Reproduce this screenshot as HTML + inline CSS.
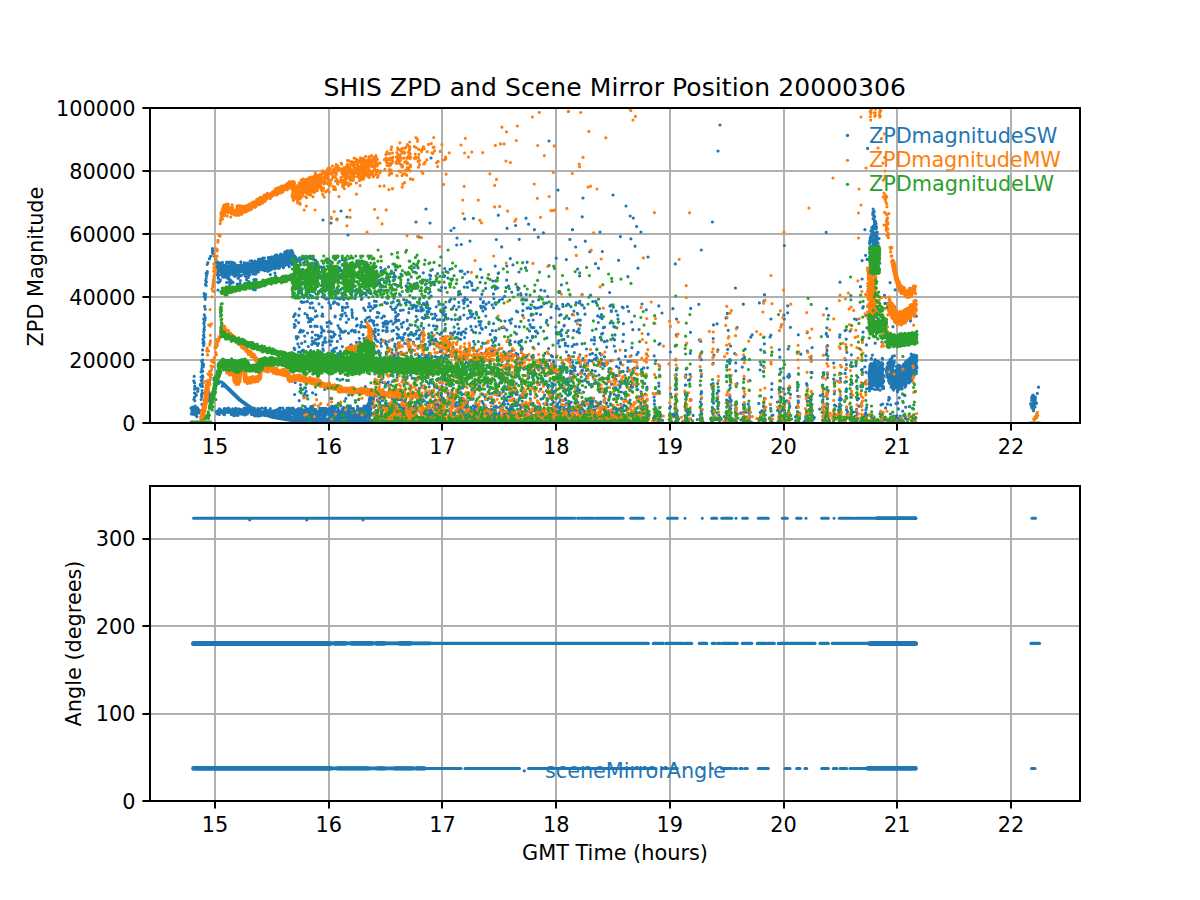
<!DOCTYPE html>
<html lang="en"><head><meta charset="utf-8"><title>SHIS ZPD and Scene Mirror Position 20000306</title><style>html,body{margin:0;padding:0;background:#fff}svg{display:block}</style></head><body>
<svg width="1200" height="900" viewBox="0 0 1200 900">
<style>.t{font-family:'DejaVu Sans','Liberation Sans',sans-serif;font-size:20.83px;fill:#000}.l{font-family:'DejaVu Sans','Liberation Sans',sans-serif;font-size:20.83px}.ti{font-family:'DejaVu Sans','Liberation Sans',sans-serif;font-size:25px;fill:#000}</style>
<defs><clipPath id="ct"><rect x="150.0" y="108.0" width="930.0" height="315.0"/></clipPath><clipPath id="cb"><rect x="150.0" y="486.0" width="930.0" height="315.0"/></clipPath></defs>
<rect width="1200" height="900" fill="#fff"/>
<line x1="215.00" y1="108.0" x2="215.00" y2="423.0" stroke="#b0b0b0" stroke-width="2"/>
<line x1="329.00" y1="108.0" x2="329.00" y2="423.0" stroke="#b0b0b0" stroke-width="2"/>
<line x1="442.00" y1="108.0" x2="442.00" y2="423.0" stroke="#b0b0b0" stroke-width="2"/>
<line x1="556.00" y1="108.0" x2="556.00" y2="423.0" stroke="#b0b0b0" stroke-width="2"/>
<line x1="670.00" y1="108.0" x2="670.00" y2="423.0" stroke="#b0b0b0" stroke-width="2"/>
<line x1="784.00" y1="108.0" x2="784.00" y2="423.0" stroke="#b0b0b0" stroke-width="2"/>
<line x1="897.00" y1="108.0" x2="897.00" y2="423.0" stroke="#b0b0b0" stroke-width="2"/>
<line x1="1011.00" y1="108.0" x2="1011.00" y2="423.0" stroke="#b0b0b0" stroke-width="2"/>
<line x1="150.0" y1="423.00" x2="1080.0" y2="423.00" stroke="#b0b0b0" stroke-width="2"/>
<line x1="150.0" y1="360.00" x2="1080.0" y2="360.00" stroke="#b0b0b0" stroke-width="2"/>
<line x1="150.0" y1="297.00" x2="1080.0" y2="297.00" stroke="#b0b0b0" stroke-width="2"/>
<line x1="150.0" y1="234.00" x2="1080.0" y2="234.00" stroke="#b0b0b0" stroke-width="2"/>
<line x1="150.0" y1="171.00" x2="1080.0" y2="171.00" stroke="#b0b0b0" stroke-width="2"/>
<line x1="150.0" y1="108.00" x2="1080.0" y2="108.00" stroke="#b0b0b0" stroke-width="2"/>
<g clip-path="url(#ct)" fill="none" stroke-linecap="round" stroke-linejoin="round">
<path d="M198.1 409.5h0M195.4 409.2h0M192.6 414.2h0M194.7 410.5h0M192.8 412h0M192 411h0M195.5 408.1h0M194.9 410.3h0M193.3 411.7h0M196.3 410.7h0M194.4 409.3h0M197.2 411.6h0M197.3 408.9h0M195.7 411.7h0M193.5 411.2h0M195.4 411.4h0M190.9 408h0M197.4 412.3h0M194.8 409.8h0M196.4 411.5h0M193.9 408.4h0M193.3 409.8h0M198.2 409.2h0M197.6 408.1h0M192.6 414.2h0M194.5 410.6h0M198 411.4h0M200.1 410.6h0M195.5 415h0M196.6 411.2h0M191.7 408.9h0M194.8 412.4h0M195.9 412h0M195.1 412.5h0M197.1 408.8h0M196.9 409.2h0M196.2 412.6h0M195.2 406.2h0M198 410.8h0M194.4 408.7h0M196.9 416.7h0M193.5 410.9h0M197.5 411.3h0M197.2 412.1h0M197.5 407.8h0M194 411.2h0M198 411h0M199 412.8h0M196.7 413.1h0M194.5 414.3h0M192.6 411.8h0M191.4 413.9h0M194.4 408.3h0M196.8 413.7h0M194 407.1h0M193.2 412.8h0M192.5 407.2h0M197 408.2h0M193.4 411.7h0M194.9 407.6h0M196.2 409.4h0M195.8 409.9h0M197.5 411.9h0M194.7 410.8h0M193.1 409.9h0M195.7 409.7h0M196.9 411.1h0M192.9 407.7h0M196.8 408.8h0M196.7 410.1h0M207.4 272.1h0M206.5 275.9h0M204.7 306.4h0M205.2 317.6h0M204 343.7h0M202.2 367.3h0M206.1 273.4h0M205.2 309.2h0M200.2 384.7h0M201.7 360.8h0M204.3 314.9h0M203 343.1h0M205.2 299.2h0M203.6 335.6h0M215.7 258.8h0M212.5 250.2h0M213.9 255.8h0M213.2 253.9h0M217.1 261.8h0M204.8 296.3h0M205 320h0M196.3 395.3h0M203.9 341.9h0M195.9 394.1h0M197.7 391.3h0M203 363.6h0M204 329.1h0M204.4 296.6h0M202.3 380.1h0M204.1 337.2h0M203.3 340.5h0M206.4 282h0M207 274.3h0M202.1 379.7h0M209.5 258.7h0M197.4 388.3h0M202.6 349.9h0M197.9 391.2h0M203.7 319.2h0M206.1 285.5h0M205.8 280.7h0M207.3 271.7h0M203.3 364.2h0M200.9 386.2h0M212.7 250.9h0M207.9 262.6h0M203.8 334.7h0M202.3 365h0M198 388.9h0M205.5 297.4h0M202.7 360h0M203.2 366.9h0M202.8 371.3h0M216.1 260.7h0M204.4 326.6h0M212.4 252.4h0M205.5 284.2h0M202.5 354.6h0M210.6 256.3h0M212.5 248.5h0M206.1 278.5h0M203.7 345.6h0M207.2 264.3h0M204.1 322.4h0M202.9 339.4h0M204.1 293.7h0M203.9 323.8h0M216.4 262.8h0M201.2 380.6h0M203.6 364.9h0M201.2 371.5h0M205.6 294.4h0M203.8 331.7h0M204.4 329.8h0M203.7 345.5h0M201.9 368.9h0M202.2 362.9h0M202.2 365.6h0M201.5 394.7h0M201.1 377h0M202.2 383h0M202 404.4h0M201.9 393.5h0M202.1 390.5h0M202.2 377.3h0M202.5 375.7h0M201.7 396.7h0M202 384.7h0M202.5 386.5h0M201.1 372h0M201.2 399.5h0M202.5 393.1h0M202.9 377.1h0M193.8 380.9h0M194.5 382.7h0M194.7 388.6h0M194.8 400.6h0M194.5 397.2h0M193.9 399.2h0M194.2 376.3h0M194.6 389.2h0M194.4 393h0M194.8 386.2h0" stroke="#1f77b4" stroke-width="3.2"/>
<path d="M222 269.5L250 268L293 258.5" stroke="#1f77b4" stroke-width="9"/>
<path d="M286.6 263.9h0M284.6 261.6h0M271.2 269.7h0M219.3 263.4h0M279.4 265.2h0M253.7 271.1h0M222 274.1h0M264.6 264h0M235.4 275h0M281.9 264.5h0M281.9 262h0M219.9 272h0M283.7 265.5h0M253.6 270.2h0M277 260.1h0M248.3 269h0M254.6 269.5h0M220.4 263.9h0M221.3 274.6h0M223.8 269.1h0M265.3 268h0M267.6 269.3h0M232.3 267.4h0M239.8 276.1h0M275.4 265.5h0M218.4 268.6h0M252.4 271.4h0M274.6 268.8h0M267.2 265h0M277.6 262.3h0M235.5 276.1h0M250.2 265.9h0M280.2 259.7h0M266.6 268.5h0M258.1 268.1h0M251.3 264.4h0M238.2 274.7h0M268.1 267.4h0M279 265.5h0M250.8 271.9h0M242.7 268.5h0M244.7 262.9h0M276.6 254.9h0M236.1 265.3h0M267.1 264.9h0M229.7 263.5h0M270.3 264.8h0M238.7 274.7h0M248.1 268.1h0M261.1 269.8h0M246.1 270.5h0M251.5 269.1h0M273.4 263.9h0M286.1 257.6h0M241.2 264.7h0M254.7 266.9h0M230.3 274.3h0M251.4 269.2h0M276.6 261.6h0M260.7 260.2h0M252 269.4h0M233.7 274.7h0M291.5 257.4h0M239.8 270.5h0M252.6 269.5h0M248.7 265h0M227.5 272.9h0M279.3 268.2h0M275.5 258.1h0M277.6 259.7h0M220.2 263.6h0M257.5 262.2h0M251.9 260.9h0M282.1 258.7h0M238.9 271.2h0M272.4 261.9h0M256.8 270.5h0M273.5 259.4h0M268.3 257.7h0M289.8 259.4h0M278.6 263.3h0M224.3 276.8h0M273.6 257.6h0M238.1 270.3h0M285.3 257.1h0M233 263.7h0M226 275.4h0M234 263.5h0M241.6 269h0M244.6 266h0M225.8 268.3h0M260.1 269h0M228 262.3h0M293 261.6h0M225.1 275.3h0M267.7 271.3h0M259.4 260.4h0M220.1 268.5h0M252.7 273.8h0M281 265.3h0M232.6 262.7h0M258.4 259.4h0M240.7 266.8h0M228.9 270h0M284.8 265.7h0M259.1 267.5h0M264.3 265.7h0M279.5 258.9h0M278.4 264.7h0M278.4 263.7h0M234.4 275.5h0M221.2 267.8h0M235.8 268.1h0M244 273.7h0M247.5 266.6h0M247.6 271.4h0M288 264.5h0M217.2 269.5h0M229.8 270.2h0M247.1 270.2h0M273.7 260.5h0M234 267.4h0M224.5 269.8h0M246.9 273.5h0M278.1 260.4h0M223.5 265.3h0M237.5 274.8h0M253 262.1h0M254.3 271.3h0M276.5 256.4h0M232.2 266h0M222.3 268.3h0M272.6 263h0M232 262.3h0M250.7 265.2h0M232.6 270.1h0M281.7 255.6h0M255 261.2h0M281.9 263.1h0M226.5 263h0M281.6 256.5h0M288.5 262.2h0M245.7 264.1h0M257.2 270.4h0M222.9 273.8h0M255.1 263.6h0M283.4 267.7h0M220.2 267.7h0M228.7 269.1h0M249.9 268.7h0M228 275.7h0M229 266.9h0M257 271.5h0M287.7 260.7h0M224.1 267.8h0M245.8 272.5h0M219.8 265.2h0M262.4 267.3h0M263 259.6h0M240.4 271.9h0M226.4 267.2h0M287.5 257.2h0M227.9 269.6h0M264.4 258.1h0M271.9 257.3h0M273.2 267.9h0M247.7 267.6h0M280.5 259.2h0M288.1 254.1h0M269 270.7h0M256.2 265.6h0M219.1 266.8h0M274.9 255.5h0M284.2 260.9h0M280.7 254h0M277.1 256h0M260 259.2h0M268.9 267.4h0M234.4 276.1h0M288.6 258.3h0M236.1 267h0M278.8 264.5h0M220.5 264.7h0M268.4 266.8h0M217.8 270.2h0M224.4 270.5h0M253.7 269.4h0M247.5 263.2h0M261.5 269.1h0M262.6 268.4h0M268.7 268h0M288.1 256.6h0M277.5 268.2h0M248.6 266.7h0M291.8 264.4h0M283 262.6h0M272.3 257.7h0M270.2 258.4h0M230.9 267.4h0M267.4 268.8h0M289.2 262.1h0M218.4 262.6h0M227.8 271.8h0M232.3 268.8h0M223.8 276h0M257 270.7h0M283.6 265.9h0M248.3 274.5h0M261.7 266.4h0M258.6 269.5h0M281.5 255.6h0M260.3 268.1h0M226.7 262h0M232.1 267.3h0M270.9 261.6h0M265 269h0M262.2 268h0M290.4 261.1h0M250.1 261.2h0M249.9 265.8h0M288 257.5h0M282.7 261.8h0M282.5 258.8h0M222.4 269.4h0M233.7 265.4h0M276.9 265.5h0M255.7 263.8h0M269.4 264.8h0M244 268.5h0M222.4 262.4h0M282 260.8h0M238 267.7h0M258.4 265.6h0M217.4 275.1h0M290.1 254.9h0M233.4 264h0M248.8 265.1h0M249.1 273.1h0M272.3 259.7h0M240.3 267.4h0M236.4 266.6h0M249.6 275.1h0M221.9 265.4h0M239.5 271.2h0M245.5 266.3h0M219.2 268.2h0M273.8 260.6h0M222.7 277.1h0M284.5 262.6h0M289.9 260.9h0M245.2 275.8h0M231.8 266.9h0M258.4 272h0M223.6 265h0M257.8 267.6h0M280.5 266.3h0M259.7 265.1h0M268.5 263.9h0M235.7 266.5h0M277.2 259.6h0M292 254h0M217.7 272.7h0M241.6 270.1h0M262.1 268.1h0M244.2 262.8h0M234.8 275.4h0M222.3 263.9h0M258.2 271.5h0M240.8 261.9h0M277.2 258.7h0M268 270.4h0M218.9 275.3h0M234.3 263.2h0M227 269.4h0M292.7 253.1h0M258.3 260.1h0M228.8 262.4h0M230.3 262.1h0M268 265.2h0M220.5 271.1h0M267 265.6h0M226.5 263.8h0M280 255.5h0M277.5 255.8h0M249.1 275.1h0M255.6 273.7h0M220.7 269.8h0M282.6 265.8h0M250.8 270.2h0M230.9 271h0M219.8 265.8h0M253.6 273.3h0M271.8 256.8h0M259.7 267.4h0M255.3 274.2h0M289.2 266.7h0M227.1 273.7h0M221.8 267.9h0M235.5 265.2h0M280.3 265h0M271.3 268.2h0M288.5 264.8h0M265.2 266.9h0M283.3 265h0M247.8 266.1h0M240.5 267.3h0M289.8 259.6h0M241.3 268.8h0M231 264.7h0M273.1 268h0M235.9 274.6h0M219.1 268.4h0M232.7 269.9h0M292.1 252.9h0M250.9 264.6h0M274.3 267.7h0M220.5 263.2h0M280.5 261.1h0M253.3 273.8h0M279.9 262.1h0M275.7 263.9h0M258.8 263.5h0M234.8 263.3h0M225.3 265.9h0M228.7 267.4h0M276.3 267.6h0M269.7 257.6h0M232.9 274.4h0M217.5 265.4h0M250.5 263.8h0M292.5 254.1h0M217.1 266.7h0M267.4 262.8h0M273.9 262.3h0M233 267.3h0M267.4 262.5h0M240.1 269h0M220.9 272.2h0M228.2 271.8h0M291.9 260h0M264 270.2h0M277 263.2h0M263.3 267.1h0M240 267h0M267.7 268.9h0M235.6 275.7h0M222.8 270h0M287.9 259.2h0M262.8 258.2h0M238.2 274.4h0M223.4 272.9h0M262.4 259.2h0M222.1 267.5h0M290.2 253.9h0M255.9 274h0M222.1 267.2h0M292.4 259.3h0M259.2 264.3h0M226 269.1h0M258.3 263.3h0M264.2 261h0M268.5 260.7h0M221.6 268.4h0M257.8 265.3h0M235.6 272.3h0M225.7 267.7h0M225.8 266.6h0M232.2 269.2h0M264.1 266.5h0M226.7 273.9h0M223.7 266.7h0M236.8 267.4h0M260.4 259.8h0M272.7 261.1h0M260.3 259.6h0M230.5 267h0M234 263.1h0M286.1 264.5h0M279.7 260h0M241.4 275.4h0M285.6 259.5h0M292.4 257.6h0M292.9 255.7h0M291.7 251.3h0M289.3 255.7h0M290.9 250.7h0M285.7 258.9h0M289.1 255.5h0M285.3 255.3h0M290.8 253.9h0M287 257.3h0M285.3 256.1h0M292.8 252.5h0M288 258.4h0M283.4 254.6h0M286 259.4h0M289.9 251h0M289.7 255.5h0M284.6 258.4h0M289.3 257.1h0M292.8 253.7h0M291.3 251.8h0M292.7 253.4h0M289.5 255.7h0M291.3 252.7h0M283.5 257.8h0M285.9 253.5h0M292.7 254h0M284.8 260.1h0M284.8 252h0M285.8 260.3h0M287.2 255.1h0M284.7 252.4h0M287.1 259.3h0M291.8 256.8h0M291.8 250.6h0M287.3 251.7h0M284 260.3h0M287.8 250.9h0M286.5 254.3h0M286.7 251.2h0M288.3 254.4h0M290.7 259.5h0M285.7 261h0M286.3 260.6h0M287.7 260.4h0M292.1 255.2h0M285.8 260.6h0M287 254.7h0M288 255.9h0M292.1 254.2h0M292.2 257.6h0M286.3 251.9h0M286.4 252.2h0M291.5 253.2h0M285.7 256.6h0M284.2 258.6h0M290.4 258.3h0M287.5 253.5h0M285.7 253.1h0M238.4 278h0M229.3 279h0M228.2 279h0M218.2 278.2h0M244.7 283.6h0M231.1 280.5h0M248.9 281.6h0M229.7 283.7h0M245.9 276.8h0M246.5 279.8h0M229.2 287.6h0M226.6 282.5h0M236.1 288.1h0M233 282.4h0M240.3 280.5h0M231.4 283.1h0M234.4 276.2h0M228.8 276.3h0M251.3 284.3h0M218 290.1h0M220.4 280.1h0M237.5 285.2h0M222.9 276.9h0M217.8 282.1h0M255.3 287h0M253.1 289.3h0M233.3 287.2h0M218.4 282.6h0M255.8 279.6h0M230.4 282h0M245.9 286h0M226.4 277.4h0M235.4 289.3h0M229.7 286h0M238 278.2h0M219.8 281.4h0M255.3 289.8h0M225.6 288.3h0M247.1 286.7h0M229.5 281.8h0M248.3 277.4h0M237.2 284.2h0M253.9 279.5h0M248.1 283.9h0M240.1 283.4h0M264.8 270.7h0M256.2 279.6h0M282 277.1h0M274.9 273.1h0M270.4 274.5h0M268.6 280h0M270.3 274.6h0M275.5 276h0M287 280.8h0M286.6 280.4h0M272.5 280.1h0M262.4 282h0M285.2 280h0M274.4 279.4h0M311.1 257.6h0M297.3 261.4h0M309.7 256.4h0M299.4 257.9h0M299.9 258.6h0M312.5 258.5h0M317.2 262.1h0M313 257.7h0M303 258.5h0M308 256.8h0M313.3 258.1h0M312.7 258.8h0M294.5 263.4h0M307.6 256.9h0M313.9 259.6h0M295.6 261.5h0M309.3 257.1h0M315 260.5h0M310.4 258.6h0M300.1 260h0M311.8 256.8h0M302 258.2h0M596.1 329.1h0M627.4 306.6h0M338.3 268.9h0M481.4 308h0M486.6 350.1h0M326.2 289.1h0M493.3 342.3h0M312.3 341.3h0M346.9 289.6h0M342.3 346.6h0M322.9 348.8h0M437.1 341.8h0M407.8 344h0M415.8 306.2h0M337.7 353.7h0M324.1 330.9h0M419.6 335.3h0M532.5 336.3h0M458.5 294.8h0M540.9 365.7h0M627.7 371.2h0M307.3 315.1h0M437 326.5h0M388.5 266.9h0M298.8 315.4h0M451.5 351.6h0M429.8 344.9h0M368.5 306.9h0M452.9 347.3h0M299.2 347h0M321.8 328.7h0M498.9 349.2h0M404.2 354.8h0M323.3 350.3h0M497.7 287.9h0M467.6 318.3h0M381.7 279.4h0M475.4 290.1h0M391.9 331.1h0M425 318h0M441.6 350.5h0M472.9 290.1h0M341.4 274.1h0M348.7 319.2h0M454 306h0M357.1 358.1h0M495.9 287h0M349.1 357h0M322.1 307.1h0M570.5 370.9h0M298.6 322.7h0M594.1 344h0M515.7 377.1h0M395.6 319.2h0M475.9 326.6h0M361.4 299.3h0M341.5 275.2h0M374.6 305.6h0M480.3 324.6h0M318.2 273.7h0M471.9 285.5h0M392 352.8h0M542.5 381.3h0M480.5 269.3h0M394.6 295.1h0M331.2 323.5h0M386.6 327.3h0M300 278.2h0M632.8 329.7h0M486.1 304.2h0M540.5 314.5h0M335.2 316.2h0M357.5 277.5h0M601.5 314.7h0M481.2 327.9h0M451.1 299h0M551.1 306.7h0M597.3 382.6h0M364.7 356h0M386.5 330.6h0M625.3 381.5h0M368.3 337h0M312.5 319.4h0M308.3 269.6h0M420.1 360.8h0M483.4 368.2h0M373.8 331.6h0M443.9 320.3h0M441.4 356.3h0M522.5 299.3h0M335 334.4h0M512.2 350.3h0M420.9 311h0M377.7 341.5h0M340.6 338.6h0M435.1 329.6h0M343.9 357.4h0M383 323.1h0M426.8 358.1h0M384.9 302.4h0M429 325.2h0M517.7 312h0M345.9 279.4h0M540.1 297h0M346.2 279.2h0M316.2 294h0M534.1 370.3h0M434.9 314.2h0M471.6 283.1h0M303.4 330.8h0M557 373.6h0M386.4 321.4h0M483.5 301.7h0M375 345.5h0M495.9 338.1h0M381.4 339.8h0M388.8 322h0M375.1 338.7h0M315.2 266h0M397.8 305.1h0M451.6 319.3h0M410.4 340h0M446.2 271.6h0M458.5 332.5h0M474.8 318.1h0M452.6 308.6h0M488.7 367.3h0M341.2 270.6h0M415.6 354.5h0M427.1 311.7h0M340.4 319.1h0M521.2 341.4h0M426.8 317.4h0M531.4 384.6h0M467.8 272h0M604.6 365.8h0M538.7 299.8h0M388.1 298.1h0M317.3 297.4h0M334.8 302.2h0M334.9 281.5h0M517.3 364h0M564.3 388.9h0M638.1 352.4h0M430.1 340.8h0M336 298.1h0M299.5 284.6h0M443.7 308.5h0M616.1 311h0M410 302.5h0M597.7 315.9h0M494.7 337.7h0M463.8 303.4h0M300.5 352.1h0M613 338.5h0M477 351.1h0M458.9 306.8h0M548.8 385h0M637.3 367.8h0M445.7 343.8h0M305 313.5h0M571 388.9h0M341.9 297.7h0M507 366.6h0M375.2 329.2h0M550.8 373.6h0M540.9 290.1h0M325.1 337.8h0M397.6 362.6h0M355 286h0M483.5 306.5h0M365.1 346.5h0M331.6 337.5h0M475.4 373.9h0M394.4 275.7h0M408.6 339.3h0M325.3 291.2h0M354.1 355.8h0M310.7 350.7h0M458 362h0M510.8 344.4h0M520.7 293.6h0M431.2 296.1h0M485.6 288.4h0M350.6 345h0M294.9 349.3h0M574.1 344.5h0M413.2 297.9h0M461 334h0M419.3 329.8h0M453.6 369.5h0M482.3 329.2h0M379.5 283h0M525.5 300.1h0M348.5 333.2h0M400.1 285.7h0M509.6 320.4h0M311.6 273.5h0M340.7 354.8h0M477.4 368h0M474.9 368.4h0M491.1 351.2h0M304.7 336h0M535.5 331.3h0M393.6 273h0M457.8 366.4h0M577.8 374.6h0M380.5 284.5h0M311.8 297.6h0M458.8 302.3h0M421.1 363.1h0M344.4 272.3h0M429.6 282.5h0M396 307.6h0M296.3 273.7h0M495.9 375.9h0M329.5 340.8h0M294.5 315.1h0M439.9 319.6h0M472 361.2h0M337.5 303.7h0M296.2 336.7h0M424.9 304.7h0M495.9 375.4h0M330.1 356.7h0M385.7 343.3h0M383.6 316h0M495.8 304.3h0M386 330.7h0M384.6 357.3h0M588.8 374.3h0M416.8 338.8h0M330.5 305.3h0M360 273.4h0M297.9 343.9h0M389.1 359h0M466 329h0M365.3 320h0M508.2 360.3h0M590.6 295.2h0M305.6 352.1h0M458.7 328.5h0M621.3 392h0M408.8 312.7h0M397.6 354.3h0M466.5 351.7h0M369.1 335.5h0M532.5 337.6h0M416.6 331.1h0M377.4 312.4h0M483.4 368.3h0M413.4 342h0M331.9 350.8h0M445.7 314.5h0M352.5 317.3h0M631 355.8h0M390.8 306.8h0M471.8 329.9h0M601.6 334.1h0M400.1 346.2h0M488.9 323.8h0M598.9 390.7h0M504.5 296.4h0M425.3 344.4h0M368 342.8h0M391.2 321.1h0M375.3 306.7h0M523.1 303.9h0M559 309h0M468.9 369.5h0M505 321.1h0M293.7 316.6h0M511.9 376.6h0M373.8 333.9h0M372.7 308.3h0M467.3 299.6h0M307.7 271.7h0M542.3 379h0M489.8 373.2h0M397 334.1h0M311.8 344.5h0M350.8 356.6h0M407.2 287.4h0M483.8 357.2h0M473.7 341.4h0M395.1 355h0M339.1 328h0M511.8 319.1h0M464.9 297.7h0M467.2 356.5h0M639 396.9h0M412.3 308.6h0M396.7 327.3h0M395.8 316.7h0M495.4 340.2h0M526.7 299.8h0M482.6 371h0M383.2 271.2h0M490.2 334.4h0M374.4 279.6h0M335.7 295.7h0M321.9 316h0M400.3 295.2h0M330.7 331.5h0M501.5 379.5h0M306.8 296.1h0M532.7 327.6h0M408.3 301.9h0M342.8 264.6h0M295.3 325.9h0M414 305h0M543.1 379.7h0M409.8 334.3h0M443 337h0M401.3 323.9h0M351.7 295.3h0M547.7 296.5h0M413.1 306.8h0M445.8 355.6h0M356.5 326h0M370.8 337.8h0M392.7 339.1h0M467.5 287.3h0M449.6 301.6h0M425.7 355.4h0M298.3 281.8h0M510.9 323.2h0M495.9 330.6h0M398.1 320.7h0M326 342.2h0M443.2 276.5h0M356 349.3h0M378.5 275.5h0M443.6 320h0M519.1 341.7h0M585 314.2h0M370.4 353h0M293.1 294.2h0M422.9 331.9h0M294.7 349.6h0M510.1 340.7h0M534.3 307.3h0M345 313h0M374.2 325.2h0M370 334.8h0M579.5 332.8h0M348.2 267.1h0M318.2 338.7h0M517.6 368.3h0M530.5 340.8h0M398.6 342.9h0M469.7 281.5h0M474 362.6h0M319 303.9h0M548.5 373.7h0M370.4 310.6h0M531.1 327.2h0M373.8 321h0M428.9 311.6h0M413.2 287.2h0M498.6 319.6h0M331.6 270.9h0M395 354.9h0M322.7 345.1h0M408.7 346.4h0M445.5 307.4h0M432.3 269.6h0M380.8 272.3h0M456.5 309.6h0M432.8 282.3h0M569.5 359.9h0M388.7 341.6h0M310.4 326.4h0M327 322.7h0M351.7 298h0M329.5 341.4h0M407.4 329.2h0M623.2 307.8h0M492.5 367.5h0M336.7 356.3h0M395.7 358.4h0M463 300.3h0M307.8 317.7h0M361.7 322h0M294.3 324.3h0M340.2 329.3h0M298.5 352.1h0M368.4 358.3h0M470.6 302.2h0M386.2 278h0M317.6 345.5h0M351.2 331h0M412.6 350.2h0M602.9 363.5h0M391.9 349.7h0M432.1 337.6h0M601.5 340h0M521.5 340.3h0M297.9 277.9h0M393.6 360.3h0M544.1 303.8h0M363.9 338.5h0M473.8 362.3h0M332.4 274.9h0M444.5 275.9h0M572.2 387.4h0M332.5 284.9h0M464.7 274h0M395.7 269.9h0M328 276.6h0M316.9 352.6h0M411.3 291.1h0M485.8 327.3h0M430.7 275.9h0M490.8 361.1h0M304.2 302h0M501.7 327.6h0M579.9 382h0M330.9 297.2h0M308.3 346.5h0M574.5 369.7h0M516.5 311.2h0M352.3 330.1h0M383.9 270.3h0M533.9 327.6h0M470.3 313.3h0M315.2 279h0M530.6 308.7h0M439.2 347.4h0M521.3 350.1h0M403.5 322.3h0M432.8 318.7h0M448.2 343.1h0M482.9 311h0M433.5 325.8h0M606.7 347.1h0M404.7 343.4h0M504.2 367.3h0M493.9 370.7h0M433.3 363h0M312 279.3h0M372.7 268.4h0M568.7 355.7h0M413.6 343.7h0M392.5 309.3h0M339.6 335.6h0M416.1 307.4h0M492.1 304.8h0M460.6 294h0M409.2 308.6h0M538.1 378.4h0M636.7 374h0M479.8 333h0M422.2 281.8h0M366 341.6h0M427.8 357.8h0M342.1 314.7h0M315.5 289.1h0M321.3 336.1h0M442.5 364.8h0M373.9 278h0M492.5 372.2h0M334.5 351.6h0M398.2 285.8h0M378.4 334.4h0M338.5 282h0M313.7 342h0M606 390.7h0M380.3 353.2h0M571.8 378.3h0M328.8 287h0M492.6 345.8h0M363.8 326.7h0M441.7 364.7h0M403.7 299.6h0M318.1 266.9h0M316 284.7h0M429 336.2h0M556.2 308.2h0M299.8 264.5h0M453.2 333.3h0M405.5 302.9h0M313.5 343.2h0M425.4 291.7h0M298.4 291.9h0M479.5 325h0M423.3 272.8h0M594.3 337.3h0M395.5 312.3h0M416.9 283.1h0M416.3 310.5h0M369.6 320.8h0M495.8 287.4h0M310.9 326.4h0M314 270.3h0M407.2 320.2h0M330.7 308.2h0M480.1 282.3h0M414.3 365.1h0M408 273.3h0M387.4 330.9h0M383.3 294.1h0M546.9 337.9h0M614.3 394.4h0M421.9 283.1h0M378.9 313.1h0M421.3 311h0M542 368.4h0M424.5 347.4h0M459.1 339h0M304.8 276.1h0M359.3 338.3h0M386.7 303.5h0M312 337.8h0M444.2 361.5h0M577.8 380.1h0M493.5 293.9h0M307.1 301.6h0M611 360.8h0M362.5 348.5h0M458.1 367.5h0M366.8 337.8h0M481.9 277.6h0M352.9 286.8h0M495.4 289.1h0M353.4 271.3h0M608.7 371.5h0M366.1 349.7h0M393.1 323.9h0M315.5 335h0M329.5 276.1h0M615 334.9h0M330.4 344.9h0M370.3 283.5h0M447.9 278.1h0M435.5 339.1h0M537.6 307.9h0M378.7 280h0M361 325.4h0M447.9 350.3h0M407.8 357.3h0M302.6 279.1h0M632.7 387h0M533.1 320h0M374.3 284.8h0M464.6 337.6h0M436.3 326.1h0M452.5 279h0M421.2 325.9h0M517.4 287.2h0M544.7 290.9h0M371.3 320.2h0M426.8 287.8h0M305 341.6h0M476.7 314.5h0M410 324.9h0M563.5 377.6h0M566.4 351.9h0M376.9 294.9h0M519.3 326.8h0M333.2 282.2h0M522.7 315.3h0M491.2 368.9h0M315.7 280.6h0M423.4 310.1h0M436.5 357h0M430.7 296.3h0M379.3 353.6h0M398.9 320.3h0M399.8 365.8h0M528.3 307.8h0M552 383.3h0M330.6 355.1h0M338 325.5h0M439 369.5h0M424 318.6h0M572.4 314.6h0M372.6 271.1h0M339.1 290.6h0M355.2 330.7h0M418.2 347.9h0M437.3 343.8h0M565.3 343.2h0M334.8 274.3h0M566.9 367.7h0M317.4 281.1h0M557 306.2h0M532.5 376.3h0M302.9 270h0M425.3 315h0M322.5 284.9h0M377.8 282.5h0M457.3 337.9h0M459.8 373.7h0M481.6 346.7h0M472.6 348.3h0M460.7 339.3h0M351.8 309.8h0M509.5 351.7h0M319.7 337.2h0M303.3 350h0M315.5 339.7h0M310.3 295.3h0M536.5 313.6h0M366.8 265.9h0M382 361h0M528.7 320.3h0M375.9 276.3h0M365 350.5h0M492.3 330.7h0M383.3 326.4h0M320.6 266.9h0M476.2 312.3h0M532.9 301.5h0M455.1 319.6h0M632.6 383.7h0M441.6 287.3h0M546.3 322.6h0M596.9 349h0M393.2 301.9h0M314.8 326.2h0M394.6 346.3h0M426.3 305.1h0M537.8 333.2h0M607.1 340.9h0M434.8 356.6h0M417.1 306h0M473.6 332.1h0M445.4 328.3h0M368.3 270.4h0M330.8 336.6h0M445 368.3h0M397.2 315.7h0M534.4 291.3h0M397.8 353.2h0M565.2 345.3h0M432.7 336.1h0M338.1 267.1h0M427.4 307.5h0M307.8 274.3h0M427.6 347.8h0M560 366.5h0M516.5 333.9h0M506.7 280.2h0M421.4 341.5h0M430.5 343.8h0M535.4 308.2h0M336.4 347.9h0M299.5 308.8h0M410.3 284.3h0M333.9 301.9h0M356.6 318.7h0M315.9 343.4h0M351.4 344.9h0M328.5 331.6h0M561 331.1h0M485.8 316h0M392.3 340h0M484.9 307.8h0M356.2 319.1h0M478.8 321.5h0M333.9 348.8h0M414.3 283.8h0M337.3 341.4h0M498.5 302h0M521.2 348.8h0M351.5 286.1h0M502.4 299h0M428.2 310.6h0M567.4 378.8h0M562.1 363.1h0M360.4 344.2h0M322.5 314.1h0M499 344.6h0M397.4 338.2h0M385.2 321.7h0M340.9 332.2h0M406.2 285.9h0M295.7 288.5h0M342.4 307h0M618.8 395.4h0M401.3 362.9h0M471.6 316.4h0M346.4 322.4h0M361.4 274.6h0M475.8 355.9h0M322.3 330.2h0M427.7 304.7h0M443.3 304.7h0M331.9 290.5h0M356.6 355.4h0M515.3 373.4h0M550.9 366.7h0M465.4 352h0M310.5 321.5h0M497.6 374.9h0M544.1 368.5h0M394.6 309.4h0M398.1 320.4h0M465.6 333h0M296.7 338.8h0M402.8 340.2h0M348.6 319.3h0M444.7 268.6h0M418.2 360.2h0M355.3 331.9h0M393.6 330.3h0M429 341.8h0M333.4 336.7h0M491.4 372.3h0M329.7 293.4h0M452.4 370.6h0M401.9 339.6h0M426.3 283.6h0M337.8 298.3h0M324.4 294.9h0M483.9 358.2h0M352.2 312.6h0M344.2 298.4h0M417.9 368.4h0M344.7 352h0M482.6 343.2h0M381.2 289.9h0M309.6 319.8h0M456.4 337.5h0M331.7 337.1h0M299.7 292.4h0M428.3 357.2h0M293.8 274.4h0M536.3 331.2h0M461.7 332.5h0M424.1 348.7h0M371.9 268.9h0M365.7 321.6h0M364.7 288.5h0M359.7 288.7h0M350.4 284.6h0M601.6 364.6h0M382.5 278.8h0M359.7 272.7h0M387.4 303.2h0M481 321.5h0M419.1 337.8h0M527.1 308.2h0M324.4 341.5h0M551.3 355.6h0M322.7 290.9h0M345.4 331.1h0M541.8 306.6h0M303.2 283.6h0M422.6 279.8h0M546.8 320.4h0M531.1 315.3h0M345.1 352h0M373.4 323.3h0M556.3 333.7h0M340.3 351.4h0M347.8 306.8h0M573.7 330.4h0M627.9 276.7h0M315.2 316.8h0M540.6 327.3h0M611.7 384.2h0M517.9 354.4h0M498.2 273.5h0M333.1 332.1h0M636.6 386.2h0M454.6 331.9h0M445.5 287.8h0M520.1 365.5h0M294.1 348.1h0M312.1 302.9h0M428.6 337.7h0M345.2 266.9h0M470.5 317h0M342.5 310.5h0M434.5 284.7h0M359.6 342.1h0M441 311.6h0M464.3 287.1h0M340.9 315.1h0M503.8 351.9h0M623.2 371.4h0M412.5 305.9h0M375.9 339.8h0M352.1 292.4h0M337.4 267.5h0M357.9 350.5h0M449.7 300.7h0M467 282.9h0M300.6 271.1h0M334.8 355.9h0M459 367h0M365.7 326.8h0M357.3 325.2h0M561.5 335.7h0M356.4 289.7h0M448.1 318.7h0M582.1 294.6h0M437.3 319.9h0M317 326.4h0M568.1 330.5h0M367.1 317.8h0M352.1 315h0M620 386.1h0M308.4 269.1h0M614.5 339.8h0M377.8 276.6h0M310.3 303.3h0M451.7 279.3h0M307.1 278.4h0M328.1 274.3h0M387.7 274.4h0M398.4 329.2h0M302.3 302.4h0M486.5 378.1h0M305.1 286.7h0M295.9 320.4h0M408.9 334.8h0M592.7 301.5h0M307.6 333h0M429.7 275h0M352.1 275.6h0M555.8 327h0M470.9 326.4h0M410 346.8h0M312.9 273.4h0M369.2 303.5h0M449.3 342.4h0M612.5 373.4h0M486.7 342.8h0M422.1 308.3h0M393.2 289.4h0M308.5 322h0M335 316.9h0M522.5 348.6h0M504.2 327.8h0M579.7 390h0M482.8 366.8h0M418 310.6h0M377.3 324.9h0M444 314.9h0M404.1 334.4h0M484.2 361.4h0M375.1 336.6h0M429 288.4h0M622.9 341.4h0M399.6 337.3h0M464.3 301.7h0M430.8 369.1h0M330.3 286.8h0M388.4 290.5h0M590.3 374.5h0M376.7 317.3h0M480.7 306.2h0M318.5 352h0M375.3 331.9h0M363.1 334.7h0M480.5 298.9h0M392.4 355.2h0M575.8 321.1h0M561 314.7h0M324.9 338.8h0M395.3 322h0M341.9 331.3h0M423.3 368.4h0M298.1 336.9h0M308 263h0M408.2 279.9h0M423.9 297.4h0M424.6 357.3h0M373.9 272.5h0M375.7 352.2h0M603.3 327.7h0M434.3 363.6h0M460.1 317.1h0M448.4 346.4h0M382.7 361.2h0M553.1 383.9h0M363 279.3h0M398.3 314.4h0M381.5 270.9h0M436.3 306.8h0M487.4 359.8h0M442.8 358h0M475.3 361.7h0M581.7 304.9h0M369 361.4h0M407.1 320.8h0M315.5 310.9h0M318.1 335.4h0M548.6 348.5h0M586.5 349h0M445.5 317.7h0M385.4 341.2h0M414.7 366.3h0M579.3 302.9h0M395.4 276.6h0M564.4 318.5h0M600.2 337.4h0M325.4 291.1h0M410.7 349.8h0M342.5 308h0M460.2 319h0M577.4 313.4h0M457.7 333.9h0M426.9 302.2h0M444.4 330.4h0M399.4 303.7h0M326.3 355.8h0M322.8 316.2h0M476.6 365.4h0M414.1 284.6h0M340.9 289.4h0M381.3 346.2h0M474.9 344.3h0M559.7 291.7h0M378.6 350.9h0M367.2 284.6h0M433.6 343.7h0M545 353.4h0M579 328.8h0M559.7 315.3h0M311.5 319.4h0M403.2 310h0M411 351h0M433.8 340.7h0M497.8 359.4h0M301.9 350.9h0M373.3 355h0M625.5 350.4h0M509.4 342.6h0M498.6 272.9h0M441.6 332.7h0M440.1 351.7h0M306.1 290.3h0M401.2 353.2h0M365.4 343.6h0M294.3 327.3h0M461.9 271.2h0M582.3 305.1h0M311.9 268.2h0M595.7 301.4h0M324.7 289.7h0M300.6 330.1h0M459.1 319.5h0M421.6 333.2h0M579.8 301.3h0M418.1 267.9h0M430 308.5h0M392.9 294.8h0M329.5 321.7h0M408.5 335.3h0M381.1 339.6h0M586.7 376.4h0M295.5 263.4h0M378.3 330.2h0M572.5 362.2h0M457.9 371.1h0M435.9 361.9h0M589.3 384.5h0M602.6 333.3h0M380.7 343.1h0M397.1 285.4h0M376.3 305.6h0M361.8 294.6h0M327.4 286.5h0M508.5 286.2h0M320.6 278.2h0M369.5 339.2h0M405.1 333.4h0M321.1 326.9h0M408.9 345.5h0M333.8 277.5h0M518.5 343.1h0M431.6 339.5h0M609.6 292.5h0M334.1 283h0M301.7 343.3h0M381.3 290.7h0M362.7 277.4h0M397.6 300.7h0M363.4 284.1h0M461.2 334.8h0M522.9 310.7h0M481.9 294.3h0M460.1 271.1h0M440.6 290.7h0M561.4 284.8h0M387.1 327.7h0M408.3 328.3h0M406.9 358.4h0M418.9 357.8h0M498.5 372.3h0M412.4 334.6h0M442.9 313.5h0M384.4 316.3h0M362.9 270.1h0M319.1 291.4h0M393.5 277.2h0M333.4 303.3h0M395 344.1h0M396.5 320.8h0M382.8 330.6h0M423.6 328.3h0M435.9 315.6h0M430.1 291.8h0M414.8 334h0M559.6 346.6h0M295.4 286h0M419.7 276.5h0M417.4 319.8h0M361.7 349.6h0M479.8 365.9h0M469.5 310.7h0M390.2 356.3h0M417.2 288.2h0M570 359.4h0M301.1 301.8h0M540.2 307.2h0M360.9 280.3h0M538.5 343.8h0M596.6 358.1h0M518 289.9h0M328.9 302.7h0M372 343.3h0M343.5 332.2h0M331.8 341.2h0M312.3 332h0M426.2 307.5h0M341.9 316.1h0M371.8 331.3h0M386.8 344.8h0M618 319.1h0M499.6 300h0M531.4 314.2h0M375.1 293.4h0M363.7 308.2h0M515.1 341.8h0M345.4 307.6h0M321.4 332.8h0M444 311.3h0M376.4 301.5h0M410.8 334h0M414.2 267.5h0M454.1 353.1h0M443.3 361.2h0M419.1 338.6h0M562.8 387.7h0M374.4 301.2h0M327.4 326.5h0M464.3 300.7h0M351 349.5h0M338.6 304.4h0M481.5 353.3h0M515.5 326.3h0M380.7 267.5h0M316.7 354.7h0M483.1 302.7h0M418 348.4h0M506.1 287.6h0M527.2 337.6h0M435.8 340.1h0M582.1 343.8h0M390.1 276.8h0M414.9 272h0M465.5 356.1h0M558.1 343.2h0M398.6 359.5h0M326.4 298.9h0M437.7 273.5h0M445.6 317h0M294.5 266.2h0M369.5 317.1h0M494.6 349.5h0M409.3 363.8h0M419.6 299.6h0M488.9 302.3h0M501.3 358.9h0M519 288.3h0M356.4 346.8h0M303.4 270.2h0M358.9 332h0M423.6 303.6h0M393.9 298.2h0M511.8 292.2h0M444.9 329.9h0M356.4 342.3h0M415.9 333.9h0M396.5 348.3h0M353.3 273.6h0M379.6 355.2h0M416.2 316.3h0M519 272h0M457.7 324.2h0M407.6 291.5h0M392.3 288.5h0M570.5 373.4h0M611.4 311.5h0M493.5 307.8h0M354.4 331.8h0M352.3 357.1h0M346.3 315.8h0M446.5 344.3h0M454.7 371.9h0M302.2 294.4h0M492.5 350.8h0M579.6 275.9h0M316.9 281.7h0M438.6 301.6h0M551 317.7h0M521.2 349.7h0M318.6 343.5h0M301.6 301.5h0M305.9 274.1h0M441.9 363.8h0M410.9 332.7h0M493.9 298.6h0M409.8 361.5h0M295.2 313.9h0M299.1 271.3h0M427.9 313.4h0M302.9 269.4h0M368.4 274.8h0M365.9 355.9h0M413.8 335.4h0M568.7 304.5h0M310.9 318.5h0M340.4 277.8h0M423.6 303.4h0M384.9 324.2h0M495.6 280.9h0M492.7 281h0M473.3 368.1h0M358.9 349.3h0M463.8 331.5h0M450.9 367.2h0M436.7 346.1h0M431.8 332.6h0M436.3 362.7h0M365.1 310.4h0M530 324.6h0M401 274.2h0M554.1 370.2h0M386.6 353.8h0M485.5 309h0M444.4 366.9h0M495.1 302.8h0M315.6 270.4h0M443 342.7h0M385.6 283h0M340 275.4h0M377.9 317h0M408.2 287h0M430.1 279.2h0M313.2 307.9h0M439 304.3h0M472.9 314.1h0M334.3 335.1h0M307.4 301.6h0M428.8 362.4h0M317.1 315.9h0M606.6 383.9h0M386.5 331.7h0M378.4 283.8h0M400.4 310.4h0M615.4 378.8h0M383.1 340.8h0M401.2 337.9h0M533.8 379.8h0M310 307.7h0M430.9 358.7h0M526.2 294.4h0M452.4 335.3h0M374 272.5h0M506.8 329.9h0M395.3 284.5h0M521 295.1h0M420.7 307.3h0M403.2 337.7h0M493.8 286h0M434.6 317.9h0M458.5 292.1h0M566.7 381.9h0M302.4 331.8h0M437 359.9h0M324.5 342h0M381.7 318h0M450 269.3h0M371.4 320.8h0M388.7 351.2h0M508.2 371.7h0M319.6 291.1h0M402.2 275.5h0M439.4 360.7h0M450.5 333.1h0M346.9 303.4h0M401.9 327.1h0M387.5 323.9h0M429.4 353.4h0M421.2 308.7h0M463.9 315h0M329 289.7h0M360.7 327.2h0M382.8 285.9h0M546.7 302.8h0M467.8 305.9h0M299.6 332.2h0M389.5 281.5h0M350.2 273.6h0M366.2 295h0M415.3 325.3h0M580.2 325.1h0M422.3 317.7h0M479.3 369.9h0M444.3 275.6h0M423.5 339.3h0M488.1 353.5h0M493.6 323.6h0M312.5 296.3h0M360.9 325.1h0M431.6 314.2h0M439.8 334.3h0M323 342.6h0M529.5 330.9h0M387.2 275.8h0M308.8 292.4h0M571.1 385.9h0M370.6 306.4h0M398.2 334.9h0M357 265.8h0M343.2 264.3h0M369.3 292.6h0M296.8 264.8h0M322.4 289.3h0M347.4 267.2h0M326.7 290h0M310.2 279.5h0M373.2 281.1h0M372.5 272.3h0M342.8 294.8h0M356.7 293.7h0M311.8 296.4h0M322.4 296.8h0M357.3 273.7h0M363.6 268.5h0M347.6 276.1h0M306.4 271.3h0M318.9 276.4h0M348.3 298.8h0M294.5 269h0M346.3 260.1h0M293.9 296.6h0M338.5 271.6h0M360.7 268.9h0M324.4 285.2h0M298.1 259.5h0M298.2 284.4h0M363.5 261.7h0M300.2 273.2h0M323.3 267h0M337.3 268.7h0M320.1 290.7h0M359.3 290.6h0M344.4 292h0M314.9 290.1h0M350.6 264h0M317.8 294h0M313.1 291.8h0M293.2 288.7h0M334.4 291.1h0M350.8 293.8h0M328.9 293.6h0M317.2 298.5h0M366.1 272.7h0M315 268.1h0M293.8 264.6h0M342.6 297.7h0M293.6 296.5h0M327.1 286.9h0M331.3 278.3h0M342.2 265h0M328.2 283.6h0M369.5 267.9h0M356.7 263.2h0M306.2 292.6h0M339 278.8h0M345.4 280.6h0M355.1 298.4h0M353.3 282.3h0M350.1 288.6h0M372.4 270h0M298.1 266.9h0M355.4 295.3h0M371.1 293.7h0M346.3 263.5h0M352.2 264.4h0M330.2 261h0M362.3 285.5h0M336.9 289.3h0M325.3 281.9h0M367.1 290.2h0M333 278.5h0M302.2 273.9h0M316.1 266.3h0M345.2 294.3h0M294.1 268.8h0M344.4 274.7h0M344.5 273.9h0M352.8 284.5h0M336.4 276.7h0M311.9 263h0M361.7 260.8h0M314.4 269.5h0M359.8 276.5h0M323 287.7h0M355 290.8h0M322.4 270.1h0M323.8 279.2h0M359.7 268h0M320.9 291.2h0M373.3 276h0M343.8 299.4h0M350 268.3h0M366.8 267.4h0M310.7 263.6h0M315.7 260.4h0M363.4 293.5h0M315.1 263.9h0M356.8 260.9h0M342.3 259.8h0M299.5 273.2h0M307.9 271.9h0M334.4 269.1h0M323.9 282.4h0M331.5 272.2h0M362.1 298.4h0M329.4 267.1h0M360 276.3h0M301.7 283.5h0M301.4 259.4h0M305 261.8h0M339.9 268h0M298 296.5h0M374.5 267.8h0M322.5 268.6h0M371.3 269.8h0M303.8 297.5h0M315.1 283.1h0M367.3 286.4h0M340.1 298.9h0M312.7 274.8h0M299.9 291.1h0M304.1 258.9h0M324 267h0M325.8 290.7h0M320.2 274.8h0M346.1 281.7h0M332.4 291.7h0M316.9 265.4h0M367.6 265.2h0M360.5 295.7h0M299.4 288.5h0M299.2 268.9h0M339.4 261.4h0M364.5 284.2h0M314.3 272.2h0M301.9 289.6h0M344.5 260.5h0M324.6 298h0M352.6 270.9h0M303.7 262.8h0M348.6 285.9h0M368.7 268.4h0M314.2 284.3h0M297.3 295.6h0M325.6 284.5h0M370.6 281.9h0M328.3 298.8h0M362.5 293.1h0M323.7 289.1h0M306 271.5h0M356.3 274.4h0M325.3 274h0M341.8 293.1h0M327.9 262.8h0M315.4 264.3h0M365.2 293.4h0M335 259.3h0M339.3 268.1h0M577.8 314.1h0M568 346h0M604.5 327.2h0M613.2 323.1h0M614.9 327.2h0M602 318.6h0M613.3 307.2h0M578.3 320.1h0M610 306.1h0M564 326h0M616.5 366.4h0M628.7 311.3h0M574.3 352.5h0M570.9 306.7h0M580.4 320.1h0M561.9 329.8h0M615.5 351.2h0M628 361.4h0M600.4 317.2h0M567.2 368.5h0M623.5 334.4h0M631.6 322h0M572.2 346.3h0M572.2 371.5h0M563.8 339.4h0M573.9 311.2h0M582.4 370.3h0M598.3 322.5h0M627.7 367.9h0M618.8 358.9h0M639.1 329.5h0M567.9 336.3h0M610.2 322.9h0M576.9 344.2h0M610.9 305h0M577.9 331h0M564.3 325.3h0M631.9 347.7h0M589.4 360.7h0M560.7 334.3h0M563 306.5h0M569 318.6h0M567.8 304.1h0M584.2 307.9h0M613.9 326.7h0M562.7 304.4h0M583.1 358.6h0M620.5 362.3h0M604.3 341.7h0M582.8 360h0M611.3 310.6h0M599.5 308.5h0M622.3 307h0M618.9 367.9h0M594.6 340.2h0M576.2 302.7h0M596.3 303.1h0M556.5 332.4h0M592.2 361h0M558.8 340.7h0M623.4 323.7h0M592.5 353.4h0M614.2 346h0M561.2 368.4h0M591.5 339.9h0M617.7 315.1h0M597 357.8h0M558.1 333.4h0M577.1 331.8h0M605.7 363.6h0M355.4 400.5h0M345.9 398.5h0M299.9 391.8h0M295.2 382.6h0M330.7 398.3h0M303.8 395.7h0M338.4 403.4h0M302.3 378.1h0M300.6 384.8h0M306.1 391.3h0M304.6 387.9h0M300.6 388.3h0M348.8 395h0M315.8 394.6h0M312.6 392.8h0M294.6 394.5h0M365.3 386.7h0M342.7 379.3h0M372.2 393.7h0M305.5 387.9h0M346.7 380.3h0M337.2 379h0M359.1 389h0M304.8 393.4h0M299.2 400.7h0M304.7 379.1h0M311.7 380.7h0M324.7 389.4h0M307.2 395.6h0M356.4 391.8h0" stroke="#1f77b4" stroke-width="3.2"/>
<path d="M223.6 384L225 385.5L240 400L255 410.8L271.7 416.7L291.7 420L374 421.5" stroke="#1f77b4" stroke-width="4"/>
<path d="M245 410.8L270 415L301.7 418.3L340 419.5" stroke="#1f77b4" stroke-width="2.5"/>
<path d="M216.7 412L330 412L368 412.5" stroke="#1f77b4" stroke-width="3.5"/>
<path d="M334.1 415.1h0M366.3 406.2h0M280.3 408h0M326.4 413.8h0M345.8 416.6h0M326.7 408.9h0M228.9 411.5h0M227.6 408.6h0M258.5 408.8h0M279.5 412.2h0M246.8 413.3h0M326.3 409h0M341.4 418.2h0M269.9 414.8h0M324.8 414h0M285.7 413.2h0M256.3 415.1h0M247.6 412.1h0M349.3 418.2h0M279.6 414.3h0M312.7 414.5h0M237.4 414.5h0M365 416h0M281.4 412.9h0M325.8 408.4h0M278.2 411.9h0M289.1 414.8h0M224.3 408.5h0M312.6 415h0M234.3 410.7h0M272.2 413.9h0M253.7 414.6h0M347.4 415.8h0M267.7 415h0M243.7 409.8h0M354 411.2h0M314.8 409.5h0M367.9 415.7h0M350.2 406.9h0M271.9 411.3h0M298.4 408.6h0M256.3 415.8h0M333.6 417.7h0M342.8 418.5h0M347.6 406.1h0M241.9 413.6h0M341.7 417.8h0M255.1 415.2h0M300.9 408.5h0M293.5 409.2h0M308.8 415.6h0M259.2 409.8h0M259.5 415.8h0M313 412.8h0M364.8 415.1h0M238.8 413.7h0M361.4 414h0M242.1 410.8h0M301.8 409.3h0M264.7 408.3h0M304.6 412h0M288.6 413.6h0M274.6 412.6h0M279.1 411.8h0M347.4 414h0M240.8 409.7h0M323.5 415.5h0M361.6 413.7h0M231.7 410h0M340.7 405.9h0M247 408.4h0M314.5 409.5h0M352.1 418.8h0M241.7 414.3h0M318 412h0M275 414.1h0M344.3 408.9h0M290.4 409.5h0M343.7 410.5h0M233.9 415.7h0M273.6 411.3h0M347.6 405.8h0M291.5 408.3h0M262.6 415.1h0M337.7 410.8h0M331.5 413.3h0M296.8 411.4h0M365.1 411.2h0M353.5 410.1h0M245.2 411.3h0M277.2 410.4h0M338.8 412.8h0M272 413.3h0M222.2 410.8h0M357.7 408.2h0M356.6 418.5h0M226 409h0M265.1 415.6h0M334.6 409.1h0M299.6 410.7h0M357.3 412.5h0M279.9 415h0M350.3 405.9h0M224.3 412.1h0M259.6 414.1h0M277.8 409.3h0M236.3 411.4h0M306.8 414.3h0M266.7 413.7h0M335.6 413.3h0M330.2 410.5h0M246.1 410.3h0M322.9 414.5h0M291.7 410.2h0M277.8 413.3h0M306.4 414.6h0M245.2 409.7h0M261.6 408.1h0M236.8 414.2h0M304.4 410.1h0M281.6 411.9h0M225.9 411.6h0M323.1 414.2h0M237 415.3h0M342.2 409h0M312 410.1h0M254.1 409.5h0M274.9 415.5h0M357.8 409h0M347.7 417h0M336.5 405.7h0M307.6 415.7h0M324 409.6h0M350.2 418.3h0M260.6 415.4h0M294.9 412.6h0M313.4 411.5h0M351.7 408.6h0M364.1 406h0M265.6 414.7h0M250.9 409.2h0M288.5 410.9h0M302.9 411.3h0M224.6 411.9h0M281.1 412.1h0M284.5 410.3h0M348.3 409.6h0M246.7 414.1h0M319.9 412.7h0M219.4 411h0M272.8 413.9h0M331.6 414.7h0M330.5 417.1h0M244.9 408.2h0M227.2 409.1h0M305.3 412.6h0M275.6 410.3h0M270.3 415.1h0M294.7 415.5h0M331.4 411.4h0M328.7 409.7h0M224.4 408.9h0M228.5 411.3h0M227.7 409h0M362.3 408.6h0M288 411.7h0M254.6 415.8h0M330.5 407.9h0M341.4 412.1h0M228.2 410.7h0M221.9 410.8h0M282.1 414.8h0M249.1 411.6h0M343.6 407.6h0M344 418.5h0M329.2 408.9h0M279.5 412.7h0M234.3 412.4h0M331.1 417.5h0M323.6 408.3h0M282.9 415.9h0M293.7 413.4h0M255.1 413.1h0M229.7 409.6h0M282.6 413.8h0M345.9 411.8h0M330 408h0M308.2 415.7h0M293.3 408.9h0M277.3 410.6h0M347.9 414.2h0M257.8 408.5h0M302.7 411.2h0M360.5 418.6h0M296.1 415.3h0M335.4 406.2h0M320.3 411.8h0M223.7 411.8h0M349.5 417.3h0M221.8 410.9h0M240.6 409.6h0M333.5 411.6h0M364 409.6h0M333.3 410.3h0M342.6 418.3h0M364.3 414.9h0M284.5 414.1h0M358.3 413.6h0M224.6 413.7h0M278.2 409.4h0M333.2 413.4h0M243.7 410.1h0M268.8 412.8h0M326.6 413.2h0M279.1 408.5h0M294.5 410.1h0M254.8 411.6h0M283.8 413h0M323.7 413.4h0M235.5 414.9h0M244.6 414.9h0M353.4 408.4h0M353.8 412.5h0M328.2 410.9h0M345.1 414.3h0M356.6 410.8h0M220.5 411.9h0M248.6 411.6h0M236.5 414.5h0M326.1 411.3h0M290.1 412.5h0M233.1 411.5h0M274 410.8h0M287.2 414.3h0M361.8 409.5h0M338.1 409h0M279.7 408h0M344.5 417.6h0M333.3 414.3h0M238.5 408.9h0M279.4 408.5h0M364.7 417.9h0M225.7 408.8h0M353.6 416.9h0M358.2 409.3h0M292.2 413.9h0M360.1 417.7h0M334.4 415.6h0M288.8 413.2h0M344.1 411.7h0M322.2 412.9h0M233.4 409.6h0M312.2 413.5h0M217.3 413.8h0M309.1 411h0M324.9 415.6h0M219.4 414.4h0M223.3 413.8h0M349.5 412.6h0M230.6 412.7h0M297.8 409.3h0M348.2 416.1h0M236.7 413.1h0M302.9 412.7h0M291.2 408.7h0M270.3 408.6h0M230.2 412.1h0M297.6 415.8h0M319.8 409h0M297.8 412.1h0M289.2 413.1h0M242.7 411h0M266 413.1h0M252.1 414.5h0M248.5 411.7h0M364.9 417.2h0M309.8 409.6h0M321.6 410h0M244.3 410.3h0M319 413.3h0M292.5 410.3h0M331.1 416.4h0M293.1 411.4h0M280.1 415.6h0M313.3 410.9h0M233.8 415h0M262.1 412.7h0M258.3 415.9h0M321.8 413.2h0M245.5 414.4h0M280.9 415.3h0M296.1 413.7h0M301.5 414.4h0M230.7 411.2h0M337.6 416.5h0M322.4 410.6h0M331.8 406h0M312.7 408.3h0M366.6 415.9h0M354.9 413.9h0M340.3 418h0M224.4 412.7h0M336.5 406.3h0M306.8 409.5h0M331.3 409.3h0M301.7 412.6h0M235.6 413.1h0M270.9 411.7h0M267.9 410.7h0M312.1 413.6h0M234 410.6h0M338.6 410.6h0M228.5 408h0M358.9 410.9h0M254.3 408.2h0M225.1 411h0M266.7 413.1h0M274.6 415.2h0M319.6 412.4h0M328.1 410.4h0M225.8 411.1h0M265.6 408.1h0M297.1 415.4h0M300.5 408.6h0M280.9 415.6h0M360.8 413.2h0M342.6 418.5h0M257.1 413.9h0M296.2 413.6h0M349.8 411h0M266.9 411h0M322.1 408.7h0M269.9 413.6h0M291.8 410.2h0M307.8 411h0M278.8 412h0M342 410.3h0M243.1 409.5h0M366.5 416.1h0M236.6 409.9h0M357.6 409.9h0M347.7 410.3h0M351 418.5h0M224.4 413.7h0M302.4 413.2h0M335 407.3h0M234.3 409.9h0M247.3 414h0M335.5 407.5h0M244.3 413.2h0M267.3 414.8h0M251.6 414.4h0M243.8 408.3h0M359.5 409.8h0M236 413.6h0M255.2 410.4h0M267.1 414.8h0M349.1 406h0M235.4 413.6h0M250.7 412.1h0M358.8 410.5h0M240.7 411.9h0M319.6 408.1h0M247.4 412.9h0M327.4 413.3h0M262.5 413.3h0M337.7 406.7h0M360.1 408.7h0M264.6 409.3h0M238.2 415.2h0M250.2 411.8h0M296.6 413.4h0M256.4 411.7h0M246.3 414h0M235.7 408.3h0M327.1 411.2h0M238.2 414.2h0M250.3 408.4h0M305.4 413.3h0M266.6 412.1h0M296.8 409.8h0M329.6 414.8h0M265.8 413.5h0M279.1 411.6h0M359.6 413.4h0M246.2 409.9h0M297.2 416h0M238.2 414.2h0M310.9 412.7h0M304.9 410.6h0M261.3 412.1h0M307.2 412.6h0M364.6 409.1h0M267.8 415.6h0M342.7 416.3h0M217 411.6h0M280.1 415.8h0M336.1 417.5h0M333.2 406.6h0M266.4 412.2h0M330.8 415.4h0M330.1 411.6h0M248.4 408.4h0M367.7 417.1h0M232.6 408.9h0M300.5 413.6h0M367.2 410.9h0M285.9 411.9h0M356 415h0M267.3 410.7h0M272.4 413.4h0M271.8 411.8h0M279.4 410.3h0M279.3 410.6h0M363.7 407.4h0M233.2 409.5h0M295.9 410h0M257.2 410.5h0M337 411.8h0M293.1 414.2h0M343.7 416.7h0M310.5 415.3h0M278.4 410.9h0M237 411.5h0M268.4 411.7h0M218.9 413.6h0M286.9 408.3h0M277.3 411.2h0M314.9 414.7h0M288.9 408.1h0M260.4 409.1h0M342.1 417h0M219.4 408.9h0M293 408.1h0M358 412.8h0M329.8 413.4h0M306.5 415.4h0M353.2 413.2h0M349 408h0M357.6 406.4h0M315.9 409.6h0M224.3 414.7h0M310.4 414.2h0M231.3 414.5h0M220.5 409.7h0M365.5 418h0M333.5 408.9h0M355.1 415h0M345.1 411.9h0M290.1 415.1h0M280.9 416h0M231.9 411h0M218.2 413.9h0M342.1 415.6h0M218.6 410.1h0M338.7 411h0M313 408.4h0M289.2 412.1h0M362.8 408.4h0M297.7 409h0M224.5 410h0M298 413.9h0M269.6 415.1h0M280 411h0M236.4 409.1h0M298.7 411.8h0M285.6 414.8h0M240.4 411.6h0M354.5 417.4h0M234.4 410.8h0M234 412.9h0M272.9 411.2h0M245.8 412.7h0M308.8 409.6h0M282.6 408.1h0M294 414.6h0M224.9 409.4h0M303.4 410.1h0M244.8 413.2h0M349.8 416.7h0M321.9 408.3h0M218.4 414.2h0M251.8 408.2h0M343.1 412.5h0M304.8 415.4h0M305 413.5h0M316 417.6h0M295.1 418.2h0M365.9 415h0M336.7 413.5h0M373.8 414.7h0M321.7 415.3h0M313.9 419.8h0M305.4 420.9h0M330.8 419h0M361 416.8h0M296.4 415.1h0M369.7 413.5h0M317.2 413h0M316.4 420.2h0M346.2 416.2h0M346.6 415.3h0M303.3 415.4h0M323.1 420.5h0M369.5 419.4h0M305 419.1h0M306.1 418h0M371.1 420.7h0M303.3 413.6h0M324.3 416h0M321 415.2h0M306.4 418.6h0M351.6 420.7h0M361 419.3h0M301.2 417.8h0M346.3 419.6h0M302.4 418.1h0M298.9 417.9h0M330.8 419.8h0M336.9 419.5h0M340.2 414h0M338.7 416.2h0M300.5 418.7h0M370.4 415.6h0M320.6 418.7h0M338.6 414.8h0M356.4 417.3h0M361.3 420.7h0M347.7 419.2h0M349.1 419.9h0M359.4 417.4h0M313.9 414.7h0M352 414.6h0M353.6 417.6h0M343.8 416.1h0M306.8 415.3h0M337 419.3h0M348.8 416h0M335.8 416.2h0M298 414.4h0M306.6 416.2h0M360.9 415.7h0M373.3 420.4h0M335.4 419.4h0M333.5 416h0M318.6 414.7h0M364.1 418.9h0M314.5 413.5h0M362.7 419.2h0M311.8 417.4h0M337.2 415.6h0M358.2 415.9h0M314 415.9h0M340.7 414.1h0M300.8 416.8h0M355 417.3h0M369.5 419h0M352.7 419.9h0M311.3 420.4h0M309.2 419.5h0M302.9 415.2h0M297.8 414.3h0M299.1 415.9h0M314.8 415.1h0M366.4 415.1h0M338.4 413.8h0M339 414.1h0M324.2 419.9h0M361 415.4h0M306.7 420.5h0M363.3 418.3h0M322.7 416.6h0M318.4 417.7h0M313.8 420.3h0M349.1 418.9h0M331.2 414.5h0M295.1 420.8h0M326.2 415.2h0M353.4 415.6h0M337.9 418.8h0M297 413.5h0M334.6 417.4h0M335.6 414.1h0M317.7 413.8h0M351.6 414.6h0M318.3 416.3h0M296.6 419h0M355.8 418.1h0M331.7 420.5h0M361.5 419.3h0M324.9 418.2h0M336.6 414.5h0M361.8 416.9h0M334.7 417.8h0M366.3 420.2h0M316.7 414.7h0M335.3 420.1h0M358.1 418.5h0M361.9 419.6h0M334.3 414.4h0M347.2 420.8h0M332.6 414.4h0M303.6 413.6h0M308.8 415h0M306.6 420.2h0M327.9 418.8h0M337 419.1h0M298.4 416.3h0M344.2 420.4h0M345.7 419.8h0M350.7 416.6h0M341.7 416h0M339.1 417.2h0M350.8 415.3h0M350.4 420.1h0M315.5 418.2h0M304.7 420h0M362.3 419.3h0M337.5 418.3h0M343.3 414.2h0M318.5 414.9h0M351.2 420.8h0M341.6 418.3h0M352.9 413.7h0M337 416.8h0M300.5 413.5h0M332.1 416h0M314.7 420.9h0M329.3 417.9h0M369.2 418.3h0M332.7 415.3h0M361.1 414.4h0M333.1 417.4h0M308.8 418.2h0M371.2 413.8h0M361.6 417.3h0M304.1 418.9h0M361.7 414.1h0M349.3 419.4h0M333.2 413.5h0M323.2 417.6h0M364.2 418h0M354.2 420.1h0M365.9 414.4h0M340.1 414.8h0M300.4 417.6h0M322.2 417.2h0M355.3 413.8h0M350.8 416.4h0M360.4 416.7h0M365.2 419.8h0M353.3 414.9h0M305.4 415.8h0M358.5 415.9h0M363.2 415.7h0M316.9 415.8h0M358.6 417.8h0M310.9 406.7h0M312.5 406.2h0M305.9 409.6h0M307 409.9h0M308.3 409.5h0M310.4 409h0M305.1 406.7h0M307 408.8h0M310.2 407.8h0M308.4 410.5h0M309.8 409.5h0M312.4 411h0M371.4 401h0M366.3 411.4h0M367.9 405h0M370.3 397.3h0M369.3 409.6h0M366.8 411.7h0M370.2 401.4h0M369.4 405.8h0M369.9 399.9h0M369.9 404.7h0M368.5 403.2h0M365.5 409.7h0M371.9 403.5h0M367.2 405.4h0M368.9 406.9h0M369.2 400.2h0M368.6 407.1h0M369.1 404.6h0M367.2 409.4h0M367.2 411.2h0M371.2 396.6h0M373.1 398.5h0M369.4 398.5h0M369.8 407.3h0M368.3 406.3h0M368.7 405.7h0M370.4 395.4h0M367.5 408.8h0M370.3 403.9h0M368.1 410.9h0M370.7 403.5h0M371.3 406.8h0M368.8 405h0M369.8 406.1h0M370 399.5h0M366.8 407.6h0" stroke="#1f77b4" stroke-width="3.2"/>
<path d="M368 415L372.5 400" stroke="#1f77b4" stroke-width="5"/>
<path d="M214 378.2h0M222.8 382.9h0M221.3 381.8h0M222.3 386.2h0M214 380h0M216 380.3h0M219.1 381.7h0M215.8 382h0M217.8 382.1h0M218 380.6h0M223.6 385.4h0M222.9 385.6h0M216.1 382.1h0M218.9 383.3h0M208.4 393.3h0M208.8 392.2h0M207.7 381.4h0M207.3 387.1h0M208.7 384.5h0M211.5 407.4h0M208.1 383.2h0M209.2 382.8h0M211.9 406.3h0M209.3 400.9h0M210.4 394.6h0M209.3 395.9h0M210.4 401.1h0M208.6 398.2h0M439.3 408.7h0M401.3 415.2h0M390.1 420.8h0M503.3 390.8h0M386.9 413.7h0M499.5 418.9h0M410.5 413.9h0M381.6 413.2h0M433.2 406h0M396.6 411.5h0M630.3 421.3h0M577 390.6h0M623.9 420.6h0M571.5 410.5h0M541.9 414.1h0M508.4 409.7h0M598.5 415.9h0M570.5 408.5h0M428.8 405.4h0M502.5 418.3h0M468.1 414.9h0M412.6 418.2h0M425.3 414h0M583.6 366.8h0M576 417.3h0M643.3 410.9h0M530.7 420.2h0M467.6 401.6h0M451.5 412.6h0M512.9 409.6h0M412.6 410.9h0M530.5 394.1h0M521.3 419.7h0M520.2 410.7h0M414.2 406h0M607.9 410.9h0M582.1 413h0M403.9 410.4h0M437 418.8h0M520.2 396.2h0M574.5 396.6h0M568.2 420.9h0M496.5 407.4h0M640.2 421.2h0M543.1 412.9h0M562.9 414.5h0M504.5 404.1h0M600.2 411.1h0M621 409h0M600.5 417.3h0M506.5 419.7h0M475.6 413.5h0M472.3 418.9h0M512.2 412.2h0M438 413h0M588.9 414.7h0M625.4 421h0M579.2 419.6h0M529.3 415.9h0M576.7 411h0M524.9 416.3h0M503.1 420.3h0M582.8 417.6h0M450.9 419.7h0M547 401.6h0M486.2 413.2h0M374.2 407.2h0M641.1 418.9h0M638.9 421.1h0M374.1 420.2h0M514 419.5h0M579.4 408.8h0M562 421.8h0M565.5 417.7h0M414.4 413.3h0M594.2 383.3h0M502.4 420h0M391 420.6h0M550.3 415.8h0M471.2 417.6h0M588.1 416.3h0M568.5 384.7h0M521.9 421.3h0M638.3 407.1h0M545.1 417.4h0M535.3 409.9h0M581.6 405h0M431.1 416.2h0M514 415.1h0M591.2 421.8h0M389.9 412.1h0M454.9 405.9h0M405.7 414.2h0M464.1 406.7h0M401.4 417.6h0M489.9 416.6h0M520.3 409.4h0M473.2 419h0M574.4 415.9h0M617.9 409.2h0M555.6 417.3h0M392.1 398.4h0M483.3 394.8h0M582.2 402.2h0M551.4 417h0M507.5 414.6h0M564.9 419.4h0M473.4 416.8h0M640.8 403.5h0M406.6 419.4h0M599.3 420.2h0M423.4 420.9h0M567.6 389.8h0M578.9 408.8h0M580.5 420.2h0M565.8 399.9h0M598.7 414.5h0M456.9 411.5h0M624.1 421.3h0M436.8 417.7h0M379.5 420.8h0M444.8 388h0M590 401.7h0M412 414.4h0M546.4 417.3h0M402.2 420.4h0M614.9 413h0M512.6 416.7h0M461.4 418.4h0M469.9 416.7h0M585.7 413.2h0M461.2 420.9h0M645.4 413.2h0M392.3 416.9h0M482.7 413.9h0M567.9 408.7h0M482 419.5h0M538.8 411.3h0M405.8 414.4h0M433.4 418.7h0M392.7 390.5h0M486.8 417.2h0M494.3 406.9h0M444.8 421.5h0M466 421.6h0M486.1 419.5h0M637.8 420.4h0M463.5 405.1h0M457.4 416.2h0M406.3 421.3h0M400.4 421h0M563.9 415.7h0M434.8 400.8h0M473.1 413.8h0M386.5 419.2h0M541.7 415.9h0M483.8 408.2h0M415.9 419.3h0M423 399.5h0M409.9 409.8h0M478.4 410.2h0M594.1 415.9h0M552.4 399.9h0M504.8 416.4h0M389.2 420.5h0M611.1 405h0M560 417.7h0M577.6 407.6h0M573.8 412.6h0M597.5 414.2h0M454.9 413.1h0M455.8 410.8h0M532.9 387.9h0M555.1 421.9h0M415.8 396.8h0M447.6 420.4h0M476.8 384.4h0M482.3 394.2h0M485.6 408.4h0M503.3 414.5h0M556.1 398.6h0M530.5 417.2h0M580.6 412.5h0M424.8 416.2h0M441.5 421.3h0M409.3 420.8h0M376.8 415.4h0M568.2 411.8h0M559.7 420.6h0M425.1 410.8h0M591 398h0M588.4 413.7h0M457.7 375.6h0M545.2 413h0M626.1 406.3h0M401.5 418.7h0M424.1 420.3h0M516.2 405.7h0M571.6 409.2h0M640.9 420.9h0M477.5 421.2h0M642.8 411.8h0M376.5 421.6h0M613.4 408.3h0M538.3 413.8h0M544.4 420h0M468.2 419.2h0M441.6 419.1h0M405.8 411h0M512 413.9h0M398.2 418h0M445.4 413.9h0M414.1 393h0M507.9 403.9h0M397.8 411.9h0M391.4 418h0M540.2 408.1h0M404.3 390.8h0M611 418.4h0M631.4 421.9h0M440.8 421.9h0M552.3 419.9h0M513.8 391.9h0M561.7 396.1h0M528.5 420.9h0M526.4 416.1h0M459.8 417.4h0M388.1 418.5h0M490.1 416.8h0M553.9 420.9h0M428.5 411.2h0M406.4 418.5h0M550.7 417.5h0M490.8 417.2h0M387.1 405.4h0M381.4 410.8h0M569.8 420.4h0M415.9 406.1h0M631 421.9h0M466.7 418.5h0M540.7 389.2h0M605.2 421.5h0M572.8 420.6h0M575.6 387h0M591.8 410.5h0M418.1 407.6h0M587 421.2h0M387.4 418.7h0M440.6 420h0M523.1 380.2h0M560.1 418.6h0M437.8 404.3h0M603.6 378.7h0M604.1 408.2h0M624.4 416.3h0M464.5 414.1h0M578.6 419.7h0M413.2 413.8h0M407.5 408.3h0M589.1 406.2h0M476.7 413.5h0M584.7 374.1h0M590.3 421.5h0M623.1 419.3h0M463.3 415.6h0M481.9 416h0M584.8 420.7h0M443.6 421.4h0M572.6 419.9h0M569.9 413.9h0M548.8 418.4h0M428.8 417.3h0M560.4 417.5h0M395.9 414.2h0M489.2 414.9h0M478.1 413.7h0M464.7 404.4h0M375.8 413.5h0M412.2 420.4h0M385.5 402.8h0M472.3 397.9h0M382.9 416.4h0M409.2 419.1h0M385.3 408.3h0M387.6 395.2h0M471.6 419.1h0M415.1 419.4h0M383.3 421h0M495.3 417.6h0M472 413.2h0M496.6 418.4h0M529.5 411.4h0M557.6 405.2h0M613.8 418.8h0M541.3 412.4h0M640.8 415.8h0M568.8 412.5h0M495.5 406.8h0M381.2 420.2h0M511 411.5h0M484 404.9h0M621.5 421.6h0M402.7 392.5h0M526.6 404.3h0M426 417.6h0M507.7 419.2h0M439.9 415.2h0M509.8 416h0M515.4 420.3h0M603.2 418.9h0M542.6 410h0M478.3 410.7h0M432.1 390.9h0M487.3 412.2h0M542.3 414.7h0M401.9 421.3h0M470.7 421.6h0M405.6 411.3h0M528.9 408.8h0M596.5 421.2h0M518.3 416.8h0M445.5 418.6h0M464.5 420.2h0M594.7 420.9h0M440.9 413.3h0M527.7 421h0M483 403.1h0M389.1 403.7h0M582.7 421.6h0M591.7 402.1h0M401.1 419.7h0M462.2 418.8h0M457.8 396.3h0M554.5 414.5h0M515.3 413.9h0M593.6 416.6h0M378.2 410.7h0M570.8 419.1h0M385.7 406.8h0M560 413h0M461.9 394.7h0M554.2 415.3h0M450 413.6h0M608.9 418.7h0M421.2 399h0M636.1 409.1h0M635.6 418.6h0M377.8 412.8h0M535.9 417h0M512 406.8h0M636.7 417.8h0M496 406.1h0M498.7 415h0M620 409.1h0M453.7 414.4h0M496.4 421.2h0M533.7 415.3h0M527.6 421h0M534.1 410.6h0M386.1 419.4h0M624.3 418.5h0M511.4 420.3h0M554.9 421.2h0M491.7 409.4h0M475.2 415.3h0M553.4 402h0M458.4 421h0M428.4 413.9h0M499.2 413h0M568.9 406.2h0M599.6 421.9h0M536.7 412.1h0M575 403h0M588.7 420h0M414.6 382.5h0M523 421.3h0M470.7 407.3h0M564.4 414.9h0M566.5 409.6h0M573.1 418.5h0M624 410.8h0M508.9 410.4h0M541 399.1h0M536.3 408.7h0M437.9 419.8h0M483.5 421h0M462.7 419.7h0M402.3 401.9h0M571.3 421.8h0M588.6 414h0M393.7 407h0M455 398.9h0M440.4 408.9h0M463.7 414h0M394.6 399.2h0M559.5 402.1h0M517.1 404.9h0M594.7 409.9h0M469.9 421.7h0M564.9 409.3h0M485.4 406.7h0M440.3 398.8h0M572.6 410.7h0M442.9 414.2h0M554.6 391.6h0M622.1 419h0M526.9 419.2h0M427 418.9h0M582.4 381.2h0M425.3 411.1h0M584.8 405.7h0M639 416.6h0M486.5 408.2h0M388.1 414.4h0M461.3 414.4h0M533 403.3h0M418.1 402.8h0M400.7 419.3h0M488.3 415.3h0M421.8 386.2h0M439.2 410.9h0M644.8 383.5h0M622.9 419.4h0M537.1 406.9h0M423.7 414.7h0M583.5 392.2h0M476.5 420.5h0M425.3 421.9h0M374.6 391.6h0M603.1 418.1h0M553 420.9h0M397.4 421.9h0M519.7 418.9h0M545.1 418.8h0M561.8 420.7h0M553.6 402.3h0M543.9 411.2h0M632.5 411.6h0M436.2 417.5h0M484 420.7h0M560.3 418.6h0M374 391.2h0M457.3 420.9h0M390.8 416.9h0M571.7 407.6h0M575.9 419.6h0M503 380.7h0M552.8 413.3h0M507.7 386.7h0M641 419.1h0M640 416.6h0M377.3 400.2h0M529.3 419.8h0M481.3 417.9h0M569.9 418h0M423.3 414.1h0M504.5 400.1h0M400.9 415.9h0M507.8 382.1h0M395.1 412.4h0M605.2 413.8h0M448.2 394.9h0M460.3 408.7h0M438.1 420h0M539.1 412.4h0M622.6 415.3h0M490.6 402.5h0M553.1 417.7h0M575.9 420.4h0M486.5 421h0M394.6 414.7h0M462 419.7h0M496.1 392.5h0M441.8 401.8h0M491.3 411.5h0M620.1 384.9h0M532.1 410.5h0M504.3 403.9h0M473.2 398.4h0M538 421.8h0M483.9 409.2h0M461.5 398h0M531.4 420.7h0M431.4 417.6h0M479.9 387.1h0M421.6 405.4h0M389.1 407.6h0M469.8 416h0M497.2 394.9h0M466.8 419.6h0M440.2 418.6h0M465.4 412.1h0M635.3 413.9h0M636.8 412.9h0M450 416.4h0M393.3 405.2h0M455.4 403.9h0M616.4 421.1h0M560.2 407.8h0M530.9 419.5h0M514.5 392.9h0M482.2 411.5h0M551.4 420h0M416.1 407h0M617 412.7h0M618.1 409.9h0M375.8 393h0M400.8 412.4h0M377.9 415.6h0M392.3 421.5h0M571.6 419.4h0M624.1 405.4h0M554.8 391h0M462.8 415.5h0M433.3 407.1h0M590 410.9h0M620.2 414.2h0M566.2 384h0M422.6 421.1h0M561.4 406.1h0M467.5 410.6h0M550.7 413.5h0M497.9 394.5h0M409.2 418.7h0M559.9 408.1h0M468 419.4h0M549.9 395.4h0M431 413h0M398.3 421h0M546.9 418.8h0M401.7 406.8h0M583.7 413.4h0M550.1 421.8h0M443.8 418.3h0M474 420.9h0M524.4 420.3h0M405.2 412.6h0M492.6 421.3h0M417.7 418.8h0M425.1 413.6h0M615 421.8h0M454.5 415.6h0M505.6 398.7h0M554.1 372.4h0M556.7 414.3h0M574.7 417.7h0M458.1 410.1h0M532.9 421.3h0M524.2 415.6h0M503.6 421.9h0M387.1 404.1h0M418.2 410.1h0M444.1 417.1h0M466 408.8h0M574.3 417.6h0M485.3 418.7h0M384.2 406.2h0M604 400.3h0M484.6 407.8h0M472.7 399.2h0M401.5 399.3h0M553.1 418.3h0M529.8 421.2h0M607.2 418.9h0M421.2 413.7h0M467.1 403.5h0M628.2 418h0M508.7 422h0M549.4 413.4h0M406.6 421.2h0M472 383.4h0M420.9 404.2h0M599 418.4h0M506.7 416.3h0M483.4 420.5h0M515.4 415.3h0M394 418.8h0M474.6 418.4h0M616.5 421.8h0M556.4 415.3h0M487.8 409.3h0M606.7 403.2h0M429.1 415.5h0M477 419.7h0M429.1 421.6h0M378.1 414.7h0M525.3 411.2h0M569.6 404.4h0M493.9 410.2h0M395.1 390.2h0M527.5 419.4h0M456.4 402.5h0M459.4 411.9h0M516.3 394.3h0M441.6 405.9h0M579.2 419.5h0M535.2 373h0M604.3 420.2h0M552.7 398h0M609.5 410.9h0M597.9 414.3h0M432.2 417.4h0M643.6 417.5h0M453 421h0M464.3 399.9h0M540.7 415.7h0M413.6 416.2h0M580.4 415.4h0M488.6 413.7h0M587.3 382.2h0M557.4 412.3h0M443.6 418.9h0M612.6 405.4h0M598.7 414.4h0M451.8 382.6h0M621.2 414.8h0M427.3 417.7h0M455.8 421.1h0M504.5 414.4h0M506.3 407.5h0M566.3 417.1h0M428.3 392.5h0M645 404.4h0M467.4 415.2h0M523.1 392.6h0M447.8 392.9h0M538.7 418.3h0M606.7 411.3h0M621.3 419.7h0M511 394h0M545.4 375.7h0M385.1 414.3h0M500.7 410.2h0M401.3 413.6h0M462.6 420.5h0M501.8 420h0M573 420.9h0M531.2 412.7h0M456.2 396.9h0M600.4 403.8h0M431.9 402.4h0M526.6 418.5h0M409.6 402h0M577.8 402.3h0M494.4 417.7h0M636.5 408.8h0M462.6 420.8h0M544.1 421.2h0M590.5 421.7h0M430 419.9h0M487.8 416.7h0M409.3 406.6h0M594.8 412.2h0M596 406.5h0M582.1 420h0M639 415.8h0M400.1 415.4h0M420.2 357h0M477.5 416.1h0M386.1 413.5h0M489.9 418.5h0M543.2 413.5h0M479.8 408h0M411.8 407.6h0M615.2 408.1h0M476.7 414.9h0M506.3 418.7h0M557.5 415.2h0M559.9 418.5h0M441.8 421.1h0M630 400.1h0M592.3 402.7h0M542.3 421.3h0M506.7 400.4h0M449.4 398.1h0M513.9 400.2h0M581.3 416.8h0M449.5 404.7h0M558.9 420.5h0M565.3 398.8h0M450.6 411.7h0M634.3 368h0M524.7 412.8h0M452.1 412.6h0M545.3 416.4h0M478.5 411.1h0M509.1 418.1h0M555.3 420.4h0M627.8 413.3h0M375.8 410.6h0M506.8 418.1h0M383.5 408.5h0M447.4 411h0M398.2 410.1h0M453.7 419.4h0M453.1 413h0M560 409.8h0M522.3 401.1h0M406 405.6h0M430.2 409.9h0M545.9 417.9h0M430.4 409.7h0M409.2 409.6h0M573.4 407.8h0M466.6 395h0M626.3 415.1h0M609.6 413.4h0M449.8 409.2h0M552 408.6h0M593.3 413.4h0M485.5 379.3h0M577.8 396.2h0M548.2 398.8h0M409.5 411h0M540.8 413.5h0M574.9 418.7h0M608.8 400.2h0M608.7 416.4h0M494 419.3h0M615.1 420.1h0M605.7 412.4h0M402.1 407.3h0M601.7 421.4h0M502 418.2h0M513.1 405.9h0M531.1 421h0M431 362h0M375.4 405.9h0M381.9 412.6h0M632.5 413.5h0M448.8 401.5h0M573.1 421h0M487 413.6h0M438.5 412.6h0M553.1 393.7h0M532.3 404.4h0M425.1 421h0M500.2 419.6h0M608.6 415.9h0M596 413.8h0M454 417.1h0M421 418h0M593.3 406.4h0M391.9 405.4h0M518.2 415.2h0M416.9 418.6h0M592.4 420.9h0M602.8 417.7h0M616.9 396.1h0M563.1 400.6h0M530.1 420.7h0M498.8 416h0M378.9 418.8h0M597.5 406.2h0M395.3 408.9h0M406.1 406.5h0M435 407.6h0M472.5 409.5h0M436.8 419h0M489.7 421.3h0M579.5 405.1h0M640.4 420.8h0M616.6 411.2h0M395.8 407.9h0M545 421.2h0M569.2 393.5h0M470.6 410.8h0M377.7 382.8h0M581.8 371.8h0M574.3 418.7h0M419.1 418h0M502.9 420.4h0M386.3 419.2h0M448.6 410.2h0M506.8 408h0M513.9 399h0M486.2 419.7h0M644 414h0M631.2 387.1h0M549.4 416.9h0M557.7 420.5h0M416 415.4h0M578.5 416h0M546.1 381.4h0M591.3 414.9h0M547.6 385.7h0M560 407.3h0M408.9 404.3h0M422.5 401.4h0M458.6 405.9h0M384.3 421.7h0M379.6 408.6h0M546.8 414h0M468.5 412.4h0M641.7 418h0M565.9 412.6h0M495.6 414.2h0M534.4 410.7h0M374.1 421.7h0M460.3 389h0M625.2 418.1h0M430.4 408.8h0M598.9 417.3h0M570.6 415h0M460.4 414.2h0M518.9 419.4h0M632.8 412.4h0M470.5 419h0M465.1 401.7h0M411.4 413.1h0M594.8 413.1h0M377.8 420.7h0M536.6 416.9h0M517.5 413.9h0M483.2 414h0M391.1 407.6h0M432.5 419.6h0M551.3 417.8h0M561 406.2h0M484.8 420.6h0M390.7 384.8h0M448.7 410.4h0M564 407.7h0M506.1 416.8h0M591.2 411.6h0M451.9 418.4h0M528.7 411h0M437.3 414.2h0M437.4 416.2h0M617.3 417.8h0M615.8 417.5h0M547.2 404.4h0M552.7 394.4h0M402.9 421.5h0M641.1 391.9h0M462.4 411.6h0M599.9 418.4h0M527.9 416.3h0M494.4 416.6h0M585.8 419.3h0M477.3 355.5h0M556.5 406.5h0M569.9 414.3h0M500.2 416.2h0M612.1 412.5h0M536.9 396h0M443.6 398.8h0M499.4 407.2h0M644.4 405.7h0M610.1 413.5h0M556.5 412.9h0M612.2 419.7h0M433 413.4h0M443 398h0M485 406.2h0M415.9 421.3h0M464.9 414.5h0M522 414.9h0M459.5 401.6h0M613.4 415.2h0M402 416.3h0M528.1 415.8h0M416.8 418.3h0M537 415h0M384.9 394.1h0M479.1 413.4h0M570.5 408.2h0M403.8 419.3h0M468.5 416.9h0M587.9 412.3h0M581.6 421.6h0M511.3 411.7h0M417.9 409.5h0M526.4 413.5h0M646.4 416.7h0M422.7 419.6h0M567.9 381.9h0M493 403.2h0M571.3 407.3h0M563.7 415.7h0M479.6 421.4h0M509.8 409.7h0M549 416.3h0M547.7 416.6h0M596 420.1h0M498.2 414.3h0M538 408.6h0M413.3 416.4h0M511.9 393.4h0M505.2 414.3h0M470.2 399.5h0M439 405.6h0M438.7 409.9h0M635.9 415h0M550.3 419.3h0M454.5 420.3h0M544.1 420.9h0M463.6 405.3h0M399.2 413.7h0M477.1 414h0M502.9 416.2h0M540.9 410.2h0M549.3 420.9h0M402.9 416.6h0M508.2 421.6h0M427 418.9h0M461.4 406.3h0M403.5 421.4h0M462 418.9h0M629 421.3h0M514.1 421.6h0M435 404.4h0M423.8 412.8h0M379.8 402h0M396.3 412.7h0M397.7 408.5h0M559.3 408h0M475.9 416.5h0M491.9 413.2h0M583.8 418.5h0M441 419.4h0M466.3 420.3h0M536.4 415.6h0M610 419.2h0M611.8 416.5h0M537.5 417.7h0M454.9 413.2h0M414.8 394h0M569.3 417.2h0M462.1 410h0M424.2 413.8h0M608.1 420.1h0M609.6 420.6h0M378.7 393h0M590.4 404.1h0M584 421.8h0M580.7 416h0M534 417.3h0M425.1 421.1h0M531.4 421.5h0M499.8 418h0M481.5 394.2h0M510.2 420.1h0M544.2 417.9h0M448 418.7h0M493 417.9h0M529.9 412.1h0M575.1 422h0M499.9 392.7h0M510.3 415.3h0M627.5 420.6h0M430.4 402.9h0M405.2 421.5h0M558.9 411.4h0M524.7 421.3h0M590.3 420h0M608.1 406.6h0M546.1 416.5h0M647 407.1h0M576.2 404h0M570.4 409.8h0M401.6 404.7h0M565.4 416h0M646.8 416.6h0M380.5 397.5h0M569.6 419.1h0M449 416.9h0M491.7 421.7h0M543.9 403.8h0M541.2 420.2h0M552.3 421.1h0M543.7 418.1h0M415.6 411.8h0M416.6 409.4h0M436.3 404.8h0M374.4 412.3h0M586.9 415.9h0M520.6 419.4h0M485.3 409.8h0M614.6 416.6h0M398.2 397.5h0M565.6 420.6h0M505.8 419.2h0M573.3 409.2h0M596.9 414.2h0M447.9 420.3h0M521 421.4h0M555.8 411.1h0M574.5 368h0M499.4 417.7h0M498.8 421.5h0M572.5 419.4h0M533.6 417.3h0M514.1 420.2h0M474.9 418.4h0M574.6 415.3h0M376.4 419.7h0M419 418.7h0M579.2 411h0M638.1 420.1h0M578.6 421.9h0M558 397.4h0M475 410.2h0M591.4 410.1h0M605.2 420h0M489.3 418.8h0M419.6 419.7h0M471.9 416.6h0M622 417.5h0M525.1 410.2h0M410 408.3h0M443.1 399.4h0M487.1 420.4h0M530.9 412.6h0M446.3 384.3h0M507.3 413.3h0M635.9 411.8h0M643.9 420.1h0M392.8 405.4h0M417.7 417.2h0M548.6 421.5h0M575.4 407.5h0M529.9 390h0M629.2 377.5h0M460.7 417.9h0M495.6 412.4h0M504.4 421.4h0M470.3 421.8h0M464.8 414.7h0M415.2 417.8h0M639.9 413.7h0M606.5 403.6h0M382.5 400.6h0M536.8 415.6h0M481.2 415.3h0M465.7 402.6h0M589.1 408.7h0M408.6 418.7h0M419 390.6h0M451.8 417.6h0M379.3 405.9h0M439.9 389.9h0M488 413.4h0M484.2 406.7h0M417.3 421.9h0M586.9 415.7h0M395.1 406h0M497.9 414.8h0M473.9 416.4h0M445.3 421.3h0M586.4 401h0M592 416.2h0M550 421.2h0M441.4 418.1h0M455.6 406.2h0M398.4 418.6h0M622.2 419.3h0M395.5 405.8h0M518.9 420.8h0M452 390.7h0M511.1 416.2h0M646.5 406.2h0M592.8 400.7h0M431.8 411.1h0M397 377.8h0M568.5 395.2h0M584.2 410.8h0M398.5 413.1h0M451.1 415.2h0M460.3 403.4h0M604.9 418.7h0M475.1 411.1h0M386 418.3h0M620.8 404.3h0M565.5 390.7h0M381.4 420.2h0M420.6 419h0M598.5 386.8h0M578.9 414.5h0M552.3 421.2h0M514.8 411.2h0M474.9 405.9h0M514.4 413.3h0M595.1 419h0M485.8 408.8h0M500.7 419.4h0M389 419.2h0M495.2 412.4h0M585.5 416.2h0M615.5 408h0M524.9 394.8h0M612.3 411h0M429.8 421.9h0M459.5 399.9h0M510.3 418.1h0M474.8 419.4h0M441.1 396.7h0M457.4 363.1h0M487.3 416.5h0M477.5 414.4h0M578.2 409.3h0M472 417.9h0M461 382.5h0M493.8 414.5h0M554 406.5h0M475.6 419.8h0M447.7 392.8h0M394.8 401.6h0M381.4 415.3h0M502.6 404h0M404.2 415.1h0M542.7 398.6h0M471.7 417.8h0M433.2 391.4h0M593 410h0M544.6 395.1h0M558.8 421.7h0M441 394.6h0M379.7 398.6h0M490 418.6h0M568.6 388.7h0M641 402.9h0M441.1 400.9h0M413.4 415.3h0M432.1 419.8h0M499.5 395.5h0M621.5 411.4h0M460.8 416.9h0M443.2 403.1h0M546.1 404.5h0M504.2 420h0M382.1 396.3h0M503.4 391.6h0M556.8 410.8h0M595.3 414.8h0M572.9 416.4h0M402.7 401.2h0M471.3 417.2h0M587.9 408.9h0M517.2 405.1h0M434.3 404.5h0M538.6 419.4h0M419.6 417.7h0M406.6 421.2h0M467.5 418.4h0M492.4 393.3h0M600.1 414.1h0M522.2 420.2h0M513.8 405.4h0M419.4 403.5h0M477.2 366.7h0M582 370.6h0M452.3 395.9h0M605 389.1h0M510.4 408h0M575 370.7h0M506.8 371.8h0M628.5 383.7h0M576.4 362.8h0M517.2 402.8h0M508.5 355.8h0M533.9 373.1h0M414.8 393.7h0M480.3 357.7h0M502.8 409.8h0M375.3 390.3h0M482.6 360.2h0M511.7 356h0M582.1 370.1h0M596.9 360.2h0M394 357.4h0M476.9 407.1h0M547.5 364.1h0M597.3 359.9h0M426.8 381.7h0M625.4 356.4h0M478.1 361.4h0M414.8 405.4h0M548.8 391.3h0M468.2 363.3h0M563.8 364.8h0M490.9 359.9h0M449.5 380.9h0M402 394.6h0M615.7 387.6h0M551.9 404.1h0M405.2 401.7h0M414.2 393.1h0M595.3 371.1h0M383.3 361.3h0M398.8 391.7h0M624.8 375.7h0M637.8 389.6h0M529 377.5h0M567.4 384.4h0M401 352.2h0M419.4 388.4h0M408 357.5h0M549.5 360.5h0M482.3 401.4h0M601.2 355h0M408.2 372.1h0M463.3 398.6h0M392.4 381.5h0M501.6 382.7h0M437.5 387.9h0M475.4 363.7h0M509.2 372.7h0M385.6 383.8h0M404.5 393.5h0M599.9 353.3h0M397.4 375h0M510.1 396.7h0M451.8 404.7h0M626.1 393.8h0M461.7 378h0M422.2 354.4h0M625.4 399.5h0M406.1 359.1h0M402.1 362.4h0M399.7 372.4h0M624.3 380.9h0M600.7 402h0M631.6 374.1h0M573.8 374.3h0M456.5 363.9h0M417.5 400h0M599.9 408h0M516.1 353.4h0M633 369.3h0M548.2 387.6h0M517.8 402.1h0M464.5 364.5h0M571.7 373.4h0M466.6 381.7h0M435.8 399.8h0M551.9 393.8h0M449.6 370.9h0M451.9 370.7h0M484.4 369.3h0M479 408.8h0M459.1 386.3h0M533.7 375.7h0M390.4 375.2h0M418 379.5h0M449.4 355h0M487.8 386.4h0M477.8 404.3h0M553.1 365.9h0M564.7 409.7h0M569.7 378.2h0M397.7 357.5h0M402.5 408.4h0M568 404.6h0M398.1 357.4h0M424.9 388.4h0M402.1 397.4h0M410.9 393.6h0M445.9 390.8h0M575.3 409.4h0M533.1 355.3h0M438.2 378.5h0M418.7 393.4h0M464.4 394h0M418 399.4h0M603.7 395.9h0M483.3 380.2h0M630.7 361.1h0M405.4 407.5h0M381.8 373.2h0M595.2 380.2h0M519.6 362.9h0M543.6 359.8h0M417.5 378.4h0M487.3 399.7h0M388.3 382.1h0M487.5 373.7h0M424.3 400.9h0M378.9 353.1h0M522 387.3h0M590 354.3h0M521.9 406.9h0M492.4 352.2h0M428.2 373.2h0M405.4 375.6h0M497.7 368.3h0M506.9 364h0M388.4 406.6h0M520.8 395.5h0M411.3 356.1h0M461 392.5h0M449.1 370.2h0M621.1 398.2h0M451.8 403.1h0M516.3 383.6h0M489.7 393.8h0M483.6 408.9h0M491 397.9h0M376.1 383h0M526.2 395.7h0M439.9 400.1h0M560.2 384.8h0M467.3 407.2h0M424.5 361.7h0M450.9 385.8h0M379.6 382.4h0M458.7 405.7h0M519.3 398.5h0M383.5 366.2h0M595.8 355.1h0M491.4 379.4h0M557.6 378.3h0M615.3 408.9h0M386.4 369.6h0M507.7 389.4h0M632.6 380h0M470.8 385.1h0M417.6 354h0M382.7 378.3h0M609 368.8h0M422.3 396h0M445.6 366.2h0M479.1 364.5h0M622.1 371.6h0M427.5 402.4h0M507.7 369.3h0M599 406.9h0M629.3 402.4h0M595.9 401.6h0M380.2 356.6h0M529.9 403.8h0M374.7 396.2h0M418.9 356.1h0M380 361.5h0M593 374.5h0M620 387.2h0M392.9 400h0M470.5 397.5h0M502.6 376.1h0M458.6 369.2h0M516 373.5h0M397.9 399.7h0M616.8 375.6h0M502.3 377.6h0M588.4 382.1h0M381.7 373.8h0M461 357h0M523.2 356.6h0M506 373.8h0M581.1 372.3h0M591.4 386.8h0M600.6 366.2h0M460.1 405h0M381 368.7h0M450.3 362.7h0M535.2 367.4h0M447.5 382.9h0M443 399.1h0M460.3 400.8h0M473.6 383.8h0M456.7 406.1h0M448.1 403.9h0M450.5 383.9h0M402.3 401.8h0M405.1 381.2h0M411.5 356.4h0M430.4 380.2h0M421.9 395.5h0M530.3 398.8h0M530.7 404h0M395.6 410h0M503.4 402.5h0M384.1 397.2h0M414.5 378.4h0M541.8 362.8h0M386.2 404h0M465.3 378.8h0M527.1 355.7h0M502 379.2h0M577.7 387.9h0M412 395.7h0M466.9 406.2h0M466.1 362.3h0M389.7 407.2h0M393.6 366.2h0M565.4 404.7h0M553.6 365.4h0M436.5 372.9h0M410.7 375.2h0M579.9 354.8h0M416.1 361.3h0M528.3 375.6h0M425.6 365.1h0M616.5 389.6h0M486.5 373.5h0M513.6 387.6h0M410.6 385.9h0M458.9 402.5h0M443.6 379.3h0M489.8 409.8h0M428.1 406.4h0M459.1 387.1h0M538.7 369.9h0M503.4 387.7h0M636.8 354.5h0M434.9 367.1h0M386.8 368.2h0M406.5 353.1h0M469.2 376h0M374.1 364.5h0M432 393.7h0M487.6 378.6h0M377.4 362.9h0M624.6 394h0M403.1 379.8h0M382 405.9h0M521 407.2h0M437.1 403.3h0M494.6 366.3h0M411.6 399.1h0M572.9 365.3h0M378.9 376.4h0M480.5 370.1h0M445.2 354.7h0M517.2 394.5h0M462.4 360.6h0M382.8 382.4h0M451.3 368.5h0M631.3 385.1h0M406 366.7h0M404.1 407.6h0M532.6 371h0M497.6 358.2h0M621.7 407.1h0M376.5 357.8h0M400.3 367.2h0M445.2 356.1h0M552.5 356.7h0M434.8 409.8h0M561.4 385.3h0M520 363h0M388.7 360h0M512.6 408.8h0M546.4 382.3h0M379.7 403.5h0M423.6 362.7h0M384.4 370.2h0M432 357.3h0M546.4 390.9h0M554.4 384.8h0M387.7 382.8h0M519.8 405h0M407.4 361.1h0M473.4 405.9h0M528.2 374.3h0M551.5 396.3h0M440 382.8h0M474.5 391.1h0M443.7 380h0M404.1 372.7h0M512.1 392.5h0M609.6 396.6h0M452.2 389.8h0M429.2 386.8h0M463.9 400.1h0M473.3 375.1h0M413.4 395.8h0M438.5 408.3h0M564.2 367.4h0M441.9 386.3h0M631 404.3h0M605 391.5h0M518 357.3h0M416.7 402.3h0M624.2 392.9h0M492.4 400h0M412.3 392.1h0M375.8 353.2h0M482 371.1h0M641.5 381h0M643.7 367.9h0M428.6 383.5h0M463.4 355.6h0M523 357.7h0M426.1 397.2h0M377.3 363.8h0M385.6 358.1h0M586.2 370.5h0M478.1 373.6h0M395 361.8h0M604.7 402.1h0M485.1 397.1h0M442.1 397.8h0M428.1 377.3h0M379.3 375.6h0M387.7 409.3h0M394.9 371.7h0M503.2 356.1h0M425.3 387.3h0M425.9 356.9h0M582.5 409.6h0M433.6 407.3h0M452 407.2h0M601.5 362.7h0M444.7 375.7h0M537.2 382h0M383 377.2h0M398.2 396.9h0M507 353h0M539.3 384.3h0M422 408.3h0M516.5 355.3h0M452.7 372.2h0M593.5 398.3h0M426.1 394.2h0M615.9 379.6h0M386.3 354.4h0M412.3 378.2h0M486.7 365.3h0M548.2 366.1h0M506.4 354.9h0M557.3 403.9h0M380.3 361.7h0M429.5 354.3h0M497.2 364.9h0M393.4 394h0M467.4 401.8h0M594.5 359h0M473.5 383.6h0M574.9 367.2h0M478.8 378.5h0M561.7 384.8h0M380.2 397.5h0M434.1 384.9h0M468.8 354.9h0M447.2 355.8h0M620.7 364h0M425.1 368.2h0M449.1 398h0M402.2 400.2h0M406.1 368.4h0M399.6 407.5h0M610.5 394.3h0M476.7 363.4h0M470.8 386.2h0M440.6 366.3h0M493.3 360h0M417.5 374h0M430 382.9h0M399 404.8h0M499.6 383.2h0M522.5 406.5h0M607.6 363.1h0M386.1 367.6h0M601.9 377.8h0M414.8 372.3h0M495.8 383h0M437.3 380.4h0M483.8 370.2h0M458 391.9h0M529.4 385.5h0M384.1 392h0M570.3 393.8h0M605.9 390.3h0M552.9 379.2h0M571.2 402.2h0M495.8 391.3h0M553.4 362.6h0M406.5 369h0M439.2 357.5h0M443.1 407.5h0M474.6 382.1h0M390.5 375.4h0M622.4 408.1h0M566.4 403.6h0M388.9 385.9h0M504 396.7h0M385 386.9h0M565.4 398.7h0M375.3 392.8h0M474.4 392.3h0M615.4 375.6h0M553.6 361.5h0M539.9 406.2h0M479.4 386.3h0M412.7 361h0M519 377h0M583.7 366.7h0M534.7 388.2h0M552.6 387.2h0M423 358.5h0M406.2 403.2h0M583.3 403.3h0M634.5 361.1h0M425.6 395.9h0M413.3 407.4h0M632 372.9h0M599 375h0M456.3 356.1h0M505.1 373.3h0M521.3 352.6h0M423.6 376.6h0M537.5 381.6h0M588.5 398.8h0M580.5 366.6h0M455.5 358.1h0M462.8 387.8h0M429 365.5h0M383.7 358.3h0M526.7 368.8h0M392.1 391.8h0M447 406.3h0M374.8 374h0M508 396.9h0M556.6 407.3h0M560.3 373.2h0M642 375.4h0M382.8 409.9h0M566.7 372.3h0M434.6 408.8h0M400 399.5h0M535.3 407.8h0M531.7 356.6h0M443.1 408.2h0M471.8 362h0M406 372.4h0M604.1 391.5h0M428.3 395.1h0M390.5 375h0M592.1 370.4h0M538.9 383.5h0M503 371.6h0M458.4 367.4h0M552.7 392.2h0M458.9 373.7h0M410.2 404.2h0M628.2 408.7h0M502.1 361.5h0M404 384.1h0M516.3 360.4h0M561.3 372.2h0M586.7 365.2h0M460.4 402.8h0M473.9 392h0M520.7 397.6h0M607.9 379.4h0M475.5 406.7h0M390.8 357.5h0M519.8 378.8h0M604.5 356.8h0M570 403h0M487.7 382.4h0M448.7 368h0M575.1 402.2h0M482.8 371.7h0M442.9 387.9h0M503.2 405.7h0M506.6 378.3h0M627.5 387.3h0M474.7 407.2h0M430.4 393.9h0M375.5 352.6h0M587.6 363h0M485.9 352.3h0M416.2 364.6h0M590.5 401.3h0M619.8 381.7h0M531.2 373.6h0M407.1 375.7h0M429.6 404.1h0M323 220h0M331 223h0M337 219h0M341 211h0M347 217h0M348 235h0M416 222h0M419 237h0M426 209h0M430 223h0M431 158h0M454 228h0M549 141h0M558 190h0M583 198h0M600 232h0M613 195h0M626 206h0M641 232h0M718 151h0M720 125h0M582.2 216.8h0M566.3 259.6h0M618.6 260.3h0M595.5 263.7h0M633.3 218.1h0M638 268.2h0M507.1 228.3h0M498.3 215.2h0M510.3 258.6h0M506.8 266h0M636.6 226.5h0M525.5 267.9h0M538.3 237.2h0M526 218.2h0M456.7 245h0M572.5 229.7h0M575.7 247h0M598.5 268.2h0M620.4 236.6h0M501.7 246.9h0M470 241.1h0M602.3 251.5h0M464.6 218.9h0M473.3 218.3h0M461.3 244.5h0M527.1 262.2h0M549 265.5h0M496.3 239.5h0M630.9 238.8h0M534.4 229.7h0M556.2 258.2h0M513 264.8h0M569.9 239.4h0M495.2 266.1h0M543.4 232.8h0M451 230.5h0M585.3 241.2h0M589.9 251.7h0M577.6 269.1h0M528.6 224.2h0M457 238h0M515.6 225.5h0M635.1 246.2h0M630.2 216h0M519.2 239.3h0M867.6 148.4h0M640.9 417.2h0M640.6 405.9h0M642.5 372.5h0M642.6 381.4h0M642 304h0M642.3 399.2h0M641.5 369.7h0M641.7 396.4h0M642.5 411.1h0M643.6 418.2h0M642.8 409.8h0M645.4 421.1h0M647.1 419h0M648 257h0M648 420h0M647.7 418.9h0M646.8 409.4h0M647.5 419h0M646.9 387.1h0M646.5 407.3h0M646.5 354.1h0M647.5 367.8h0M646.8 400.1h0M645.3 394.2h0M646.8 415h0M648.2 334.2h0M646.3 309.8h0M649 411.6h0M645.6 421.5h0M647 388.7h0M645.2 403.6h0M645.2 401.4h0M647.5 414h0M655.9 416h0M654.4 404.2h0M655 418.4h0M654.1 396.9h0M656.3 393.3h0M655.7 360.5h0M654.4 400.7h0M654.2 355.9h0M656 409.1h0M654.5 416.4h0M654.9 421.7h0M655.1 411.8h0M655.7 415.6h0M656.3 421.3h0M653.6 417.8h0M654.6 416h0M658.7 414.6h0M658.9 344.5h0M659.7 412.3h0M659 418.7h0M658.8 305.9h0M659.7 366.2h0M658.8 383h0M659.8 376.3h0M658.9 392.1h0M658.3 391.1h0M660 343.5h0M658.9 386.1h0M659.7 375.3h0M662.5 420.4h0M657.8 415.6h0M657.8 421h0M660.1 417.5h0M660.7 414.7h0M670.6 416.6h0M669.8 408h0M669.5 408.1h0M670.4 352h0M670.5 406.5h0M669.9 421.4h0M670.1 413.6h0M670.7 394.2h0M669.8 415h0M671.1 414.6h0M671.8 415.9h0M673.4 414.2h0M676.7 388.9h0M675.7 375.1h0M675.4 389.6h0M676 408.3h0M675.6 360h0M675.8 394.9h0M675.7 384.2h0M677 411.2h0M675.3 405.6h0M675.4 407.6h0M676.3 369.9h0M675.3 263.9h0M675.6 384.5h0M676.3 334.8h0M676.3 417.1h0M675.6 411h0M676.3 374.7h0M676.4 421.9h0M676.7 411.5h0M675.8 408.2h0M675.7 378.3h0M675.7 399.7h0M675.6 405.6h0M677.4 416.8h0M676.8 400.8h0M676.9 410.4h0M675.2 345.8h0M676.6 319.1h0M676.9 414.2h0M677.5 419.5h0M678.7 418.9h0M674 416.4h0M675.3 414.7h0M677.7 416.5h0M676.3 421h0M685.2 392.8h0M685.4 406.8h0M686.4 392.9h0M686.2 368.9h0M686.3 396.2h0M685.5 377.3h0M686 399.4h0M685.9 385h0M685.4 385.2h0M685.8 417.1h0M685.5 415.9h0M686.9 409h0M686.1 421.5h0M686 418.1h0M686 398.9h0M685.4 394.1h0M685.9 374.8h0M686.5 410.7h0M685.7 408.9h0M686.9 396h0M685.8 418.2h0M686.4 410h0M686.1 420.3h0M687 421.1h0M682.8 421.7h0M688.4 411.2h0M687.3 412.6h0M687.5 421.9h0M684.5 420.8h0M686.9 417.9h0M690.2 412.4h0M689.8 379.5h0M689.4 409.3h0M689.6 379.8h0M691 399.9h0M690.3 353.3h0M690.7 308.4h0M690.5 332.3h0M690 374.4h0M688.2 414.8h0M688.4 380h0M690.6 419h0M693.1 415.4h0M699.9 356.5h0M701.3 359.7h0M702.1 417.9h0M701.2 411.4h0M700.9 420.2h0M701.5 374.3h0M700.8 341.3h0M701.1 353.6h0M700.4 401.8h0M701 393.9h0M701.3 409.9h0M700.6 370.4h0M701.6 392.5h0M701.5 404.3h0M701.2 376.4h0M700.8 416h0M701.2 398.5h0M701.3 250h0M701.5 391.7h0M701.8 413.8h0M697.3 419.5h0M700.4 418.1h0M701.1 415.8h0M713.2 394.4h0M713 397.6h0M713.2 414.3h0M713.6 403.2h0M712 410.9h0M712.5 399h0M713.2 338.6h0M712.3 401.4h0M712.9 398.6h0M712.6 388.9h0M712.8 386.3h0M712.5 417.7h0M713.2 363.4h0M712.9 395.6h0M711.4 384.6h0M713.9 355.2h0M712.4 222h0M713 383.5h0M712.3 407.4h0M714.3 409.9h0M714.7 410.5h0M714.9 419.3h0M715.3 419.1h0M711.3 420.4h0M712.3 419.3h0M711.1 418h0M717.9 408.6h0M717.6 399.2h0M718.2 390.7h0M717.1 393.4h0M717.2 419.4h0M717.1 323.8h0M717.9 349.8h0M718.8 402.7h0M718.8 391h0M718.8 415.2h0M717.7 383.5h0M716.7 400.9h0M717.4 397.5h0M719.9 418h0M719 418.9h0M721.2 419.2h0M726.7 376.6h0M726.6 400.2h0M727.8 401.3h0M727.3 414.8h0M726.7 412.3h0M726.4 420h0M726 317.9h0M726.9 420.6h0M728.9 390.1h0M727.5 361.2h0M726.8 317.8h0M726.6 366.9h0M727.6 405.6h0M726.7 411.9h0M726.9 414.2h0M727 412.5h0M727.4 313.4h0M726.6 375.8h0M726.6 412.1h0M727.7 349.4h0M726.2 418.8h0M725.2 420.6h0M724.3 416.7h0M726.6 418h0M726.6 417.8h0M730.7 409h0M730 385.3h0M730.9 401.6h0M729.9 401.5h0M731.2 400.3h0M729.8 395.8h0M729.8 375.3h0M729.9 409.9h0M730.6 379.7h0M730 398.4h0M730.3 412h0M730.3 379.5h0M730.6 346h0M730 407.7h0M729.8 397.8h0M729.8 363.4h0M729.8 359.5h0M730.4 360.7h0M729.9 415.9h0M729.2 421.8h0M728.3 421.2h0M731.2 405.1h0M732.1 418.6h0M727.5 414.4h0M728.6 420.8h0M734.7 353.5h0M736.3 422h0M735.4 288h0M736.2 421.8h0M735.8 370.8h0M737.1 327.6h0M736.2 407.5h0M737 383.7h0M736.3 408.2h0M736.5 421.8h0M736.2 419.1h0M736.1 417.9h0M736.3 401.9h0M735.6 408.3h0M736.4 409h0M735.6 411h0M735.8 362.9h0M736.1 413.5h0M736.4 421.9h0M732.2 421.3h0M735.4 408.8h0M735.8 415.5h0M736.6 421.8h0M734.6 419.8h0M744 420h0M744.7 416.9h0M743.9 379.1h0M743.3 404.6h0M745.1 349.2h0M745.2 409.3h0M743.3 304.2h0M744.5 357.2h0M743.6 412h0M743.9 396.3h0M744.4 416.9h0M742.4 359.2h0M745.1 411.9h0M743.7 396.8h0M743.8 407.3h0M742.3 367.1h0M744.4 404.3h0M743.2 419.5h0M740.7 413.2h0M745.6 412.2h0M745.4 419.8h0M745.9 417h0M747.9 419.8h0M750.8 337.2h0M748.8 418.9h0M749.5 415.9h0M748.3 419.1h0M750 380.6h0M748.2 404.2h0M748.8 412.8h0M750.1 412.2h0M749.4 418.2h0M748.7 381h0M751.3 422h0M748.9 420.1h0M748.1 418h0M746.6 418.4h0M760.5 416.5h0M760.1 419.6h0M760.7 349.8h0M760.1 370h0M761.4 411.8h0M758.8 403.4h0M761 364.7h0M760.3 412.4h0M762 410.5h0M758.6 418.5h0M760.2 418.6h0M764.7 409.6h0M763.9 301h0M763.7 406.8h0M764.5 294.7h0M764.7 418.7h0M763.7 366.3h0M764.5 398.3h0M763.8 414.3h0M763.5 371.5h0M764.4 343.8h0M764.7 352.5h0M765.4 415.1h0M763.6 366.5h0M764 337.1h0M765 410.4h0M763.1 420.3h0M763.6 421.8h0M765.2 420.4h0M764.3 413.6h0M763.6 406.2h0M763 421.7h0M771.1 419.6h0M771.9 421.9h0M771.9 383.7h0M770.4 404.5h0M771.7 389.5h0M770.9 335.2h0M771.5 397.1h0M770.9 319h0M770 337h0M770.7 408.4h0M771.9 415.7h0M770.8 421.7h0M771.1 420.2h0M772.9 415h0M779.9 414.5h0M779.8 357.2h0M781 397.2h0M779.5 414.2h0M779.6 401.4h0M780.2 369h0M780.8 399.9h0M779.6 421.1h0M780.2 392.1h0M780.1 396.5h0M779.1 389.1h0M779.8 373.9h0M780.4 387.7h0M780.4 402h0M780.3 399.6h0M781.3 411.1h0M780.2 416.9h0M780.1 412.4h0M779.7 421.9h0M779.7 415.8h0M780.3 408.6h0M779.6 417.6h0M779.4 349.7h0M779.6 420.6h0M779.2 389.7h0M777.6 410.4h0M778.6 421.2h0M782.7 410.1h0M777.4 402h0M781.1 419.8h0M778.6 408.1h0M783.5 388.8h0M784.3 319.1h0M783.7 408.2h0M784.9 394h0M783.8 377.9h0M784.7 401.6h0M784 315h0M784.3 245.5h0M784.6 410.4h0M783.6 418.6h0M783.3 421.3h0M785.9 420.4h0M780.7 421.8h0M784.3 402.7h0M782.6 418.1h0M790.5 394.3h0M788.1 349h0M788.1 412.9h0M789.2 413.3h0M787.7 376.5h0M789 374.4h0M789 390.1h0M788.3 416.1h0M789.8 387.4h0M789.6 376.1h0M790.4 327.3h0M788.8 377.5h0M789.1 376.7h0M789.7 406.4h0M789.1 403.4h0M789.9 419.8h0M787.9 419.7h0M786.8 400.9h0M786.5 415.5h0M799.3 416.5h0M797.7 417.3h0M798.3 400.9h0M797.6 411.5h0M797.9 396.3h0M798.3 384.5h0M798.3 402.5h0M798.3 334.8h0M798.4 373.9h0M797.3 390.5h0M798.7 396.4h0M797.8 414.6h0M797.7 416.4h0M798.1 386.6h0M796.5 407.4h0M795.4 416.8h0M799.6 414.2h0M795.7 421h0M799.4 413h0M799.1 417.7h0M807.5 397.2h0M806.6 383.7h0M808 415h0M806.6 418.4h0M806.1 418.8h0M807.5 420.9h0M806.9 396h0M807.5 419.6h0M807.5 395.4h0M807.2 401.3h0M807.2 332.7h0M807.4 351.1h0M806.8 396.6h0M807.1 385.3h0M806.6 410.7h0M805.6 419.8h0M806.7 417.7h0M804 421.8h0M807 413.8h0M805.7 416.7h0M811 420.4h0M812 404.5h0M810.4 406.5h0M811 372.3h0M810.6 405h0M810 398.4h0M812 372.7h0M811 398.6h0M811.2 396.1h0M811.7 414.2h0M811.4 408.7h0M812.1 347.6h0M811.2 399.8h0M811.6 412.1h0M810.6 408.9h0M810.9 421.8h0M809.7 401h0M811.4 360.9h0M811.4 409.4h0M810.5 414.2h0M810.8 358.1h0M812.1 414.9h0M809.2 409.7h0M811 421.2h0M813.3 419.2h0M814.4 417.6h0M813 416.4h0M822.6 420.2h0M823.2 372.8h0M823.1 416.4h0M822.9 399.7h0M822.7 385h0M823.1 416h0M823.8 372.7h0M823.6 422h0M822.6 377.2h0M823.5 375.2h0M822.8 394.1h0M822.8 402.8h0M822.6 407.1h0M823.9 388.8h0M819.7 409.1h0M823 420.9h0M820.3 395.6h0M823 416.2h0M822.6 411.9h0M826.1 354.6h0M827.5 345.6h0M826.7 407.7h0M826.7 389.5h0M826.3 333.4h0M827.6 377.5h0M827.6 374.3h0M827.4 373.5h0M826.3 407.7h0M826.2 334.1h0M827.2 416.1h0M827 394.9h0M826.6 353.5h0M826.9 418.8h0M827 403.6h0M826.9 346.5h0M826.7 308.6h0M827.6 336.4h0M827.1 419.7h0M827.4 398.7h0M826.6 419.4h0M826.9 409.8h0M826.2 232.3h0M827.6 359.3h0M827 350.4h0M826.8 327.8h0M827.1 410.7h0M827.4 407.1h0M826.8 407.9h0M827 405.6h0M826.3 417.9h0M828 418h0M827.7 392.3h0M828.5 418.7h0M825 416.4h0M824.2 407h0M834.5 405.1h0M833.7 363.1h0M834.7 391.3h0M834.1 418.2h0M833.6 379.1h0M834.3 393.8h0M834.4 382.1h0M834.4 413.9h0M834.6 382.6h0M835.9 406h0M836.7 418.3h0M835.6 418.6h0M833.1 421.9h0M840.2 397.5h0M841.3 399.4h0M839.7 337.1h0M839.9 373.2h0M839.2 406.8h0M840.6 398.9h0M839.3 399.7h0M840.4 381.6h0M839.9 334.8h0M840.4 378.3h0M839.5 406.8h0M840.5 381.7h0M838.6 381.5h0M840 282.2h0M840.4 414.4h0M840.4 406.3h0M840.3 400.3h0M839.6 420.9h0M838.4 410h0M838.7 418.8h0M839.7 403.9h0M842.3 420.5h0M840.3 409.1h0M844.8 421h0M840.9 416.8h0M846.1 396.4h0M845.1 373.4h0M846.4 381.7h0M846.1 396.5h0M846.4 364.5h0M846.7 407.1h0M846.4 388.9h0M845.7 369.5h0M845.1 330.6h0M845.4 359.8h0M845.9 391.3h0M846.5 389.5h0M847.6 411.7h0M847 414.2h0M844.2 418.2h0M846.6 409.8h0M845.6 419.4h0M852.5 366.3h0M851.3 407h0M850.8 295.5h0M850.8 394h0M851.4 354.8h0M851.5 409.6h0M850.1 331.1h0M851.4 362.5h0M852.2 383.3h0M850.5 417.7h0M851.5 384.2h0M850.9 397.2h0M851.5 412h0M853 417.1h0M851.3 413.6h0M854.2 417.5h0M850.1 419.3h0M853.8 412h0M850.1 418.4h0M857.8 377.3h0M857.4 414.1h0M857.3 399.8h0M856.6 319.6h0M857.3 419.8h0M857 386.4h0M855.9 366h0M856.6 409.4h0M856.3 411.4h0M857.1 398.4h0M858.6 398.5h0M854.4 419.5h0M858.9 406.2h0M855.5 416h0M863 332.1h0M861.4 370h0M862.3 340.3h0M862.6 386.6h0M862.7 417.9h0M862.2 374.4h0M862.3 369.3h0M861.8 405.6h0M861.1 386.8h0M862.7 308h0M862.2 415.8h0M862 418.2h0M862.2 418.5h0M861.4 403.5h0M862 385.5h0M861.3 406.1h0M862.2 416.6h0M862.1 279h0M860.8 385.7h0M862.1 260.6h0M863.6 420h0M863.4 419.3h0M863.1 419.2h0M863.1 420.2h0M863.9 415h0M860.9 420.7h0M860.4 422h0M864.7 415h0M865.7 419.2h0M864.8 366.8h0M865.7 360.3h0M866.2 418.4h0M866.7 414.8h0M865.9 409.8h0M866.5 407.6h0M866.6 388.8h0M865.8 315.3h0M866.4 344.9h0M866.6 416.1h0M865.4 382.3h0M866 419.1h0M866 372.3h0M865.8 355.8h0M865.7 413.1h0M865 415.5h0M868.9 421.3h0M865.1 419.4h0M867.3 420.8h0M713.5 324.9h0M752.2 334.8h0M828.5 315.3h0M787.7 305.9h0M846.9 352.3h0M846.2 339.2h0M863.1 337.6h0M662 313h0M699.3 339.9h0M672.9 308.7h0M759.4 302.9h0M728.2 330.3h0M800.8 354.2h0M787.7 312.8h0M698.8 304.3h0M872.5 268.1h0M872.2 236h0M869.7 260h0M872.2 248.3h0M875.3 227.1h0M874.7 249.4h0M869.8 256.6h0M870.9 249.6h0M871.3 235.6h0M873.9 270.2h0M874 263.7h0M869.7 248.4h0M879 257h0M870.7 238.1h0M876.2 226.5h0M873.2 243h0M869.7 268.1h0M876.1 249.9h0M870.1 251.8h0M876.9 247h0M872.4 229.7h0M878.8 249.9h0M875.7 236.5h0M872 271.2h0M874.6 217.1h0M870.1 251.3h0M870.4 238.1h0M870.7 254.1h0M879.2 271.8h0M872.9 265h0M876.6 258.5h0M878.9 271.4h0M870.1 247.1h0M871.7 237.8h0M873.2 239.3h0M875.7 266h0M878.4 249.8h0M871.6 261.2h0M873.2 250.9h0M875.9 227.3h0M878.4 260.4h0M869.7 241.1h0M874.4 239.3h0M873.6 255.6h0M876 223.7h0M877.3 271.7h0M875.2 234.3h0M869.7 269.5h0M875.3 240.6h0M870.1 253.9h0M872.2 270.1h0M873.5 244.7h0M871.9 231.9h0M874.7 271.6h0M878.1 243.2h0M871.3 254.6h0M872 233.7h0M873.2 226h0M878.9 259.7h0M877.8 238.3h0M870.3 253.4h0M872.9 236.1h0M875.4 225.3h0M876 252.5h0M876.5 238.1h0M876.1 260.7h0M874.5 245.3h0M878.6 257.7h0M870.3 255.9h0M875.7 255.4h0M878.2 252.5h0M876.5 242.9h0M871.5 255.3h0M875.9 254.8h0M874.6 243.9h0M879.1 268.9h0M876.6 251.3h0M871.4 236.2h0M871.4 270.3h0M876.9 240.9h0M875.7 238.1h0M870.2 251.8h0M878.9 246.4h0M876.2 270.5h0M877.2 233.7h0M871.5 237.9h0M872.8 253.5h0M877.7 260.5h0M873.8 227.8h0M874.5 247.6h0M875.5 265.4h0M874.6 220.7h0M876.8 264.9h0M875.4 264h0M877.6 249.9h0M869.6 272h0M875.2 263.2h0M875.9 229h0M870.1 238.5h0M876.7 235.2h0M878.1 258.8h0M879.3 258.6h0M871.4 255.4h0M869.6 260.1h0M876.5 227.9h0M870.8 269.6h0M873.3 255.4h0M875.6 232.9h0M871.9 240.6h0M870.6 238h0M876.7 240.8h0M876.4 226.5h0M871.9 262.9h0M876.3 259.9h0M876.2 267.3h0M874.1 215.6h0M876.8 247.2h0M871.1 260.9h0M874.2 239.2h0M875.6 266.6h0M870.6 236.8h0M875.9 245.3h0M876.7 234.4h0M877.1 256.3h0M877.9 249.1h0M870.2 260.6h0M873.5 239.5h0M870 249.4h0M871.7 241.7h0M879 262.8h0M870.3 246.3h0M871.2 241.2h0M875.7 257.7h0M879 238.5h0M873.3 228.3h0M874.6 222.7h0M875.3 224.4h0M873.8 259.4h0M879 254.5h0M872.9 244.8h0M870.1 238.5h0M870.9 238h0M876.9 236.4h0M877.2 232h0M878.2 266h0M871.9 232.1h0M874.7 224h0M873.1 229.5h0M869.5 243.3h0M870 269.5h0M871.6 257.5h0M876.4 227.8h0M875.5 221.6h0M871.8 227.5h0M877.9 251.5h0M879.4 263.2h0M872.7 252.8h0M871.6 235.4h0M873.1 231.9h0M874.4 234.8h0M877.8 243.5h0M878 255.9h0M878.4 266.8h0M879 253.1h0M878.3 255.1h0M877.1 239.8h0M875.4 224.2h0M876.3 234.5h0M875.5 245.4h0M869.7 258.7h0M870.6 269.4h0M869.7 270.6h0M874.3 253.4h0M870.6 267.3h0M872.9 246h0M875 225.6h0M878.3 253.9h0M872.1 253h0M870.9 265.2h0M874.1 262.5h0M871.5 230.9h0M875.7 260.7h0M872.9 261h0M873.7 248.9h0M875.4 255h0M878.8 256.5h0M872.9 240.8h0M871.3 258h0M872.5 246h0M870.9 230.8h0M873.1 218.8h0M874.2 211.6h0M873 212h0M872.7 214.4h0M874.1 216.3h0M873.2 209h0M874.6 221.4h0M873.5 212.8h0M873.1 213.4h0M873.7 216.3h0" stroke="#1f77b4" stroke-width="3.2"/>
<path d="M873 374L880 376" stroke="#1f77b4" stroke-width="9"/>
<path d="M868.8 373.9h0M880.5 374.8h0M873.6 384.4h0M876.7 371.5h0M882.9 388.6h0M875.2 359.6h0M874.1 362.5h0M877.3 389.3h0M874.1 367.2h0M883.8 369h0M870.3 382.6h0M871.3 363.8h0M876.7 371.9h0M875.4 366.2h0M871.8 380h0M873.4 374.9h0M871.3 363.6h0M877.2 365.9h0M880.8 384h0M872.8 366.6h0M873.3 370h0M875.2 386h0M874.6 376.1h0M880.5 383.9h0M876.1 377.7h0M876.2 364.8h0M873.2 382.4h0M876.9 368.8h0M870.2 369.7h0M883.6 380.3h0M875 381.2h0M882.6 377.9h0M869.6 387.6h0M883.7 381.6h0M876.1 366.4h0M871.9 379.9h0M880.6 375.4h0M874.5 363.4h0M875.7 368.3h0M878.8 369.1h0M881.9 375.4h0M881.2 368.1h0M881.2 367.3h0M869 383.7h0M872.3 372.9h0M878.1 370.8h0M871.4 359.2h0M873.2 366.2h0M877.6 387.4h0M872 371.9h0M874.3 375.1h0M882.7 358.9h0M871.3 370.8h0M871.7 388.3h0M870.1 366.4h0M881 378h0M876.1 382.3h0M878 362.9h0M883.8 375.5h0M869.8 367.1h0M870.4 381h0M878 376.3h0M870.7 372.2h0M881.9 370.7h0M876.2 380.7h0M874.6 377.2h0M882.8 378.4h0M870.9 376.8h0M874 365.7h0M874.1 373.9h0M882.3 358.3h0M871.2 376.6h0M869.3 375.1h0M869.2 373.7h0M881.5 378h0M870.1 369.1h0M877.8 367.5h0M882.9 364.6h0M876.6 375.3h0M873.6 370.9h0M869.4 378.4h0M877.3 384.4h0M873.7 366.3h0M869.8 369.5h0M873.5 366.2h0M869.1 372.1h0M871.4 375.6h0M878.1 369.3h0M873.5 371.9h0M878.6 362h0M870.9 371.2h0M870.3 364.7h0M872.4 378.7h0M871.1 367.9h0M874.4 381.3h0M879.7 367.3h0M871.7 387.1h0M879.7 375.4h0M883.5 387.6h0M873 384.1h0M872.4 375.6h0M869.5 381.2h0M879.6 372.6h0M883.5 386.6h0M882.4 367.6h0M877.8 377h0M876.4 382.5h0M873.3 380.6h0M874.7 385.5h0M877.4 380.5h0M877.7 371.5h0M870.7 369.2h0M879.7 377.9h0M877.8 380.6h0M880.1 390.2h0M881 385.8h0M872.8 380.4h0M869.2 376.9h0M873.3 370.8h0M871.4 370.7h0M882.7 383.2h0M874.9 380.6h0M878.6 380.9h0M871.1 379.9h0M870.5 384.1h0M870.4 378.4h0M873.7 376.7h0M878.1 368h0M878.1 361.4h0M881.3 374.2h0M875.8 386.2h0M872.2 375.9h0M878.1 362.9h0M876.7 383.3h0M877.5 376.1h0M876 383.4h0M871.7 379h0M876.2 384.5h0M879 371.4h0M870.4 368h0M874.2 370.8h0M880.3 382.5h0M875 370.9h0M869.9 389.2h0M874.9 373.7h0M874.8 389.5h0M872.5 365.2h0M873.2 384.8h0M871.8 381.9h0M881.7 371h0M874.1 385.1h0M873.6 374.2h0M875.9 374.6h0M875.5 376.9h0M871.3 358.3h0M882.7 383.2h0M882.6 368.8h0M871.4 377.5h0M869.8 382.9h0M878.3 383.5h0M880.4 378.5h0M874.9 360.9h0M870 384.7h0M879.7 379.5h0M881.9 380.2h0M876.8 378.7h0M870.1 365.2h0M878.7 369.9h0M875.1 371.7h0M879.9 383.2h0M881.9 381.1h0M878.7 380.9h0M877.7 379.1h0M882.5 372h0M881.5 366.3h0M870 371.7h0M870.1 377.9h0M881 371.5h0M882.4 363.2h0M880 385.8h0M876.8 372.8h0M872.6 366.5h0M879.5 371.4h0M873 377.9h0M869.4 390.8h0M879.9 364.1h0M874.4 362h0M881.5 381.8h0M876 367.6h0M877.1 383.1h0M882.3 367.2h0M869.1 388.1h0M869.9 372.4h0M881.5 367.5h0M869.6 388.5h0M874.8 362.7h0M877 378.4h0M877.9 374.3h0M869.1 383.5h0M877.6 372.2h0M878.1 384.1h0M870.2 382.7h0M883.2 369.8h0M881.8 375.1h0M875 364h0M880.3 366.2h0M873.3 377h0M870 381.3h0M874 383.5h0M879.7 369.3h0M873.2 383.6h0M877.2 370h0M869.4 374.1h0M883.5 388.5h0M881.4 363.6h0M876.6 373.3h0M881.5 385.1h0M879.8 370.8h0M869.8 372.2h0M876 371.6h0M871.1 376.4h0M880.3 385.2h0M869.6 386.6h0M871.4 386.4h0M877.5 371.1h0M873.2 366.2h0M880.9 374.4h0M882.3 387h0M877.5 381.4h0M878.5 379.3h0M869.1 371.5h0M878.7 381.5h0M881 374.5h0M880.9 368h0M878.5 386h0M872.5 382.3h0M878.4 377.6h0M880.6 382.1h0M870.3 386.2h0M883.3 376.9h0M882.6 371.8h0M873.6 379.5h0M872.1 380.8h0M880.2 371.5h0M873.8 369.3h0M875.5 360.6h0M876.7 378.5h0M878 387.7h0M876.8 380h0M875.5 371.1h0M881.6 384.7h0M872.4 388.6h0M873.2 378.6h0M872.8 370.3h0M869.6 369.4h0M881.5 362.7h0M878.8 372.8h0M880.3 369.4h0M873.7 381.8h0M881.4 373.6h0" stroke="#1f77b4" stroke-width="3.2"/>
<path d="M890 372L896 380L904 377L913 367" stroke="#1f77b4" stroke-width="10"/>
<path d="M892.7 385.1h0M903.1 369.5h0M892.1 376.7h0M911.9 370.8h0M915.2 357.6h0M899.7 371.5h0M904.6 385.7h0M904 371.1h0M892.3 370.2h0M902.8 368.9h0M916.5 359h0M902 373.2h0M909.8 382h0M890.7 376.5h0M908 375.9h0M915.9 358.6h0M904.9 373.4h0M903.2 381.8h0M916.5 355.6h0M890.2 359.3h0M904 369.8h0M898.5 378.5h0M902.9 373.8h0M910 361.6h0M901.9 379.5h0M912.2 378.5h0M905.8 362.2h0M894 375.1h0M892 376.8h0M892.1 362.9h0M912.9 371.5h0M913.4 363.5h0M906.3 374.3h0M912.5 359.9h0M909.1 367.1h0M915.2 356.2h0M902.3 382.8h0M887.7 374.5h0M906.1 375.8h0M887 376.5h0M888.7 366.1h0M898.6 365.2h0M909.1 360.4h0M905.7 385.8h0M905.8 368.3h0M908.4 381.2h0M911.5 364.3h0M903.8 366.1h0M888.3 365.1h0M893.4 371.9h0M900.3 382.2h0M900.5 373.3h0M889.1 377.8h0M892.4 356.4h0M900.7 386.6h0M899.3 378.8h0M887.8 375.6h0M913.4 360.2h0M905.8 361.7h0M911.1 374.5h0M899.3 388.9h0M900.3 376.2h0M889.4 377.6h0M916.3 362.3h0M903.3 379.9h0M914.4 367.5h0M899.5 377h0M909.7 373h0M888.7 379.3h0M893.4 380.1h0M901.2 386.7h0M900.8 369.4h0M917 367.6h0M891.2 383.2h0M912.8 356.9h0M908.7 368.2h0M891.3 365.1h0M904 364.3h0M901.2 386h0M888.6 364.7h0M887.3 374.9h0M891.5 383.1h0M913.2 366.3h0M887.4 375.2h0M911.3 372.6h0M914 364.3h0M896.1 384.3h0M896.7 376.3h0M912.8 373.9h0M895.6 383h0M899.7 386.2h0M906.2 379h0M915.8 359.2h0M890 360.9h0M895 376h0M893.3 382h0M896.4 366.5h0M892.7 361.6h0M914.1 356.8h0M893.6 384.2h0M900.3 385h0M907.3 375h0M888.8 364.2h0M892.9 383.8h0M896.2 372.5h0M916.4 366.2h0M911.1 359.5h0M905.4 362.4h0M893.8 379.3h0M896.2 378.8h0M892.2 378.2h0M886.9 367.1h0M907.7 372.4h0M891.6 366.1h0M895.8 377.4h0M899 369.5h0M890 360.5h0M891.9 369.3h0M896.9 369.1h0M892.4 368.6h0M888.7 362.3h0M895.8 376.2h0M893.8 362.5h0M893.4 365.4h0M905.9 373.2h0M899.9 368.5h0M901.5 376h0M915.3 368.1h0M909.6 372.5h0M897.3 366.9h0M914.6 373.3h0M916.2 371.8h0M897 387.5h0M912.6 360.6h0M886.8 376.9h0M895.6 383h0M910.4 371.2h0M901.6 387.1h0M887.3 369.2h0M891.5 379.7h0M907.8 372.1h0M891.2 385.4h0M912.4 367.8h0M907.7 368.6h0M891.6 378.1h0M896 383.4h0M901.3 386.4h0M893.6 390.1h0M901.6 367.2h0M888.4 365.8h0M899.1 366.7h0M905.7 376.1h0M906.6 368.4h0M887.9 374.8h0M891.7 373.3h0M900.3 385h0M907.8 363.4h0M902.1 389h0M906.3 379.5h0M889.3 378.1h0M901.7 388.3h0M905.7 365.6h0M912.5 363.7h0M898.9 389.6h0M916.1 368.7h0M906.6 361.4h0M903.3 375.7h0M900 380.8h0M916.6 361.1h0M891.4 379.8h0M910.9 373.4h0M896.7 381.1h0M901.8 368.3h0M898.2 379h0M904 365h0M914.4 355h0M887.4 369.3h0M889.3 382.5h0M914.5 358.9h0M909 376.9h0M893.5 363.9h0M916.6 371.3h0M898.9 380.1h0M914.2 374.1h0M908.7 380.6h0M915.9 363.7h0M908 363.2h0M895.5 376.2h0M914.4 363h0M907.3 375.2h0M916.9 367.2h0M886.9 369.3h0M901.9 376.4h0M911.3 360.2h0M897.3 374.1h0M912.9 364.3h0M891.6 384.4h0M909.8 363.6h0M913.5 374.1h0M905.2 376.5h0M892.5 386.9h0M888.6 381.1h0M903.7 378.9h0M910.8 370.1h0M900.1 365.9h0M911.3 379.8h0M899.5 366.8h0M913.3 377.3h0M907.2 360.5h0M894.5 370.8h0M901.4 381.1h0M909.2 374.1h0M897.7 368.8h0M898 375.6h0M916.7 359.7h0M895.4 371.7h0M915.9 360h0M903.8 364.1h0M897.4 391.2h0M912.2 371h0M890.3 379.5h0M894.6 371.9h0M897 378.9h0M909.1 366.3h0M903.7 377.6h0M900.8 376.2h0M909.8 361.9h0M909.4 380.5h0M903.9 371.9h0M899.8 374.3h0M905.7 385.8h0M895.6 370.6h0M913.4 377.2h0M912.1 377.9h0M900.8 366.9h0M887.1 376h0M897.8 384.6h0M905.8 367.9h0M895.7 380h0M893.7 375h0M910.8 367h0M909.5 363.7h0M891.8 372.8h0M891.7 358.6h0M895.8 385h0M900.8 386.8h0M898.4 379.3h0M907.8 366.5h0M889.5 367h0M904 380.7h0M916.6 366.1h0M897.9 368.8h0M888.7 375.4h0M910.1 365.1h0M911.2 369.2h0M914 372.7h0M907.9 365.5h0M906.4 372.9h0M889.3 371.9h0M906.4 383.5h0M896.1 378.4h0M910.4 375.9h0M912.6 363.1h0M897.7 390.3h0M905.4 377.3h0M912.7 371h0M913.9 373.9h0M907.6 368.5h0M913.8 376h0M904.9 373.2h0M899.7 384.5h0M890.2 369.9h0M909.5 369.6h0M909.3 362.4h0M891.4 378.6h0M911.1 369.5h0M893.3 375.6h0M905.7 377.6h0M906 377.7h0M909.6 358.5h0M910.2 376.2h0M904.9 382.6h0M905.4 363.5h0M904.9 367.6h0M899.7 369.6h0M903.8 376.1h0M898.2 379h0M887.7 369.4h0M916.2 361.2h0M910.9 369.2h0M896 373.7h0M901.9 380.2h0M906.6 362.4h0M888.6 378.9h0M912.8 362.4h0M912.9 376.6h0M895.5 375.4h0M908.1 366.6h0M894.2 361h0M908.1 372.7h0M892.1 387.9h0M893 388.9h0M904.7 378.9h0M890.5 359.6h0M892.4 374.1h0M913.2 361.2h0M899.4 382.3h0M909.4 377.5h0M887.6 366.5h0M900.5 369.8h0M908.9 380h0M913.9 357h0M900.4 387.7h0M894.9 388h0M899.6 377.9h0M915.5 355.7h0M915.5 374h0M911.1 363.4h0M891.7 370h0M896 372.4h0M915.6 369.5h0M897.5 391.8h0M911.5 380.9h0M888.5 372h0M889.3 372.1h0M901 368.2h0M900.1 366.7h0M906.4 367.3h0M913.4 355.1h0M912.9 359.6h0M908 362.9h0M915.7 369.2h0M895.7 385.4h0M891 367.2h0M903.9 377.7h0M891.7 367.5h0M888.8 362.7h0M894.5 384.9h0M894.2 363.1h0M897.8 374.2h0M903.1 384.5h0M896.4 371.3h0M907.9 381.5h0M897 380.3h0M912.9 357.2h0M903.1 368.4h0M892.6 362.5h0M916.3 373.6h0M916.8 356.8h0M894.1 361.3h0M900.8 378.2h0M903.4 365.1h0M903.5 382.2h0M904.4 379.3h0M891.3 363.2h0M887 376.4h0M906.6 369.3h0M913.9 355.6h0M914.1 371.2h0M891.3 378.3h0M900.6 373.8h0M896.3 372.6h0M916.6 368.1h0M891.1 387h0M891.9 385.3h0M904.6 371.1h0M893.3 388.8h0M888.6 368.2h0M897 385.6h0M910.7 380h0M898.1 369.1h0M910.5 368.6h0M887.1 367.3h0M906.7 378.5h0M901.2 385.4h0M915.9 371.6h0M913.7 364.5h0M905.3 371.9h0M895.4 381.4h0M891.3 379h0M906.8 366.5h0M899.5 379.2h0M905 387.2h0M893.3 366.3h0M912 357.4h0M908.7 359.9h0M916.3 360.9h0M911.2 362.6h0M900.9 372.6h0M894.8 375.5h0M892.1 371.6h0M890.8 373.2h0M886.9 370.3h0M906.8 363.8h0M910.2 370.3h0M914 360.4h0M909.1 382.8h0M906.3 375.5h0M889.6 365.4h0M911.8 380.4h0M891.3 368.6h0M909.1 359h0M909.1 376.5h0M914.4 357.6h0M896.4 385.4h0M912.9 358.8h0M902.7 378.3h0M909.9 361.4h0M892.5 382.5h0M887 368.2h0M888.6 365h0M888.8 371.2h0M909.1 373.3h0M891.2 377.6h0M897.4 379.4h0M896.1 372.2h0M898.1 371h0M898.1 381.7h0M887 375.6h0M909.6 378.5h0M898.2 384.8h0M890.5 363.8h0M893.6 378.1h0M913.3 368.2h0M908.2 373.7h0M915.2 357.6h0M901.8 380.2h0M889.6 383.2h0M912.2 360.2h0M904.9 369.9h0M910 380.7h0M901.9 376h0M894.1 382.7h0M887.6 363.5h0M910.7 357.7h0M897.7 370h0M900.1 379.8h0M902.6 368.4h0M909.4 369.3h0M892 387.2h0M887.3 303.6h0M885 303.4h0M872.4 355.1h0M911.6 356.7h0M869.8 280.5h0M890 301.2h0M870.2 299.7h0M889 334.2h0M895.1 289.8h0M874.5 307.7h0M886.2 323.8h0M890.1 282.6h0M894.3 318.7h0M886.5 322.6h0M890.7 343.4h0M911.2 354.1h0M909.8 288.3h0M875.2 343.2h0M910.6 320.6h0M872.3 321.6h0M899.6 335.8h0M891.1 339.4h0M900.6 337.9h0M877.2 318.1h0M894.7 320.3h0M915.6 357.2h0M907.4 343.8h0M895.1 315.1h0M894.4 355.8h0M910.3 321h0M894.4 318.1h0M892.3 305.3h0M911.7 337.9h0M914.7 356.6h0M892.9 326.7h0M894.5 306.8h0M881.9 342.1h0M884.5 295.4h0M882.2 322.3h0M905.9 343.6h0M916.3 316.2h0M914.8 305.3h0M888.6 400.2h0M885.6 407.9h0M898.4 408.9h0M887.4 404.2h0M890.7 404.8h0M888.9 397.4h0M897.8 402.9h0M899.2 397.8h0M882.8 404h0M904.1 394.9h0M889.6 398.4h0M912.5 408.3h0M904.9 395.4h0M902.7 411.1h0M905.7 407.2h0M896 403.6h0M890.7 404.8h0M909.3 406.6h0M854.5 319h0M863.3 306.5h0M846.2 329.8h0M860.5 286.7h0M864.9 229.7h0M865.6 255.3h0M867 259.4h0M867 327.8h0M900.2 416.1h0M890.4 414h0M901.4 421.2h0M896.6 417.4h0M881.1 404.9h0M884.5 419.8h0M893.3 420.7h0M885.1 417h0M871.6 417.5h0M912.6 421.8h0M869.5 415.2h0M911.8 421.3h0M896 421.7h0M882.4 420.5h0M905 416.2h0M897.9 421.3h0M892.8 418.7h0M886.3 419h0M893.9 416.1h0M890.2 420.5h0M913.4 418.7h0M887.9 419.5h0M901.9 418.9h0M905.4 418.2h0M873.3 418h0M878.2 420.5h0M906.1 419h0M903.4 421.3h0M894 420.7h0M880 413.7h0M884.2 417.9h0M915.7 417.6h0M873.8 420.9h0M896.8 415.6h0M899 418.5h0M1031.8 407.4h0M1033.2 401h0M1035.3 398.8h0M1031.9 407.5h0M1033.9 402.4h0M1033.5 399h0M1030.7 403.7h0M1034.4 399.6h0M1030.8 404.4h0M1035.3 401h0M1033 396.3h0M1036.5 403.2h0M1035.4 397.3h0M1034.5 400.6h0M1032.9 405.6h0M1034.3 407.1h0M1031.6 404.3h0M1035.4 404h0M1032.5 403.8h0M1033.5 401.4h0M1032.9 407.8h0M1033.9 405.3h0M1034.6 403.2h0M1033.5 403.2h0M1033.5 398.8h0M1035 407h0M1031.7 406.2h0M1031.7 400.3h0M1033.9 405h0M1031.1 404.5h0M1034.6 399h0M1033.5 402.6h0M1033.4 409.5h0M1032.4 398.9h0M1033.5 410.8h0M1033.6 409h0M1031.6 397.7h0M1034.7 401.8h0M1034.3 404.8h0M1032.5 406.9h0M1033.1 395h0M1033.1 396.3h0M1034.5 396.5h0M1033 409.4h0M1033.6 402.8h0M1038.5 387.2h0M1037.3 393.4h0M1032.5 395.5h0" stroke="#1f77b4" stroke-width="3.2"/>
<path d="M208.6 351h0M206.7 384.8h0M210.1 309.6h0M208 373.8h0M210.5 340.9h0M208.7 324.8h0M211.4 323.9h0M204.6 382.2h0M210.3 335.3h0M210 343.1h0M210.2 326.1h0M209.8 345h0M212 296.8h0M206.7 380.9h0M215.2 269h0M220.9 218h0M217.2 249.6h0M214.3 255.1h0M221 212.8h0M214.9 264.9h0M221.7 217.5h0M221.6 217.7h0M218 240.4h0M213 286.6h0M213 285.8h0M222.6 214.8h0M211.9 288.5h0M213 284.1h0M219 235.5h0M219 234.5h0M217.1 256.1h0M215.9 260.1h0M214.9 273.5h0M218 241.4h0M220.6 220.8h0M222.6 219h0M220.1 236.1h0M213.2 283.7h0M220.7 219.9h0M216 248.7h0M217.9 242.2h0M213.7 263.8h0M213.9 275.8h0M212.7 290.8h0M213.9 267.6h0M213.4 279.7h0M214 276.8h0M217.2 250.8h0M213.5 281.7h0M213 285.3h0M215.5 270.1h0M213.4 291.5h0M215.8 258h0M221.2 215.5h0M213.7 271.2h0M220.2 223.7h0" stroke="#ff7f0e" stroke-width="3.2"/>
<path d="M222.5 214L224 208.5L226.5 208L230 210.5L236 212.3L243 210L250 206.5L270 195.5L293.3 183" stroke="#ff7f0e" stroke-width="5.5"/>
<path d="M258.7 198.6h0M292.6 185.3h0M237.2 208.4h0M236.8 211.4h0M253.1 204.4h0M247.4 207.7h0M229.2 208.9h0M236.9 215h0M273 194.8h0M226.2 211.4h0M247.5 206.2h0M266 195.7h0M282.5 186.2h0M267.5 195.1h0M243.6 207.1h0M227.8 207.5h0M234.7 211.4h0M230.2 211.2h0M237.9 208.9h0M274.9 190.7h0M254.8 204.4h0M268.6 195.9h0M286 186.8h0M224.9 207.4h0M238.2 212.4h0M271 196.3h0M283.4 188.4h0M257.3 202.4h0M244.2 212.3h0M241 210.3h0M230.3 207.5h0M258 201.3h0M280.9 190h0M249.3 208.3h0M246.8 207.2h0M258.9 204.5h0M236.7 209.1h0M275.4 193.5h0M262.9 202.2h0M253.6 205.4h0M253 207h0M232.6 207.7h0M257.6 204.7h0M255.8 206.2h0M232.3 212h0M256.5 203.9h0M267.9 194.4h0M272.3 192h0M259.2 198.3h0M285.1 185h0M287.5 189.1h0M270.3 198.4h0M241.6 210.3h0M266.6 194h0M260.5 197.3h0M268.9 196.1h0M276.4 195.1h0M252.2 202.4h0M230.5 211.8h0M282.1 190.3h0M256.2 204.2h0M288 189.1h0M256.8 199.7h0M240.9 207.4h0M224.3 209.2h0M233 211.9h0M287.3 185.5h0M255.1 202.2h0M287.6 187.9h0M236.4 215.1h0M256.6 204.2h0M233.1 213.2h0M265.4 198.3h0M278.8 188.7h0M278.6 187.7h0M259.2 204.4h0M225.3 205.6h0M290.2 184.6h0M234.8 212.6h0M257.6 199.6h0M263.1 200.8h0M222.8 215.5h0M277.5 194h0M265.6 197h0M237.2 211.5h0M243.1 207.4h0M278.7 193h0M227.6 211h0M271.4 196.6h0M228.3 211.7h0M276.1 188.6h0M277.9 194.1h0M255.9 206.4h0M261.5 201h0M265.8 196.8h0M256.1 204.1h0M287.9 183.4h0M227 209.7h0M279.3 189.7h0M274 193h0M288.3 186.4h0M224.6 208.6h0M254.3 204.2h0M228.3 210.3h0M262.1 198.8h0M290.9 184.6h0M247.9 207.5h0M287.8 188.5h0M274.6 193.9h0M293.2 182.7h0M224.6 211.1h0M266.8 196h0M263.8 198.1h0M253.5 202.5h0M278.7 192.5h0M238.6 209.6h0M232.6 211.9h0M275.9 191.2h0M276 193h0M238.4 211.3h0M251 207.5h0M292.2 185.8h0M256.2 204.6h0M280.8 192.9h0M261 201.5h0M235.1 215h0M262.5 198.6h0M287.8 185.6h0M277.8 190.7h0M264.6 200.2h0M280.6 191.3h0M273.1 191.8h0M233.7 211.4h0M249.8 207.5h0M250 208.5h0M284.1 186.6h0M249 205.1h0M233.6 212.8h0M276.1 194.7h0M245.2 211.9h0M228.2 209.1h0M281.5 186h0M226.9 205h0M289.5 186.2h0M278.9 192.6h0M288.2 188.7h0M269.4 196.1h0M281.4 187.7h0M276.7 188.8h0M272.8 194.9h0M256.5 200.1h0M245.4 210.7h0M235 211.8h0M263.4 200.9h0M262.7 198.5h0M238.6 209h0M252.2 207.3h0M253.7 203.4h0M250.5 205.8h0M246.8 207.6h0M250 207.3h0M247.3 206.5h0M267.3 196.8h0M254.8 207.3h0M277.9 193h0M227.1 208.9h0M267.1 197.3h0M259.8 204.4h0M290.6 186.6h0M247.3 207.8h0M239.3 211.9h0M269.5 195.4h0M250.5 206.7h0M245.5 206.1h0M288.4 185.5h0M287 189.9h0M282.8 191.9h0M262.6 203.1h0M289.7 186.9h0M239.2 209.3h0M269.7 195.4h0M263.4 200.8h0M288.3 183.7h0M275.1 193.8h0M259.5 199.3h0M236.6 213h0M234.5 214.7h0M249.7 210h0M275 189.9h0M276.1 192.3h0M285.8 185h0M289.5 181.5h0M243.4 212.1h0M280 190.8h0M228.1 212.5h0M250.1 204.1h0M248.8 204.6h0M246.2 210.9h0M265.4 199.2h0M289.1 185.7h0M224.5 205h0M231.3 213.8h0M261.4 198.2h0M229 211.5h0M250.9 208h0M285.4 189.2h0M243 209.3h0M262.1 199.4h0M265.1 201.3h0M264.3 195.1h0M292.8 183.1h0M241 209.4h0M244.2 209.8h0M229.4 209.2h0M247.8 206.6h0M232.6 210.3h0M249 208.7h0M236.7 211.1h0M280.9 190.3h0M291.9 181.9h0M279.6 191h0M245.3 207.5h0M263.1 199.5h0M282.9 186.6h0M246.5 205.8h0M289.3 185.7h0M287.4 183.3h0M244.9 211.8h0M256.5 201.7h0M281.8 189.7h0M228.6 212h0M225.4 205.1h0M224.4 205.8h0M256.8 199.5h0M265.3 200.7h0M274.3 192.5h0M247.7 210.6h0M239.7 212.8h0M223.8 206.7h0M279.8 189.1h0M235.3 213.2h0M257.6 204.6h0M227.5 211.6h0M248.4 205.6h0M280.8 192.2h0M228.7 208.7h0M264.4 198.8h0M265.2 199.5h0M247 209.2h0M251.5 208.9h0M290.3 182.6h0M283.7 190.3h0M246.9 211.5h0M261 201h0M253.9 201.9h0M276.8 189.6h0M243.1 209.7h0M245.3 211.7h0M264.1 195.3h0M227 206.7h0M262.4 197.3h0M267.2 193.6h0M280.6 186.8h0M275.6 188.9h0M243.4 206.3h0M264.7 197.2h0M235.6 214h0M291.1 183.4h0M246.6 211.1h0M260.6 203.7h0M251.4 203.7h0M235.7 214.5h0M287.8 184.8h0M242.5 207.9h0M268.6 197.2h0M292.7 184.6h0M225 205.9h0M290.9 182.8h0M275.9 191.7h0M289.5 187.9h0M229.8 209.1h0M267.4 193.3h0M250.3 209.8h0M227.3 205.9h0M238.5 205.5h0M224 205.1h0M241 206.1h0M227 216.1h0M235.3 215h0M227.2 215.8h0M232.1 204.8h0M223.5 206.4h0M241 210h0M226.6 204.1h0M233.8 214.4h0M236 215.3h0M230.7 217h0M224.2 212.3h0M226.5 210.2h0M232.7 213.1h0M228 205.1h0M224 215.7h0M241.2 214h0M225.8 211.3h0M225.4 212.2h0M237.1 206h0M239.7 211.3h0M225.5 205.3h0M225.6 210.2h0M238.9 215.2h0M236 214.1h0M241.2 213.4h0M241.7 214.3h0M241 211.3h0M240.1 205.9h0M236.5 211.7h0M226.6 208.1h0M224.6 213.8h0M232.2 205h0M238.4 210.7h0M228.2 204.2h0M237 206.3h0M225.6 208.3h0M316.8 181.9h0M312.6 182.8h0M313.9 183.5h0M307.6 187.5h0M306.6 179.5h0M311.9 190.8h0M302.4 180.7h0M292 196.1h0M295.4 196.1h0M304 182.6h0M297.4 187.5h0M321.8 174.5h0M305.6 184.9h0M293.5 186.5h0M308.2 185h0M300.5 189.2h0M317.6 177h0M298 185.5h0M310.8 194.7h0M321.3 188.1h0M318.8 179.2h0M318.1 178.1h0M313.2 178.8h0M312.2 181.2h0M297.6 192.3h0M297.6 185.9h0M306.3 192.7h0M308.6 183.6h0M309.2 194.7h0M301.1 188.3h0M308.4 194.1h0M310.6 191.8h0M318.8 185.9h0M304.3 184.6h0M305.7 185.2h0M293.8 191.2h0M308.1 185.1h0M306.9 191.9h0M304 189h0M301.7 183.4h0M312.7 187.9h0M312.1 187h0M306 186.2h0M298.9 188.4h0M319.5 181.6h0M301.9 190.6h0M310.9 183.9h0M292.1 188.5h0M297.1 193.7h0M306 179.7h0M300.9 186.4h0M321.1 185.8h0M296.6 190.9h0M316.4 178.7h0M319.9 174.7h0M320.9 174.7h0M301.5 187.4h0M296.3 185.9h0M302.4 196.3h0M312.4 189.9h0M315.8 176.4h0M306.9 181.1h0M306.5 192.3h0M301.6 192.8h0M306.8 193.5h0M304.9 180.7h0M313.4 177h0M308.8 184.1h0M318.6 182.1h0M304.1 188.9h0M311.6 183.5h0M316.2 186.2h0M297.3 186.2h0M300.7 186.1h0M318.2 181.4h0M304.3 187.3h0M292.1 185.5h0M299.2 182.9h0M318.2 185.8h0M292.9 187.5h0M318.3 180.8h0M303.2 191h0M318.3 184.2h0M301.3 186.6h0M302.8 191.5h0M299.6 195.8h0M304.5 186.2h0M319.9 178.5h0M311.6 181.9h0M311 187.9h0M316.9 180.4h0M320.5 178.7h0M306.5 179.6h0M321.5 177.5h0M297.5 192h0M292.7 190.4h0M317 186.3h0M300.4 182.8h0M313.3 184.6h0M317.2 187.4h0M320.9 178.8h0M321 179h0M303.8 186.2h0M300.8 182.7h0M307.6 185.9h0M312.6 179.7h0M296.5 188.2h0M293.7 188.1h0M307 184.3h0M312 179.7h0M295.2 189.7h0M321 177.7h0M309.4 181.5h0M311.7 177.4h0M292.4 197.1h0M316.3 181.5h0M302.4 184.5h0M305.2 189.7h0M320 176.2h0M305.1 181.3h0M314.5 184.7h0M320.5 184.6h0M310.5 188.5h0M320.7 179.1h0M304.5 186.3h0M301.6 186.1h0M317.2 181.8h0M318.1 185.4h0M300.5 198.1h0M308 185.3h0M311.5 179.7h0M306.5 189.5h0M317.3 187.6h0M310.9 180.4h0M292.4 190.3h0M318.9 186.1h0M308.3 180.7h0M316.3 179.8h0M315.2 176.4h0M306.9 187.6h0M313 180.4h0M307.9 184.6h0M295.5 196.1h0M315.8 185.8h0M314.5 185.7h0M312.9 184.2h0M308.3 183.1h0M297.3 190.7h0M295.1 188.9h0M313.8 183.6h0M317.5 178.9h0M321 180h0M299.3 185.2h0M311.2 185.5h0M302.9 182.9h0M318.8 178.5h0M301.8 188h0M316.8 178.4h0M296.3 198.8h0M292.7 195.6h0M308.3 186.7h0M296.1 196.5h0M300.2 193.2h0M317.2 179.8h0M314.1 184h0M306.5 187.9h0M314.6 190.7h0M316.4 178.9h0M295.8 193.7h0M296.3 188.7h0M321.6 190.1h0M318.1 184.4h0M302.2 183.6h0M303.3 192.3h0M301.4 185.4h0M309 187.4h0M308 190.5h0M309.6 187h0M303.7 189.6h0M306.2 189.2h0M314.7 191.9h0M297 191.5h0M298.3 189.5h0M317.7 181.4h0M315.4 186.4h0M310.6 188.6h0M314 184.3h0M309.8 185.2h0M317.2 190.7h0M296.8 186.1h0M308.1 178.8h0M321.4 177.4h0M296.3 187.3h0M306.4 185.4h0M294.2 187.3h0M321.4 182.6h0M304.6 185.6h0M308.1 179.9h0M302.4 189.6h0M292.4 193.6h0M303.1 179.2h0M320.6 184.2h0M298.9 191.5h0M317.6 189.9h0M313.6 192.4h0M304.3 186.7h0M293.9 187h0M301.8 183.5h0M300.1 192.6h0M294.2 190.1h0M314.1 189.3h0M319.6 179.6h0M299.3 195.7h0M301.2 180h0M311.7 177.1h0M317.3 175.4h0M305.1 186.5h0M320.3 187.6h0M298 186h0M299.9 190.7h0M293.9 189.8h0M320.6 177.7h0M307.2 193.6h0M301.8 188.7h0M310.3 180.6h0M314.2 181.7h0M315.3 188.4h0M294.1 189.3h0M321.6 180.8h0M306.9 183.2h0M299.8 183.7h0M293.5 185.6h0M304.2 189.6h0M320.2 177.7h0M302.8 194.4h0M307.4 179.5h0M320.1 183.5h0M298 189.7h0M313.6 182.9h0M306.4 185.8h0M310.4 181.6h0M311.5 182.3h0M302.6 186.7h0M315.3 173.2h0M293.3 199.4h0M313.4 185.8h0M293.8 187.5h0M311.7 183.5h0M297.8 187.5h0M298.1 196.5h0M305.7 184h0M304.2 181.7h0M303.8 187.7h0M303.8 187.1h0M308.6 180.7h0M319.1 185h0M301.8 186.3h0M295.1 186.3h0M303.3 180.3h0M314.2 176.1h0M320.9 186.3h0M318.3 181.8h0M314.2 179.8h0M298.9 190.4h0M319.1 180.9h0M295.6 187.1h0M320.2 180.8h0M319.7 183.1h0M294.5 195.2h0M317.2 179.7h0M300.6 184.9h0M315.9 177.7h0M301.5 190.7h0M305 179.9h0M296.5 195.6h0M315.8 176.1h0M311.3 189h0M310.3 194.9h0M306.9 184.5h0M311.4 181.3h0M311.6 181.9h0M313.1 180.5h0M297.6 193.7h0M318.8 181.3h0M306.4 184.5h0M315.6 179.5h0M303.8 187.4h0M307.4 190.9h0M295.5 189.8h0M316.6 185.6h0M299.9 188.5h0M299.6 187.6h0M305.5 188.2h0M309.1 191.4h0M311.6 182.9h0M315.4 184.4h0M316.1 189.4h0M312.7 186.2h0M301.8 186h0M309.5 186.7h0M305.7 189.4h0M311.8 184.9h0M314.4 178.9h0M293 186.8h0M309.6 187.6h0M320.2 179.7h0M296.2 192.5h0M305.6 196.5h0M298.6 197.7h0M299.4 194.7h0M306.5 197.7h0M297.4 186.3h0M315.9 181.9h0M307.8 186.6h0M306.2 189.3h0M303.7 183.3h0M312.6 188.1h0M304.2 190.5h0M301.4 191.3h0M301.8 187h0M319 183.7h0M314.9 189.8h0M304.4 188.1h0M303.4 192.7h0M313.8 182.7h0M302 184.1h0M309.1 177.7h0M319.1 175.3h0M315.8 179.8h0M318.3 187h0M337.2 166.9h0M327 173.2h0M324.9 172.7h0M327.6 177.6h0M332.3 174.6h0M335.4 177.1h0M325.9 176.9h0M336.2 164.6h0M336.2 173.3h0M324.1 177.2h0M323.5 181.5h0M325.7 191.9h0M329.6 185.4h0M326.9 177.5h0M328.1 168.4h0M327.6 175.7h0M333.3 169.6h0M322.8 194.4h0M323.9 173h0M323 190.1h0M322.1 171.7h0M335.5 181h0M326.8 174.4h0M328.2 183.9h0M322.6 170.8h0M337 179.5h0M338.2 170.8h0M335.5 167.3h0M323 182.4h0M332.5 166h0M334.8 172.4h0M333.1 177.4h0M329.1 185.2h0M332.8 186.3h0M328.2 189.8h0M323.6 188.2h0M324.2 183.8h0M337.8 184.1h0M335.2 176.1h0M329.9 182.3h0M336.7 181.3h0M326.3 175.5h0M330.2 168.4h0M337.5 183.6h0M329.7 169.7h0M326.3 183.2h0M333.2 172.6h0M328.9 185.1h0M336.1 174.4h0M327.4 169.5h0M323.1 178h0M328 171.2h0M330.6 183.4h0M328 179.9h0M327 171h0M338.9 181.8h0M325 178.9h0M324.7 181.1h0M334.9 187.2h0M332.8 176.5h0M324.2 173.3h0M331.5 179.7h0M329.3 182.1h0M325.4 175h0M338.9 168.4h0M332 174.1h0M331 172.9h0M326.1 191.4h0M337.9 170.7h0M329.8 173.6h0M335.7 168.9h0M328.8 181.4h0M328.5 168.2h0M337.9 166.2h0M324.5 183.3h0M322.1 190.9h0M372.4 174.7h0M344.5 176.9h0M342.4 173.9h0M357.5 172.9h0M369.3 177.4h0M343.7 180.4h0M355.1 173.3h0M375.3 170h0M341.3 168.9h0M341 177.5h0M370.1 165.6h0M363.1 165.4h0M366.2 175.1h0M345.1 174.3h0M352 161.7h0M355.4 168.8h0M341.9 173h0M344.1 174h0M372 166.5h0M368.4 160.3h0M353 174.8h0M345.9 174.7h0M358.4 168.5h0M343.6 185.3h0M342.8 185.2h0M351 179.4h0M373.3 176.8h0M345.8 167.7h0M367.8 172.7h0M341.9 181.4h0M374.1 175.6h0M357.9 172.8h0M353.5 179.4h0M353.1 180.5h0M362.7 175.4h0M360.5 179.2h0M376 166h0M352.3 170.6h0M350.4 169.4h0M348.1 171.3h0M355.5 168.4h0M371.2 160.3h0M347.6 177.3h0M345.1 177.4h0M361.8 175.2h0M353.4 165.9h0M367.6 176.2h0M357.5 160h0M359.6 168.3h0M367.3 163.1h0M356.2 170.5h0M374.8 167.9h0M354.4 168.1h0M341.6 182.2h0M368.1 175.1h0M358.2 167.1h0M376.2 173.1h0M364.7 168.1h0M361 171.2h0M350.3 173.2h0M346.5 169.8h0M341.8 164.3h0M344.7 184.8h0M363.2 160.6h0M365 169h0M355.7 161.6h0M371.5 162.6h0M365.9 172.6h0M345.4 169.5h0M350.6 162h0M369.5 170.5h0M372.3 159.7h0M358.6 169.1h0M349.6 166.5h0M364.3 162.2h0M369.2 169.8h0M376.7 165.1h0M365.4 167.1h0M362.6 165.2h0M360.7 167.8h0M350.9 163.6h0M363.7 171.1h0M358.8 175.2h0M352.2 173.7h0M362.5 166.8h0M350.1 179.1h0M375.9 155.7h0M374.8 163.1h0M376.3 165.2h0M365.1 173.6h0M359.7 166.9h0M350.7 183.9h0M354.8 165.4h0M344.5 175.8h0M345.5 169.2h0M361.3 163.8h0M357.8 162h0M348.8 183.7h0M342.1 172h0M376.2 171.6h0M376.9 164.1h0M363.3 162.7h0M363.2 161.8h0M373.8 166.9h0M354.6 176.7h0M374.5 169.6h0M341.2 163.1h0M353 164.5h0M377.5 177.3h0M348.9 169.8h0M359 166.5h0M343.3 176.1h0M346.2 175.9h0M363.6 162.2h0M363.4 164.4h0M368.6 173.5h0M346.8 176.6h0M368 162.8h0M371.5 155.7h0M373.6 158.5h0M360.2 162.3h0M363.8 169.5h0M344.9 180.7h0M374.6 156.9h0M359.8 171.8h0M345.5 171.4h0M360.4 157.9h0M370.8 156.3h0M362.7 176.2h0M346.2 173.6h0M348.8 160.5h0M346.7 166.7h0M348.4 185.8h0M355.9 159.1h0M356.5 171.3h0M350.1 167.6h0M352.1 164.7h0M357.6 176.6h0M350.4 168.7h0M360.5 160.1h0M351.8 164.3h0M376.4 157.8h0M364.6 174.6h0M343.2 170.5h0M369.1 162h0M366 166.3h0M368.5 159.1h0M370.8 164.8h0M345.7 172.7h0M371.3 173.1h0M375.4 160.3h0M372.3 165h0M354.5 162.3h0M351 180.3h0M367 161.3h0M358.9 172.6h0M365.7 156.4h0M348.3 177.1h0M342.9 171.4h0M357.5 168.6h0M348.5 168.7h0M362 170.9h0M377.2 165.8h0M348.3 173.5h0M341.1 179.8h0M365.8 160.7h0M372.6 172.7h0M347 165.5h0M357.6 164h0M359.6 172.6h0M360.5 160.6h0M362.2 172.7h0M342 171.6h0M364.6 175.3h0M369.8 159.9h0M353.6 165.6h0M376.1 173.9h0M347.6 164.3h0M354.2 165.8h0M350.6 176.6h0M372.8 161.1h0M364 158.8h0M371.2 164h0M365.2 167.8h0M356.6 169.7h0M353.8 172.9h0M374.1 166.6h0M349.8 179.8h0M365.6 168.3h0M346.3 182h0M357.7 173.8h0M361.4 161.8h0M348.4 169.1h0M363.7 158.8h0M368.8 170.1h0M366.6 161.8h0M375.3 170.2h0M365.3 172.4h0M357.8 170.3h0M355 165.2h0M374.1 166.2h0M359.2 178.1h0M341.8 169.2h0M359.3 178h0M359.6 180.6h0M361 166.1h0M360 168.5h0M361 165.8h0M361 172h0M361.5 169h0M349.5 176.7h0M347.5 160.6h0M372.4 171.6h0M343.5 182.1h0M345.3 175.7h0M377.4 159.5h0M363.5 166.4h0M343.4 170h0M375 159.3h0M345.9 182.2h0M373.9 157.8h0M365 160.5h0M363 174.3h0M362.5 162.9h0M354.1 158.1h0M350.5 178.9h0M365.6 166.2h0M376.3 162.3h0M369 156.8h0M346 170.6h0M359.2 176.8h0M368.5 166.2h0M346.1 169.6h0M360.3 169.8h0M359.9 166.8h0M361.5 169.1h0M353.3 169.9h0M376.3 164.4h0M363.9 177.9h0M365.4 165.3h0M369.3 164.4h0M368.4 167.8h0M343.3 172.2h0M372.7 159.6h0M369.5 170.7h0M367.2 170.8h0M363 179.5h0M342.6 171.4h0M376.5 172.6h0M355.5 170h0M353.9 167.8h0M367.3 166.1h0M358.6 169.9h0M367.3 161.9h0M358.7 166.6h0M351.1 172h0M346.1 179.1h0M377.8 163.7h0M347.5 183.8h0M362.8 158.7h0M357.9 166.6h0M345.1 169.7h0M354.9 168.4h0M344.9 177.7h0M365.5 172.5h0M352.7 174.6h0M377.7 170.3h0M351.7 176.7h0M344.2 167.5h0M357.8 160.5h0M363.1 161.1h0M357.3 161.7h0M370.5 174.8h0M347.2 175.9h0M359 173.4h0M353.1 171.4h0M361.9 177.5h0M379.8 172.7h0M385.9 154.4h0M384.4 159.7h0M386 158.1h0M379.9 163.2h0M378.2 175.5h0M378.5 163.4h0M384.9 169.3h0M380.6 171.2h0M387.5 159.8h0M391.7 146.9h0M392.4 153h0M392.6 158.3h0M392.9 161.4h0M389.3 165.9h0M387.3 162.8h0M391 149.6h0M390.2 163.7h0M386.8 160.1h0M391.9 162.9h0M390.7 164.7h0M391.7 159.5h0M386.8 152.7h0M389.7 153.7h0M388.6 158.8h0M391.6 173.4h0M389.4 169.6h0M389.9 172.8h0M389.3 165.5h0M388 153.6h0M387.2 151.8h0M387.1 165.3h0M391.1 170.2h0M389.3 175.1h0M390.7 158.1h0M392.9 157.3h0M386.5 162.2h0M389.4 159.9h0M409.4 152.8h0M403.7 158.2h0M409.3 146.8h0M408.7 155.9h0M404.2 151.8h0M409.7 142h0M406.9 162.4h0M405.8 147.6h0M407.2 157.3h0M410.6 166.5h0M402.3 167.1h0M407.2 163.6h0M404.6 153.2h0M396.2 163.3h0M400.6 158.4h0M397.7 158.4h0M398.9 159.8h0M398.9 160.3h0M408.3 157.5h0M397.1 161.5h0M410 147.4h0M396.6 161.6h0M407.2 144.6h0M399.9 155h0M409.6 150.1h0M397.5 156.2h0M410.4 165.2h0M397.6 148.2h0M410.1 171h0M404.8 162.2h0M397 175.7h0M408.6 167.6h0M398.3 154.7h0M405 170.5h0M401.9 152.9h0M405.8 174.3h0M409 146.1h0M398.8 155.9h0M402.1 148.6h0M399.4 158h0M398 157.2h0M399.1 162h0M406.2 161.5h0M401.8 166.6h0M402.4 165.4h0M408.3 152.4h0M406.8 158.3h0M398 149.4h0M404.7 147.9h0M410.3 153.9h0M396.9 152.5h0M407.5 169.9h0M408.7 169.2h0M399.9 142.8h0M405.8 170.9h0M407.2 167.9h0M400.3 160.4h0M409.5 148.9h0M398.5 154.9h0M401.2 150.9h0M400.7 164.4h0M399.5 149.8h0M406.7 175.2h0M402.5 167.1h0M401.8 148.8h0M400.2 156.6h0M402.1 175.6h0M397.9 163.1h0M397.5 159.8h0M407.9 163.2h0M410 158.7h0M410.6 157.3h0M396.4 156.9h0M408 145.6h0M398.8 171h0M416 137.7h0M419.5 160.3h0M419.5 164.5h0M422 149.6h0M421.8 171.9h0M423.9 163.9h0M423.4 148.8h0M421.4 150.3h0M418.1 161.4h0M417.3 139.3h0M414.3 146.6h0M418.5 157.6h0M417.5 141.2h0M418.6 149.4h0M415.2 154h0M421.6 151.6h0M414.2 158.2h0M424.9 162.3h0M424.2 148.7h0M418.8 161.5h0M416.1 147.5h0M423.4 146.9h0M422.9 173.4h0M415.5 157.1h0M424.2 163.8h0M418.9 154.3h0M416 158.5h0M418.5 167.2h0M431.3 143.6h0M438.1 161.4h0M436.6 162.7h0M433.1 147.4h0M432 152.8h0M434.1 147.2h0M427.1 151.7h0M428.5 144.4h0M437.6 166.5h0M426.9 159.9h0M433.8 137.6h0M432.8 153.4h0M434.5 150.8h0M445.6 157h0M440.2 151.4h0M443.7 160h0M388.9 189.7h0M338.9 196.6h0M324.2 197.1h0M360.1 185.6h0M392.5 188.7h0M333.7 189.4h0M342.8 186.7h0M356.4 182.9h0M313 196.8h0M379.9 186.2h0M304.2 210h0M329.2 192h0M300.2 204.2h0M404.6 182.6h0M402.2 187.2h0M306.4 206.1h0M356.5 194.2h0M344.3 188.6h0M412.8 179.4h0M403.3 173.8h0M410.4 178.9h0M402.7 184.1h0M335.6 189.5h0M315.1 210h0M400.6 171.8h0M384.2 185.9h0M294.6 197.2h0M293.4 200.5h0M297.6 202.1h0M293.5 200.5h0M299.8 202.9h0M296.9 199.5h0M294.7 197.4h0M294.3 196.7h0M299.9 198.9h0M297.7 202.9h0M298 196.1h0M299.3 198.9h0M297.3 200.3h0M298.4 198.6h0M504 143.9h0M517.3 126h0M516.3 140.5h0M443.5 184.4h0M568.6 111.3h0M506.5 131.8h0M449.2 152.8h0M445.4 159.2h0M532.5 117h0M580.7 112.5h0M588.9 131.4h0M441.9 144.5h0M471.8 152.1h0M605.8 137.8h0M544.3 155.6h0M510.4 162.5h0M539.3 112.4h0M629.5 108.2h0M635.4 116.4h0M633 120h0M464.6 153h0M461 145h0M568.2 111.6h0M465.4 138.3h0M500.4 143.9h0M495.3 145.4h0M630.8 110.6h0M445.8 158.6h0M501.9 127.2h0M514.9 221.2h0M505.9 161h0M463 213.5h0M552.7 210.5h0M462.8 200h0M499.7 206.4h0M534.2 184h0M464.2 186.3h0M468.4 157.1h0M554.2 145.9h0M554.8 210.2h0M478.3 200.1h0M479.9 220.3h0M579.2 164.1h0M550.9 210.6h0M583 157.4h0M553.4 172.5h0M482.7 152.6h0M549.2 196.5h0M537.7 145.5h0M579.6 166.8h0M489.9 173.8h0M537.4 198.3h0M572.3 173.5h0M590.6 186.2h0M588.1 187.1h0M496.5 179.4h0M494.7 185.4h0M446.1 174.2h0M597 189h0M331.3 217.4h0M421.4 237.7h0M439.5 246.6h0M350 210.1h0M350.1 217.3h0M377.8 217.8h0M367 232h0M336.8 220h0M386.2 209.9h0M407 235.6h0M331.5 218.6h0M382.1 223.9h0M417.6 236.4h0M346.9 225.8h0M334.2 211.6h0M374.6 209.3h0" stroke="#ff7f0e" stroke-width="3.2"/>
<path d="M201.9 418.5L205.8 400L207.2 386" stroke="#ff7f0e" stroke-width="5.2"/>
<path d="M208.5 389.3h0M217.2 343.5h0M209 383.3h0M224.7 328h0M203.6 413.2h0M210.9 366.1h0M214.4 357.5h0M224.3 328.9h0M223.6 330h0M204 407.9h0M209.4 374.9h0M204.1 415.3h0M216.5 339.5h0M209.1 385.2h0M212 366.8h0M211.3 360.9h0M210.2 379.8h0M209.4 380.9h0M205.7 401.7h0M213 360.6h0M219.7 336.2h0M222.6 330h0M204.6 399.4h0M203 410.9h0M216.4 354.8h0M220.4 333.6h0M206.9 396.6h0M206.9 390.8h0M208.2 380.8h0M218.9 337.3h0M200.9 416.3h0M218.7 340.2h0M218.6 341.1h0M217 346.3h0M205.3 399.2h0M205.3 395.3h0M207.9 391.1h0M211.6 374.8h0M211.6 369.5h0M210.5 375.9h0M215.7 348h0M210.4 377.9h0M207.2 398.5h0M222.8 332.6h0M214.9 347.3h0M215.9 347.3h0M216.7 343.6h0M210.6 371.5h0M216.5 345.1h0M206.3 401.7h0M201.6 419.2h0M209.6 371.5h0M215.9 352.5h0M209.6 375.2h0M208.9 374.4h0M207 388.9h0M207.7 394.1h0M213.7 362.5h0M207 389.1h0M213.5 366.7h0M212.9 361.9h0M210 373.4h0M209.9 384.3h0M222.8 331.6h0M223.4 326.3h0M205 410.5h0M217.2 342.5h0M201.7 419.8h0M213.6 359.4h0M212.2 360.5h0M201.7 411.3h0M210.6 374.3h0M216.8 341.9h0M208.6 380.7h0M207.6 394.6h0M205.7 400.1h0M218.1 340.7h0M221.1 332.2h0M219.7 338.2h0M217.4 345.3h0M207.1 348h0M207.6 354.9h0M206.9 351.1h0M207.1 349.2h0M207.5 354.8h0M207.2 349.3h0" stroke="#ff7f0e" stroke-width="3.2"/>
<path d="M224 327.5L226.7 331.6L258.5 361.1L261 366" stroke="#ff7f0e" stroke-width="4.3"/>
<path d="M236.2 341.8h0M230.6 333.6h0M239.7 341.5h0M228.5 330.6h0M224.5 326.1h0M256.2 358.7h0M238.8 343.4h0M235.3 339.5h0M230.8 333.4h0M242.7 347.4h0M224.2 327.9h0M232.7 335.4h0M226.7 331.5h0M241.8 347.3h0M256.8 361.8h0M239.1 341h0M251.6 353.9h0M252.7 356.9h0M250.8 353.9h0M234.9 339h0M246.9 349.7h0M250.5 352.9h0M236.6 342.6h0M237.2 339.6h0M233.3 338.8h0M224.2 330.2h0M224.3 330.2h0M228.4 331.2h0M231.1 334.2h0M246.9 352h0M230.8 336.2h0M241.5 346.1h0M251.1 356.7h0M250.6 351.3h0M228.4 335.8h0M225.6 332.5h0M254.1 354.5h0M239.4 341.6h0M254.7 355.3h0M260.3 365.6h0M251.8 355.9h0M234.1 338h0M245.1 346.2h0M247 349.3h0M234.6 337.8h0M237.4 341.5h0M231.5 337.4h0M248.4 354.4h0M259.5 364.3h0M251.9 352.9h0M225.6 329.4h0M243.6 348.3h0M245.9 350.9h0M239.7 342.7h0M254.6 356.9h0M237 341.4h0M256.7 361.8h0M238.1 344.1h0M235.6 337.8h0M242.2 347.6h0M255.7 360.9h0M245.5 348.7h0M246.9 350.1h0M234.6 336.7h0M235.8 341h0M224.4 326.6h0M246.6 351.6h0M230 336.8h0M256.5 358h0M235.6 340.9h0M230.4 333.6h0M257.7 359.7h0M255.9 359.2h0M242 345.9h0" stroke="#ff7f0e" stroke-width="3.2"/>
<path d="M227.6 372L234 372L235 381.5L239 381.5L240 369L244.5 369L245.5 381L259.5 378.5L260.5 368L262 368L277 371.5L288 373L289 379.5L293 379.5L294 376.5L305 379L338.8 388.8L374 392.5" stroke="#ff7f0e" stroke-width="5"/>
<path d="M373.2 394.3h0M237.8 382.6h0M252.3 381.4h0M353.4 390.4h0M254.2 378.5h0M264.7 365.7h0M277.6 371.6h0M233.5 369.4h0M246.1 379.5h0M252.6 376.6h0M302.4 378.5h0M253 376.5h0M349.4 392.8h0M324.3 384.9h0M290.9 377.8h0M293.6 377.7h0M297.7 376.6h0M253.9 379h0M358.1 389.5h0M302.8 377.5h0M361.3 388.4h0M320.7 386.6h0M280.4 374.5h0M286.4 372h0M266 368h0M313.5 383.9h0M314.6 380.9h0M251 382.5h0M329.4 383.3h0M281.9 373h0M361.3 389.1h0M277.9 374h0M295.4 380h0M330.5 388.3h0M235.7 380.8h0M265.8 369.7h0M360.2 390.1h0M339.2 385.7h0M358.2 391.6h0M335.6 388.2h0M257.8 379.7h0M361.4 388h0M246.6 380.2h0M232.3 372h0M350.5 389.6h0M351.1 391.7h0M278.8 372.9h0M362.3 391.4h0M360.7 393.4h0M303.5 376.6h0M366.8 394h0M288.7 379.6h0M244.2 368.7h0M236.1 384.4h0M299.6 375h0M276 371.6h0M290.5 379.5h0M303.4 379.5h0M314.6 384.3h0M244.5 371.5h0M237.3 382.4h0M346.7 389.7h0M257.1 377.9h0M316.6 382.2h0M282.3 371.8h0M228.6 370h0M244 371.1h0M353.7 388.6h0M350.2 390h0M313.2 383.3h0M294.4 375.8h0M234.5 376.7h0M317.3 379.8h0M353.2 387.3h0M346.3 391.8h0M319.1 380.3h0M326.4 384.5h0M282.8 371.1h0M319 380.5h0M367.1 390.3h0M241.1 370.7h0M329.2 387.1h0M256.1 377.4h0M308 380.3h0M249.1 379.3h0M312 381.6h0M305.8 377.5h0M263.1 367.4h0M292.2 381.5h0M328.6 388.7h0M296.2 378.6h0M269.2 370.5h0M282.5 372.2h0M249.4 377.5h0M230.7 372.9h0M282.9 372.9h0M298.2 375.5h0M260.7 370.3h0M245.8 379.9h0M282 370.2h0M233.2 373.9h0M232.1 370.6h0M317.2 380.5h0M276.3 370h0M268.2 368.6h0M367.9 390.5h0M281.3 374.1h0M251.9 382h0M242.9 370.9h0M247.9 382.9h0M360.6 389.6h0M359.9 390.4h0M291.6 376.9h0M360.4 392.5h0M325.6 387.7h0M231.2 372.3h0M247.2 378.1h0M245.7 378.4h0M282.6 369.3h0M304.2 377.6h0M234.4 377h0M252.9 377.7h0M322.4 383.3h0M328.2 383.8h0M258.6 376.8h0M248.5 381.5h0M236.4 378.5h0M270.2 366.8h0M327.8 387.2h0M289.6 381.6h0M284.6 375.6h0M288.5 378.6h0M250 377.3h0M295.5 376.7h0M231.5 374.7h0M234.3 372.4h0M253.9 381.8h0M373.1 392.9h0M310.7 383.3h0M351.2 387.7h0M328.1 383.6h0M329.6 383.3h0M275 369.4h0M327 386.7h0M238.7 384.2h0M253.5 379.6h0M326.7 387.8h0M313.2 378.5h0M355.1 389.6h0M285.9 372.4h0M313.3 382.2h0M276.8 373.9h0M354.9 391.8h0M228.6 372.2h0M324.2 386.4h0M251 382.9h0M369.9 394.4h0M242.8 370.9h0M276 373.6h0M297.7 375.1h0M317 379.6h0M346 390.3h0M320.2 381.2h0M303.7 378.6h0M258 381.5h0M265.4 367.3h0M325.2 385.8h0M341.9 390.3h0M313.2 383.5h0M266.9 369.8h0M346.5 389.1h0M353.8 393.2h0M301 376.7h0M300.6 381h0M311.6 379.5h0M368.9 392.9h0M328.6 386.7h0M276.4 372.4h0M241.8 371.2h0M268.6 368.8h0M251.5 377h0M343.3 390.3h0M348.3 388.2h0M310.9 379h0M292 379.2h0M373.1 389.6h0M315.9 381.3h0M259.6 374.6h0M259.3 376.6h0M319.6 383.8h0M347.9 388.1h0M266.5 367.8h0M282.3 369.7h0M275.7 371.5h0M329.1 383.2h0M262.1 366.7h0M315.9 379.7h0M360.6 391.7h0M357.7 392h0M338.9 390.6h0M267 371h0M238.7 384.3h0M293.5 377.5h0M304.9 380.3h0M352.5 389.7h0M233.7 373.1h0M321.3 385.9h0M348.3 390.9h0M320.6 381.2h0M256.2 376.5h0M372.2 395.4h0M342.2 391h0M256.4 378.5h0M254.3 380.7h0M260.9 370h0M307.4 382.9h0M338.3 391.8h0M286.7 375h0M322.2 386.3h0M364.5 390.8h0M282.4 375.1h0M256.2 378h0M352.1 390h0M368.3 394.9h0M298.4 375.8h0M267.9 372.1h0M366.8 388.8h0M369.6 391.9h0M292 380.4h0M360.9 393.5h0M322.7 383.7h0M363.8 389.1h0M304.5 377.7h0M355.3 389.2h0M363.1 392.8h0M234.5 373.6h0M316.2 383.5h0M329.1 385.7h0M242.5 366.8h0M259.8 372.8h0M318.8 379.8h0M350.3 390.7h0M298.6 375.7h0M245.2 375.3h0M366 392.1h0M294.8 379.1h0M365.8 391.5h0M274.4 371h0M302.3 380.7h0M264.7 371.1h0M330.6 386.5h0M295.4 379.6h0M308.9 380.8h0M247.8 380.9h0M317.2 385.2h0M263.2 370.4h0M347.3 390.4h0M320.1 386.3h0M326.4 385.8h0M266.3 367.8h0M332.9 389h0M370.9 392.3h0M324.8 384.4h0M253 377.9h0M354 390.2h0M250.3 378.9h0M273 368.7h0M362.4 393.6h0M335.1 385.6h0M331 387.3h0M265.9 366.3h0M233.3 371.8h0M369.3 389.9h0M345.8 388.1h0M342.9 391.6h0M341.1 386.3h0M267.5 366.7h0M261.7 364.9h0M333.4 385.5h0M331.3 388.5h0M227.7 371h0M353.3 388h0M300.5 379h0M286.8 372.2h0M310 377.3h0M296.5 375.9h0M343.5 391.8h0M314.6 383.3h0M315.7 379.5h0M360.6 391.3h0M257.2 376.9h0M306.2 382.4h0M280.4 370.9h0M366.4 394.6h0M335.4 389.5h0M316.3 379.9h0M264.4 370.9h0M337.9 387.9h0M301.5 379.2h0M332.9 385.1h0M372.4 393h0M269.7 369h0M312.7 383.7h0M355.2 389.3h0M249.1 383h0M228.8 370.6h0M300.3 377.3h0M266.4 371.4h0M258.5 380.6h0M336.4 388.9h0M232.6 371.9h0M273.2 368.5h0M256.8 381.3h0M344.3 388.3h0M329.3 386.4h0M330.5 386.7h0M356.2 391.5h0M277.9 369.9h0M248.5 379.8h0M228.1 368.8h0M284.8 369.6h0M287.2 371.1h0M277.2 371.3h0M233.6 373.9h0M359.8 391.1h0M274.6 368.2h0M247.4 383.6h0M260.7 364.9h0M268.1 370.1h0M347.5 388.7h0M273.5 373.2h0M338.1 389h0M248.8 379.9h0M324.4 386.3h0M367.1 388.8h0M356 392.7h0M299.8 378.4h0M308.2 379.9h0M358.6 393.1h0M294.5 375.5h0M296.4 379.9h0M339.9 387.7h0M276.4 374.1h0M355.1 392.3h0M370.7 389.1h0M263.8 368.2h0M367.4 389.1h0M350.4 393.2h0M346.3 392.2h0M333.1 385.6h0M276.7 368.3h0M277.9 371.7h0M261.6 365.4h0M353.3 391.3h0M358 392.4h0M314.9 380.4h0M229.5 375h0M237.4 382.5h0M261.4 367.8h0M289.2 377.8h0M267.6 366.2h0M235.8 380.4h0M297.9 380.2h0M312.5 380.9h0M337.8 389.6h0M287.4 373.2h0M364 391.3h0M321.6 383.1h0M265.4 367.9h0M285 375.6h0M308 379.9h0M272.6 368.2h0M363.3 392.8h0M299.3 375.7h0M329.5 383.8h0M272.5 368.8h0M338.5 389.1h0M357.7 389.9h0M303.4 377.6h0M333.3 386.1h0M306.1 378.8h0M306.5 380.6h0M276.1 369.9h0M294.7 375.8h0M288 373.8h0M276.5 369.4h0M252.8 379.3h0M350.8 390.7h0M270.8 367.8h0M228.5 373.2h0M254.7 382.1h0M282.1 371.6h0M339.9 390.6h0M332.9 386.6h0M306.6 378.8h0M241.8 368.2h0M267.3 368.7h0M367.6 393h0M304.5 381.9h0M236.1 380.3h0M267.3 366.9h0M340.4 392.1h0M262.5 368.5h0M286.9 374.8h0M314.9 379.7h0M304.7 376.9h0M356 389.3h0M230.3 372h0M247.7 380.2h0M367.7 394.9h0M335 384.8h0M255.6 377.8h0M249.7 381.8h0M284.1 373.1h0M370.7 392.6h0M340.6 390.8h0M254.5 379.3h0M259.6 377.7h0M285.4 374.3h0M341 387.3h0M267.7 371.2h0M319.5 382.5h0M279.5 370.6h0M246.2 378.5h0M332.1 386.2h0M249.1 380.9h0M370.1 393h0M243.7 372.2h0M229.1 369.5h0M310 381h0M362.8 392.7h0M243.9 372h0M296.5 375.7h0M314.9 383h0M300.4 375.3h0M327.4 384.1h0M234.3 372.2h0M231.6 373.5h0M316.4 380.6h0M393.6 391.9h0M378.9 395h0M389.3 391.5h0M382.7 390.2h0M385 396.1h0M385.9 393.2h0M377 392.6h0M394.7 391.8h0M389.3 390.8h0M376.9 393.4h0M377 394.9h0M374.3 391.1h0M378.1 392.4h0M379.5 394.4h0M385.7 394.3h0M388.1 393.5h0M391.9 396.3h0M393.1 396.6h0M392.4 393.8h0M392 395.3h0M394 396.7h0M391.6 396.2h0M378.1 393.7h0M378.5 390.2h0M376.1 393.1h0M379.5 395.5h0M389.3 392.2h0M389.8 392.7h0M387.8 396.3h0M381.8 392.3h0M383.3 394.1h0M380.9 393.6h0M389.2 392.1h0M382.4 394.2h0M392 392.5h0M377.7 391.2h0M388.2 394h0M392.8 393.4h0M394.9 392.8h0M387.6 395.5h0M388.1 392.1h0M391.3 395.8h0M379.9 394.8h0M387.6 394.8h0M374.8 393.7h0M380.5 390.4h0M398.2 391.9h0M403.7 393.6h0M416.4 393.6h0M417 394.6h0M397.5 393.8h0M407.2 396.1h0M408.2 393.7h0M416.6 394.7h0M406 397.3h0M399.3 393.5h0M402.4 396.7h0M421.3 397.7h0M397 394.8h0M398.8 396h0M411.2 395.7h0M418.8 397.2h0M407.5 395.4h0M417.8 395.2h0M414.5 395.7h0M410.6 395.7h0M404.7 392.4h0M395.7 394.7h0M397.4 392.7h0M417.4 397.5h0M402.4 395.3h0M419.2 394.5h0M415.9 396.9h0M396.1 396.1h0M402.5 395.1h0M410.8 397.3h0M401.1 395.7h0M420.2 395.3h0M410.2 396.9h0M412.2 394h0M412.3 394.2h0M405.3 396.1h0M411.7 396.5h0M396.7 394.6h0M405 394.3h0M406.4 396.4h0M420.7 393.9h0M410.7 394.1h0M421.9 394.1h0M403.8 393.9h0M397 394.6h0M398.6 396.4h0M397.4 396.5h0M413.2 393.5h0M412.6 395.8h0M404.5 396h0M417 396.4h0M412.2 395.5h0M395.4 396.1h0M403.2 396.4h0M414.7 393.3h0M422 397.3h0M421.9 396.9h0M398.2 393.3h0M401.9 396.4h0M406.3 397h0M421.1 397.1h0M413.4 397.3h0M400.6 395.1h0M397.3 393h0M417 396.4h0M411.4 396h0M410.7 397.1h0M404.5 395.2h0M401.8 395.1h0M408.4 393.3h0M402.9 395.9h0M398.5 393.4h0M420.3 397.2h0M408.7 393.6h0M410.3 395.7h0M410.6 393h0M413.1 397.4h0M400.4 393.6h0M416.6 397h0M403.5 393.5h0M413.5 395.5h0M397.6 394.7h0M398.9 395h0M417.6 397.4h0M418.9 395.4h0M395.4 394.1h0M421.1 396.8h0M407.2 397h0M414.7 396.2h0M417.6 397.9h0M400.2 393.5h0M420.4 394.2h0M397.9 392.3h0M419.4 395.8h0M353.9 349.9h0M355.7 349.4h0M350.5 347.8h0M348.1 351h0M348.5 348.1h0M367.3 340.4h0M358.6 349.9h0M356.9 346.5h0M354.3 346.6h0M347.7 348.9h0M349 349.9h0M353.1 349.5h0M354.6 347h0M368 336.7h0M346.6 352.8h0M356.3 349.4h0M350.2 351.5h0M360.9 345.2h0M352.7 349.6h0M357 345.6h0M346.3 350.1h0M361.6 345.7h0M348.4 350.7h0M353.3 346.7h0M352.4 347.8h0M367.8 340.2h0M351.6 350.6h0M363.4 346h0M349.5 348.6h0M364.4 344.6h0M353.7 347.9h0M368 336.3h0M351.6 347.7h0M346.4 348.3h0M347.5 353h0M350.8 349.2h0M355.9 350.8h0M350.3 347.1h0M350.1 349.6h0M349 348.2h0M348 349.2h0M357.8 346.9h0M366.6 339.5h0M364.9 340.5h0M348.1 347.8h0M357.9 345.6h0M346.6 352.6h0M356.4 350.5h0M349 353h0M359.1 347.3h0M351.4 347.9h0M364.3 347.5h0M367.1 339.8h0M359.1 349.7h0M363.3 343.6h0M356.4 347.2h0M348.6 353h0M367.5 341h0M356.6 350.3h0M360.3 345.3h0M352.2 349.6h0M359.1 349.4h0M351.7 351.9h0M346.8 352.5h0M363 347.3h0M349.9 348.5h0M350.4 349.2h0M361 346.2h0M367.3 342.1h0M350.4 348.7h0M354 348.9h0M350.4 349.3h0M346.2 348.9h0M347.9 348h0M348.9 349.9h0M347.1 348.5h0M361 345.9h0M349.3 347.7h0M358.7 346.8h0M364.7 343.2h0M364.9 345.5h0M353.9 346.9h0M348.3 347.4h0M358.3 347h0M351.8 349.4h0M354.8 351.2h0M359.7 348.2h0M364.1 344.5h0M350.3 349.5h0M361.8 348.5h0M351.8 346.3h0M361.1 346.8h0M353.9 349.4h0M364.2 346.6h0M362.9 346.1h0M361.6 347.3h0M364.3 345.4h0M346.7 350.8h0M356.5 346.7h0M366.2 343.7h0M352.7 348.6h0M361.8 343.9h0M363.3 345.9h0M355.1 347.3h0M360.1 344.5h0M355.8 348.2h0M356.3 348.4h0M358.9 344h0M366.8 341.5h0M361 346.1h0M346.7 348.1h0M353.8 348.1h0M356.9 348h0M352.8 346.9h0M351.2 350.7h0M348.5 349.6h0M358 346.8h0M358.6 349h0M349.1 347.9h0M366.1 342h0M355.8 347h0M351.9 348.4h0M360.3 348.2h0M366.3 339.7h0M350.1 350h0M355.3 345.8h0M360.9 345.8h0M363.3 346h0M348.2 351.8h0M366.8 339.3h0M353.4 348.6h0M360.6 346.7h0M371.6 339.9h0M370.8 331.6h0M369.2 340.1h0M368.7 335.2h0M369.2 342.7h0M368.2 337.6h0M371.5 336.5h0M368.3 338.1h0M373.9 346.1h0M369.1 342.8h0M368.2 345.8h0M369.1 326.1h0M370.4 333.4h0M367.9 342.1h0M371.7 340.3h0M369.1 333.3h0M367.1 322.9h0M371.5 329.3h0M370.7 340.6h0M370.6 339.1h0M371.4 340.4h0M369.2 339.7h0M369.5 327.1h0M369.1 333.3h0M370.7 334.5h0M369.3 340.1h0M370.8 340.6h0M367.9 326.7h0M372.2 344.3h0M371.6 345.2h0M370 337h0M370.8 343h0M369.1 333h0M370.8 339.3h0M368.7 344.6h0M368 327.8h0M368.6 339.1h0M370.4 339.7h0M371.7 334.8h0M370.6 344.1h0M371.6 341.2h0M368.5 331.6h0M368.3 325h0M369.4 331.1h0M372.2 336.1h0M371 340.9h0M371.3 333h0M369.2 328.7h0M371.1 336.5h0M368.7 331.2h0M371.7 341.8h0M370.6 340.7h0M368.9 340.3h0M369.2 344h0M371.7 334.1h0M370.5 329.4h0M370.6 340.1h0M370.3 327.7h0M368.5 331.3h0M371.2 342.3h0M424.1 347.1h0M421.8 346.4h0M422.6 341.8h0M423.4 338.7h0M423.1 352.7h0M424 346.8h0M423.3 346.9h0M422.5 334.9h0M422.6 350.1h0M423.7 340.3h0M423.5 339.8h0M424.1 338.9h0M423.1 337.6h0M423.2 341.1h0M423.5 333.2h0M423.4 348.2h0M424.6 335.1h0M423.8 335.4h0M424.2 350h0M422.5 334.8h0M423 350.9h0M423.3 340.5h0M423.1 339.5h0M423.7 334.4h0M422.8 331.2h0M423.7 350.4h0M409 350.8h0M408 342.6h0M409.2 345.4h0M410.3 350.7h0M409.1 347.8h0M408.8 341.9h0M410.5 346.6h0M411.4 353.2h0M408 345.3h0M410.8 351.6h0M408.8 342.8h0M408.6 345.5h0M446.1 347.9h0M439.5 348.2h0M445.5 336.3h0M446.2 348.1h0M442.3 344h0M442.7 352.5h0M444.3 348.9h0M442.4 345h0M456.6 344.5h0M446.6 351.8h0M449.2 346.9h0M434.1 335.1h0M445.4 342.3h0M445.9 344.7h0M447.4 343.5h0M445.3 340.6h0M448.8 343.8h0M442.2 342.4h0M442.9 348.8h0M437.3 346.3h0M446.1 345.9h0M445 338.8h0M447.7 340h0M445.2 344.1h0M441.4 344h0M451.9 338.6h0M450.7 344.4h0M442.9 348.9h0M443.2 341.8h0M446.8 350.1h0M446.5 345.1h0M442.9 341.3h0M447.2 344.6h0M443.2 338.3h0M443.9 354.1h0M447.9 336.5h0M443.6 341.5h0M444.5 337.6h0M446.5 343.9h0M447.5 341.5h0M447.7 347.1h0M451.6 338.5h0M441.4 342.6h0M444.1 345.7h0M448.5 348.8h0M445 346.1h0M440.5 338.7h0M439.5 343.4h0M447.1 349.8h0M450.9 335.8h0M438.1 345.3h0M448.2 344.3h0M446.2 340.1h0M448.5 341.3h0M446.9 345.5h0M340.7 402.2h0M306.8 414.3h0M318.2 405.9h0M316.7 399.7h0M314.6 404.9h0M362 414.9h0M331.6 401.9h0M362 398.2h0M331.7 419.1h0M359 399h0M314.5 416.6h0M303.7 398h0M305.1 397.5h0M338.8 405.3h0M320.5 404.1h0M372.4 406.6h0M335.5 414.1h0M304.6 415.1h0M357.3 412.5h0M331.1 398h0M373.8 401.5h0M327.9 404.7h0M352.5 412.4h0M320.8 403.3h0M345.6 409.8h0M387.7 352.4h0M435 352.7h0M436.7 343.5h0M396.2 353.7h0M387.8 350h0M397.8 345.1h0M391.3 355.2h0M399.5 342.3h0M387.2 356h0M421.3 347.3h0M376.8 346.3h0M399.4 347.7h0M414.5 350.4h0M402.4 346.5h0M400.5 354.5h0M405.7 353.8h0M420.2 346.6h0M413.1 343.7h0M415.2 345.5h0M423 345.4h0M420.7 344.8h0M405.2 353.3h0M389.8 340.3h0M405.7 355.2h0M416.8 354h0M417.9 347.9h0M418.6 348h0M401.8 352.5h0M432.9 342.6h0M401.6 345.7h0M397.9 347.6h0M434.3 349.2h0M383.5 340.7h0M423.5 353.9h0M396.3 351.5h0M406.9 340.2h0M390.3 349.4h0M430.6 353.5h0M437.3 352.7h0M389.1 348.1h0M460.4 352.7h0M457.8 357.6h0M500.1 348.7h0M530.8 366.9h0M453.3 355.2h0M488 342.7h0M489.4 356.8h0M513.3 356.9h0M518.2 356.8h0M637.5 374.7h0M489.3 353.2h0M489.7 348.1h0M488.6 359.8h0M606.3 378.1h0M630 370.7h0M600.2 361.9h0M621.3 379.3h0M469.5 347.6h0M487 360.3h0M531.2 367.9h0M578.9 357.3h0M490.7 353.1h0M479.4 360.1h0M506.5 368.6h0M521.8 365h0M497 354.3h0M473.6 349.3h0M570 362.8h0M478.4 356.7h0M549.7 370h0M546.6 360.6h0M457.5 351.9h0M619.6 371.1h0M593.8 379.1h0M611.4 369.1h0M464 352.8h0M584.7 361.8h0M501.9 361h0M514.1 350.2h0M501.9 348.4h0M488.2 349.4h0M454.2 355.9h0M507.8 340.4h0M504.7 365.3h0M456.4 360.8h0M613.7 373.6h0M464.6 343.6h0M458.1 360.3h0M579.5 356.3h0M496.5 369.4h0M469.6 347.1h0M471.3 363.6h0M528.8 367.8h0M534.2 348.8h0M513.3 367.1h0M477.3 359.4h0M507 361.1h0M470.5 355.1h0M504 367.9h0M556.9 355.7h0M492.2 359.3h0M519.6 358.4h0M476.3 359.7h0M580.6 364.2h0M512.2 348.3h0M476.7 354.4h0M501.9 359.3h0M522.6 363.9h0M489.4 363.3h0M573.3 378.8h0M574.2 377.5h0M512.3 360.6h0M495.2 365.9h0M533.9 362.4h0M481.4 358h0M633.9 373.1h0M524.5 362.3h0M629.9 356.5h0M581.5 373.8h0M482.9 354h0M575.3 388.3h0M464.6 354.7h0M604.9 352h0M585.5 367.4h0M472.6 355.5h0M512.9 354.4h0M454.1 349.7h0M480 354.1h0M544.6 365.2h0M538.6 366h0M633.5 384.7h0M562.4 362.1h0M507.6 365.6h0M586.5 355.8h0M610.2 381.5h0M553.7 371.2h0M460.7 346.5h0M470.6 361.3h0M496.1 351.7h0M546 367.7h0M467 349h0M456.2 343.4h0M457.2 341.9h0M571.1 356.8h0M524.5 355.1h0M499.8 360.3h0M473.4 350.4h0M578.5 358.7h0M609.6 387.4h0M504.7 357.7h0M635.7 379.1h0M551.5 363.7h0M506.9 356.7h0M495.1 345.9h0M478.2 365.1h0M556.9 370.7h0M515.2 361.2h0M548.5 353.7h0M496 350.5h0M451.8 356.7h0M462.2 358.8h0M461.2 351.8h0M469.9 360h0M598.3 360.3h0M489 366.3h0M486.8 355.4h0M464.3 350.8h0M484.6 353.4h0M482.2 356.7h0M470.8 360.3h0M475.1 350.5h0M609.7 374.4h0M474.8 359.8h0M469.1 343.2h0M500.8 356h0M619.3 375.6h0M486.7 349.2h0M455.3 352.1h0M453.1 348.8h0M491.1 349.2h0M450.5 351.8h0M480.4 364.1h0M623 365h0M451 362.5h0M450.7 351.6h0M590.6 349.5h0M525.5 356.6h0M507.1 353.1h0M469.8 361.1h0M493.3 353.5h0M633.1 381.2h0M601.4 359.7h0M462.1 361.5h0M540.4 360.3h0M571.7 356.8h0M515.3 367.5h0M530.6 371h0M523.1 354.6h0M472.7 358.6h0M514.5 355.2h0M502.5 355.1h0M610.8 371.6h0M521.5 352h0M514.7 376.5h0M496.6 353.9h0M464.5 347.1h0M631.1 377.4h0M591.2 384.4h0M504.7 358.5h0M614.2 384.6h0M589.9 374.6h0M467.3 357.4h0M475.5 356.1h0M556.7 372.1h0M487.6 359.6h0M510.4 352.9h0M584.8 360.3h0M588.5 375.6h0M469.6 344.9h0M465 358.9h0M493.9 347.9h0M585.8 356.1h0M511.7 359.1h0M512.4 372.4h0M602.3 388.6h0M481.3 348.2h0M452.4 344.5h0M479.9 354.2h0M498 355.8h0M467.5 356h0M450.8 354.2h0M539.7 363.5h0M491.9 355.7h0M541.1 363.1h0M515.1 373.4h0M469.9 350.5h0M602.2 354.3h0M490.9 355.8h0M460.8 363.6h0M507.5 371.2h0M455.3 352.2h0M522.4 358.1h0M476.9 357.6h0M488.2 341.1h0M570.2 366.2h0M538.7 354.5h0M598.7 364.9h0M511.3 365.3h0M612.7 360.4h0M528.8 367.5h0M608.1 381.6h0M552.3 370.4h0M644.2 360.5h0M502.6 355h0M474 353.9h0M629.3 370.2h0M500.6 365.9h0M600.2 365.5h0M538.2 367.2h0M625.9 377.5h0M571.4 366.6h0M556.1 370.2h0M459.6 351.7h0M492.8 355h0M485.4 359.5h0M620.1 350h0M501.1 353.7h0M517.5 362h0M467.6 354.3h0M605.8 362.2h0M568.9 357.8h0M450.3 344.3h0M547.4 351.8h0M535.2 366h0M533.6 357.1h0M493.9 348.5h0M480 357.7h0M510.2 358h0M518.3 356.9h0M551.1 367.5h0M588.4 370.4h0M507.5 359h0M543.5 355.5h0M461.5 355.2h0M636.9 362.4h0M485.9 358.8h0M558.6 375.7h0M453.1 342.3h0M600.5 378.9h0M486.1 353.4h0M460.1 348.3h0M566.2 359.4h0M455.7 363.9h0M557.4 369.8h0M552.8 369h0M601.1 385h0M466.4 356.1h0M506.8 341.6h0M587.8 365.4h0M487.5 352.4h0M461.7 358.2h0M465.1 351.8h0M634.4 369.7h0M544.9 361.7h0M453.9 355h0M540.5 373.2h0M621.8 380.3h0M494.3 359.8h0M528.8 354.3h0M465.1 351.4h0M623.6 376.3h0M459.1 355.9h0M487.9 359.8h0M552.1 366.1h0M456.8 349.9h0M463.1 358.4h0M452.1 348.2h0M517 363.6h0M613.4 377.8h0M454.5 353.7h0M469.6 351.6h0M506.6 359.1h0M477.2 355.2h0M459.7 360.9h0M502.7 358.3h0M523 368.3h0M528.9 364.5h0M475.3 357.6h0M593.6 363.3h0M461.6 356.9h0M568 360.8h0M507.6 354.8h0M466.2 355.6h0M478.8 349.7h0M494.9 355.2h0M539.5 359.9h0M468.9 349.6h0M555.5 367.8h0M452.9 350.8h0M532.8 372.2h0M558.6 370.8h0M466 353.7h0M497.9 352.2h0M607.8 361.7h0M477.1 354.2h0M485.2 357.7h0M527.9 359.5h0M471.7 364.8h0M509 364.8h0M600.2 380.2h0M439.5 409.9h0M587.7 378.1h0M414.6 394.2h0M477.7 410.4h0M435.5 394.4h0M481.5 394.8h0M380.6 376.2h0M443.8 372.1h0M643.2 395.5h0M375 379.1h0M470.5 395.4h0M419.8 405.6h0M472.1 385.5h0M462.4 408.3h0M463.4 359.4h0M575 398.9h0M399.4 375.8h0M422.8 407.6h0M386.7 372.6h0M374.8 369.7h0M425.4 408.5h0M434.4 396.9h0M455.8 377.4h0M418.1 379.1h0M378.7 363.9h0M453 395.7h0M390.8 407.5h0M543.3 386.2h0M444.4 409.9h0M613.9 380.7h0M453.9 401.2h0M398.4 367.9h0M491 361.1h0M414.9 367.4h0M377.2 370.4h0M382.6 392.4h0M388.8 397.2h0M397.2 379.3h0M532.8 359.3h0M430.5 399.5h0M440.2 365.9h0M517.3 400.1h0M400.5 385.8h0M393.8 395.4h0M404.4 378.9h0M630.7 409.6h0M389.2 388.6h0M551.9 369.9h0M409.3 361.2h0M425.7 391.3h0M502.9 373.2h0M401.6 404.6h0M409.6 361h0M445.4 392.2h0M507.1 371.1h0M461.9 375.1h0M383 362.8h0M382.8 407.5h0M432.6 369.1h0M440.7 404.7h0M402.3 402.2h0M374.6 383.8h0M378.7 389.8h0M422.7 371.7h0M401.8 392.7h0M432.5 360.6h0M619.4 372.7h0M435.4 368.2h0M501 376.7h0M526.5 385.5h0M402.8 397.5h0M535.2 389.9h0M478.8 375.9h0M629.2 388.6h0M407.2 377.8h0M525.6 366.2h0M390.7 369.4h0M390.7 392.5h0M543.1 383.8h0M384.4 397.9h0M538.9 382.5h0M499.5 378.3h0M479.8 401.5h0M375.6 373.5h0M393.6 371.1h0M463.7 405.5h0M419.8 362.5h0M640.8 373.8h0M425.4 378.7h0M483 368.3h0M417 371.6h0M439.4 369.8h0M421.9 392.9h0M571.9 408.7h0M412.1 387.7h0M503.1 375.5h0M448.9 375.9h0M412.9 372.5h0M475.6 403.1h0M580.5 361.5h0M387.5 364.5h0M398.9 384.4h0M570 376.8h0M510.5 366.2h0M459 381.4h0M391 393.9h0M529.3 360h0M637 365.9h0M398.4 409.2h0M481.3 380.5h0M433.4 406.2h0M457.1 408.4h0M433.5 390.3h0M623.9 402.1h0M564.3 386.4h0M481 370.4h0M529.4 373h0M421.7 412h0M395.8 396.6h0M446.8 359.1h0M433.5 362.7h0M491.9 374.9h0M470.1 384h0M458.2 371.3h0M466 392.6h0M621.2 405.6h0M401.3 390.9h0M478.4 407.3h0M449.1 377.6h0M429.3 367.2h0M478.2 383.3h0M422.6 373.6h0M438.2 394.8h0M433.6 374.3h0M444.2 411.1h0M404.9 394.4h0M489.3 410.9h0M423.7 362.5h0M536.4 382.3h0M428.9 393.5h0M397.1 390.7h0M468.5 394.5h0M514.1 381.7h0M547.1 400.5h0M407.8 383.1h0M455.8 381.4h0M403.8 382.2h0M417 359.5h0M383.5 398.6h0M378.6 408h0M406.1 376.1h0M378.5 369.9h0M379.4 387.3h0M409.5 384.8h0M422.6 370.5h0M514.9 361.8h0M430.2 407.8h0M499.5 402.9h0M455.9 370.3h0M522.4 378.9h0M394.5 408.4h0M556.4 394.5h0M392.4 390.6h0M442.8 383.2h0M473.8 388.9h0M392 360.7h0M439.8 360.5h0M524.1 392.9h0M488.8 397.7h0M468.5 378.5h0M384.5 382h0M441.6 409.7h0M467.1 387.5h0M431.9 368.1h0M406.2 409.8h0M439.4 397.5h0M485.5 399.6h0M417.4 361.3h0M444.1 401.9h0M402.5 402.2h0M423.9 368.4h0M479 404.4h0M452.2 392.8h0M422.8 371.3h0M420.6 395h0M482 359.9h0M473.6 364.2h0M508.6 384.6h0M480.6 394.1h0M401.9 381.9h0M447.6 397h0M424.3 371.9h0M384 392.8h0M398.3 389.6h0M405.3 368.8h0M466.5 387.1h0M441.2 370.1h0M388.7 376.3h0M617.9 384.8h0M474.8 374.9h0M419.7 373.9h0M478.8 368.3h0M439.3 387.1h0M499 361h0M456.7 391.3h0M457.8 365h0M453 404.1h0M389.5 403.9h0M453.8 394.3h0M537.2 361.5h0M476.1 374.2h0M396.3 394.1h0M472.9 393.6h0M392.6 405.3h0M586.6 403.3h0M377.3 359.3h0M622.8 377.1h0M410.3 400.1h0M427.1 411.3h0M406.4 369.2h0M470.7 375.9h0M527.2 375.6h0M434 410.1h0M430.3 373.9h0M415.8 381.4h0M386.5 408.1h0M394.8 387.3h0M530.6 400.6h0M382.9 389.7h0M418.2 410.1h0M455.8 393.9h0M454.2 396.4h0M406.8 403.6h0M509.5 358.9h0M472.7 392h0M387.4 375.2h0M561.7 404.3h0M616.5 380.9h0M456.4 362.1h0M471.8 391.9h0M403 390.4h0M376.7 372.5h0M411.7 408.4h0M397.2 380.7h0M439.2 358.5h0M378.6 394.4h0M390.4 403h0M431.9 396.4h0M429.1 390.9h0M497.1 389.2h0M543.7 371.2h0M424.4 385.7h0M523.8 404.1h0M382.9 398.6h0M445 402.9h0M558.1 389.3h0M406.3 368h0M477.4 372h0M579.5 383.2h0M421.9 378.7h0M505 382.6h0M408.9 406h0M466.3 395.2h0M521.8 360.6h0M393.8 397.6h0M453.9 377.3h0M522 404.4h0M400.5 389.1h0M452.3 406h0M457.5 372h0M593.7 375.1h0M641.8 358.2h0M377.3 380h0M629.9 370.8h0M410.9 369.1h0M605 398.5h0M430.1 392.9h0M525.9 402.2h0M414.8 403.6h0M427.5 411.3h0M417.1 395h0M446.8 365.4h0M512.5 381.2h0M432.9 403.8h0M404.2 394.4h0M395.7 364h0M416.9 394.4h0M376 366.4h0M393.5 406.5h0M415.2 403.7h0M467.8 379h0M524.6 407.3h0M375.6 369.2h0M483.7 411.3h0M385.7 392.8h0M450.5 381.7h0M500.5 360h0M628 401.5h0M376.1 383.2h0M514.4 411.9h0M464 383.8h0M428.8 374.9h0M453.1 398.5h0M539.3 368.3h0M551.1 373.1h0M379 387.3h0M494.6 394.6h0M384.9 360.7h0M410.7 369.6h0M501.5 393.6h0M417.9 390.4h0M536.2 368.1h0M509.6 400.4h0M554.1 380.7h0M443.6 366.4h0M435.2 364.6h0M387 374.9h0M459.6 397.6h0M613.7 377.2h0M456.5 389.6h0M391.1 396.8h0M435.9 370h0M396.4 406.4h0M421.8 410.3h0M440.1 382.2h0M427 410.7h0M467.3 358.3h0M438.4 393.8h0M426.4 365.5h0M381.1 371.3h0M462.5 403.9h0M587.9 404.3h0M503.6 365.5h0M512.8 398.8h0M511 367.3h0M384.5 372.1h0M383.7 407.8h0M492.2 380.5h0M410.1 410.9h0M523.6 407.4h0M438.5 396.5h0M415.8 389.4h0M516.6 390h0M522.3 396.8h0M510.4 391.7h0M396.3 407h0M462.5 400.3h0M436.4 384.1h0M381.8 378h0M456.4 391.4h0M396.7 368.8h0M465.6 359.1h0M534.5 391.3h0M378 382.3h0M419.7 412h0M634.5 360.8h0M573.8 374h0M447.5 382.5h0M412 397.2h0M604.3 399.8h0M390.6 408.2h0M385 369.3h0M393.6 409.5h0M501.9 371.8h0M407.4 364.5h0M406.5 362.8h0M461.6 406.1h0M473.8 394.7h0M443.7 405.2h0M544.9 404.2h0M405.5 373h0M512 388.8h0M390.4 408.8h0M468.4 392.5h0M562.4 360.5h0M433.8 390.4h0M542.8 411.5h0M442.4 411.9h0M632.9 360.8h0M503.1 411.7h0M634.6 421.6h0M604.7 418h0M485.6 405.8h0M572.7 420h0M452.2 404.2h0M613.4 419.1h0M374.5 417h0M590.7 416.8h0M582.8 413.2h0M543.1 392h0M538.5 402.7h0M516.8 421.8h0M537.4 400.8h0M539.7 404.2h0M634.3 417.7h0M387.4 416.3h0M514.7 385.2h0M639.3 421.9h0M411.2 422h0M382.4 418.5h0M575.4 398.1h0M429.2 421.6h0M392.8 403.2h0M583.6 401.4h0M526.7 420.6h0M458.9 419.8h0M416.1 413.2h0M634.2 402.6h0M471 414.7h0M577.4 412.4h0M629.9 420.4h0M566.4 405.1h0M406.6 407.7h0M481.5 416.1h0M546.8 414.2h0M637.2 396.4h0M453.4 407.2h0M573.5 417.5h0M442.3 418.2h0M459.6 418.6h0M376.9 420.9h0M389.4 415.7h0M484.1 421h0M479.8 414.5h0M503.4 421.2h0M562.7 400.2h0M436.6 412.9h0M438.1 411.7h0M568.7 422h0M547.9 375.1h0M455.2 416.7h0M620.3 416.9h0M471.7 421.2h0M519.1 418.9h0M643.1 421.7h0M489.1 421.9h0M596.7 408.5h0M590.9 408.4h0M469.7 419.1h0M468.5 421.8h0M632.7 411.7h0M435.7 413.5h0M527.9 416.3h0M606.1 415.9h0M532.5 415.8h0M572.9 414.7h0M461.6 414.6h0M515.3 421.2h0M443.4 401.5h0M463.7 398.8h0M614.7 420.7h0M578.5 414.8h0M570.6 421.5h0M510 417.8h0M476.8 418.4h0M634.3 410.1h0M640.7 408.4h0M538.3 408.5h0M527.1 406.9h0M622.9 417.2h0M624.2 415.9h0M458.8 412.7h0M548.9 394.4h0M391.1 421.8h0M547.5 418.4h0M552.6 421.5h0M443.7 407.1h0M646.1 374.2h0M535.8 417.8h0M577.5 404.5h0M528.3 420.1h0M565.8 416.3h0M528.2 420.3h0M558.2 421.7h0M591.7 411.3h0M460.5 418.4h0M590.1 421h0M477.3 420.6h0M490 413h0M379.2 406.1h0M498.4 418.3h0M617.7 415.7h0M628.8 419.9h0M525.3 417h0M409.8 417.7h0M451.2 417.6h0M578.2 408.9h0M576.6 398.5h0M638.4 415.1h0M636.5 417.7h0M550.5 417.3h0M596.1 413.4h0M530.6 401.5h0M388.8 419.1h0M448.8 421h0M641.6 421.3h0M509.2 387.4h0M422.6 409.8h0M632.4 379.8h0M466 394.1h0M495.2 389.5h0M451.9 408.8h0M479 419.5h0M498.6 416.6h0M427.2 419.7h0M554.9 419h0M645.1 404.7h0M543.6 410h0M445.4 411.5h0M430.6 402.2h0M446.3 405.2h0M496.1 410.9h0M522.8 420.2h0M394.8 419.2h0M574.3 420.6h0M451.1 420.3h0M410.7 422h0M449.7 420.5h0M493.4 420.8h0M614.4 421.1h0M612.9 392.3h0M444.3 387.7h0M562.9 416.2h0M442 390.8h0M637.8 421.7h0M398 419.5h0M554.1 416h0M634 404.8h0M450.8 399h0M552.1 412.8h0M524.1 417h0M537.5 409.4h0M415.3 408.5h0M499.3 421.6h0M421.6 421.2h0M485 421.8h0M472.9 381.1h0M540.7 420.2h0M602.8 414.7h0M476.6 415.7h0M547.3 415.5h0M448 390.6h0M412.5 409.3h0M501.4 407.5h0M587.6 410.8h0M637.3 400.4h0M402.2 418.6h0M528.5 403.5h0M558.7 420.8h0M518.4 410.7h0M422.5 407.8h0M646.7 419h0M483.2 416.9h0M423.3 417.1h0M443.3 409.4h0M407.2 412.1h0M409.2 414.2h0M597.7 412.9h0M393.1 414.7h0M466.3 410.1h0M554.7 418.7h0M391.6 406.2h0M545.3 413h0M616.4 399.6h0M566.6 420.7h0M481.1 421.2h0M483.1 420.5h0M414.8 386.3h0M549.9 397.9h0M491.4 396.8h0M521.6 394.9h0M388.1 416.9h0M395.1 387.9h0M593.3 412.3h0M475.4 417.5h0M389.2 404.3h0M573.2 421.7h0M520.5 415.7h0M490.5 421.8h0M445.1 418h0M645.2 403.7h0M446 403.3h0M411.4 417.5h0M409.4 411.4h0M422.1 405.1h0M627.3 410.3h0M447.5 420h0M529.5 411h0M515.2 402.3h0M480.9 414.4h0M461.1 419.1h0M374.1 392.8h0M507.2 411.7h0M397 422h0M565.9 419.6h0M600.8 407.5h0M469.8 419.9h0M472 410.7h0M592.7 398h0M452.2 370h0M588.5 411h0M526.1 420.6h0M408.7 418.9h0M400.5 417.6h0M506.3 419.9h0M573.6 419.5h0M612.3 421.1h0M565.4 410.9h0M483.8 414.9h0M423.5 421.5h0M615 416.5h0M420.9 419.8h0M591.7 415.2h0M629.1 419.2h0M633.3 418.4h0M599.2 418.6h0M600.4 409.7h0M460.8 383.9h0M442.7 419.2h0M562 415.6h0M468.5 411h0M531.7 418.6h0M469 414.5h0M639.8 406.6h0M531.6 420.8h0M612.9 422h0M482.1 418.2h0M601.9 413.9h0M512.7 404.1h0M514.9 420.8h0M412.2 419.2h0M607.8 418.7h0M501.8 418.9h0M575.2 397h0M386 412.6h0M554 409.7h0M522.7 395.2h0M392 412.9h0M544.1 420.8h0M573.5 412.6h0M551.3 414.8h0M580.4 416.9h0M430.9 421.8h0M469.6 418.4h0M471.1 418.7h0M607.4 419.4h0M573.1 419.3h0M446.7 420.8h0M497.2 394.2h0M510.4 391.4h0M532.4 420.9h0M411.8 392.8h0M628.9 395.2h0M519.4 417.9h0M552.5 411.3h0M618.6 418.6h0M596.6 417.3h0M387.5 415.4h0M545.2 409.3h0M379.4 384.3h0M602 420.9h0M490 418h0M525.9 412.9h0M577.4 421.3h0M421.7 415.1h0M493.2 420.7h0M460.4 417.1h0M556.5 419.2h0M574.1 407.5h0M380.2 375.4h0M602 409h0M607.9 416.4h0M516.3 416.7h0M391.4 415.8h0M443.9 408.6h0M504.1 375.4h0M418.5 420.8h0M606.7 421.3h0M385.8 415.5h0M549.1 408h0M399.7 411.1h0M512.4 411.9h0M553.8 420.2h0M565.9 413.9h0M479.4 390.5h0M469.4 421.3h0M436.9 407.3h0M555.4 409h0M640.6 421.8h0M379.1 417.9h0M518.2 416h0M436.4 402.3h0M645.7 413.7h0M525.1 421h0M627.8 421.9h0M564.4 419.1h0M583.3 417.4h0M414.4 421h0M432 418.1h0M386.1 410.1h0M491 412.6h0M543.5 419.6h0M635.4 403h0M559.1 417.3h0M401.3 411.5h0M631.9 421.6h0M544.4 417.8h0M605.7 393.7h0M509.1 417.1h0M491.7 416.9h0M492.5 419.6h0M408.6 407.4h0M562.4 409.6h0M430.4 401.4h0M462 416.8h0M592.4 417.9h0M411.4 421h0M517.1 413.9h0M407.6 416.6h0M443.1 404.8h0M429.3 405.7h0M551.3 394.9h0M511.5 400.5h0M578.8 421.6h0M431.6 418.7h0M627 414.3h0M586.7 412.3h0M567.6 415.3h0M448.1 415.5h0M422.6 421.4h0M623.7 418.4h0M588.3 421.9h0M530.2 417.5h0M389.4 418h0M550.8 413.2h0M606.5 364.6h0M528.8 421.5h0M385.7 418.6h0M573.8 417h0M529.4 415.1h0M406.5 403.1h0M598.9 412.7h0M644 420.2h0M408.4 420.1h0M588.4 419.7h0M608.4 410.4h0M623.5 421.3h0M404.5 404.8h0M640.7 417.6h0M524.4 420.9h0M479.9 420.1h0M534.3 405.3h0M536.2 415.5h0M548 410.1h0M504.7 411.2h0M552.9 421.6h0M409.4 421.6h0M458.7 376.7h0M429.5 405.2h0M581.6 407.2h0M457 421.6h0M613.3 418.7h0M501.1 409.9h0M636.1 383.3h0M518.1 414.2h0M394.9 408.8h0M523.9 382.8h0M408.8 417.7h0M488.7 418h0M506.8 415.3h0M613.2 418.5h0M466.4 401h0M494.7 401.5h0M453.2 416.3h0M392.1 401.9h0M501.5 373.6h0M503.1 374.9h0M430.9 418h0M510.3 421h0M569.9 420.1h0M394.9 413.7h0M521 390.2h0M423.5 416.1h0M394.2 381.4h0M454.6 418.1h0M409 419.3h0M604.4 400.1h0M579.8 421.6h0M374.1 415.9h0M576.2 419.9h0M537.1 410.4h0M461.4 402.4h0M430.6 420.1h0M613.3 420.3h0M468.7 410.9h0M481.2 419.9h0M581.5 393.1h0M528.6 406.4h0M509.4 416.7h0M520.4 421.1h0M399.2 409.3h0M415.9 418.9h0M590.9 419.4h0M617.6 404.8h0M640.3 415.5h0M576.6 418.9h0M487 410.9h0M412 369.7h0M434.3 419.9h0M641 420.9h0M621 413.2h0M574.2 396.1h0M483.4 414.4h0M582.3 417.6h0M568.2 419.8h0M607.2 418h0M596.9 419.5h0M521.9 414.5h0M408.9 414.7h0M415.3 414.7h0M414.7 416.6h0M545.2 417.2h0M384.6 419.8h0M429.5 407.1h0M576.5 416.4h0M552.7 416.2h0M461 415h0M581 416h0M498.7 417.7h0M580.6 418.7h0M482.6 421.7h0M483 385.6h0M610 412.4h0M605.8 408.9h0M378.7 400.3h0M408.7 419.6h0M432.4 417.2h0M393.9 412.2h0M486.8 409.8h0M578.8 406h0M440.1 412.3h0M559.8 415.6h0M572.5 419.9h0M389 408.7h0M556.7 395.4h0M384 415.2h0M398.3 420.5h0M527.9 415.1h0M588.9 419h0M412.1 416.6h0M446.8 418.9h0M400.3 414.2h0M583.7 419.6h0M471.9 418.6h0M462 417.4h0M383.9 421.9h0M389.7 386.3h0M537.8 384.8h0M392.8 414.4h0M541.7 409.8h0M446.8 418.6h0M401.8 421.2h0M639.4 399.1h0M468.6 409.7h0M626.2 416h0M578.3 416h0M580.8 420.9h0M580 373.5h0M642.5 412.5h0M532.6 408.8h0M589.9 413.1h0M451.4 414h0M482.6 409.8h0M413.6 410.1h0M387.9 420.7h0M378.1 414.7h0M410.8 421h0M590.2 420.5h0M404.4 418.9h0M379.8 409.4h0M433.2 418.9h0M386.6 412.9h0M523.6 420.2h0M577.1 408.3h0M580.4 418.1h0M535 397.6h0M441.9 418.3h0M493.6 421.5h0M526.7 405.3h0M541.4 416.8h0M539.4 419.9h0M553.4 411.6h0M551.4 411.3h0M512.9 421.8h0M529.9 410.7h0M531 417.9h0M490.5 415.7h0M484.3 414.4h0M444.5 416.7h0M591.7 420.6h0M393.8 418.6h0M562.5 414.2h0M608.7 416.4h0M476.9 421.4h0M442 402.9h0M478 414.7h0M397.1 421.4h0M555.9 414.7h0M397.7 416.6h0M385.9 419.6h0M394.6 412.6h0M535.2 417.2h0M387.7 409.4h0M587.1 413.2h0M452.7 399h0M523.8 411.3h0M506.1 416.3h0M478.7 404.3h0M383.3 420.1h0M559.5 396.9h0M561.9 413.6h0M635.2 418.9h0M537.6 416.9h0M480.2 420.1h0M640.9 421.4h0M537 415.4h0M618.2 421.2h0M492.3 412.2h0M378.9 417.2h0M566.1 413.5h0M482 416.8h0M504.2 411.3h0M602.2 391.9h0M587.9 416.2h0M620.9 411.6h0M598.4 412.1h0M525.7 391.1h0M419.9 418.1h0M399.6 393.5h0M596.4 402.8h0M582.7 401.6h0M603.2 419.5h0M449.6 409.3h0M567.7 417.5h0M527.7 417.1h0M552.8 398.8h0M472.3 414h0M513.9 413.1h0M562.6 417.2h0M642.1 394.5h0M510.5 421.8h0M450.3 393.1h0M413.1 420.9h0M389.3 416.1h0M532.7 415.8h0M410.7 405.8h0M562.9 421.5h0M547 400.8h0M581.2 416.8h0M636.6 420.5h0M501.9 414.9h0M569.7 419.2h0M457.7 420.1h0M420.9 420h0M547.1 421.7h0M462 419.9h0M374.7 412.3h0M619.7 418.7h0M590.1 417.7h0M632.3 405.9h0M425.9 416.1h0M399 413.8h0M452.7 401.3h0M514.7 421.9h0M481.1 417.6h0M599.6 387.7h0M555 419.6h0M463.9 417.9h0M394.4 417.2h0M590.7 416.5h0M614.9 412.9h0M613.8 418.8h0M553.7 416.4h0M576.1 421.1h0M456.2 410.9h0M582.2 416.8h0M540.1 415.7h0M645.7 408.5h0M537.7 402.7h0M403.4 405.7h0M596 422h0M561.5 418h0M563.1 420.4h0M418.2 377.2h0M437.8 400.4h0M444.6 416.1h0M520.5 411.8h0M646.4 420.3h0M509.8 421.4h0M583 413.1h0M536.2 413h0M600.8 418h0M426.6 420.8h0M569.5 418.2h0M379.2 416.1h0M453.8 418.9h0M550.2 415.2h0M586.7 416h0M545.5 414.4h0M486.6 420.9h0M459.4 412.3h0M644.7 410.5h0M641.6 393.5h0M486.2 394.7h0M613.2 421h0M614.2 415.5h0M467.3 409.9h0M416.7 396.5h0M466.4 410.8h0M513.5 411.7h0M393.7 417.2h0M552.3 416.5h0M614.8 417.1h0M396.9 415.1h0M411.3 413.1h0M544.2 410.1h0M457.8 410.7h0M539.4 412.6h0M387.5 418h0M556.7 421.2h0M519.1 413.6h0M519.4 413.2h0M566.1 419.8h0M517.9 415.3h0M549.2 411.3h0M423.2 417.2h0M392.9 402.9h0M386.4 416.3h0M553.5 406.7h0M505.5 419.1h0M611.4 409.9h0M575 397.9h0M483.4 419.9h0M417.5 407.4h0M390.9 419.5h0M503.5 420h0M528.6 419.6h0M403.7 420.9h0M619.2 421.3h0M379.2 420.3h0M502.9 420.4h0M374.5 415.2h0M453.8 420.7h0M563.6 411.3h0M406.1 412.7h0M500.2 420.3h0M458.8 415.8h0M553.6 405.9h0M571.8 413.8h0M635 408.4h0M611.5 415.3h0M578.1 420.6h0M531.9 420h0M605.9 406.7h0M619.1 422h0M435.6 416.1h0M566 412.2h0M410.5 390.7h0M398.6 412.8h0M400.3 414.4h0M563.3 405.1h0M440.6 412.3h0M408.9 415.1h0M497.2 399.3h0M619.3 419.1h0M543.9 419.9h0M490.2 420.5h0M440.8 403.2h0M598.1 414.8h0M629.4 414.1h0M477.9 373h0M547.3 413.9h0M539.1 391.2h0M464.8 411.9h0M396.8 412.2h0M376.6 396.6h0M392.5 420.8h0M448.3 400.4h0M418.5 420.5h0M566 421.2h0M559 416.2h0M374.9 419.2h0M434.9 414.8h0M578.6 416.9h0M628.2 416.8h0M406.4 407.3h0M517.6 417.4h0M505.9 421.5h0M477.4 418.5h0M578 418h0M627.7 402h0M592.9 414.6h0M575.8 419.9h0M412.2 414.7h0M475.7 418.7h0M515.1 390.6h0M625.2 415.8h0M403.7 369.2h0M497.5 421.9h0M610.9 418.8h0M415.3 421.3h0M413.2 418.2h0M582.9 413.1h0M435.5 420.4h0M459.9 388.5h0M423 409h0M470.9 418.7h0M404.3 414.9h0M388.4 417.8h0M486.9 416.1h0M426.5 407.7h0M532.4 411.6h0M379.4 420.3h0M530.3 420.4h0M384.8 409.8h0M597.3 414h0M602.5 406.3h0M601 414.7h0M573.8 411.8h0M472.3 418.6h0M613.5 405.7h0M409.1 388.9h0M614.8 383.2h0M472.1 397.1h0M421.5 408.4h0M530.4 418.8h0M451.1 412h0M483.3 414h0M604.1 401.9h0M581.6 406.5h0M446.8 421.3h0M485.8 418.2h0M642.7 382.4h0M642 381.9h0M374.3 421.9h0M630.5 406.6h0M427.4 409.6h0M543.9 409.9h0M395.4 421.1h0M628 383.3h0M426.1 388.2h0M439.7 414.7h0M608.6 419.2h0M397 421.6h0M622.8 414.3h0M518.2 365.6h0M631.2 412.4h0M574.6 421.4h0M587.4 415.7h0M471.6 412.6h0M634.9 415.5h0M572.9 406.5h0M403.7 416.9h0M409.1 413.4h0M449.7 416.3h0M504.1 421.1h0M398.6 412.6h0M628.3 387.4h0M508.5 418.1h0M380.8 417.2h0M544.2 370.2h0M468.9 414.8h0M587.4 419.8h0M635 421.5h0M523.7 388.9h0M625.9 400.8h0M429.8 417.3h0M449.1 404.7h0M602.9 417.2h0M435.5 414.1h0M608.4 420.7h0M459.3 407h0M405.1 415.5h0M555 410.1h0M491.4 406.2h0M532.9 388.4h0M620.8 410.9h0M427.1 419.9h0M441.6 416.9h0M554.9 413.9h0M599.4 407.3h0M502.5 406.7h0M547.7 390.2h0M612.4 415.2h0M616.6 418.1h0M530.5 389.7h0M502 411.1h0M399.1 398h0M570.6 421.1h0M391.3 412.2h0M522.5 414.3h0M399.5 421h0M574 412.8h0M531 410.7h0M602.8 406.4h0M642.5 420.6h0M633.9 419.7h0M392.7 395.6h0M514.9 417.1h0M632.8 416h0M501.8 416.4h0M570.2 419.1h0M550.6 417.9h0M478 419.3h0M375.4 405.1h0M626.6 396.1h0M374.7 417.9h0M376.2 418.4h0M592.4 411.7h0M397.5 420.6h0M497.1 417.4h0M447.8 382.6h0M644.2 402.6h0M465.3 403.1h0M621.4 418h0M615 414.2h0M411.9 416.5h0M422 387.6h0M639.4 413.8h0M441.5 408.9h0M498.1 316.2h0M532.9 263.4h0M654.4 212.6h0M475.1 260.6h0M593.6 232.9h0M507.6 211.1h0M591.2 250.2h0M481.5 222.8h0M603.3 308.2h0M601.2 259h0M503.1 326.5h0M686.2 285.7h0M679.2 259.3h0M540.5 217.3h0M566.9 208.4h0M581.9 295.3h0M507.7 301.6h0M471.4 272.3h0M523.8 317.8h0M689.5 212.8h0M494.6 206.9h0M506.2 263.1h0M577.4 323.9h0M476.7 277.2h0M600.1 286.9h0M493.7 256h0M573.7 315h0M576.3 255.4h0M547.8 266.4h0M561.4 294.1h0M643.4 257.9h0M516 219.1h0M641.7 374.9h0M640.8 415h0M642.1 373.6h0M642.1 333.5h0M642.8 398.1h0M642.7 387.4h0M642.4 339.6h0M642.1 400.9h0M641.3 415.7h0M643.4 421.8h0M647.9 356.1h0M646.2 353.9h0M647.1 400.3h0M646.6 409.4h0M647.5 416.4h0M647.8 349.7h0M648.9 418.2h0M646.4 394.9h0M646.4 358.6h0M647.9 418.3h0M647.3 399h0M646.5 362.1h0M644.6 421.3h0M647.7 419.8h0M647.9 417.8h0M648.1 412.3h0M654.9 323.5h0M655.9 394h0M654.6 374.7h0M655.5 318.5h0M653.1 393.4h0M655 421.2h0M654.4 412.8h0M652.3 421.4h0M659.4 418.5h0M654.3 421.9h0M658.4 414h0M658.5 364.5h0M659.1 417.6h0M659.3 376.9h0M659.7 421.1h0M658.5 392.4h0M659.2 365.6h0M655.2 421.2h0M663.4 416h0M657 420.7h0M669.8 402.9h0M670.5 326.4h0M670.1 388.1h0M670.5 396.5h0M670 415h0M669.5 321.1h0M668.9 363.9h0M671 419.3h0M671.4 417.4h0M676.2 400h0M676.1 417.8h0M677.3 368.1h0M675.3 396.5h0M676.1 396h0M676.2 364.8h0M675.1 375.2h0M676.7 336.5h0M675.9 359.2h0M676.9 379.7h0M674.9 403.9h0M676.7 394h0M675.3 410.4h0M675.8 406.5h0M676.9 418.3h0M686.8 343.1h0M685.2 376.5h0M684.8 391h0M685.9 410.4h0M686.8 404.6h0M685.2 416.1h0M686.3 297.6h0M685.7 402.3h0M686.3 407.1h0M687 393.3h0M686.2 419.7h0M688.5 392.8h0M684.1 420.5h0M681.4 417.3h0M690.2 407.7h0M690 400.7h0M690.2 399.3h0M690 418.7h0M690.9 376.7h0M688.2 419.8h0M687.5 421h0M700.4 416.7h0M699.9 358.1h0M700.1 366.7h0M701.8 397.6h0M701.2 374h0M700.2 339.8h0M700.4 420.8h0M702.4 409.6h0M700.8 419.7h0M713.6 385.7h0M713.2 342h0M713.2 412.2h0M713 400.2h0M711.8 387.4h0M712.8 357.6h0M712.6 364.3h0M713.3 332h0M712.2 352.1h0M713.1 348.9h0M713.7 356.5h0M715.5 416.8h0M714.4 411.4h0M713.3 417.2h0M715 416.3h0M717.5 351.6h0M718 396.6h0M718.4 380.6h0M718.4 376.3h0M718 405.7h0M718.8 411.9h0M719.4 420.7h0M727 317h0M727.2 353.3h0M726.7 394.9h0M727.5 391.9h0M728.2 338.1h0M726.7 306.3h0M726.2 402.8h0M725.8 325.4h0M726.6 345.1h0M727.8 403.3h0M723.9 421.4h0M727.7 420.7h0M727.1 416.3h0M729.5 344.1h0M731.2 375.3h0M729.6 416.6h0M729.7 394.6h0M730 404.5h0M729.7 369.5h0M729.5 410.6h0M731.1 383h0M730.2 313.1h0M726.6 416.4h0M728.3 418.8h0M727.9 421.1h0M730.2 415.2h0M735.6 409.5h0M736.4 408.2h0M735.6 335.7h0M735.5 402.7h0M736.5 409.9h0M736.1 354.6h0M735.7 384.4h0M736 409h0M735.2 419.9h0M738.1 413.9h0M736.6 418.4h0M744.3 362.7h0M743.6 419.4h0M743.3 417.5h0M744.4 388.5h0M744.1 376.4h0M745.4 409.9h0M744.8 394.4h0M744.3 402.6h0M743.2 413.7h0M744.8 417.1h0M744.3 391.6h0M743.6 354.8h0M743.7 417.9h0M743.8 416.8h0M743.6 407.8h0M746.1 418.6h0M748.7 341.2h0M748.7 418.1h0M748.1 381.2h0M749.4 408.9h0M749.4 390.6h0M752.4 416.6h0M750.2 412.2h0M748.7 416.1h0M760.6 334.3h0M759.1 418.4h0M761 415.4h0M760.4 390.1h0M761.4 418.8h0M756.7 418.5h0M764.9 388h0M764.2 421.9h0M764.4 367.8h0M764 402.5h0M763.6 303.3h0M764.2 401h0M764.2 414.7h0M765.5 398.5h0M765.8 407.2h0M764 409.6h0M761.7 417.9h0M770.9 275.5h0M770.1 404h0M771.2 363.9h0M771 362.2h0M771.5 347.5h0M769.3 419.1h0M772.6 419.1h0M779.1 415.7h0M780.1 418.9h0M781.1 406h0M779.8 405.9h0M780.3 310.8h0M781.3 325.2h0M779.5 330.6h0M778.9 418.6h0M780.1 409h0M779.7 380.7h0M779.5 400.6h0M779.1 393.3h0M780.8 327.2h0M779 421.3h0M778.7 416.8h0M777.7 407h0M782 417.5h0M784.3 416.2h0M784.4 412.1h0M784.5 407.2h0M784.5 407h0M783.5 420.4h0M784 232.3h0M782.8 317.6h0M783.6 391.7h0M783.6 290.1h0M784.1 407.1h0M785.3 421.6h0M788.6 419h0M788.8 421.8h0M789.2 417.3h0M788.5 416.8h0M790.8 304.2h0M788.7 401.4h0M789.6 414.8h0M788.9 412.8h0M789.4 386h0M790.2 397.8h0M788.7 415.6h0M798.2 413.4h0M797.3 353.5h0M799.6 396.5h0M797.1 421.7h0M797.7 405.3h0M798.4 368h0M797.7 413h0M798.1 345.3h0M798.5 407.3h0M797.2 421.1h0M798.8 351.8h0M798 359.8h0M798.2 415.2h0M800.1 414.1h0M799 418.1h0M807.2 415.4h0M807.3 393.8h0M806.6 416h0M807.8 352.5h0M806.4 398.6h0M807 372.3h0M807.9 396h0M806.7 312.6h0M807.3 331.6h0M807.7 388.8h0M806.5 413.6h0M807.1 411.2h0M807.7 395.4h0M807.9 403.3h0M806.1 414.8h0M805.4 408.6h0M811.1 361.2h0M811.6 407.5h0M811.8 329.1h0M811.2 409.1h0M810.9 397.1h0M809.7 357.1h0M811.1 391.8h0M811.1 412.7h0M811.3 391.4h0M811.5 356h0M811.9 418h0M810 412.5h0M807.9 414h0M810.3 421.5h0M824.2 413.9h0M822.8 387.7h0M823 391.4h0M823.3 355.3h0M823 419.7h0M823.2 377.9h0M823.2 407.1h0M823.5 314.8h0M823 416.6h0M824 411.1h0M823.6 404h0M822.8 409h0M825 420.6h0M826.5 395.2h0M826.7 405.5h0M826.1 379.1h0M827.7 409.8h0M826.6 347.4h0M826.7 406.1h0M826.6 393.1h0M826.4 396.4h0M826.8 363.5h0M827.1 393.6h0M827.2 390.8h0M828 366.2h0M827.5 372.6h0M830.1 413.1h0M826.9 410.4h0M827.3 412.9h0M829.2 416.3h0M826.7 419.2h0M834.2 367.4h0M834.3 390.9h0M835.6 380.8h0M834.1 416.7h0M833.5 411.5h0M833.8 318.9h0M832.6 418.2h0M833.7 400.4h0M834.7 410.3h0M832.2 415.2h0M836.4 414.7h0M839.9 418.8h0M841 411.5h0M840 295.1h0M839.4 374.4h0M840.5 394.5h0M839.4 412.2h0M839.4 300.6h0M840.5 365.3h0M840.2 348.6h0M839.2 389.7h0M841.2 413.6h0M839.1 380.8h0M839.2 346.8h0M841.4 366.9h0M839.6 382.4h0M836.6 419.3h0M842 420.6h0M842.4 417.2h0M838.8 414.4h0M845.2 399.5h0M846.4 368.2h0M846.3 349.9h0M844.9 418.7h0M846.3 377.1h0M845.6 418h0M847.1 414.9h0M846.5 407h0M847.5 416.2h0M844.9 421.4h0M845.3 421.4h0M851.7 419.2h0M851.1 307h0M852.8 395.2h0M851.6 417.5h0M850.9 413h0M851.4 391.2h0M851.1 415.9h0M850.2 414.3h0M851.2 329.3h0M850.4 370.5h0M851.6 391.8h0M851.6 419.4h0M851.4 345.1h0M849.6 404.3h0M850.5 421.8h0M851.6 380.2h0M850.2 418.1h0M858 358.2h0M856.6 410.5h0M857 404.8h0M856.9 347.6h0M856.4 417.4h0M857.1 392.7h0M856.8 417.6h0M858.5 418h0M858.5 413.7h0M861.6 403.8h0M862.2 373.7h0M863 420.8h0M861.7 418.9h0M861.9 357.4h0M861.3 396.2h0M861.2 350h0M862.5 401.2h0M862.2 410h0M861.4 406h0M862.4 342.6h0M862.2 385.1h0M862.9 397.6h0M860.8 393.9h0M861.4 382.5h0M861.8 414.3h0M862.7 420.6h0M864.8 420.4h0M861.7 421.2h0M862.6 415h0M867.3 419.5h0M865.8 394.9h0M866.4 384.3h0M866.3 421h0M865.5 383.6h0M866.2 380.4h0M866.9 417.2h0M867 421.6h0M865.2 419.2h0M843.1 343.2h0M762.9 312h0M700.2 353.9h0M724.6 356.4h0M756.6 331.6h0M781.9 324.4h0M849.1 309.1h0M663.5 346.2h0M641.1 307.4h0M844.8 358.3h0M736.3 328.8h0M771.9 303.6h0M678.3 322.1h0M829.7 329.8h0M809.8 338h0M651.2 302h0M765 300.2h0M646.9 318.5h0M823.5 314.8h0M709.3 331.4h0M646.2 342.6h0M863 353.2h0M678.1 334.1h0M728.9 336.5h0M731.4 310.6h0M871.1 112.6h0M870.9 112.6h0M870.1 111.7h0M870.8 113.6h0M871.2 109.7h0M870.8 120.1h0M870.4 116.5h0M874.5 112.9h0M875.5 109.1h0M875.2 112.8h0M874.8 116.3h0M875.3 115.6h0M880.1 111.5h0M879.2 107.6h0M879.8 117.1h0M880 110.5h0M880.8 110.6h0M879.4 115.2h0M880.3 115.9h0M879.8 112.6h0M883 163.2h0M884.4 133.8h0M885 176.1h0M883.2 180.2h0M884.7 178.6h0M881.3 138.7h0M884 193h0M885.1 171.1h0M884.7 157.4h0M888.4 234.7h0M891.2 256.2h0M886.4 214h0M886.9 214.6h0M886.9 206.8h0M886.5 229.8h0M893.3 263.6h0M887 223.6h0M885.6 198.9h0M888.9 213.6h0M887.5 217.8h0M887 221.5h0M886.9 219.8h0M886.4 229h0M888.3 233.9h0M891 247.4h0M892.7 260.1h0M892.9 261.7h0M888.4 237.7h0M887.9 223.9h0M886.3 197.5h0M891.8 261.6h0M890.1 247.4h0M886.5 227.4h0M884.6 212.4h0M886.4 224.9h0M885 199.2h0M887.8 222.7h0M886.8 196.7h0M886.3 221.3h0M891.9 247.7h0M888 229.1h0M887.1 218.4h0M890.6 252h0M891.8 255.9h0M890.6 248.8h0M893 260.7h0M887 235.5h0M886.7 227.2h0M885.4 198.5h0M887.8 232.9h0M885.4 195.2h0M886.7 203.8h0M886.1 230.2h0M887.1 219h0M886.2 214h0M883.3 196.9h0M885.7 201.6h0M861 117h0M866 168h0M859 189h0M861 205h0M858.5 213h0M858.5 238h0M833 178h0M809 208h0M878 148h0M884 225h0M876 293h0M872.1 303.4h0M875.9 287.5h0M873 281h0M871.9 302.7h0M872.9 283.7h0M868.9 276.5h0M874.4 282.9h0M873.3 315.2h0M872.8 303.6h0M868.1 295.6h0M875.9 277.1h0M869.4 290.1h0M874.5 272.1h0M872 305.2h0M872.3 271.8h0M870 315.7h0M874.3 291.7h0M870.9 283h0M873.5 284.5h0M874.5 301.6h0M874.6 269.1h0M868.2 273.8h0M871.9 288.2h0M876 302.6h0M875.4 317h0M869 305.7h0M870.6 276.4h0M869.9 294.8h0M867.9 291.2h0M875.9 300.9h0M872 287.8h0M871.8 278.7h0M867.5 270.2h0M869.5 285.9h0M874.7 316.5h0M874.7 313.4h0M875.9 305.3h0M871.3 317.4h0M871.3 309.9h0M875.7 309h0M870.3 277.1h0M870.1 317.4h0M871.2 290h0M867.5 306.6h0M873.6 290.7h0M869.2 285h0M871.5 294h0M875.5 274.8h0M875.5 295.4h0M871 297.9h0M875.1 272.5h0M867.8 296.3h0M873 313.5h0M870.3 301.9h0M867.6 291.8h0M873 275.4h0M871.1 307h0M871.1 304.2h0M870.8 277.7h0M875.5 293.5h0M869.7 298.7h0M875.9 313.4h0M867.9 317.7h0M872.9 285.4h0M869.3 272h0M872.4 283.7h0M872 290.7h0M876 269.3h0M872.1 285.2h0M868.2 277.9h0M872.1 293.4h0M870.9 292.6h0M873.2 294.9h0M868.5 284.1h0M870.8 268.4h0M869.9 279.1h0M869 271.6h0M875.1 271.7h0M868.8 290.5h0M868.6 288h0M870.4 283.8h0M873 301h0M871.8 312.9h0M871.8 287.2h0M871.5 314.7h0M875.8 282.8h0M869 303.9h0M873.9 300.8h0M874.5 300.3h0M870.2 317.5h0M875.3 282.2h0M874.9 276.6h0M873.1 290.9h0M873.1 313.4h0M872.7 287.4h0M869.9 282.6h0M871.6 286.7h0M872.8 278.8h0M873 309.3h0M869.4 299h0M869.6 282h0M869.2 311.4h0M870.8 271h0M875.4 311.3h0M875.3 304.3h0M867.6 305.7h0M869.7 294.6h0M875.6 295.4h0M876 283.1h0M873 305.2h0M872.2 274.7h0M875 299.9h0M875.4 304.5h0M869 269.3h0M868.4 279.6h0M875.1 291.4h0M870.7 275.3h0M874.3 313.5h0M872.7 304.1h0M873.7 280h0M872.5 300h0M872.4 295.1h0M869.4 278.3h0M871 276.3h0M869.7 295.4h0M868.5 313.1h0M867.6 267.8h0M870.7 270.2h0M870.7 273.8h0M869.8 293.6h0M874.6 314.3h0M870.4 315.8h0M873.9 279.7h0M874.1 300.4h0M875.8 295.3h0M871.2 275.4h0M869.3 295.8h0M869.5 309.3h0M872.1 294.9h0M872.4 293.2h0M871.1 301h0M875.7 289.4h0M875.9 294.3h0M874.8 297.7h0M867.8 291.8h0M873.1 288.9h0M871.5 297h0M871.1 270.8h0M871.6 280h0M872.8 272.3h0M867.6 312h0M873.9 271.6h0M870.7 284h0M872.7 286.8h0M874.5 284.9h0M871.2 300.6h0M871.6 317.5h0M870 312.1h0M870 272.3h0M872.8 291.9h0M874.9 287.3h0M871.4 302.2h0M868.7 314.4h0M868.1 299.2h0M871.1 297.6h0M867.7 283.3h0M874 287.1h0M870.9 280.6h0M868.5 275.6h0M869.7 313h0M875 303.6h0M868 271.6h0M867.8 286h0M871.5 267.8h0M868 289.3h0M875.8 278h0M871.4 308.7h0M869.6 278.3h0M873.3 299.6h0M874.8 286.9h0M870.2 284.3h0M872.9 274.6h0M875.3 300.2h0M872.7 281.1h0M870.7 272.2h0M870 313.2h0M872.4 314h0M872.8 298.5h0M871.5 267.6h0M868.8 272h0M874.4 302.2h0M873.5 304.4h0M875.3 308.4h0M868.5 299.5h0M869.7 311.6h0M870.9 279.3h0M875.8 270.4h0M871.8 291.3h0M870.6 275.8h0M873.4 298.4h0M870 295.8h0M874.7 271.8h0M868.2 316.1h0M872.2 269.5h0M870.1 282.7h0M873.4 301.7h0M871.2 295.8h0M874.1 275h0M876 272.6h0M875.9 315.1h0M873 307.1h0M873.9 308.3h0M875.4 308.3h0M867.5 295.6h0M870.4 300.8h0M871.7 292.8h0M874.7 308h0M872 287.7h0M872.9 317.9h0M870.2 286.9h0M870.8 283.9h0M873.1 278.8h0M873.2 297.7h0M871.6 285.2h0M872.2 292h0M869 307.2h0M869.8 274.7h0M868.6 289.4h0M874.6 300.2h0" stroke="#ff7f0e" stroke-width="3.2"/>
<path d="M893 262L894.5 270L896.5 279L899 286L902 290.5L906 293L909.4 293L912 291.5L914 289.5" stroke="#ff7f0e" stroke-width="5"/>
<path d="M899.4 290.8h0M908.8 292.5h0M911.3 289.2h0M900.9 292.8h0M901 286.3h0M900.2 286.9h0M896.9 278h0M901.5 288.6h0M907.2 297.2h0M901.2 292.5h0M901.2 289.9h0M903.2 288.2h0M907.6 291h0M898.3 281h0M912 288.8h0M906.6 295.3h0M902.7 287.5h0M900.9 291.8h0M907.4 291.6h0M901.5 293.4h0M902.1 289.1h0M898.6 287.7h0M909 294.6h0M896.5 277.4h0M900.6 287.1h0M915.6 293.7h0M906.2 293.5h0M901.4 290.1h0M902.8 287.3h0M898.2 286.8h0M905.1 290.7h0M904.7 288.9h0M904.6 292.3h0M896.3 280.8h0M899.9 288.7h0M914.3 290.2h0M903.8 293.8h0M912.5 289.6h0M911.6 289.4h0M902.1 288.9h0M909.9 289.7h0M896.2 274.3h0M913.3 290.1h0M904.8 289.9h0M914.7 287.6h0M912 295.4h0M898.8 286h0M898.2 286h0M899.2 281.8h0M899.4 283.1h0M906.2 296.7h0M902.3 286.7h0M913.1 289.9h0M897.6 284.7h0M908.5 296.6h0M913.7 289.1h0M912.5 292.4h0M914.6 289.4h0M906.6 295.6h0M902.8 289.7h0M897.4 277.3h0M896.2 279.5h0M909.6 295.3h0M911.7 294.3h0M905.6 296h0M909.8 295.6h0M908.5 297.3h0M901.7 291.8h0M915.6 286.3h0M899.9 288.2h0M909.3 293.8h0M914.2 286h0M901.8 290.7h0M907.6 294.1h0M901.8 293.4h0M899.6 289.3h0M908.2 296.7h0M901.7 292.1h0M909.1 289.1h0M899.3 284h0M902.3 290.5h0M905.1 295.6h0M899.3 286h0M909.4 293.2h0M904.5 289.7h0M912.2 289.9h0M898.5 280.7h0M912.1 291h0M914.5 291.7h0M910 295.1h0M904.3 290.8h0M898.4 287.8h0M900.9 285.4h0M906.6 292.5h0M913.2 286.4h0M912.4 288.1h0M913.1 287.3h0M906.9 291.5h0M902.1 287.1h0M904.1 287.6h0M911.5 292.5h0M901.7 289.4h0M912.7 290.8h0M910.2 288.6h0M903.4 291.9h0M911 296.2h0M908.6 295.6h0M912.5 288.1h0M908.9 293.3h0M899.7 284h0M911.7 290.3h0M909.6 291.6h0M899.7 284.8h0M908.3 295.7h0M914 292.2h0M909.8 296.8h0M913.2 288.2h0M913 292.5h0M898.7 286.9h0M911.2 288.8h0M913.9 290.3h0M905.7 295.3h0M907.6 297.3h0M897.2 283.4h0M905.9 290.7h0M898.5 284.4h0M910.1 291.7h0M897.1 283.3h0M907.2 295.4h0M899.3 284.9h0M914.9 286.4h0M901.6 288.2h0M907 296.8h0M915.6 293.6h0M909 296.3h0M901.4 286.8h0M904.8 290.1h0M914.3 291.8h0M898.7 284h0M900.7 292.6h0" stroke="#ff7f0e" stroke-width="3.2"/>
<path d="M890.5 306L892 311L894.5 316L898 318.5L902 318.6L909 313L913 309" stroke="#ff7f0e" stroke-width="9"/>
<path d="M907.7 317.5h0M900.7 324.6h0M895.9 312.4h0M892.1 313.3h0M895.3 313.3h0M912.8 312.2h0M899.3 312.5h0M896.3 314.1h0M899.1 312.5h0M897 312.3h0M914 305.7h0M904.9 321.5h0M892.6 316.4h0M910.5 318.1h0M903.8 310.6h0M896.9 319.2h0M907 319.6h0M894.5 315.3h0M904.9 312.8h0M898 324.1h0M906 320.8h0M894.1 316.4h0M914.9 306.7h0M909.3 314.3h0M905.8 317.8h0M899.8 323.2h0M906.4 315.7h0M904.6 315.8h0M905.1 314.4h0M896.1 314.5h0M895 317.4h0M896 317.2h0M894.4 311.9h0M900.3 323.3h0M905.6 314.7h0M911 307.5h0M910.4 306.8h0M911.4 305.3h0M901.7 318.9h0M906.9 308.7h0M913.9 301.1h0M916.5 304.6h0M889.1 297.2h0M909 309.9h0M898.2 315.5h0M898 323.5h0M906.4 317.9h0M909.3 308.1h0M898.1 321.9h0M900 312.2h0M892.2 314h0M909.1 312.2h0M904.4 322.7h0M904.2 320.2h0M905.3 311.6h0M903.8 316.9h0M902.3 315.8h0M900.7 322.2h0M905.4 310.4h0M911.2 305.4h0M905.4 322.4h0M904.7 311.9h0M891.2 311.9h0M897.4 325h0M914.4 308.8h0M910.2 310.6h0M906 314.9h0M909.4 311.8h0M906.7 314.4h0M894.2 311.8h0M912.5 307.6h0M901.7 312h0M894.5 321.8h0M914.6 314.2h0M901.5 321.7h0M902.7 312h0M900.3 315.6h0M894.9 315.2h0M901.6 322.4h0M895 315.2h0M894.3 309.9h0M906.8 320.5h0M914.4 306.6h0M905.3 310.5h0M901.5 313.5h0M898.1 322.3h0M902.2 322.7h0M912.3 305.1h0M901.5 319.7h0M908.7 316.1h0M904.5 319.5h0M907 309.8h0M906 314.1h0M909.8 309.1h0M905.1 318.7h0M901.3 322.8h0M902.5 316.5h0M902.6 315.3h0M893.3 311h0M916 308.5h0M889.6 300.1h0M912.3 311.4h0M893 307.1h0M895.6 313.9h0M911.4 306.3h0M909.9 306.8h0M893.2 307.2h0M902.3 313.2h0M905 320.3h0M891.1 311.7h0M901.9 324h0M890.1 308.9h0M892.1 311.9h0M903.8 311.6h0M912.3 306h0M895.4 316.4h0M900.4 317.7h0M904.9 312.2h0M908.5 312.5h0M893.3 316.2h0M909 307.6h0M912.1 313.9h0M897 322.2h0M892.6 315.7h0M915.2 305.4h0M907.3 318h0M896.4 322.9h0M900 321.3h0M899.9 311.6h0M899.4 312.1h0M904.3 321.7h0M901.2 325h0M913.1 308.2h0M916.2 310.5h0M892.6 306h0M891.5 314.9h0M898.6 316.7h0M890.9 302.8h0M896.9 318.4h0M892.5 312.5h0M890.9 311.9h0M899.9 314.7h0M909.9 318.7h0M894.5 314.1h0M904.7 315.4h0M909.7 316.3h0M898.9 323.2h0M889.1 300h0M907.3 308.4h0M909.8 308.8h0M904.2 319.3h0M905.8 316.1h0M904.9 313.8h0M904.2 318.5h0M906.6 311.3h0M892.4 317.9h0M905.5 322.6h0M910.6 316.9h0M905.9 310.5h0M891 308.7h0M913 307.2h0M890.9 307.7h0M891.4 303.3h0M913.9 303h0M896.3 317.3h0M900.5 322.1h0M898.3 319.7h0M909.1 312.1h0M897.2 312h0M901.2 320.7h0M910.2 307.8h0M912.2 306.2h0M914.8 310.3h0M891.1 308.2h0M915.4 300.4h0M901 312.3h0M911.8 307.3h0M896.8 318.9h0M895.2 312.9h0M901.2 320.1h0M899.4 319.3h0M903.5 312.3h0M894.3 309.9h0M891.5 316.2h0M906.3 316.3h0M902.8 322.6h0M893.1 313h0M913.3 309.8h0M903.5 320.5h0M899.2 319.5h0M903.3 323.4h0M890.9 308.2h0M905.2 319.7h0M899.4 323.1h0M904.3 318.9h0M901.7 311.7h0M904.6 313h0M897.1 312.3h0M907.7 316.9h0M899.7 314.9h0M893.4 312.7h0M914.7 313.9h0M915.5 300.4h0M891.4 306h0M914.7 311.2h0M912.8 310.3h0M913 315h0M890.8 309h0M904.9 312.1h0M906 320.8h0M895.9 310.4h0M890.6 302.3h0M895.5 322.8h0M908.7 316.2h0M901.2 312.4h0M906.8 311.2h0M910.2 305.2h0M892.9 314.3h0M891.9 308.1h0M899.2 320.2h0M889.4 298.6h0M894.8 312.3h0M897.9 322.7h0M911.8 309.3h0M888.8 310.3h0M911.4 304.6h0M890.9 308.8h0M915.5 303.5h0M904 310.5h0M907.5 316.9h0M901.1 315.3h0M909 315.5h0M904.7 318.6h0M900.1 323.7h0M900.7 323.1h0M904.9 322h0M904.8 309.6h0M901.6 322.1h0M895.4 312.7h0M898.8 317.5h0M916.2 300.9h0M891.9 316.2h0M897.6 323.7h0M901.1 321.3h0M915.3 313.5h0M908.5 308.1h0M890.8 304.9h0M894.8 318.4h0M894.9 311.9h0M903.2 310.8h0M916.4 304.8h0M865.6 294.4h0M855.3 337.4h0M848.4 293.1h0M857.9 280.8h0M861.9 291.5h0M865.1 313.8h0M849.4 324.5h0M859.3 318.7h0M853.7 310.4h0M845.4 298.8h0M846.3 327.3h0M845.7 344.6h0M857.9 336.3h0M855.8 330.2h0M887.7 314.9h0M886 334.3h0M884.9 324h0M881.6 297.6h0M882.6 324.1h0M882.2 334h0M879.3 300.1h0M884.9 309h0M878.4 322h0M888.4 336.1h0M883.6 346h0M887.5 327h0M888.2 332.1h0M886.3 331.6h0M885.6 297.4h0M882.5 343.4h0M881.7 346.4h0M877.6 310.3h0M913.6 376.5h0M913.3 382.5h0M913.8 392.4h0M913 378.1h0M913.3 367.5h0M914.2 316.5h0M913.6 325.2h0M903 369h0M913 366h0M889 372h0M894 374h0M883.2 412.4h0M913 421.7h0M871.1 419.5h0M913.1 415.9h0M876.3 419.9h0M901.7 421h0M886.1 418h0M893.3 417.3h0M887 411.2h0M877.6 421.5h0M902.2 419h0M881.6 418.6h0M908.9 415.1h0M874 416.9h0M880.6 411.2h0M900.2 421.4h0M900.8 418.4h0M909.6 416.9h0M880.3 420.3h0M895.9 421.4h0M894.9 420.7h0M915.5 421.2h0M892.6 419.5h0M869.7 414.5h0M888.1 421.2h0M881.9 419.3h0M878.2 419.9h0M908.6 416h0M881.8 417.3h0M875.3 421.1h0M913.6 414.9h0M911.5 420.4h0M916.7 413.5h0M892.7 419.7h0M887.6 419.4h0M1035.1 416.6h0M1036.1 416.6h0M1037.7 415.6h0M1034.3 419.7h0M1034.9 418.7h0M1034.6 418.5h0M1036.4 415.4h0M1035.8 417.8h0M1035 417.1h0M1036.7 413.8h0M1036.9 414.1h0M1037.1 416.3h0M1037.4 412.3h0M1033.7 419.2h0M1036.4 418h0M1034.5 418.3h0" stroke="#ff7f0e" stroke-width="3.2"/>
<path d="M191 421.8L211 421.8" stroke="#2ca02c" stroke-width="2.5"/>
<path d="M208.4 414h0M207.6 416.9h0M206.4 417.8h0M207.9 414.4h0M208.5 417.1h0M208.5 416.1h0M208.4 411.9h0M208.2 416.1h0M208.5 418.4h0M208 415.1h0M204.7 418.8h0M209.4 415.2h0M208.2 413.2h0M206.4 416.3h0" stroke="#2ca02c" stroke-width="3.2"/>
<path d="M210 408L215.8 383L220 372" stroke="#2ca02c" stroke-width="4.5"/>
<path d="M219.5 370.4h0M219.1 375.8h0M213.9 389.6h0M211.4 404.8h0M218.9 370.5h0M215.3 382.3h0M214.6 379.1h0M212.3 397.3h0M215.5 381.7h0M212.7 397.9h0M214.6 390.8h0M211.3 405.8h0M222.3 363.5h0M214.8 383h0M214.1 393.5h0M214.2 386.4h0M212.9 399.4h0M216.6 382.5h0M210.3 406.4h0M214.3 386.6h0M215.1 393.6h0M218.6 367.7h0M214 391.2h0M215.8 385.3h0M220.8 371.1h0M212.3 402.5h0M216.5 385h0M219.2 371.5h0M213.5 397.7h0M217 373.7h0M213.5 395.1h0M220.3 362.4h0M213.4 395h0M214.3 392h0M212.8 392.2h0M219.4 363.7h0M212.7 402.3h0M215.6 376.4h0M217.4 371.4h0M215.9 385.5h0M218.9 365.6h0M220.2 365.5h0M213 406.8h0M212.6 396.7h0M215.5 392.1h0M220.1 369h0M220.7 365.5h0M215.6 388.5h0M212.3 410.1h0M216.6 380.5h0M211.1 405.6h0M221.9 362.7h0M213.3 395.6h0M219.1 375.7h0M217.7 370.5h0M211.1 397h0M214.3 392.2h0M212.2 402.4h0M218.1 365.7h0M211.6 403.6h0M217.6 372h0M216.3 381.5h0M215.4 386.3h0M212.5 398.4h0M218.2 366.5h0M213.4 396.6h0M219.7 368.2h0M217.4 372.5h0M214.1 383.5h0M215.9 399.6h0M220.4 312.2h0M221.5 322.7h0M221.3 336.8h0M220.6 307.1h0M221.9 333.7h0M221.3 332.9h0M221.6 310.6h0M220.6 331.1h0M221.2 310.3h0M221 309.3h0M221.9 323.6h0M221.1 329.2h0M222.2 333h0M220.8 330.7h0M221.1 319.7h0M221.6 315.1h0M220.2 309.3h0M221.2 332h0M220.6 327.8h0M220.5 316.2h0M221.8 319.1h0M221.3 326.2h0M221.2 304h0M221 310.9h0M221.8 324.5h0M222.1 303.7h0M220.8 312.2h0M221.4 307.7h0M220.9 314.7h0M221.5 332.5h0" stroke="#2ca02c" stroke-width="3.2"/>
<path d="M222.8 333L225.1 336.2L246.1 343.2L261.7 348.7L277.2 352.6L289.6 355.7" stroke="#2ca02c" stroke-width="5.5"/>
<path d="M265.9 349.8h0M254.3 348.6h0M266.7 348.8h0M265.1 350.9h0M232.1 340.7h0M226.5 338.4h0M242.3 340.7h0M271.6 353.6h0M235.4 339.8h0M276.2 351.7h0M267.1 352.3h0M282.7 355.1h0M257.3 346.6h0M238.7 343.5h0M272.4 350.8h0M251.6 343.7h0M223.7 336.4h0M238.4 341.1h0M257.1 348.3h0M248.3 345.3h0M228.2 335.4h0M278.9 354.1h0M284.1 353.5h0M243.7 341.6h0M238.9 338.1h0M238.8 337.8h0M262 345.8h0M232 340.7h0M231.5 338.1h0M235.6 341.8h0M273.4 350.8h0M262.8 351.9h0M252.3 345.1h0M243.6 341.2h0M247.7 346.2h0M249.5 344.8h0M277 355h0M261.7 351.2h0M274.7 353.5h0M250.5 342.3h0M257.2 344.2h0M237.6 340.9h0M271.3 350.1h0M288.7 357.2h0M274.8 352.8h0M288.1 357.8h0M270.7 352.5h0M228.9 334.7h0M247 346h0M227.1 338.9h0M278.2 352.5h0M257.3 348.1h0M252.7 342.5h0M266.8 352h0M244.5 340.2h0M277.5 353.8h0M262.1 349.7h0M269.2 347.8h0M289 358.1h0M248 343.9h0M254.6 347.7h0M270.1 351.9h0M273.7 352.6h0M267.3 352.8h0M239 340.7h0M256.2 348h0M224.3 332.2h0M248 346.6h0M277.1 352.1h0M286.8 355.3h0M259 349.8h0M242.2 339.1h0M274.3 351.6h0M270.8 349.5h0M230.9 338.6h0M226.1 335.5h0M225.5 338.8h0M235.5 340.2h0M272.9 348.9h0M275.2 351.7h0M257.4 349.5h0M231.4 341.3h0M281.1 351.5h0M289.4 353.9h0M274.5 350.1h0M283.9 353.2h0M242.1 340.2h0M226.4 334.8h0M283.5 352h0M227.4 337.3h0M243.4 342.5h0M241.7 343.5h0M268.3 349.8h0M261.3 346.4h0M289.4 354.2h0M261.8 350.7h0M246.3 343.6h0M256.4 347.9h0M249 345.9h0M289.5 353.1h0M264.6 350.2h0M276.6 353.8h0M273.4 353.4h0M288.2 356.2h0M285 352.7h0M251.1 347.8h0M273.1 353.2h0M257.7 349.3h0M288.8 354.8h0M269.7 348h0M278.6 352.7h0M234 337.4h0M228.8 337.9h0M238.5 342.2h0M243 343.2h0M288.7 354.7h0M228 335.1h0M276.9 354.4h0M243.8 342.9h0M244.2 343.6h0M228.7 337.5h0M262.6 350.3h0M234.6 340.2h0M229.9 337.4h0M268.6 352.1h0M258 347.8h0M289.1 355.3h0M245.6 343.9h0M239 340.2h0M249.3 344.7h0M265.4 349.4h0M227 335.1h0M265.2 350.9h0M228.7 337.8h0M235.6 339.3h0M261.8 350.6h0M264.7 346.6h0M229.1 336.1h0M241.9 341.7h0M277.4 354.9h0M244.1 341.1h0M266.7 350.6h0M275 350.5h0M242.4 342.5h0M241.8 341.1h0M253.2 348.6h0M255.2 345.5h0M236.7 340.8h0M231.3 340h0M267.4 350.6h0M230.3 337.1h0M223.6 334.1h0M275.1 353.9h0M243.9 343.3h0M261.1 349.6h0M273.6 352.9h0M232.5 336h0M248.8 342.8h0M229.6 336h0M251.5 345.3h0M254.4 344.4h0M277.5 352h0M244.8 344.5h0M285.6 357.4h0M223.6 331.9h0M238.7 342.1h0M268.8 348.2h0" stroke="#2ca02c" stroke-width="3.2"/>
<path d="M221 364.5L222.8 363L234 363L235 368.5L239 368.5L240 363L246 363.5L247 368.3L260 367.5L261.5 361.5L289.6 361.5" stroke="#2ca02c" stroke-width="8"/>
<path d="M274.9 360.9h0M282.1 363.8h0M273.3 359.7h0M252.8 368.8h0M260.6 367.7h0M283.7 362.6h0M235.6 372h0M221.9 362.5h0M247 364.9h0M269.9 364.1h0M243 365.7h0M244.1 363.9h0M242.5 365.1h0M245.5 362.4h0M275.1 363.4h0M277.2 362.7h0M272.9 358.2h0M256.4 364.6h0M235.4 366.1h0M223 367.4h0M281.4 359h0M268.8 365.5h0M249 370.8h0M280.1 360h0M280.2 358.5h0M258.9 365.4h0M272.4 365.2h0M238.1 371.1h0M282.3 364h0M274.7 358.8h0M273.3 358.3h0M255.4 365.5h0M272.4 359.3h0M269 363.8h0M223.6 363.3h0M253.6 365h0M246 365.8h0M245.6 366.8h0M237.2 372.7h0M286.8 358.9h0M245.4 361.5h0M266 364.9h0M282.9 363h0M265.1 357.6h0M235.8 368h0M273.8 362.2h0M286.2 361.3h0M238.7 372h0M241.3 361.9h0M244.3 366.6h0M224.7 362.8h0M231.1 361.9h0M261.8 365h0M242.1 363.9h0M264.5 363h0M272.7 364h0M236.7 364.7h0M267.5 363h0M266.5 360.7h0M254.3 369.4h0M281.1 360.6h0M256.9 371h0M238.3 369.4h0M244.6 362.4h0M278.4 357.5h0M265.1 361.4h0M225.2 361.8h0M249.5 371.1h0M258.3 363.7h0M245.1 361.6h0M271 359.6h0M245.8 362.2h0M240.6 364.7h0M238.9 367.1h0M231.9 363.3h0M287.2 358.7h0M282.5 363.2h0M271.7 365.5h0M235.5 370.3h0M268.9 359.9h0M222.3 366.2h0M244.2 361.6h0M288.4 360.3h0M256 366.6h0M258.6 369.4h0M255.9 366.3h0M229.6 362.8h0M282 365.3h0M257.3 365.4h0M246.1 363.1h0M228.2 362.5h0M259.1 365.5h0M248.2 369.1h0M263.3 358.3h0M246.7 369.3h0M245.2 359.2h0M258.8 368.2h0M244.6 361.3h0M284.3 365.7h0M243.7 366.1h0M246.8 363.8h0M259.5 368.1h0M271 361.2h0M272.7 359.6h0M236 368.4h0M272.2 357.4h0M245 360.8h0M226.2 363.6h0M232 361.3h0M253.3 370.5h0M222.3 359.4h0M270 357.6h0M251.5 370.9h0M276.2 362.7h0M286.8 357.6h0M225.6 360.4h0M279.9 364.4h0M223.4 359h0M232 364.1h0M253.7 370.7h0M282.3 358.5h0M264.9 363.4h0M266.4 362.4h0M257.4 368.2h0M257.3 368.4h0M256.1 371.7h0M286.4 364.6h0M225.7 366.1h0M283 363.8h0M277.2 360.4h0M283.6 358.5h0M280.4 362.9h0M255.7 369.7h0M274 365.3h0M277.9 365.2h0M231.6 358.9h0M282.3 357.1h0M244.7 359.1h0M273.6 361.6h0M235.2 367.4h0M221.3 367.1h0M257.3 371.4h0M235.7 371.5h0M223 362.4h0M267.3 359.1h0M278.9 357.1h0M265.3 365h0M244.7 364.4h0M243.5 362.4h0M267.4 362.8h0M266.1 361.3h0M242.6 364.1h0M251.6 369.3h0M264.9 363.2h0M277.2 360.1h0M241.5 359.5h0M281.4 360.4h0M246.6 363.5h0M227.7 364.6h0M237.8 371h0M273.3 362h0M277.5 364.1h0M286 362.2h0M281.8 362.4h0M259.2 371.9h0M257.4 369.5h0M281.6 360.2h0M275.8 363.3h0M263.2 363.9h0M243.8 359.6h0M258.7 368h0M251.4 366.9h0M255.6 365.3h0M231.5 367.1h0M224.7 361.4h0M289.4 361.8h0M271.9 362.4h0M259.4 364.2h0M287.5 364.6h0M231.3 364h0M243.6 362.2h0M261.7 364.8h0M225.1 362.2h0M226.8 366h0M254.6 366.2h0M234.2 364.5h0M284.7 365.4h0M232.7 362.3h0M285.7 357.2h0M266.4 359.4h0M265.4 358h0M264.3 358.3h0M244.7 364.2h0M225.1 364.5h0M248.6 366.9h0M221.4 364.8h0M248.5 369.8h0M288.4 364.1h0M273.2 358.9h0M284.1 365.4h0M248.3 368.4h0M225.1 366h0M222.7 364.3h0M222.7 365.8h0M281.1 360.7h0M233.2 368.2h0M224.7 367.1h0M226.4 369.2h0M223.7 368.9h0M223.5 369.8h0M233.3 366.2h0M225 367.4h0M233.7 367.8h0M230.8 367h0M224.7 367.9h0M232 366.4h0M232.5 369.2h0M232.8 366.8h0M224.7 368.1h0M229.4 366.1h0M230.2 370.3h0M233.5 367.5h0M231.4 367.4h0M229 370h0M229.1 369.8h0M225 366.6h0M224.2 369.5h0M233.2 369.5h0M223 366.1h0M224.9 368.1h0M227.3 369.8h0M232.1 366.1h0M228.8 366.3h0M223.6 369.4h0M226 370h0M226.1 367.2h0M227 367.2h0M223.9 369.5h0" stroke="#2ca02c" stroke-width="3.2"/>
<path d="M290 362.5L374 364" stroke="#2ca02c" stroke-width="15"/>
<path d="M293.8 371.8h0M311.2 361.9h0M350.2 369.6h0M290.1 354.2h0M340.7 366.6h0M358.9 369h0M368.7 364.9h0M307.5 363.9h0M327.4 369.3h0M322.8 359.8h0M321.1 367.7h0M303.4 358.1h0M346 359h0M346.4 374.8h0M329.8 371.4h0M371.8 368.3h0M347.8 373.3h0M293 363h0M340.4 360h0M316.9 359.1h0M363.2 371.9h0M349.2 352.9h0M352.4 352.6h0M355.9 358.6h0M307.7 365.3h0M325.6 367.6h0M370.4 366.9h0M342.7 360.8h0M296.8 361.4h0M321.9 364.4h0M369.7 373.8h0M362.3 365.6h0M369.2 357.7h0M325.4 366.9h0M362.4 359.3h0M358.2 368.8h0M329.3 367.2h0M340.4 370.8h0M317 373.6h0M321.5 360.4h0M329.7 361.7h0M349.3 371.5h0M318.9 375.1h0M332.2 362.6h0M355.9 359.3h0M328.2 362.5h0M299.8 361.3h0M301.4 357h0M346.2 371h0M349.3 360h0M323.9 370.7h0M307.5 369.1h0M339.1 364.9h0M373.1 357h0M302.5 356.1h0M339.7 372h0M364.7 362.1h0M297.6 364.8h0M354.2 356.2h0M367.5 367.2h0M321 366h0M309.2 371.2h0M362.2 364h0M344.1 365.1h0M326 355.9h0M296.9 370.5h0M305 351.7h0M292.2 354.3h0M352.3 356.8h0M295.4 358.1h0M335.5 358.2h0M303.1 365.6h0M353 361.1h0M360.3 365.7h0M324.6 370.5h0M344.2 358.8h0M322.1 356.1h0M317.2 353.4h0M373 358.9h0M310.5 362.8h0M305.6 365.2h0M330.4 371.4h0M296.9 356.2h0M361.2 372.2h0M333.3 354.3h0M346.8 364.1h0M331.1 365.2h0M367 361.2h0M304 352.4h0M290.4 370.4h0M331.9 362.2h0M298.4 361.6h0M327.2 372h0M321.4 373h0M352.1 363.7h0M337.2 359.8h0M306.8 352.5h0M319.1 372.3h0M296.1 366.3h0M312.4 368.5h0M301.9 357.4h0M322 368.3h0M311.1 361.8h0M316.6 363.8h0M341.2 367h0M346.7 361.3h0M362.2 358.6h0M317.1 371h0M343.3 355.8h0M362.7 359h0M336.8 366.5h0M308.5 354.9h0M298.1 365.9h0M294.7 359h0M302.9 355.2h0M303.4 355.1h0M300.4 360.6h0M308.3 363.7h0M366.2 359.7h0M320.5 365.6h0M325.9 371.7h0M329.4 372.9h0M300.6 367.5h0M308.4 356.7h0M365.8 367.8h0M291.6 360.8h0M364.9 362h0M373.3 370h0M328 353.1h0M361 353.8h0M328.8 365.8h0M325.4 354.6h0M353 366.5h0M325.1 369.4h0M339.9 361.1h0M338.6 370.1h0M351.7 359.6h0M367.7 366.1h0M351 365.6h0M350.3 363h0M333 364.4h0M300.3 370.4h0M345.2 374.4h0M346.8 354.8h0M290.8 368.8h0M366.5 359h0M306.4 351.6h0M308.8 363.6h0M321.2 371.5h0M309.9 371.2h0M298.7 367.4h0M346.5 361.8h0M339.8 357.3h0M304.9 360.2h0M309 353.5h0M365.9 363.6h0M334.7 355.1h0M356.6 367.8h0M306.1 374.3h0M316.8 368h0M293.8 367.4h0M342.3 357.5h0M358.2 357.7h0M325.9 366.8h0M324.2 368.9h0M315.2 366.7h0M332.3 365.3h0M338 364.7h0M310.3 353.4h0M300.5 366.9h0M333.8 369.9h0M357.8 364.3h0M313.3 373.6h0M322.1 372.9h0M357.8 363.9h0M352 367.2h0M293.9 365.2h0M369.1 373.5h0M354.8 372.1h0M302.2 355.6h0M328.7 373.2h0M336.4 366.4h0M332.2 373.7h0M294.9 366.1h0M367.6 359.5h0M325 357.4h0M348.3 367.6h0M341.3 363.8h0M353.7 363.7h0M320 368.3h0M342.5 356.9h0M345.4 369.9h0M331.3 366.4h0M312.7 359.2h0M355.8 358.3h0M306.8 359.5h0M299.2 365.6h0M369 367.5h0M349.3 359.3h0M303.7 369.6h0M301.3 364.8h0M294.1 368.8h0M344 359.5h0M344.7 351.5h0M295.9 367.8h0M307 352.9h0M347.6 369.2h0M292.7 363.8h0M335.4 365h0M323.9 370.5h0M305 363.6h0M372.1 359.6h0M293.7 353.6h0M312 354.2h0M342.7 354.3h0M362.9 372h0M304.3 368h0M354 372.6h0M367.6 369.4h0M371.9 359h0M319.7 354.5h0M307.6 360h0M352.3 371.5h0M350.9 366.9h0M317.8 350.3h0M322.9 359.2h0M321.7 366.6h0M364.8 367.9h0M335.7 366h0M371.6 360.7h0M319.9 359.7h0M338.8 369.5h0M328.7 354.9h0M310.5 364.5h0M312.4 354.3h0M362.3 357.1h0M291.8 362.6h0M372.3 357.4h0M323.6 358.8h0M304.3 356h0M342.6 353.5h0M369.4 358h0M312.6 368.9h0M315.8 361.7h0M347.2 375.2h0M294.5 371h0M347.8 368.3h0M306.2 355.8h0M313.1 372h0M300.1 355.3h0M358.6 360.4h0M318.5 366.6h0M308 354.9h0M306.1 361.4h0M358.9 355.8h0M309.2 362.5h0M356.4 363.9h0M301.7 359.2h0M371.1 359.3h0M348.6 365.6h0M358.5 370.8h0M315.2 355.4h0M297.6 369.6h0M369.9 364.4h0M319.3 355.5h0M347.2 351h0M328 359.4h0M328 372.6h0M323.5 363h0M364.4 363h0M354.5 366.5h0M326.7 356.4h0M335.5 363h0M306.8 364.2h0M327.8 371.4h0M359.9 357.9h0M326.8 354.3h0M290.7 354.8h0M331.3 365.8h0M372.8 370.9h0M355.9 363.2h0M342.2 364.8h0M371.4 366.6h0M316 367.8h0M331.3 373.7h0M362.4 359.8h0M329.6 374.1h0M329 359.2h0M316.4 354.5h0M342.2 360.9h0M340 369.6h0M331.7 355.1h0M356.9 369.9h0M306.8 360.6h0M371.3 359.5h0M333.4 362.1h0M299.2 366.4h0M370.1 366.2h0M369.3 367.9h0M329.6 366.8h0M296.7 366.7h0M349.3 367.8h0M372.9 363.8h0M348.6 358.5h0M314.9 367.4h0M294 365.2h0M358.9 362.7h0M368 354.4h0M295.7 361.7h0M326.8 371.3h0M358.7 353.3h0M290.8 367.9h0M309.4 371.4h0M336.7 362.7h0M359 361.9h0M312.9 366.2h0M364.4 368.1h0M312.5 360h0M373.1 366.1h0M316.2 369.4h0M326.6 364.7h0M302.9 371.6h0M317.4 374.4h0M309.1 368.6h0M337.9 360h0M352.6 354.7h0M313.4 353.1h0M311.2 370.1h0M295.2 361.2h0M299.5 357.6h0M321.6 370.4h0M296.3 370.2h0M337.9 364h0M325.2 370.9h0M347.8 352.4h0M354.2 373.7h0M308.1 356h0M328.5 359.2h0M292.6 359h0M311.2 357.7h0M330.4 360.9h0M317.8 353.8h0M342.5 354.8h0M290.5 367.7h0M305.7 359.6h0M337.8 367.6h0M321.7 366.2h0M303.4 368.8h0M344.5 367.3h0M295 368.8h0M303.9 368.6h0M298.4 360.7h0M352.1 373.6h0M354.9 356.4h0M317.4 376.2h0M350.4 356.6h0M355.2 357.6h0M363 359.3h0M323.1 356.9h0M354.4 359.1h0M372.9 367.2h0M314.2 368.7h0M365.2 365.8h0M304.9 374.1h0M366.9 362.5h0M351 354.9h0M330.3 365.9h0M326.8 356.6h0M292.2 372.1h0M310.8 355.7h0M291.4 368.1h0M369.4 355.8h0M297.1 358.1h0M293.1 360h0M324 359.9h0M363.5 356.9h0M360 367h0M369.5 361.2h0M358 369.6h0M351.6 374.4h0M336.4 362.1h0M326.2 366.8h0M302.7 360.8h0M316.9 373.6h0M359.5 374.1h0M356.3 373.7h0M340.1 362.2h0M295.5 354.4h0M297.4 355h0M355.7 372.2h0M330.9 366.6h0M346.7 364.4h0M366.1 363h0M296.9 360.8h0M372.8 355.1h0M320.2 351.6h0M355.7 363.2h0M358.5 373.3h0M345.9 359.3h0M342.3 372.5h0M298.5 361.2h0M298.4 358.5h0M367 368.3h0M319.8 370.6h0M369.1 360.5h0M370.1 360h0M338.3 364.4h0M312.8 361.4h0M323.3 365.1h0M350.6 373.3h0M305.6 365.2h0M367 370.7h0M316 353.1h0M354.7 363.8h0M333.4 356.4h0M333.7 361.4h0M297.1 364.3h0M367.3 358.9h0M308.5 357.5h0M334.6 363.8h0M368.2 355.7h0M340 353.4h0M307.1 365.1h0M296.7 363.7h0M339.8 355.3h0M338.6 366.5h0M332.5 353.4h0M310.4 357.6h0M322 360h0M323.9 358.5h0M362.9 361.1h0M344.8 370.7h0M335.5 368.4h0M351.9 366.2h0M314.9 362.5h0M349.6 352.4h0M291.4 356.3h0M368.8 362.1h0M365.5 356.7h0M317.6 368.8h0M342.7 364.7h0M294.9 361h0M305.2 370h0M364 366.9h0M342.6 354.5h0M304.8 360.2h0M350.3 367.5h0M310.3 363h0M313.7 360.7h0M320.3 359.8h0M320.4 358.1h0M342.9 364.8h0M334.7 365.7h0M347.7 352.1h0M319 373h0M341.9 368.3h0M301.1 367h0M316.8 355.2h0M360.7 372.9h0M296.7 359h0M344.8 366.7h0M338 357.5h0M343.2 371.5h0M331 355.5h0M306.9 373.7h0M300.5 371.1h0M291.3 356.7h0M313.8 373.7h0M335.2 358.3h0M326.4 355h0M316.6 371.2h0M291.3 357.7h0M298.1 361.4h0M361.2 364.6h0M300.5 356.3h0M306.4 358.9h0M291.9 352.7h0M314.9 370.8h0M356.9 354.7h0M297.1 367h0M295.6 357.6h0M362.5 359.6h0M335.8 364.3h0M343.1 368.5h0M295.5 360.8h0M290.7 355.3h0M335.7 364.4h0M373.7 354.7h0M313 369.2h0M320.6 359.3h0M322.4 353.6h0M353.5 373.5h0M298.6 369.7h0M292.7 365.2h0M371.3 363.5h0M327 371.1h0M344.4 362.9h0M356.1 369.7h0M297.5 356.2h0M350.6 356.1h0M344.2 357.1h0M353.2 371.8h0M333.1 372.6h0M361.3 370.6h0M332.8 360.1h0M367.3 372.7h0M305.8 362.7h0M326.2 361.2h0M354.7 367.1h0M368.4 364.3h0M312.6 368.6h0M352.8 374.7h0M337.4 364.6h0M295.5 355.8h0M308.9 365.6h0M329.7 357.9h0M365.2 365.9h0M310.7 357.6h0M321.5 372.8h0M290.7 356.5h0M346.1 358.8h0M341.2 358.6h0M319.1 373.7h0M290.9 370.1h0M315.6 357.3h0M366.1 361.2h0M346.2 363.8h0M340.4 373.4h0M347.6 359.6h0M292 352.6h0M309.8 359.6h0M321 358.8h0M304.2 372.9h0M372.3 364h0M326.7 354.6h0M336.6 359h0M313.5 357.4h0M313.8 371.8h0M298.7 368.4h0M325.8 366h0M353.3 367.9h0M299.8 364.7h0M353.8 354.2h0M299.1 370.9h0M369.7 358.3h0M349.3 365.9h0M333.9 369.7h0M305.7 359.9h0M303.5 369.9h0M370.1 353.2h0M363 360h0M323.4 354.6h0M303.4 373.2h0M313.8 361h0M372.1 357.6h0M303.2 368.5h0M366.6 363.1h0M313.8 351.4h0M317.2 359.5h0M370.2 363h0M356.3 354.4h0M320 360h0M367 359.2h0M315.5 353.8h0M356.2 370.6h0M348.3 373.8h0M335.4 361h0M325 356.6h0M309.5 352.4h0M371.5 367.5h0M353.6 362.7h0M334 364.8h0M323.1 362h0M346.8 353.2h0M305.4 364.8h0M321.1 371.9h0M328.4 354.1h0M317.6 354.8h0M336.8 370.5h0M295 355.2h0M310 365.3h0M367.5 370.3h0M348.2 375.4h0M340.9 355.2h0M328 370h0M342 364.6h0M312.9 362.6h0M331.4 366.1h0M293.5 369.4h0M323.1 367.6h0M297.9 365.4h0M310.9 369.3h0M292.4 353.3h0M327.1 364.7h0M330.7 353.6h0M352.8 366.1h0M322.9 361.2h0M342.2 361h0M339.8 356.6h0M333.5 364.3h0M336.5 362.4h0M314.8 371.1h0M363.1 356.2h0M341.4 364h0M354.9 360h0M322.7 365.6h0M322.1 353.2h0M333.8 358.1h0M323.2 357.7h0M338.5 365.8h0M320.2 367.8h0M359.6 353.4h0M311.9 353h0M323.1 355.6h0M325.8 360.9h0M311.2 352.1h0M365.1 358.1h0M353.7 364.8h0M339.7 361.8h0M327.8 361.5h0M329.7 359h0M365.3 369.4h0M301.8 357.1h0M365.3 364.8h0M335.1 358.2h0M371.9 367.4h0M343.3 353.7h0M327.8 360.7h0M304 360.3h0M317.6 352.2h0M352.6 364.8h0M301.3 354.5h0M313.5 370.8h0M354.6 353.2h0M318.1 376.4h0M365.7 365.9h0M309.8 355.5h0M340.9 362.8h0M317.4 369.3h0M352.3 364.1h0M329.1 364.4h0M371.4 364.3h0M327.1 370h0M291.2 360.1h0M298.9 370.4h0M326.7 372h0M337.4 358.6h0M345.4 353.4h0M305.2 372h0M312.8 374.1h0M293.9 362.4h0M315.3 360.6h0M335.5 372h0M323.1 357.7h0M363 367.7h0M318.2 375.1h0M332.8 361.6h0M341.8 370.3h0M336.9 366h0M332.9 367.8h0M366.4 355.7h0M292.4 369.3h0M356.9 368.8h0M323.8 358.5h0M314.8 373.2h0M346.7 369.4h0M345.3 360.1h0M363.7 372.2h0M339.7 369.6h0M295.1 355.6h0M370.3 370.4h0M330.2 368.6h0M359.4 356.8h0M359.4 349.5h0M363.5 349.9h0M373.3 348.4h0M360.9 349.6h0M371.7 348.7h0M372.8 347.1h0M359.6 349.2h0M369.1 344.4h0M373.8 343.2h0M359.1 354.4h0M362.9 356.2h0M361.6 354h0M369.7 354.6h0M369.3 351h0M359.5 347h0M370.2 354.2h0M367.1 351.6h0M359.7 352.6h0M373 347h0M363.4 350.4h0M364.9 340.9h0M361.8 352.9h0M368.3 351.3h0M361.8 347.5h0M360.1 347.6h0M369.2 353.5h0M361.8 353.2h0M369.6 350h0M366.3 340.4h0M366.6 341.9h0M358.2 355.8h0M374 352.5h0M366.2 344h0M360.1 344.6h0M358.3 358.5h0M367.2 352.7h0M372.7 350.1h0M360.5 347.4h0M367.8 347.1h0M365.2 349.8h0M361 349.1h0M370.6 343.5h0M368.3 344.9h0M367 349h0M371.4 352.7h0M358.3 347.9h0M371 348.8h0M364.6 349.5h0M364.7 344h0M358.1 350.8h0M360.9 345.7h0M359.1 353.2h0M370.9 351.1h0M369.2 343.8h0M373.7 350.8h0M362.1 350.2h0M361.2 347.7h0M367.4 348.6h0M368.8 348.6h0M358 351.6h0M360.5 349.9h0M369.2 345.1h0M366.5 347.6h0M358.6 346.6h0M359.6 351.9h0M372.7 352.7h0M361.1 348.7h0M364.9 348.4h0M367.1 349.5h0M371 342.5h0M360.2 344.6h0M373.4 348.7h0M366.8 343.6h0M362 351h0M364.4 347.8h0M364.2 348.9h0M373.9 348.8h0M373.7 353.7h0M362.2 349.1h0M367.9 341.1h0M360.4 356.5h0M372.6 351.2h0M372 354.9h0M373.7 353h0M372.2 352.5h0M368.5 350.7h0M373.1 351.7h0M369.3 352.4h0M364.5 344.9h0M371.6 351.6h0M373.3 347.7h0M365.3 348.7h0M359.5 354.3h0M361.4 352.6h0M359.6 352.9h0M365 354.8h0M372.5 348.7h0M366.1 344.9h0M363.5 347.3h0M364.3 341.4h0M367.1 343.4h0M367.1 349.2h0M361.6 356.4h0M363.3 350.7h0M361.3 357h0M367 340.4h0M371.4 343.6h0M366 352.2h0M373 354.5h0M361.4 353.1h0M363.6 355.1h0M370.6 344.3h0M368 342.7h0M373.6 348.9h0M359 356.6h0M358.4 357.2h0M361.9 344h0M368.2 354.8h0M360.7 355.9h0M371.3 343.4h0M371.3 355.6h0M362.3 352.4h0M363.9 354.8h0M372 351.4h0M364.3 347.1h0M372.8 344.3h0M368.6 354.3h0M371.3 349.4h0M359.9 350.2h0M358.6 349.8h0M368.9 347.1h0M363.9 344.4h0M372.7 346.3h0M371.9 348.3h0M368.4 341.1h0M373.5 354.6h0M374 349.5h0M359.5 356h0M371.9 343.4h0M371.6 355h0M361.4 345.7h0M373.2 353.2h0M371.6 346.8h0M369.9 350.6h0M362.4 347h0M368.3 345.6h0M370 352.2h0M362.5 349.6h0M366.5 354h0M367 348.1h0M373.1 343.8h0M369.8 349.7h0M373.6 348.2h0M370.6 347.9h0M373.8 350.4h0M370.4 350.5h0M373.6 346.4h0M368.5 354.6h0M367.3 343h0" stroke="#2ca02c" stroke-width="3.2"/>
<path d="M374 365.5L425 366.5" stroke="#2ca02c" stroke-width="7"/>
<path d="M388.2 362.6h0M407.8 366.6h0M417.6 369.2h0M413.1 365.7h0M438.2 363.2h0M432.9 362.9h0M427.1 365h0M412.8 358.9h0M383.1 364.6h0M389.9 369.4h0M394.3 362.8h0M382.5 362.8h0M402.5 371.5h0M431.6 362h0M391.1 364.7h0M424.1 359.7h0M437.3 360.5h0M399.2 360h0M411.1 364.2h0M422.9 368.7h0M416.1 361.7h0M397.4 368.3h0M401.2 365.8h0M404.6 359.7h0M411 360.2h0M427.5 365.2h0M378.7 370.3h0M392.4 370.5h0M399.2 371.2h0M384.3 370.5h0M409.1 369.1h0M399.3 372.9h0M424.1 361.3h0M409.4 369.9h0M411.5 362.3h0M413.1 367.5h0M380.2 358.3h0M397.3 360.5h0M418.5 361.7h0M401.6 358.7h0M381.1 368.7h0M400 363.3h0M406.6 370h0M404.9 359.7h0M403.7 369.4h0M394.9 366.8h0M378.1 370.7h0M404.4 368.9h0M434 370.4h0M405.6 363.8h0M428.8 362.8h0M395.4 361.8h0M436.3 365.8h0M377 361.7h0M411 363.3h0M424.6 372.9h0M381.1 366.7h0M390.6 371.5h0M400.3 372.6h0M375.2 365.4h0M404.9 370.3h0M406.1 361.9h0M409.5 370.3h0M414.1 361.1h0M425.3 367.5h0M414.8 365.2h0M413.7 370.7h0M425.4 373.4h0M428.5 370.9h0M438.2 367.7h0M399.2 360.1h0M407.2 370.4h0M381 360.9h0M402.8 365.8h0M435.5 367.5h0M412 370.2h0M416.3 369h0M404.5 360.6h0M399.4 360.9h0M379 373h0M413.4 361.3h0M388.2 358.4h0M383.1 369.9h0M438.6 363.3h0M394.9 364.7h0M406.7 361.1h0M427.5 369.5h0M410.2 358.9h0M432.6 364.1h0M389.3 364.8h0M428.2 362.4h0M391.3 358.8h0M381.1 371.8h0M425 360.8h0M381.7 366.6h0M419.3 370.5h0M374.3 362.4h0M384.6 367.1h0M405.2 363.6h0M380.4 366.5h0M393.1 373h0M408.5 370.8h0M399.9 359.5h0M378.9 360.1h0M409.7 364.8h0M402.1 367.6h0M418.3 371.9h0M430.8 363.5h0M435.8 360.4h0M411.6 364h0M391.4 363.8h0M415.8 369h0M425.8 362.7h0M412 362.2h0M383.9 362.6h0M434.8 373.5h0M398.7 359h0M412.2 359.3h0M439.6 370.1h0M404.1 366.5h0M386.5 372h0M393.5 370.2h0M437.7 360.2h0M423.4 365.3h0M439.3 365.5h0M403.7 362.4h0M389.1 370.4h0M377.4 361h0M396.5 362.7h0M392.2 363.7h0M415.7 364.9h0M398.4 359h0M398.5 366.7h0M407.6 361.7h0M403.2 370.4h0M374.5 364.1h0M430.7 361.2h0M394.3 363.1h0M433.4 370.5h0M438.8 368.1h0M426.6 368.4h0M426.9 371.1h0M438.5 374.3h0M404.5 367.1h0M394.9 369.5h0M399.6 360.4h0M433.6 366.8h0M434.9 364.8h0M422.1 364.9h0M402.4 366.6h0M433.2 371.7h0M424.1 360.2h0M422.5 367h0M388.4 360h0M391.7 362.8h0M399.1 370.1h0M425.1 371.6h0M402.1 368.3h0M432.6 369.6h0M402.1 373.1h0M385.3 359.8h0M406.2 369.5h0M397.1 363.9h0M385.8 364.9h0M404.6 363.2h0M427.1 373h0M408.1 361.4h0M428.8 370.8h0M417.5 364.8h0M402.1 360.3h0M437.4 363.8h0M386.9 365.9h0M413.9 359h0M429.4 361.6h0M379.9 370.7h0M411.5 363.2h0M426.9 360.2h0M421.2 366.4h0M432.6 370.4h0M396.1 364h0M400.2 369.7h0M416.6 370h0M433.6 373h0M439.4 364.3h0M401.1 359.6h0M383.7 368.6h0M437.6 372.3h0M422.5 372.1h0M414.4 371.1h0M407.2 359.9h0M420.3 366.4h0M397.8 371.5h0M397.1 373h0M417.7 372.4h0M425 364.1h0M411.6 364.1h0M397.9 368.2h0M399.7 369.2h0M422.1 360.9h0M394.2 358.8h0M413.2 369.7h0M431.1 371h0M385.7 370.4h0M433.5 363.4h0M380.4 372.5h0M433.4 364.7h0M388.5 369.4h0M386 371h0M426.4 362.5h0M384 361.2h0M437.7 364.3h0M414.3 359.7h0M395.9 366.5h0M396.9 360.3h0M438.2 367.3h0M428.7 364.6h0M376 373h0M379.1 366h0M424.5 359.7h0M389.3 362.3h0M383 358.3h0M398 359.8h0M422.1 359.4h0M408.4 365.4h0M437.6 366.2h0M392.7 358.9h0M380.5 365.1h0M429.3 364h0M380.9 367.3h0M439.9 360.6h0M387.8 362.3h0M395.7 369.6h0M384.5 360.7h0M384.1 370.4h0M434.4 373.4h0M400.5 365.2h0M432.7 367h0M414.7 371.1h0M429.6 370.6h0M396.7 366.6h0M413.5 360.6h0M384.7 358.4h0M391.6 370.6h0M397 371.1h0M393.9 361.3h0M415.6 373.5h0M427.2 360.7h0M381.7 362.8h0M387.4 364.3h0M425.3 365.5h0M435.2 360.4h0M417.7 368.7h0M439.6 371.9h0M398.3 367.8h0M379.9 368.2h0M416.6 371.5h0M382.5 359.2h0M382.1 366h0M416.7 360h0M391.1 369.8h0M399.6 367.4h0M407.2 361.7h0M439.3 365h0M389.8 366.3h0M424.9 371.4h0M387.2 364.7h0M403.4 368h0M438.8 361.1h0M387.9 367h0M425.6 371.2h0M388.6 364.2h0M402.1 364.5h0M411.2 368.6h0M423.2 368.7h0M398.2 373.2h0M416.8 367.5h0M375.5 369.4h0M397.7 366.4h0M417.9 370.4h0M412.8 372.6h0M423.3 362.5h0M406.2 372.2h0M407.5 361.1h0M425.4 360.8h0M420.2 372.6h0M420.9 370.8h0M437.1 371.5h0M388 364.4h0M390.6 364.7h0M411.2 370.1h0M434.5 364.3h0M381.2 371.6h0M405.5 368h0M431.7 371.5h0M404.9 363.2h0M391.4 366h0M376.9 360.8h0M375.8 359.3h0M421.2 369.1h0M405.5 361.7h0M432.7 366h0M410.7 368.3h0M433.3 362.3h0M416.6 360.8h0M379.7 368.3h0M382.6 359.8h0M434.2 368.5h0M411.4 364.8h0M409.5 360h0M422.9 359.7h0M408.8 358.9h0M401.3 361.3h0M424.3 362.7h0M416.8 361.7h0M403 363.4h0M429.2 360.3h0M406.5 360.7h0M374 358.4h0M392.7 365.7h0M422 366h0M379.7 366h0M398.4 362.3h0M430.7 361.5h0M436.7 365.3h0M384 361.7h0M423.3 364.3h0M422.7 370h0M386.7 362.1h0M408.5 363.2h0M410.6 369.6h0M401 360.8h0M392.6 371h0M407.1 372.8h0M432.2 371.5h0M411.2 360.9h0M378.7 358.8h0M400.8 365.2h0M392.9 368.8h0M430.1 372.4h0M418.1 371.9h0M425.9 370.5h0M418 365.3h0M387.4 371.6h0M426.6 360.8h0M385.1 366.6h0M380.4 365.9h0M433.6 366.2h0M374 360.7h0M415.3 362.7h0M378.2 361.9h0M419.7 362.7h0M432 368.6h0M425.7 364.1h0M384.1 360.3h0M406.1 365.5h0M387.3 365.4h0M420.4 365.6h0M383.6 359.3h0M389.4 361.3h0M429.5 359.3h0M424.6 364.4h0M395 368.3h0M404.5 373.3h0M425.2 359.9h0M411.8 369.7h0M437.3 364.6h0M402.2 359.2h0M395 364.8h0M440 363.5h0M414.4 365.5h0M428.4 367h0M380.4 369.4h0M405.7 364.8h0M397.4 365.4h0M425.6 365.3h0M430.6 373.8h0M396.1 360.7h0M391.7 362.3h0M417.7 366.3h0M426.3 373h0M420.2 371.3h0M409.8 369.7h0M428.8 360.3h0M382.5 366.7h0M433.5 361.2h0M424.7 365h0M427.4 365h0M383.4 371.6h0M438.2 368.1h0M406.6 368.8h0M404.2 365.6h0M379 360.3h0M379.9 372.9h0M377.7 362h0M404.2 359.1h0M387.6 364.5h0M407.2 356.9h0M425.2 370h0M374.3 371h0M428 374.5h0M419.8 377.2h0M431.5 370h0M400.9 367.6h0M414.5 360h0M438.7 358.2h0M419.1 363.7h0M419.8 360.2h0M396 349.7h0M415.6 359.9h0M418 365.1h0M384.3 367.6h0M426.1 376.2h0M424.1 370.5h0M392 357.9h0M413.8 368.7h0M379 375.8h0M393.6 364.1h0M431.7 356.4h0M402.9 376.7h0M410.4 366.5h0M397.6 363.1h0M394.7 364.2h0M389.2 361.1h0M432.5 364.7h0M434.8 367.1h0M411.3 372.1h0M412.8 362.6h0M434.8 362.4h0M401.9 361.2h0M403.1 354.6h0M386.3 366.3h0M392.3 368.4h0M386.2 352.3h0M436.5 379.6h0M436.3 374h0M403.9 373.6h0M424.7 369.2h0M405.9 370.4h0M412.2 362.6h0M403.3 363.5h0M420.5 372h0M384.2 371.7h0M431.8 363.7h0M412.7 366.1h0M430.1 367.2h0M402.1 363.7h0M375.2 359.8h0M423.5 377.6h0M421.9 368.6h0M421.1 374.3h0M427.9 369.9h0M387 369.8h0M426.1 377.7h0M397.8 372.1h0M377.1 352.6h0M430.3 364.7h0M410.4 370.6h0M408.9 361.5h0M434.6 366.6h0M386.3 358.1h0M393.1 376.1h0M374.6 362h0M408.8 371.4h0M410.4 368.2h0M397.3 363h0M397.2 369.7h0M434.6 367.1h0M433 375.6h0M390 357.3h0M384.5 369.8h0M416.7 358.6h0M431.6 373.8h0M415.4 379.5h0M402.9 372.4h0M437.3 364.1h0M389.5 361.7h0M377.2 366.6h0M426.3 381.4h0M387.2 366.9h0M434.6 365.9h0M410.7 365.3h0M413.5 359.9h0M435.9 363.4h0M383.2 371.2h0M409.9 388.5h0M406.9 377.3h0M391 363.6h0M392.9 363.8h0M434.9 366.6h0M425.7 368.9h0M436 366.1h0M411.1 352.3h0M385 365.2h0M429 370.2h0M374.5 358h0M399 370.8h0M380.2 363.9h0M423.7 361h0M409.4 363.2h0M434.9 373.3h0M424.5 368.6h0M406.1 379.2h0M379.7 362.1h0M409 372.3h0M399.2 358.2h0M419.7 359h0M427.5 372.8h0M429.8 365.1h0M421.5 377.8h0M392.2 359.5h0M380.4 367.5h0M426.1 364.7h0M422.2 365.8h0M377.1 372.3h0M425.5 371.3h0M410.8 373.6h0M412.2 366.6h0M406.7 360.5h0M408 366.4h0M380.8 366.7h0M402.6 372.4h0M432.3 379.4h0M427.2 355.3h0M424.7 378.4h0M401.7 370.9h0M429.4 365.4h0M386.8 366.3h0M427.3 364.7h0M400.5 363.9h0M398.5 367.5h0M404.2 368.8h0M380.3 373.2h0M426.3 381.3h0M381.2 362h0M425.4 369.6h0M377.5 369.9h0M436.1 361.8h0M436.9 371.2h0M381.3 373h0M428.5 365.7h0M439.1 371.5h0M394.1 380.1h0M422.5 374.4h0M385.4 365h0M391.3 374.8h0M426.2 363.2h0M419 370.4h0M381.9 364.1h0M405.8 360.8h0M439.4 364.4h0M374.5 371.6h0M403.7 359.9h0M409.3 349.5h0M419.9 361.3h0M413.3 370.6h0M388 369.6h0M428.8 366.1h0M381.6 369.5h0M412.2 358h0M378.5 363.5h0M423.7 369h0M409 362h0M396.6 367.7h0M407.2 361.9h0M433.7 367.9h0M406.3 356.3h0M418.8 365.7h0M404.8 377.3h0M412 357.3h0M420.5 365.7h0M421 367.7h0M394.3 362.7h0M425.8 363.3h0M418.6 369.1h0M405.2 361.9h0M387.3 363.1h0M393.5 360.3h0M413.1 362h0M423.7 368.3h0M378.5 370.2h0M440 359.6h0M410.8 362h0M387.5 347.6h0M422.2 362.8h0M437.5 362.4h0M383.1 374.7h0M412.6 360.8h0M379.8 353.8h0M391.8 370h0M433.4 382.7h0M394.2 366.8h0M427.9 361.8h0M418.4 377.4h0M425.5 387.2h0" stroke="#2ca02c" stroke-width="3.2"/>
<path d="M222 292L224 290.7L293.3 277.3" stroke="#2ca02c" stroke-width="5"/>
<path d="M232.3 292h0M226.4 287.1h0M284.2 276.5h0M240.4 286.8h0M279 278.5h0M262.1 285.7h0M255 282.9h0M262.2 286.1h0M283.9 278.9h0M270.1 283.6h0M255.9 287.7h0M239.7 290.4h0M275.3 280.1h0M264.8 281.7h0M269.7 282.6h0M288.5 278.8h0M289.6 277.3h0M264.8 285.7h0M258.3 284.3h0M236 290.9h0M265 285.3h0M283 279.9h0M240.6 289.2h0M236.8 290.4h0M242.4 285.8h0M275.5 278.1h0M245.8 283.6h0M274.4 282.8h0M237.8 288h0M238.2 288.1h0M241.8 288.4h0M282.6 276.5h0M250.2 283.3h0M287.9 278.3h0M258.4 287.2h0M224.9 291.6h0M253.2 285.5h0M230.9 288.8h0M291 275.9h0M257.2 285.5h0M243.2 285.3h0M223.7 289.1h0M256 282.9h0M241.7 288.9h0M281.9 277.4h0M227.4 291.1h0M275.2 280.2h0M290.2 277.7h0M245.8 289.2h0M232.4 291.4h0M253.1 287.5h0M248.9 286.9h0M276.2 278.4h0M229.7 291.3h0M258.8 286.9h0M286 281.5h0M239.5 286.2h0M225.1 289.4h0M240.5 286.9h0M280.6 281.7h0M263.3 280.2h0M251.9 286.1h0M247.8 285.4h0M230.3 292.4h0M225 292.4h0M246.4 287.2h0M273.8 278.4h0M276.3 280.8h0M292.8 276.5h0M246.9 283.3h0M285.3 278.6h0M243.7 289.2h0M254.9 285.5h0M242.4 285.9h0M280.7 279.8h0M289.7 278.5h0M291.9 280.5h0M274.7 281h0M225.6 290.2h0M267.9 279.7h0M292.1 276.1h0M289.8 277.1h0M251.7 283.4h0M262.5 280.7h0M284.4 276.8h0M241.5 287.2h0M246.2 285.5h0M271 280.2h0M240.2 288.5h0M254.8 286.2h0M273.6 280.6h0M235.6 288.4h0M276.3 282.7h0M252 285.6h0M230.8 290.8h0M224.4 288.9h0M251.8 284.9h0M224.1 289.9h0M261.7 283.1h0M253.2 282.7h0M281.4 279.8h0M234.6 291.2h0M285.5 275.9h0M271.1 282.2h0M265 280.8h0M254.7 282.1h0M257.8 284h0M236.6 290.2h0M235.6 291.1h0M244.6 288.2h0M242 288.8h0M257 286.1h0M250.7 287.9h0M264.7 282.3h0M255.9 283.6h0M291.7 277.8h0M288.3 278h0M280.6 279.4h0M275 278.5h0M227.8 293.1h0M292.9 274.5h0M266.3 281.8h0M255.8 283.8h0M288 279.6h0M266.3 284.6h0M251.1 286.8h0M275.3 280.5h0M292.3 276.7h0M249.9 288.5h0M265.2 280.8h0M237.3 285.8h0M251.8 287.4h0M284.4 281.8h0M246.5 284.2h0M226.7 291.1h0M258 283h0M278 278.7h0M228.8 290.2h0M268.8 282h0M225.1 290.3h0M255.2 285.5h0M226 292.3h0M285.1 278.6h0M259.4 285h0M248.7 287.5h0M232.9 289.8h0M224.5 293.3h0M259.9 286.8h0M229.1 286.6h0M223.3 292.2h0M268.9 282h0M232 287.2h0M291.4 278.9h0M271.6 278.4h0M287.9 276h0M228 291.2h0M287 279.9h0M248.5 287h0M256.5 282.3h0M283.8 276.3h0M277.2 277.9h0M235.3 287.8h0M227.6 289.9h0M246.7 286h0M242.2 287.6h0M230.3 289.3h0M284.1 276.7h0M228.8 292h0M286.6 277.8h0M274.5 278.2h0M263.5 285.3h0M288.2 276.4h0M287.8 279.8h0M239.4 290.2h0M259.7 282.4h0M290 279.7h0M276.9 278.3h0M278.5 281h0M257.9 285.8h0M280.2 280.6h0M281.5 282.8h0M230.5 291.9h0M251.2 287.3h0M250.3 284.6h0M273.8 281.4h0M269.4 283h0M260.5 285h0M230.1 290.2h0M260.8 285.9h0M290.5 275.2h0M235.9 286.9h0M234.2 290.5h0M289.6 279h0M263.7 284h0M255.7 287.3h0M239.5 289.3h0M279.3 280.7h0M287.4 277.8h0M266.5 280.4h0M285.1 277.8h0M260.3 286.6h0M237.2 289.1h0M271.4 284.1h0M257.6 282.8h0M283.2 281.2h0M266.2 283.9h0M239.5 289h0M269.6 279.1h0M270.2 279.6h0M247.8 287.8h0M227.7 291.8h0M272.7 282.2h0M257.9 286.1h0M222 293.3h0M224 290.3h0M225.1 294.9h0M222.2 288.1h0M226 290.5h0M224.5 291.7h0M225.3 289.6h0M226.1 286.9h0M226.1 292.3h0M225.7 289.1h0M229.5 290.2h0M228.6 291.2h0M227.8 292.9h0M229 290.2h0M226.9 295h0M227 289.4h0M226.9 288.1h0M229.2 292.4h0M223.5 291.7h0M223.5 288.3h0M344.1 284.8h0M368.4 274.7h0M306.5 273.7h0M308.1 285h0M346.7 272.7h0M305.8 276.9h0M306.4 286.2h0M311 276.8h0M365.8 268.2h0M297.8 277.9h0M301.2 285.2h0M310.1 271.4h0M305.9 273.1h0M335.9 270.6h0M304.6 278.4h0M338.3 292.7h0M308.7 267.3h0M352.6 290.1h0M372.4 276h0M348.4 281.9h0M354.2 279.4h0M353.4 280.5h0M325.4 289.8h0M333.1 286.5h0M331.7 273.4h0M298.8 289.2h0M337.1 268.6h0M345.9 276.5h0M318.2 265.6h0M296.8 270.6h0M368.1 278.8h0M372.4 266.7h0M293.1 259.5h0M331 290.1h0M349.3 281.6h0M367.1 262.8h0M359 275h0M328.6 285h0M296.3 281.9h0M308.3 282.2h0M322.3 282.6h0M337.3 267.2h0M370.8 271.9h0M369.4 289.3h0M347.5 256h0M310.2 284.7h0M329.8 291.7h0M305.3 257.6h0M294.6 293h0M324.9 277.8h0M366.6 275.1h0M335.2 275.6h0M300.1 275h0M348.5 282h0M348.2 271.2h0M365.5 275.9h0M297.7 286.7h0M373.2 276.4h0M325.9 270.2h0M360.1 272.8h0M355.9 293.6h0M343.7 288.8h0M350.4 272.9h0M309.5 277.5h0M323.9 286.9h0M366.3 262.6h0M307.4 284.2h0M336.8 279.5h0M334 268h0M366.5 282h0M313.1 280h0M317.3 284.6h0M346.3 290.9h0M309.5 276.8h0M351.5 282.1h0M328.3 287.7h0M330.4 296.4h0M326 269.9h0M369.1 256h0M332 275h0M300.2 281.5h0M329.2 287.4h0M316.5 280h0M373.9 275.7h0M353 258.1h0M330.5 268h0M352.9 286.8h0M330 285.3h0M305.2 273.7h0M315 275.1h0M336.2 292.8h0M329.2 289.7h0M349.7 284h0M302.1 278.4h0M294.3 264.1h0M372 271.3h0M350 274h0M363.2 276.4h0M311.3 281.8h0M368.7 275.2h0M292.3 297h0M332 286.3h0M309.4 274.2h0M334.7 294.2h0M312 287.4h0M305.7 256h0M320.7 285.6h0M342.3 278.2h0M344.7 269.1h0M364.5 265.7h0M361.8 298h0M293.1 288.3h0M359.5 272.5h0M347.2 269.8h0M365.2 276.2h0M337.8 283.1h0M343.2 270.6h0M358.7 277.9h0M364.6 276.1h0M331.7 271h0M326.3 277h0M329.6 296.1h0M347.6 273.7h0M326.5 276.8h0M332.9 298h0M323.7 256h0M361.3 290.5h0M354.7 281.7h0M372.2 270.4h0M355.4 264.6h0M375.3 276.2h0M328.3 277h0M355.3 266.8h0M304.5 276.4h0M360.3 284.5h0M337.6 256h0M326.3 275.2h0M324.1 278.4h0M366.5 278.4h0M332.8 298h0M324.2 276.8h0M332.3 281h0M331.1 267.2h0M312.6 263.3h0M374.7 283.4h0M313 291.5h0M362.8 271.1h0M325.6 282.7h0M327.2 266h0M301.4 274.9h0M307.1 279.2h0M354.9 266.4h0M319 268.6h0M297.8 280h0M338.6 275.9h0M362.9 275.2h0M368.5 280.2h0M355.3 286h0M359 271.7h0M300.5 272.9h0M305.9 281.3h0M345.7 279.7h0M298.1 287.8h0M369.2 265.9h0M298.2 267.5h0M327.5 283.3h0M316.8 272.5h0M370.9 270.9h0M353.6 278.9h0M368.2 287.3h0M337.9 280.4h0M307.6 269.2h0M322.6 279.8h0M328.6 284.9h0M294.3 275.3h0M307.9 297.4h0M294.2 261h0M352.2 268.6h0M327 289.4h0M316.9 283.9h0M345.8 291.4h0M295.5 281.8h0M361.7 278.3h0M314.1 288.6h0M328.7 259.2h0M365.2 270.7h0M358.4 261.9h0M330.4 271.5h0M373.7 267.1h0M310.4 290.3h0M354.5 264.2h0M308.1 289.2h0M338.7 279.3h0M317.6 266.2h0M360.6 256h0M370 282.3h0M371.8 284.6h0M369.1 284.9h0M301.7 275.7h0M338.2 256h0M337.4 277.2h0M345.4 259.3h0M358.5 283.6h0M325.6 284.6h0M314.3 291.8h0M297.4 281.2h0M314.5 278.7h0M370.6 279.1h0M308.7 273.6h0M298.9 279.5h0M314.5 272.2h0M314.5 274.8h0M353.2 286.5h0M292 260.2h0M292.7 291.4h0M332.9 268h0M312.1 267.9h0M308.8 278h0M295 298h0M305.4 279.5h0M367.5 281.8h0M366.1 286h0M359.1 260.9h0M345.4 285.4h0M323.2 263.1h0M332.3 273.9h0M302.6 256h0M342.1 273.6h0M355.2 273.3h0M366.9 275.9h0M362.6 283.1h0M300.5 277.2h0M333.8 287.2h0M331.1 267.3h0M375.8 279.4h0M296.1 276.8h0M323.5 283.9h0M344.8 263.1h0M316.7 274.2h0M310.7 256h0M344.9 276.4h0M329.1 290.6h0M312.1 281.6h0M325.1 260.6h0M292.9 286.7h0M312.7 280.9h0M348.7 268.7h0M315 276.9h0M301.9 276.7h0M352.8 275.6h0M355.9 266.9h0M373.7 264.9h0M346.9 283.2h0M354.3 281.4h0M309.1 277.8h0M307.1 280.7h0M297.9 276.7h0M334 276h0M337.8 275.8h0M370.2 291h0M353.1 282.2h0M323.1 291h0M361 280.5h0M338.6 286h0M293.9 279.8h0M343.3 281.7h0M294.7 278.3h0M351.8 282.2h0M369 286.4h0M299.1 282.4h0M301.5 296.6h0M317.9 272.1h0M308.3 279.2h0M359.1 264.4h0M294.1 274.7h0M349.4 267h0M355.8 256h0M371.9 269.3h0M297.3 272.1h0M336.9 277.8h0M350.8 285.4h0M317.1 284.7h0M321.9 260.8h0M366.8 273.9h0M328.8 282.2h0M298.7 279.9h0M369.1 290.1h0M346.1 266h0M292.9 275.5h0M307.9 279.3h0M360.8 292.9h0M368.1 273.9h0M305.5 277.5h0M338.7 276.5h0M349.8 288.7h0M321.2 272.2h0M293 279.2h0M313.2 256h0M344.2 280.1h0M295.5 280.3h0M331.3 266.1h0M373.6 258.1h0M325.1 282.2h0M352.2 274.1h0M318.8 277.4h0M345.8 271.7h0M374.4 263.2h0M310.2 275.1h0M308.5 282.1h0M367.1 278.6h0M367.9 256h0M328.3 268.6h0M373.9 258.7h0M302.2 288.7h0M366.1 275.4h0M360.2 262.2h0M368.6 278.1h0M363.9 271.3h0M315.5 261.4h0M307.4 290.7h0M357.3 281.7h0M369.4 275.9h0M336.7 278.7h0M300.6 278.8h0M375.6 266.6h0M296.4 268h0M298.3 288.9h0M352 269.1h0M361.2 272.5h0M336.3 274.8h0M304.1 264.9h0M329.5 294h0M329.8 282.2h0M337.7 287.3h0M335.6 271.9h0M316.1 298h0M350.5 263.3h0M293.3 281.8h0M317.2 281.8h0M301.8 270.2h0M363.2 261.9h0M311.6 285.5h0M325.7 285.3h0M351.9 257.8h0M352.2 298h0M313.5 273h0M351.5 264.8h0M338.6 292.1h0M330.6 281.4h0M350 272.2h0M349.5 281.7h0M322.3 293h0M351.4 266.6h0M305.8 270.3h0M299.5 298h0M298.5 270.2h0M360.1 270.3h0M368 269.7h0M295.4 262.4h0M347.9 280h0M316.6 276.1h0M338.5 275.2h0M329.3 271.3h0M302 283.1h0M307.4 264.3h0M342.8 282.9h0M296.8 288.4h0M333.5 285.6h0M321.7 277.1h0M343.5 271.6h0M307.8 291h0M348.3 284.5h0M333 284.6h0M327.3 279.9h0M331.5 298h0M338 270.8h0M369.2 271.7h0M365.1 285.1h0M314.4 284.8h0M301.3 271.5h0M366.2 264.3h0M354.5 271.7h0M334 288h0M372.2 278.4h0M364.6 268.7h0M353.8 286.9h0M300.6 258h0M347.3 282.2h0M314.5 280.8h0M359.7 276.3h0M294.4 266.4h0M332.5 273.3h0M345.7 275.8h0M307.8 277.6h0M331.9 280.6h0M352.3 282.3h0M306.9 258.8h0M299 281.2h0M368.1 274.9h0M297.5 268.2h0M333.7 256h0M368.3 277.8h0M317.4 269.3h0M332.8 283.9h0M359.6 278.6h0M308.9 275.4h0M349.7 266.1h0M357.3 276.4h0M372.3 258.8h0M314.1 280.7h0M337.5 287.3h0M347.8 268.7h0M330 288.4h0M292.3 288h0M353.4 265.2h0M344.3 284.9h0M314.5 270.2h0M361.1 278.1h0M306.9 286.1h0M316.9 298h0M305.1 280.7h0M304.9 273h0M357.9 264.7h0M353.3 270.2h0M365.5 282.9h0M311.3 276.1h0M360.8 272.4h0M331 269h0M346.4 277.2h0M357.9 292h0M361.6 277.3h0M292.8 293.7h0M313.8 272.3h0M329.2 276.1h0M338.8 276.9h0M318.6 275.9h0M329.8 274.3h0M300 284.1h0M306.8 283.2h0M359 284.7h0M315.7 283.3h0M295.6 284.6h0M361.6 268.3h0M354 276.3h0M327.2 278.1h0M368.3 285.7h0M364.8 282.9h0M335.8 280.5h0M293.5 285h0M331.9 276.6h0M297.8 294.9h0M307 277.7h0M365.4 275.4h0M373.6 273h0M318.6 276.2h0M307 262h0M337.7 274.8h0M375.6 275.5h0M297.2 266.4h0M305.7 294.3h0M316.8 268h0M347.4 286.4h0M346 289.4h0M323.8 263.2h0M352.2 276.7h0M370.5 276.9h0M370.4 284.3h0M316.5 268.9h0M294.4 285.3h0M331.2 270.7h0M297.8 298h0M345.2 265.4h0M360.7 269.7h0M364.8 288.6h0M297.4 279.5h0M354.5 273.1h0M358.1 283.3h0M351.8 276.3h0M344.2 266.4h0M344.7 277.1h0M305.9 274.5h0M304.8 274.5h0M355.3 296.8h0M316.1 276h0M298.8 284.4h0M317.8 278.5h0M349.8 281h0M369.9 272.4h0M292.6 277.8h0M298.4 286.4h0M360 287.6h0M362.9 267.3h0M314.4 280.4h0M300.8 264.9h0M373.7 282.6h0M317.5 279.5h0M371.5 285.9h0M338.1 293.3h0M358.3 281.8h0M297.5 283.2h0M330.4 283.2h0M364.4 285.1h0M308.3 276.2h0M315.5 281.3h0M335.2 270.6h0M370.7 272.2h0M324.2 277.6h0M360.2 293.5h0M347.8 265h0M318 272h0M316.8 276.2h0M363 286.9h0M295.1 264.1h0M343.5 279.3h0M369.6 278.6h0M333 266.4h0M316.3 270h0M300.1 278.2h0M328 278.5h0M373.9 271.1h0M337.8 293.3h0M349.9 284.9h0M315.1 276.2h0M317.7 294.1h0M334.5 298h0M366.9 279.3h0M305.5 288h0M335.8 267.3h0M312 282.1h0M323.5 268.9h0M294.4 286.2h0M314.5 283.1h0M346.9 273.5h0M352.7 279.9h0M347.1 263.4h0M354.4 268.1h0M306.4 264.6h0M350.4 281.8h0M335.2 279.6h0M342.9 279.4h0M369.2 268.3h0M368.7 297.5h0M363.1 274.9h0M295.8 296.2h0M324.6 288.5h0M311.5 274.1h0M351 278.1h0M323.7 270.9h0M311.8 263.9h0M360.6 286.7h0M313.3 297.6h0M350.6 277.8h0M337.9 279.2h0M330.7 282.9h0M359 288.4h0M367.3 275h0M332 294.8h0M375.2 272.8h0M364.9 262.2h0M370.9 270.4h0M342.2 257.5h0M343.7 283h0M318.3 291.8h0M300.5 281.9h0M297.2 279.8h0M374.8 279.1h0M336.1 275.2h0M295.6 269.5h0M369.1 274.2h0M318.7 283.5h0M312.3 282.7h0M293.3 284.3h0M298.3 278.3h0M333.5 266.4h0M363.2 292.5h0M298.4 274.2h0M370.3 273.9h0M330.6 284.9h0M342.8 277.4h0M298.2 268h0M307.5 274.9h0M298.8 280.1h0M352.3 262.3h0M344.8 275.4h0M304.5 273.5h0M295.8 266.1h0M296.1 271.6h0M347.8 272h0M306.7 280.9h0M315.4 271.7h0M349 266.5h0M329.5 271h0M360.3 290.9h0M312.2 289.2h0M304.8 270.7h0M332.1 293.7h0M293.8 275.3h0M293.5 293.6h0M350.1 272.9h0M315 280.4h0M316.7 281.9h0M322.2 281.5h0M321.4 289.3h0M371.4 268.6h0M307.6 262.8h0M373 268.6h0M353 280.4h0M344.5 288.9h0M373.1 282.1h0M307.3 261h0M298 283.9h0M310.5 283.2h0M369.1 291.8h0M375.7 277.9h0M338.4 280.9h0M323.9 272.9h0M346.1 259.4h0M371 282.5h0M306.2 291.8h0M337.8 270.9h0M369.2 258.3h0M308.2 298h0M315.6 274.7h0M296.1 277.1h0M349.4 258.4h0M343.9 283.7h0M335.5 297.4h0M299.6 272h0M315.5 275.3h0M314.4 291h0M295.5 289.3h0M364.2 267.1h0M308.4 280.9h0M364.6 278.1h0M374.4 292.5h0M344 259.7h0M369.4 282.4h0M317.7 286.6h0M306.9 278.8h0M317.2 276.6h0M364.4 275.9h0M307.2 278.5h0M361.3 275.9h0M352.6 280.1h0M351.1 256.2h0M359.7 264.7h0M363.8 277.2h0M338.5 292.6h0M342.4 277.9h0M300.4 286.5h0M309.4 270.5h0M373.7 288h0M295.8 298h0M325.3 278.6h0M375 290.9h0M324.1 280.2h0M332.4 280.1h0M309.5 281h0M308 258h0M316.4 282.7h0M334.1 282h0M329.4 271.3h0M342.4 256h0M358.9 285h0M325.1 273.3h0M361.9 270.9h0M351.7 291.2h0M374.6 282.8h0M371.5 280.3h0M372.8 274.5h0M300.2 284.7h0M324.3 277.6h0M356.9 290.5h0M368.6 278.6h0M308.8 298h0M292.9 258.4h0M360.9 257.5h0M372.4 267.5h0M345.1 273.6h0M297.9 282.5h0M308.9 270.5h0M297.7 271.3h0M333.6 286.7h0M292.3 269h0M332.8 278.9h0M341 282.8h0M302.1 282h0M313.4 274h0M349.2 290h0M333.7 269.7h0M368.9 256h0M358.3 282.2h0M336.9 267.5h0M368.2 272.2h0M342.2 264.6h0M332.3 278.5h0M359.7 266.8h0M312.8 266.2h0M349.2 285.2h0M374.8 287.2h0M371.1 256h0M310.1 264.7h0M318.3 269.8h0M317.1 272.2h0M349.5 298h0M294.2 272.3h0M352.8 280.8h0M346.9 268.3h0M350.3 293.6h0M369.3 278.5h0M361 272.9h0M294.2 266.2h0M342.3 275.3h0M337.8 273.5h0M333.3 257.7h0M349.6 266.8h0M329.4 278.1h0M352.1 288.1h0M372 273.5h0M296.7 284.7h0M363 282.1h0M374.3 272h0M363.9 264.1h0M361.9 263.9h0M353 276.8h0M351.3 268.7h0M307.5 268.9h0M306.8 291.3h0M333.9 282h0M298.6 281.4h0M369.7 278.2h0M305 285h0M334.7 270h0M297.5 285.2h0M304.5 295.5h0M309.9 290.3h0M374.7 272.2h0M292 274.5h0M364.3 281.2h0M302 272h0M292.1 289.3h0M345.7 298h0M346.2 295.6h0M349.7 277.1h0M324.8 269.1h0M313.2 276.1h0M317.4 268.3h0M324.1 271.4h0M331.1 277.6h0M350.7 297.3h0M365.3 281.5h0M309.5 285.6h0M307.2 280.6h0M352 275h0M312 269.2h0M299.8 281.8h0M332.2 263.2h0M365.6 277.8h0M298.6 273.9h0M331.3 268.9h0M312.2 273.2h0M369.7 277.9h0M333.1 277.7h0M365.2 262.3h0M299.3 269.4h0M361.7 276h0M368.8 278.1h0M334 273.7h0M348.8 288.6h0M349.7 275.6h0M338.6 274.5h0M358.2 276.2h0M334.3 267.9h0M367.7 277.2h0M346.9 270.6h0M307.7 265h0M322.6 270.6h0M347.4 272h0M335.9 266.4h0M328.5 273.1h0M363.2 284.6h0M362.7 272.5h0M298.5 287.9h0M350.8 271h0M347.3 281.7h0M331.5 267.7h0M361 279.1h0M335.7 259.4h0M318.7 271.2h0M313.6 280.1h0M349.7 291.5h0M299.9 281.9h0M360.5 264.5h0M348.3 273.8h0M369.9 270.4h0M344.5 269.1h0M351.5 280.5h0M343.2 295.2h0M370.8 263.1h0M345.7 288.2h0M344.8 276.1h0M362.6 271.3h0M294.2 285.9h0M331.5 277h0M370.4 285.1h0M297.9 285.1h0M333.4 284.1h0M342.4 288.2h0M299.8 269.9h0M367.3 283.2h0M348.9 281h0M318.5 293.3h0M331.7 273.2h0M312.7 279.6h0M374.1 271.8h0M367.8 279.7h0M315.8 269.6h0M293.7 269.4h0M342.2 296.8h0M352.2 278h0M348.3 287.7h0M370 275.7h0M342.9 278.6h0M368.6 276.4h0M309.2 270.4h0M335.9 258.4h0M313.6 274.8h0M303.7 282.5h0M343.7 287.8h0M295 262.8h0M337.4 257.4h0M330.2 264.7h0M364.7 281.4h0M316.2 276.6h0M332.1 288.8h0M363.4 279.9h0M318.1 264.3h0M344.5 292.5h0M344.5 277.4h0M327.5 259.5h0M350.9 283.5h0M323.4 276.4h0M308.8 272.6h0M300.6 276.9h0M298.6 293.4h0M370.7 285.8h0M332.2 262.1h0M346.7 280.8h0M305.3 281.3h0M307.6 293.5h0M315 287.9h0M310.9 265.7h0M359.8 276.8h0M311.9 287.5h0M298 286.4h0M347.3 284.7h0M335.8 269h0M369.2 273.4h0M333 271h0M366.9 291.9h0M305.1 282.4h0M309.3 285.9h0M338.2 272h0M345.4 258.1h0M312.2 258.1h0M359 266.7h0M367.3 286.1h0M307.1 270.4h0M312.2 281.7h0M328 284h0M294.6 273.9h0M329.5 266.3h0M306.9 277.7h0M335.9 256h0M346.9 276.7h0M364.4 271h0M344.6 270.5h0M310.1 288.4h0M374.8 280.3h0M305.9 270.8h0M370.7 291h0M334 298h0M311.4 277.5h0M342 293.9h0M375.5 266.1h0M332.8 291.7h0M356.1 276.4h0M348.3 280.2h0M310.4 269.3h0M295.2 277.9h0M359.2 276.6h0M313.2 271h0M336.7 290.4h0M315.4 286.4h0M337.7 256h0M292.6 280.1h0M334 279.7h0M293.1 279.8h0M323.5 274.7h0M301.5 291.7h0M345.7 283.9h0M364.9 271.4h0M342.6 273.1h0M315.5 274.2h0M307.1 293.4h0M338.4 278.7h0M353 282.2h0M338.8 277.3h0M373.2 285.3h0M324.6 297.7h0M300.3 265.2h0M326.5 258.8h0M375.5 280.9h0M373 296.6h0M310.7 291.5h0M370.2 269.1h0M333.1 274.8h0M309.5 274.3h0M366.4 279.7h0M336.1 266h0M295.7 273.3h0M330 274.5h0M337 266.5h0M338 263.1h0M354.4 275.3h0M311.7 267.8h0M313.4 278.2h0M347.2 291.2h0M331.7 276.1h0M322.3 276.1h0M349.9 273.2h0M363.4 268.4h0M362.8 256h0M352.5 289.9h0M323.6 294.9h0M329.8 280.6h0M299.9 276.3h0M348.8 270.9h0M358 272.3h0M292.2 283.1h0M314.6 272.4h0M356 266.4h0M353.2 271.7h0M371.7 276.9h0M373.2 271.6h0M325.8 276h0M348.7 285.8h0M327.3 262.4h0M298.4 276.4h0M300.3 262.4h0M456.8 279.8h0M383.1 287h0M401.5 287.3h0M462.5 277.5h0M379.2 289.8h0M379.9 276h0M394.5 264.1h0M450.7 283.6h0M386.1 272.7h0M390 287.8h0M421.4 287.7h0M388.7 277.2h0M449.3 283.9h0M430.8 285.3h0M380.1 286.5h0M409.5 267.6h0M408 291.7h0M425.3 280.2h0M384.9 290.6h0M393.1 280.5h0M438.7 289.9h0M376.5 278h0M417.5 266.1h0M387.5 276.8h0M394.2 290h0M391.8 287.1h0M415.9 264.9h0M396.7 265.7h0M393.7 284h0M400.7 282.7h0M387.1 293h0M386.3 283.3h0M406.1 305h0M416.4 273.1h0M389.3 284.5h0M377.3 296.4h0M399 300.8h0M387.2 275h0M411.4 266h0M400.8 305h0M392 289.9h0M376.8 271h0M401.9 275.3h0M411.9 289.7h0M377.5 273.7h0M418.6 261.1h0M387.4 298.1h0M377.2 295.2h0M384.3 282.4h0M394.6 296.2h0M390.9 285h0M411 305h0M443 272.6h0M410.1 284h0M400.9 279.9h0M422.3 305h0M387.9 295.8h0M422.8 282.3h0M450.3 284.2h0M412 285.9h0M399.4 293.9h0M381.6 273.2h0M381.4 261.1h0M395.6 293.4h0M392.6 295.4h0M385.8 286.7h0M386.7 280.8h0M386.3 282.2h0M429.4 289.2h0M378.1 250h0M382.2 297.2h0M428.5 293.3h0M376.2 282.4h0M379.8 280.4h0M425.2 284.7h0M419 277h0M394.7 279.5h0M409.8 287h0M429.8 262.8h0M392.3 273.2h0M434 262.4h0M432.9 284h0M383.9 293.5h0M426.1 288.5h0M406.5 300.2h0M415.6 286.3h0M459.5 291.4h0M420 290.6h0M439.9 276.3h0M437.1 278.1h0M376.8 285.4h0M392.5 289.2h0M384.1 271.1h0M388.5 296.5h0M421.4 283.1h0M393.9 280.3h0M376.3 276.6h0M397.5 267.2h0M452.6 263h0M409.9 261.3h0M383.7 286.7h0M417.9 263h0M454.1 275.7h0M418.2 286.1h0M419.9 298.3h0M408.3 272.4h0M429.1 298.2h0M395.1 266.4h0M402.4 270.6h0M397.4 256.9h0M376 292.4h0M400.4 277.4h0M391.7 254.1h0M383.9 290.5h0M396.2 289.7h0M425.1 260.1h0M448.1 272.4h0M450.1 286.9h0M389 296.8h0M411.7 269.1h0M381.9 304.7h0M439.6 281.9h0M447.2 292.3h0M439.5 265.5h0M392.1 294h0M405.1 272.7h0M380.1 305h0M391.4 271h0M413 271.8h0M409.9 295.7h0M378.1 274.6h0M413.6 263.8h0M421.7 294.2h0M402.3 291.5h0M406.7 274.4h0M386.7 290.2h0M417.3 278.1h0M400 266.1h0M385.4 269.1h0M422.5 280.5h0M400.6 277h0M397.5 252.7h0M440.8 257h0M380.3 279.8h0M383.3 279.6h0M406.5 250.3h0M439.1 282.6h0M386.8 297.6h0M414.8 288.4h0M405.7 252.1h0M391.4 302.9h0M391 292.9h0M425.1 290.4h0M420.2 281.6h0M393.7 280.3h0M428.8 263.6h0M383.8 273.1h0M398 257.7h0M392.9 264h0M436.4 278.9h0M400.6 285.6h0M448.1 250h0M421.5 290.8h0M419.4 302.7h0M380.8 294.7h0M408.9 289.1h0M417.1 255.2h0M415.4 257.5h0M380.2 292.6h0M388.4 279.3h0M430.6 282.6h0M436.5 281h0M409.4 274.2h0M384.8 281.1h0M407.9 283.1h0M406.5 290.2h0M382.1 274.7h0M380.9 286.7h0M417.9 287.5h0M398.9 277.7h0M377.9 261.2h0M397.6 286.3h0M390.5 273.7h0M409.2 261h0M456.4 283.7h0M378.1 291.4h0M417.4 302.2h0M450.1 285h0M376.1 266.6h0M380.9 256.7h0M445.5 345.2h0M562.5 275.5h0M477.7 288h0M424.1 345.7h0M415.2 284.3h0M593.4 320.9h0M451.3 309.4h0M478.3 341.7h0M432 336.6h0M440.6 310.2h0M437.2 333h0M568.5 289.8h0M426.7 314.6h0M497.5 277.9h0M454.1 327.2h0M427.2 349.4h0M548.9 276.4h0M427.3 280.6h0M473.5 347.6h0M530.1 295.1h0M572.9 337.8h0M589.4 275.6h0M443.9 310.4h0M463.9 308.1h0M499.1 328.9h0M427.7 306.4h0M497.3 280.8h0M566.2 305.7h0M643.3 311.5h0M611.4 321.2h0M596.8 349.7h0M543.6 331.2h0M533.1 347.4h0M631 283.4h0M544.7 338.8h0M610.8 339.6h0M618.1 322.3h0M488.6 274.5h0M493.4 286.5h0M456.1 337.6h0M621 279.1h0M509.8 300.2h0M446.8 318.9h0M521.3 346.5h0M436.4 329h0M417.8 327.2h0M579.7 272.8h0M539.3 296.8h0M592.4 330.3h0M428.4 317.4h0M518 294.7h0M553 345.2h0M553.7 266.2h0M654.6 315.7h0M411.3 276.9h0M454.1 287.5h0M566.6 332.7h0M519.5 344.8h0M570.1 295.1h0M554.4 268.3h0M525.7 341.9h0M504 303h0M559.1 292.6h0M487.7 278.2h0M503.3 268.8h0M524.1 299.7h0M542.4 299.2h0M575.2 271.6h0M478.6 317.3h0M450.6 279.4h0M613.1 304.9h0M455.6 266.1h0M424.8 296.2h0M520.9 321.4h0M597.5 305.4h0M417.3 283.9h0M423.3 296.6h0M454.7 338.3h0M478.9 317.6h0M549.3 301.9h0M531.5 305.2h0M611.7 278.4h0M612.3 335.2h0M509.7 344.8h0M445 330.9h0M510.9 335.3h0M640.9 317.5h0M476.8 276.4h0M418.4 346.1h0M483 290.9h0M495 345.5h0M430.1 341.5h0M654.7 340.9h0M440.5 304.1h0M496.2 303h0M490 279.4h0M588 304.1h0M476.6 313.6h0M603.5 316.5h0M644.1 325.1h0M561.8 339.9h0M524.7 286h0M452.1 268.6h0M492 287.3h0M534.4 290.9h0M527.4 328.8h0M411.6 325h0M415.7 321.7h0M444.1 282.1h0M611.9 281.5h0M632.2 343.1h0M588.9 297.2h0M569.9 294.4h0M450 338.8h0M489.1 322.2h0M534.9 285h0M443.9 276.6h0M524.2 326.8h0M495 286.1h0M551.9 304h0M434 344h0M602.8 284.7h0M454.6 298.9h0M421.6 323.3h0M513.5 297h0M575.6 304.9h0M598.5 299.1h0M601 337.6h0M586.6 267.4h0M508.1 337.2h0M445.8 302h0M527.3 289h0M451.8 280.5h0M558.5 291.8h0M566.7 315.9h0M514.6 332.4h0M584.8 343.3h0M566.8 283.1h0M412.7 287.1h0M608.6 274h0M430.4 335.9h0M509.4 288.5h0M500.9 320.8h0M639.6 341.7h0M515.9 284.2h0M616.9 327.8h0M455.2 314.9h0M559.3 332.7h0M530.8 304.8h0M496.8 318.1h0M426.3 288.8h0M430.8 270.5h0M521.7 299.9h0M440.3 343.1h0M484.2 343.5h0M415 298h0M457.8 319h0M526.6 270.5h0M521.1 268.9h0M445.2 324.3h0M411.6 332.6h0M634.5 316h0M543.6 302.8h0M535.6 336.7h0M415.4 284.5h0M517.2 262.6h0M537.6 280.4h0M522.6 262.7h0M475.7 332.7h0M434.6 281.8h0M504.5 336.6h0M491.8 340.1h0M471.1 311h0M485.4 283.1h0M505.5 291.4h0M429.6 289.2h0M436 275.8h0M507.5 272h0M424.4 264.3h0M541.7 298.7h0M539.5 272.2h0M618.7 321.8h0M558.8 322.4h0M419.4 303.8h0M566.2 316.9h0M424.7 349.5h0M428.6 333.8h0M533.1 314.5h0M547.9 325.1h0M558.1 334.1h0M461 379.7h0M574.6 391.5h0M443.7 377.8h0M480.3 374.1h0M469.3 377.2h0M558.1 395h0M566.5 370.3h0M497.8 357.3h0M442.1 374.3h0M472.6 364.5h0M515 370.3h0M600.3 389h0M498.8 375h0M518.7 385.7h0M561.3 375.5h0M482.7 380.3h0M461.3 370.7h0M541.4 381.8h0M473.5 375.4h0M461.7 373.8h0M510.4 388.6h0M491 370.5h0M467.1 367.1h0M502 398.4h0M459 376.9h0M629.7 390.2h0M510.9 385.1h0M453.4 369.9h0M532.6 383.6h0M500.3 376.9h0M494.2 364h0M471.9 365.1h0M613.5 388.2h0M467.1 376.6h0M459.4 371h0M587.7 369.2h0M507 378.2h0M581.2 377h0M517.5 371.6h0M447.1 378.4h0M561.7 370h0M522.2 381.5h0M477.6 363.7h0M563.4 370.1h0M584.4 364.8h0M490.9 370.4h0M546.4 383.9h0M572.3 381.2h0M553.1 377.4h0M441 369.6h0M463.4 370.1h0M548.9 368.3h0M484.2 384.3h0M456.6 372.7h0M452.2 381.1h0M471.8 382.9h0M453.3 384.5h0M472.6 372.3h0M488.1 379.2h0M565 379.6h0M484.7 377h0M451.3 371h0M475.1 384.3h0M499.2 359.7h0M469.5 366.1h0M442.5 370.5h0M460.2 372.5h0M552.9 372.8h0M449.9 376.4h0M602.9 368.6h0M470.9 371.7h0M515.2 374.8h0M549.7 381h0M598.7 362.7h0M533.1 376.6h0M493.3 371.8h0M560 377.4h0M526.9 394.1h0M612.7 376.7h0M582.5 385.5h0M474.8 379h0M456.5 371.4h0M487.8 371.9h0M444.4 373.1h0M449.6 385.6h0M487.6 383.5h0M466.6 370.8h0M485.2 381.1h0M450.8 363h0M608.5 375.9h0M505.8 368.9h0M464.3 369.9h0M445.6 372.2h0M464.4 369.5h0M620 372.4h0M442.8 368.5h0M456.1 371.2h0M555.2 377.2h0M440.7 365.4h0M517.2 372.2h0M463.6 372.4h0M528.2 370.6h0M515.5 369.7h0M501.8 369.8h0M460.7 380.4h0M543.5 370.5h0M514 377.5h0M463.7 359.1h0M467.9 375.1h0M455.4 367.1h0M453.2 371.1h0M460.3 398.5h0M577.2 379.5h0M451.5 364.7h0M515.7 366.4h0M475.5 385.2h0M504.8 377.9h0M637.4 379.4h0M512.9 392.2h0M500.8 375.6h0M498.3 364.7h0M503.3 377.2h0M543.6 358.9h0M482.1 367.1h0M532.9 357.2h0M473.5 372.6h0M524.8 375.5h0M644.4 376.1h0M503 373.9h0M591.4 384.7h0M456.8 372.2h0M458.3 365.7h0M481.6 368h0M504.6 385.9h0M481.2 376.5h0M446 378.1h0M564.2 390.1h0M489.8 365.8h0M613.4 374.2h0M488.3 373.2h0M452.1 380.1h0M458.6 374h0M459 359.4h0M497.2 386.4h0M528 378.4h0M508.5 374.8h0M482.4 367.9h0M576.8 393.9h0M461.1 382.4h0M500.2 376.2h0M599.2 379.5h0M448 380.5h0M515.2 361.8h0M559.5 384.6h0M472.5 382h0M525.7 357.4h0M563.9 363.8h0M474.2 371.1h0M507.5 378.7h0M444 371.9h0M530.8 367.6h0M469.4 365.6h0M559.4 369.3h0M534.9 387.4h0M635.1 378.7h0M482.6 370.8h0M484.4 377.7h0M532.4 357.8h0M482 381.5h0M597.2 365.3h0M518.8 371.3h0M505.9 379.8h0M453.9 368.2h0M566.1 367.8h0M449.5 367h0M592.4 386.2h0M464.1 386.2h0M537.4 365.3h0M537.5 382.4h0M445.5 366.7h0M494.6 373.1h0M533.6 383.2h0M460.2 377.7h0M533.7 380.6h0M456.3 363.7h0M540.8 378.6h0M450.8 379.7h0M542.8 362.2h0M551.6 398.6h0M447.1 365.6h0M498 385.4h0M455.9 352.2h0M490.4 363.9h0M546 382h0M593 376.8h0M454.1 366h0M559.4 379.2h0M487.5 366.8h0M491.4 382.2h0M531 364.6h0M489.9 361h0M463.3 382.4h0M550.5 372.2h0M519.4 377.6h0M530.7 373.1h0M471.6 377.3h0M596.2 376h0M517.4 358.8h0M548.1 372.4h0M528.3 385.9h0M485.4 371.6h0M521.4 379.8h0M564.7 380.8h0M636.3 379h0M499.2 369.6h0M466 378.9h0M533.4 362.1h0M641.9 371.6h0M599.8 379h0M486.3 380.2h0M457 373.5h0M478.7 378.6h0M575.3 394.3h0M475.6 369h0M565.8 383.4h0M544.4 373.2h0M555.8 366.1h0M518.9 374.7h0M442.7 375.5h0M508.2 368.7h0M500.6 382.1h0M544.8 384.5h0M457 368.8h0M452 367h0M442.8 375.3h0M516.4 363.7h0M636.8 389.7h0M546.3 382.4h0M641.6 372.4h0M449.5 376.1h0M625.8 378.5h0M562.4 366.7h0M536.3 373.8h0M500.9 379.6h0M569.3 391.6h0M524.7 381.4h0M447.8 365.7h0M551.2 370.4h0M461.6 364.5h0M446.5 358.9h0M498.7 386.5h0M489.1 366.6h0M451.3 381.9h0M443.8 359.6h0M463 385.3h0M527.7 388.5h0M479.9 357.5h0M478.3 361.8h0M485.4 368.8h0M500.8 373.7h0M598.5 384.9h0M551.3 386h0M455.3 375.4h0M474.6 368.2h0M557.2 376.6h0M477.9 388.2h0M633 372.2h0M553.5 378.3h0M443.9 374.5h0M463.9 368.1h0M450.9 375.5h0M446.6 373.1h0M618.7 391.8h0M469.8 374.2h0M525.8 381.9h0M555.3 378.8h0M461.4 375.9h0M498.6 377h0M535.9 374.6h0M534.7 372.3h0M498.5 370.8h0M610.2 373.2h0M443.5 360.7h0M490.7 383.5h0M518.8 371.5h0M456.8 381.2h0M494.9 375.7h0M523.9 369.2h0M486 382.5h0M545.7 374h0M546.9 398.6h0M594.4 365h0M521.4 381.9h0M513.3 381h0M497.3 369.1h0M532 372.4h0M442.1 377.3h0M562.5 371.9h0M607.1 387.8h0M506.6 389.4h0M449.8 366.5h0M450.8 370.4h0M443.6 372.6h0M467.5 366.7h0M490.9 381.5h0M490.9 383.2h0M544.4 382.5h0M546.5 365.2h0M573.6 382.9h0M540.2 359.8h0M478.7 380.5h0M483.4 365.3h0M488.3 379.9h0M452.1 374h0M556.6 356.9h0M467.8 365.8h0M493.6 378.9h0M512.9 382.2h0M522.2 359h0M481.7 360.3h0M489.5 380h0M560.7 357.5h0M595.5 383.4h0M460.7 369.5h0M467 379.5h0M448.6 383.4h0M537.4 367.3h0M440.3 358.1h0M497.1 353.4h0M465.6 349.3h0M509.5 369.8h0M458.2 367.3h0M453.4 376.2h0M464.2 365.1h0M461.6 370h0M546 362.1h0M508 375h0M462.3 362.9h0M484.9 378h0M522.9 375.3h0M575.4 376.8h0M467.9 376.5h0M525.9 380.9h0M527.8 366.7h0M584.8 380.4h0M494.8 380.4h0M466.7 373.6h0M535 373.2h0M567.3 371.2h0M465.6 374.4h0M487.7 377.8h0M560.3 386.1h0M554.1 367.2h0M455.2 372.3h0M482.4 363.4h0M532.7 377.3h0M528.1 372.5h0M476.5 364.1h0M448.8 363.1h0M501.6 380.5h0M473.2 367.4h0M529.5 366.2h0M460 387.8h0M508.5 361.1h0M477 367.2h0M469.5 376.3h0M491.8 367.7h0M482.2 380.2h0M495.3 386.1h0M610 368.3h0M478.6 378.5h0M468.7 376.5h0M477.6 380.2h0M457 373.4h0M446.5 370.3h0M533.3 379.6h0M470.2 376.5h0M470.6 374.3h0M478.2 370.9h0M495.7 388.3h0M572.2 367.6h0M456.8 370.9h0M537.1 377.1h0M556.5 389.9h0M579.7 380.1h0M442.3 377.8h0M568.7 385.3h0M489.3 380h0M471 374.1h0M474.8 367.8h0M625.7 392h0M481 365.8h0M471.5 370.1h0M498.9 364.2h0M456.3 382.3h0M573.2 376.7h0M475.3 375.2h0M493.4 369.1h0M444 359.3h0M476.8 380.7h0M529.9 369.6h0M495.6 384.5h0M469.8 374.1h0M497.5 361.1h0M482.8 374.2h0M441.2 372.5h0M468.8 378.4h0M462.1 376.8h0M573.5 356.5h0M457.9 391.1h0M487.1 366h0M470.1 373.2h0M478.9 375.1h0M494 368.1h0M511.4 376h0M441 377.5h0M627.8 383.2h0M466.2 367.1h0M551.1 373h0M501 378.7h0M558.8 382.4h0M463.6 374.7h0M492.3 373h0M590.8 407.3h0M519.2 400h0M495 384.2h0M542.2 377.9h0M478.2 367.8h0M443.2 364.9h0M550.1 378.5h0M446.3 374h0M584 366.9h0M558.2 376h0M444 365.8h0M470 377.8h0M561.9 381.2h0M554.4 379.5h0M542.4 372.2h0M448 363.8h0M469.3 375.2h0M457.7 377.6h0M478.6 369.6h0M627.1 394.7h0M475 372.9h0M479.5 375.2h0M603.1 381.6h0M455.7 357.3h0M559.8 374.4h0M551.8 389.8h0M466.7 367.3h0M507.8 368.7h0M496.4 391.4h0M481.6 364.6h0M457.7 364.9h0M543.6 355.5h0M457.8 372.6h0M465.9 367.8h0M479 373h0M521.6 362.5h0M460.7 376.6h0M464.7 368.4h0M606.6 391.2h0M517.2 375.6h0M578.3 362.7h0M532.7 366.2h0M570.6 392.7h0M536.3 388.3h0M511.4 375.3h0M536.3 365.2h0M474 365h0M480.2 383.1h0M460.9 375.1h0M622.3 399.1h0M466 379.6h0M470.6 374.9h0M528.8 382.3h0M508.3 383.3h0M533.4 364.5h0M444.6 358.5h0M471 368.7h0M622.4 383.3h0M492.7 388.3h0M496.3 374.3h0M447.5 366.1h0M544.6 374.3h0M448.4 361.6h0M569.8 381.3h0M448 367.8h0M447.6 363.2h0M495.2 367.4h0M608.9 378.3h0M499.6 377.8h0M441.5 388.9h0M485.9 369.1h0M603 378h0M557.9 377.5h0M501.4 364.9h0M484.9 383h0M562 378.3h0M585.7 387.2h0M504.1 388.4h0M440.1 369.6h0M448.9 385.1h0M637 381.7h0M469.6 362.1h0M447.4 372.4h0M486 374.5h0M478.6 382h0M596.5 383.1h0M464.8 378.2h0M471.5 376.8h0M481.9 368.4h0M590.9 384.5h0M466.1 378.7h0M539.3 374.6h0M441.4 370.8h0M461.9 374.3h0M442.1 364.4h0M463.1 366.6h0M448.7 350h0M453.6 380.6h0M480.1 389.7h0M482.5 361.5h0M480.8 380.8h0M534.8 362.3h0M477.4 389h0M471.6 377.7h0M456.3 353.3h0M511.2 382.6h0M531.5 382.8h0M469.5 384.4h0M524.2 367.5h0M483.4 364.6h0M491.9 378.6h0M535.8 394.2h0M453.4 388.2h0M562.6 378.5h0M541.3 376.2h0M445.8 369.2h0M446.3 362.7h0M467.4 394.7h0M466.8 380.8h0M474.4 362.2h0M507.2 373.9h0M483.3 370.2h0M545.4 362.8h0M480.7 371.6h0M474.6 357.7h0M511.7 380.5h0M497 372h0M556.2 397.8h0M644.5 401.9h0M444.3 372h0M564.9 379.4h0M568.9 385.5h0M480.7 361h0M502.8 380.6h0M479.1 364.9h0M519.5 370.1h0M471.2 360.7h0M448.5 356.9h0M462.4 367.2h0M621.5 382.4h0M498.3 360.3h0M462.6 373.5h0M604.7 392.7h0M476.4 374.1h0M505.9 398.6h0M558.1 381.6h0M631.2 374.7h0M442.3 372.2h0M591.1 372.5h0M446.3 388.9h0M573.5 396.7h0M465.6 372.8h0M511.9 380.1h0M481.8 359h0M574.1 385.7h0M462.9 383h0M450.6 369.7h0M497.9 373.9h0M474.4 364.4h0M449.6 370.9h0M477 389.4h0M460.7 362.1h0M505.2 354.2h0M520.5 367.7h0M466.9 384h0M461 374.4h0M545.9 365.8h0M539.6 366.3h0M563.5 382.8h0M510.5 380.9h0M509.4 367.5h0M531.1 385.3h0M464.9 371.1h0M448.3 375.7h0M466.9 374h0M479.2 388.8h0M601.4 359.2h0M630.9 421.3h0M412.8 418.8h0M432.3 420.6h0M558.9 420.8h0M547.4 400.2h0M445.1 422.5h0M508.2 421.8h0M502.3 422.3h0M490.3 421.5h0M503.5 420.5h0M509.4 412.6h0M630.1 420.5h0M493.3 413.6h0M435.8 414.7h0M388.9 414.5h0M488.3 419.7h0M458.6 389.4h0M636.7 416.7h0M404.9 420.9h0M557.5 418.4h0M438.4 419.6h0M607.7 421.6h0M537.1 409.3h0M615.9 421.5h0M594.9 414.9h0M437.3 416.5h0M549.5 414.8h0M482.3 413.4h0M387.6 421.4h0M419.3 418.3h0M401.5 419.5h0M604.4 410.9h0M531.7 415.9h0M450.8 421.9h0M645.5 421.9h0M490.2 418.6h0M541.1 420.4h0M395 417.4h0M547 416.8h0M530.8 422h0M642.8 417.9h0M579.1 421.4h0M472.2 420.5h0M474.2 411.6h0M500.9 418.7h0M445.7 414.2h0M425.7 419.6h0M398.1 419.4h0M420.6 417h0M400.2 422h0M402.3 420.3h0M538.2 420.6h0M444.8 418.8h0M626.1 420.6h0M544.2 422.4h0M595.1 421.9h0M593.5 421.8h0M619.6 408.8h0M610.1 392.3h0M569.2 408.8h0M378.4 417.9h0M646.3 418.2h0M471.4 421.2h0M518.4 421.4h0M415.6 404.4h0M394.9 419.1h0M537.3 418.3h0M433.4 422.1h0M589.9 414.3h0M601.6 416.5h0M374.7 418.7h0M646.5 421.6h0M378.1 401.8h0M428.3 420.1h0M474.9 414.1h0M433.6 415.4h0M482.6 419.6h0M391 409.4h0M430.2 420.9h0M429.2 418.4h0M427 414.9h0M493.6 420.4h0M396.6 419.1h0M560.3 415.9h0M425.7 404.4h0M481.4 414.9h0M607.1 414.9h0M398.2 417.9h0M540.3 408.5h0M598.9 422.5h0M377.9 410.2h0M627.3 422.1h0M505 422.3h0M423.1 418.5h0M429.8 419h0M391.2 412.5h0M399.1 421.8h0M613.2 422.5h0M436.5 419.1h0M393.4 422h0M458.9 411.6h0M645.3 421.9h0M580.7 420.5h0M374.8 418.3h0M643.4 413.5h0M390.3 411h0M645.5 421.8h0M430.1 422.2h0M434.4 420.9h0M386 414.8h0M503.5 422h0M518.6 421.9h0M449.5 420.1h0M498.9 421.6h0M635 421.1h0M511.2 415.7h0M510.7 421.8h0M548.3 410.8h0M582.7 422h0M579.4 422.5h0M610.9 420h0M604.3 415.3h0M449 416.5h0M445.9 411.4h0M388 414.7h0M380.8 416.5h0M385.2 416.7h0M532.5 419.1h0M434.8 419.3h0M585.7 417.7h0M414.9 417.9h0M576.4 400.3h0M497.8 421.7h0M554.1 421.4h0M425.3 422.2h0M591.3 418.2h0M528.7 417.5h0M376.7 415.8h0M610.5 403.9h0M454 421h0M462.3 421.2h0M568.8 415.5h0M413.6 412.1h0M436.1 421.8h0M437 422.4h0M484.6 408.2h0M549.2 422.3h0M482.1 410.2h0M574.9 421.1h0M421.4 420.8h0M612.3 422.5h0M563.3 420.5h0M376 413.4h0M475.1 418.4h0M484.3 419.2h0M575.9 401.2h0M442.5 419.8h0M457 422h0M520.1 416.1h0M531 420.6h0M513.4 421.1h0M384.1 420.6h0M583.4 402.5h0M380.7 407.5h0M594.4 420.9h0M551.1 408.3h0M424.4 419.6h0M627.7 421.8h0M483.8 420.6h0M523.8 419.9h0M432.3 419.9h0M487.1 419.2h0M504.3 421.7h0M439.7 421.3h0M525 406.1h0M574.2 417h0M442.7 417.6h0M536.9 418.6h0M623.1 414.2h0M633.3 419.2h0M612.9 421.3h0M545.5 422h0M559.3 422.1h0M575.3 420h0M427.1 410h0M489 421.5h0M507.8 420.9h0M476.2 400.8h0M565 417.3h0M560.7 417.4h0M566 419.7h0M455.2 418h0M556.7 421.7h0M600.7 420.6h0M382.2 416.7h0M429.3 422.3h0M461.2 421h0M599 422.3h0M567 419.4h0M517.8 420.7h0M624.1 417h0M576.6 421.8h0M494.9 410.1h0M639 421.7h0M625.6 417.2h0M465.7 420.5h0M397.2 418.6h0M485.9 421.9h0M434.2 421h0M631.1 413.6h0M522.3 422.4h0M435.1 420.6h0M571.5 422.3h0M472.7 420.1h0M637.2 420.7h0M549.2 419h0M585 419.1h0M583.3 416.6h0M421.4 418.9h0M531.5 419.8h0M457.8 421.8h0M512.1 419.4h0M476.9 420.6h0M635.6 412.6h0M403.7 411.1h0M402.3 418.7h0M475.5 422h0M495.4 421.4h0M460.9 417.8h0M402.6 422h0M482.7 421.9h0M604.8 422.4h0M397.2 411.8h0M436.4 410.2h0M586.2 419.7h0M525.3 419.6h0M442.6 399.5h0M618.6 421.9h0M490.4 420h0M594.8 415.5h0M428.4 418.5h0M552.4 422.2h0M513.1 409.9h0M439.5 417.2h0M474.5 418.5h0M501.8 422.4h0M645.3 420.1h0M377.3 420.2h0M635.7 418.9h0M629.1 415.2h0M446.3 403h0M423.3 422.3h0M497.8 419h0M517.6 409.2h0M526 410.8h0M557.1 418.9h0M439.9 412.5h0M375.6 421.3h0M577.6 417.4h0M503.6 419.3h0M406.3 417.8h0M556.3 418.7h0M623.4 420.7h0M464.4 414.2h0M588.8 410.9h0M544.1 407.9h0M513.8 421.3h0M583.8 419.5h0M631.9 416.7h0M594.8 421.6h0M538.9 419.4h0M468.6 417h0M383.4 420.7h0M594.5 421.8h0M561.1 413h0M529.5 421.1h0M490.8 416.3h0M492.6 419.8h0M582.2 417.7h0M422.8 417.4h0M625.7 421.8h0M460.4 415.6h0M627.1 421.5h0M400.6 420.9h0M546.6 421.6h0M618.9 419.9h0M620.9 420.1h0M463.1 422.2h0M618.6 415.7h0M588.5 418.5h0M596.7 421h0M580.7 421.1h0M622.8 420.2h0M422.8 422.2h0M469.3 415.5h0M511.2 418.3h0M590.4 421.7h0M519.9 421.1h0M460.1 416.7h0M563.4 418.3h0M397.4 419.7h0M513.9 418.9h0M482.4 419.4h0M381.5 412.4h0M450.5 418.7h0M608.9 416.3h0M643.6 413.5h0M525.5 418.1h0M640.3 420.5h0M481.9 417h0M527.1 418.6h0M474.6 420.1h0M471.9 422.2h0M512.6 416.7h0M599.4 421.7h0M557.2 417.6h0M634.9 419.9h0M499 416.6h0M541.1 415h0M565.8 419h0M477.9 414.3h0M478.5 420.9h0M522.4 412h0M577.8 422.5h0M535.6 415.6h0M378.7 416.8h0M480.2 417.7h0M404 414.7h0M515.1 419.1h0M500.2 422.3h0M390.5 421.7h0M388.8 411.8h0M485.3 421.9h0M395 422.2h0M624 419.6h0M627.2 419.8h0M545.1 417.9h0M500.3 418.2h0M640.6 422.1h0M444.3 419.6h0M386.3 417.4h0M470.1 416.2h0M498.7 421.9h0M416.8 415.8h0M386.4 414.6h0M536 419.7h0M505.9 419.2h0M458 419.8h0M381.2 420.4h0M625.2 415.6h0M564.5 419.2h0M632.8 415.2h0M471.7 421.1h0M395.6 419.7h0M432.3 416.1h0M560.6 421.3h0M385.3 414.3h0M641.8 421.8h0M637.3 417.7h0M604.2 418.8h0M487.7 417.1h0M428.4 419.5h0M605 420.6h0M596.8 418.1h0M427.9 421h0M505.4 416.6h0M472.2 417.9h0M590.2 419.4h0M599.6 421.3h0M470.1 421.2h0M642.4 422.2h0M457.3 418.7h0M425.2 411.8h0M560.4 418.9h0M616.7 413.8h0M452.7 419.6h0M436 421.4h0M458.1 420.9h0M594.6 422h0M575.5 422.2h0M520.1 415.6h0M565 418.1h0M638.9 418.4h0M446.7 410.1h0M454.5 421.5h0M628 421.3h0M453.8 414.6h0M594.3 421h0M383.2 420.5h0M491.8 421.4h0M579.1 419.7h0M565.4 421.3h0M633.4 421h0M510.6 405.6h0M510.9 418.1h0M550.4 417.5h0M586.8 419.9h0M517.3 421.2h0M531.3 418.9h0M521.7 415.7h0M487.4 420.5h0M585.9 417.9h0M463.7 421.8h0M465.1 417.1h0M408.4 422.5h0M571.9 419.7h0M565.8 419.7h0M412 402.4h0M614.5 419.5h0M419.3 421.6h0M567.7 421.4h0M514 419.2h0M620 420.3h0M460.2 421h0M617.1 422.1h0M634 421.4h0M489.8 421.8h0M500.2 420.5h0M413.2 412.7h0M583.5 417.6h0M468.7 414.5h0M446.7 388.1h0M445.5 380.9h0M488.5 380.4h0M404.2 386.2h0M482.1 394h0M517.4 392.1h0M458.4 392.8h0M488.1 392h0M598.2 403.4h0M632.7 392.2h0M621.2 411.1h0M382.5 410.3h0M614.6 390.3h0M568 388.4h0M408.2 394.2h0M403.1 412.1h0M567.4 395.2h0M392.1 410.6h0M536.8 408h0M433.3 401.7h0M421.1 383.4h0M458.5 383.2h0M451.3 397.1h0M505.7 393.9h0M443.8 390.7h0M625.2 383.4h0M522.2 387.8h0M470.7 399.1h0M582 397.4h0M375.9 387.4h0M497.5 390.5h0M604 409.5h0M504.6 387.3h0M422.8 381.2h0M393.7 389.8h0M471 410.9h0M643.8 409h0M391.9 405.3h0M441.1 406.2h0M636.7 408.4h0M376.9 383.8h0M393.6 407.9h0M643.2 406.6h0M616.6 395.9h0M521.6 384.3h0M480.9 407.3h0M532.4 405.2h0M425.9 393.7h0M618.2 389.9h0M630.8 381.5h0M389.9 389.2h0M513 384.7h0M380.9 379.8h0M552.8 396.9h0M467.6 405.8h0M615.7 413.4h0M396.3 385.1h0M547.7 392.3h0M409.1 406.3h0M524.9 383.7h0M614.4 398.8h0M551 414.7h0M626.5 407.6h0M444.2 403.2h0M560.9 387.4h0M447.9 404.1h0M528.3 382.5h0M488.9 392.8h0M544 396.8h0M584.2 414.9h0M421.6 379.1h0M467.8 398h0M402.5 392.5h0M560.2 393.8h0M574.1 398.6h0M491.3 387.7h0M436.9 386.4h0M526.5 407.1h0M505.6 381.3h0M376.2 391.5h0M471.6 383.1h0M488.5 398.7h0M443.2 414.7h0M484.5 389h0M434.6 387.2h0M406.7 383.4h0M534.2 405.8h0M617.6 398.4h0M519 413.9h0M549.8 392.2h0M378.7 394h0M613.6 399.4h0M548.1 407.9h0M405.6 399.4h0M457.3 396.6h0M408.7 403.6h0M396.7 403.5h0M638.1 384h0M410.4 405.4h0M572 386.7h0M459.2 401.6h0M476.6 412.5h0M388 412.5h0M419.2 401.1h0M605.1 383.2h0M625.5 396.2h0M501.9 389.3h0M553.1 410.4h0M400.4 410.7h0M443.2 401.4h0M581.8 408.6h0M639.5 412.3h0M638.6 401.4h0M563.2 391.1h0M635.1 379.6h0M464.2 380.7h0M431.8 393.6h0M633.9 378.2h0M514.7 403.1h0M509.6 393.3h0M528.8 386.3h0M395.8 387.3h0M498.6 384.8h0M460 404.9h0M609 398.8h0M445.3 400.3h0M448.7 380h0M468.3 393h0M558 411.7h0M626.7 385.9h0M418.1 391.5h0M578.9 392.4h0M480.9 382h0M432.9 396.6h0M512.2 404.6h0M389.6 408.5h0M598 389.3h0M493.3 414.8h0M625.9 410.1h0M599.2 383.8h0M631.6 390.9h0M384.2 397.9h0M526 407.4h0M474.1 381.1h0M578 406.6h0M565.5 393.1h0M608.6 412.3h0M385.8 385.5h0M527.4 406.9h0M416.4 408.2h0M441.4 393h0M473.8 381.5h0M503.2 380.4h0M445 400.1h0M414 383.9h0M585.5 379.4h0M449.3 401.8h0M496.5 392.5h0M525.5 397.5h0M384.8 405.4h0M456.3 395.5h0M441.4 410.7h0M438.1 392.6h0M394 402.2h0M438.6 379.2h0M578 384.8h0M420.2 405.2h0M414.7 382.6h0M489.3 390h0M385.9 400.8h0M494.3 392.1h0M614.3 407.7h0M550.8 404.5h0M411.6 402.1h0M405.7 389.1h0M440.5 379.1h0M535.5 388.9h0M415 402h0M531.1 385.8h0M489.9 387.2h0M642.8 386.6h0M462.4 400.9h0M376.4 405.5h0M474.3 385h0M479.1 397h0M477.2 399.1h0M479.6 409.7h0M396.1 399.3h0M643.2 383.4h0M420.2 398.8h0M395.3 380.3h0M559.3 388.4h0M414.2 378.6h0M587.2 414.8h0M430.8 401.7h0M550.8 392.2h0M390.5 408.3h0M492.1 387.8h0M515.3 388h0M419.6 394.8h0M516.3 403h0M602 378.8h0M430.4 380.5h0M522.7 397.6h0M474.5 387.2h0M439.4 407.9h0M616.5 401.9h0M459.8 379.2h0M521.2 390.6h0M426 410.5h0M416.6 385.2h0M563.9 409.8h0M492.3 401.7h0M430.2 400.6h0M606.8 378.5h0M471.7 389.6h0M585.9 398.9h0M573.2 407.7h0M396.6 403.2h0M445.5 390.8h0M599.6 391.9h0M437.2 394.5h0M530.4 391.4h0M467.9 397.6h0M455.1 397.9h0M402.5 395.9h0M472.5 388.6h0M412.9 393h0M501.3 405.5h0M374.6 381.7h0M560.3 399.8h0M568.6 401.4h0M451.8 394.5h0M628.9 402.9h0M509.5 381.1h0M636.5 397.5h0M588.9 399.9h0M511.9 395.5h0M542.3 414.4h0M482.2 388.9h0M460.3 393.5h0M579.1 381.8h0M400.5 390.6h0M575.3 403.3h0M461.8 380h0M421.3 395.7h0M431.9 382.9h0M592.4 405h0M378.2 393.6h0M514.9 402h0M393.1 386h0M421.9 400.3h0M573.2 397.1h0M460.4 387.2h0M493.6 399.8h0M627.8 380.1h0M533.2 382.8h0M590.5 398.2h0M580.4 408.7h0M355.5 402.3h0M342.6 420h0M300.6 391h0M344.2 415.5h0M315.4 387.1h0M327.9 388.1h0M340.1 404.4h0M337.3 385.7h0M359.6 394.7h0M312.4 412.5h0M370.5 419.7h0M333.7 417.4h0M309.9 420.8h0M331.8 387.7h0M371 382.8h0M352.2 395.1h0M335.3 387.9h0M365.2 413.7h0M308.8 417h0M358.6 399.7h0M345.4 419.9h0M361.9 412h0M346.7 407.1h0M301.3 393.1h0M307.8 398.9h0M348.4 380.4h0M331.8 398.6h0M302.6 405.8h0M320 383.7h0M372.3 413.3h0M318.1 384.7h0M352.4 412h0M306.2 384.2h0M302.5 389.5h0M344.7 401.2h0M342.1 415.2h0M339.9 380.2h0M354.3 388.8h0M336.9 405.3h0M371.4 390.3h0" stroke="#2ca02c" stroke-width="3.2"/>
<path d="M374 421.6L640 421.6" stroke="#2ca02c" stroke-width="2.8"/>
<path d="M642.7 374.1h0M642.4 381.5h0M641.5 394.3h0M641.3 421h0M641 408.8h0M643 420.9h0M637.7 421.9h0M640.7 421.3h0M647.4 413.8h0M646.8 389.9h0M645.9 377.6h0M646.4 376.1h0M647.4 411.3h0M646.3 416.6h0M647.1 405.9h0M646.7 418.2h0M646.9 413.6h0M646.9 409h0M649 415.6h0M649.3 414.6h0M645.4 420.4h0M647.6 419.7h0M655.3 388.4h0M655.6 388.1h0M656.5 410.4h0M656 414.6h0M656 412.4h0M655.1 418h0M655.2 363.6h0M654 409.1h0M654.8 409.9h0M655.5 387.6h0M654 323.2h0M655.8 377.5h0M655.3 407.2h0M653.7 419.3h0M656.6 414h0M658.1 419.3h0M660.1 407.3h0M659.7 412.2h0M657.8 412h0M659.4 416.2h0M659.3 407.8h0M659.1 413.9h0M659.3 369.4h0M658.3 411.5h0M660.3 419.9h0M659.3 391.7h0M659.9 376.1h0M659.3 393.5h0M660.5 416.5h0M658.9 420.5h0M659 420.8h0M669.6 415.7h0M669.1 419.5h0M670.3 418h0M671.6 397.2h0M670 414h0M671.6 421.7h0M669.7 419.6h0M675.6 403.6h0M675.9 386.2h0M675.4 421.7h0M676.3 381.5h0M676.5 384.6h0M676.3 399.2h0M676.8 401.3h0M676.1 380.3h0M676.5 383.4h0M676.1 378.2h0M675.3 385.4h0M676.6 368.6h0M675.5 396.5h0M675.6 346.1h0M676.3 388h0M674.9 408.4h0M676.6 345.1h0M675.7 296h0M675.9 412.5h0M676.4 418.7h0M677.8 421.9h0M676.6 416.4h0M685.1 348.5h0M685.5 418.1h0M686.1 420.1h0M686 399.1h0M686.9 368.2h0M685.9 394.9h0M685.6 415.8h0M686.2 419h0M685.6 354h0M685.7 345.2h0M686.3 323.1h0M686.1 410.4h0M684.9 406.4h0M685.4 403.7h0M684.9 415.8h0M686.4 420.6h0M685.6 336.2h0M686.9 393.9h0M687.1 419.4h0M687.7 421.9h0M685.7 420.8h0M687.2 419.7h0M689.8 410.6h0M689.9 314.6h0M690.2 364h0M689.7 383.9h0M689.2 414h0M689.8 409.2h0M689.9 386.2h0M690.7 350.7h0M692.5 420.8h0M688.7 421.9h0M700.4 418.3h0M700 414.8h0M700.3 415h0M700.6 406.2h0M700 407.3h0M701.8 351.9h0M700.9 370.8h0M700.3 385.2h0M700.5 380.8h0M703.1 422h0M700.7 420.5h0M702.3 419.9h0M713.4 391.6h0M712.9 421.4h0M712.6 413h0M713 419h0M713.1 400.2h0M712.5 421.1h0M713 408.6h0M713.1 386.8h0M712.5 379.5h0M712.4 399.9h0M712.5 419.2h0M712.6 393.9h0M713.3 389.1h0M713.4 397.3h0M712.1 421.2h0M713.5 419.5h0M714.5 417.9h0M710.7 418.7h0M717.7 406.5h0M718.3 405.2h0M716.9 398.6h0M718 418.2h0M718.2 402.3h0M718.3 387h0M716.7 412.8h0M720.4 417.6h0M719.6 420.7h0M726.8 412.9h0M726.9 414.5h0M726.9 365.4h0M726.7 411.3h0M727.3 411.6h0M727 418.1h0M726.7 407.2h0M727 370.1h0M726.4 376.2h0M726.7 381.7h0M725.9 412.7h0M726.4 413.1h0M727.3 403.2h0M727.8 418h0M726 417.8h0M729.4 419.8h0M729.9 419.1h0M729.3 361.4h0M730.3 388h0M729.7 415.5h0M730.4 422h0M729.9 377.6h0M729.7 415h0M730 376.1h0M731.3 412.9h0M729.4 409.7h0M730.5 380.6h0M730.5 381.4h0M732 421.1h0M733 421.4h0M731.4 418.2h0M730.1 420.7h0M736.3 402.3h0M736.1 415.5h0M735.3 412.6h0M736.6 403.9h0M735.2 405h0M736.2 415.5h0M736.3 386.6h0M737.9 418h0M735.3 420.1h0M737.1 414.3h0M742.9 420.6h0M743.9 420.7h0M744.7 407.3h0M743.9 408.6h0M743.7 417.9h0M743.3 388.2h0M743.4 417h0M743.5 350.6h0M745 359.4h0M744.5 417.4h0M743.6 382.3h0M745.1 421.2h0M742.6 418.6h0M740.9 419.9h0M743.9 421.7h0M749.1 390.1h0M748.6 410.2h0M748.7 409.7h0M748.4 369.6h0M748.9 401.1h0M749.2 406.9h0M749 408.7h0M749.5 359.4h0M747.8 421.9h0M748.7 421.2h0M746.6 421.8h0M759.5 418.8h0M759.7 396h0M760.2 361.8h0M760.5 395.9h0M759 420.7h0M763 421.5h0M763.7 371.7h0M763.5 402.6h0M763.6 361.7h0M764 415.2h0M763.7 403.1h0M763.8 376.3h0M763.6 421.1h0M764.2 362h0M763.6 337.5h0M764.1 351.4h0M763.9 414.7h0M765.1 419.9h0M763.5 411.8h0M763.2 411.5h0M764.1 414.8h0M762.3 419.9h0M761.6 417.5h0M764.8 419.4h0M764.5 419.5h0M771.3 421.4h0M771 411.1h0M772 351.9h0M771.5 355.2h0M771.4 421.1h0M769.6 417.8h0M779.6 421.4h0M778.5 314.6h0M779.7 412.6h0M779.5 387.3h0M781.2 397.5h0M779.7 418.1h0M780.1 405.8h0M780.5 380.9h0M781 372.1h0M779.9 391.1h0M779.7 416.9h0M779.5 374.5h0M780.3 401.9h0M778.2 421.3h0M781.7 415.5h0M784.5 418.8h0M780.7 421.9h0M783.2 368h0M784.6 364.5h0M783.9 417.4h0M783.6 415.7h0M784.6 417.7h0M783.9 361.1h0M784.6 404.3h0M783.4 403.5h0M783.1 407.4h0M783.9 400.6h0M783.6 398.6h0M785.3 420.5h0M784.6 419.9h0M785.2 413.2h0M789 419.7h0M789.3 407.8h0M788.1 417.7h0M789 346.3h0M789.1 419.6h0M788.6 392.8h0M788.7 410.6h0M788.3 388.4h0M790.2 415.1h0M790.7 415.5h0M791.6 419h0M798.8 418h0M797.3 352h0M797.9 420.7h0M797.6 411.9h0M797.6 387.6h0M796.7 415.6h0M797.3 421.5h0M798.8 421.3h0M798.7 374.1h0M797.7 384.8h0M797.3 382.4h0M796 420.3h0M799.6 418.6h0M796.2 420.3h0M807.6 405.3h0M807.4 415.9h0M807.1 390.9h0M808.1 298.3h0M806.1 394.7h0M807 416.1h0M806.8 418.1h0M807.3 416.5h0M806.1 420.3h0M806.5 411.6h0M807.3 418.6h0M809.2 420.3h0M808.8 418.5h0M811.2 304.4h0M810.6 404.4h0M811.2 377.5h0M810.5 410.2h0M810.1 412h0M812.6 394h0M811.2 406.9h0M812.3 410.4h0M811.2 415.6h0M811.2 409.2h0M811.4 407.7h0M811.2 396.6h0M810.3 396.9h0M811.3 403.8h0M812.5 418.7h0M810.5 402h0M809.3 419.2h0M809.3 418h0M809.4 419.5h0M812.1 420.9h0M821.4 336.6h0M823.4 396.5h0M822.3 385.7h0M823.1 387.9h0M822.3 401.5h0M823.8 374.5h0M822 412.5h0M822.8 420.3h0M823.3 420.6h0M828.2 390.5h0M827 412.1h0M827.8 404.3h0M827.8 319h0M827.1 387.3h0M827.1 409.5h0M827.2 414.9h0M827.2 415.9h0M827.4 413.7h0M826.9 414h0M827.9 356.1h0M826.2 413.3h0M827.3 409.2h0M829.4 421.3h0M825 419.4h0M829.4 420h0M827.1 421.3h0M827 421h0M834.1 417h0M834.4 408.8h0M834.6 386.2h0M833.9 410h0M834.6 375h0M834.3 383.7h0M835.6 417.8h0M833.9 420.4h0M834.3 416.8h0M839 412.2h0M840.3 421.1h0M839.5 416.3h0M839.7 419.6h0M840.6 343.8h0M841.1 373.7h0M839.6 421.4h0M840.2 409.3h0M841 405.4h0M839.5 421.1h0M840.2 391.5h0M842.2 420.3h0M839.9 421.7h0M840.7 417.1h0M838.4 417.2h0M844.9 382.2h0M846.4 347.3h0M846.7 326.5h0M846.7 398.2h0M844.7 401.4h0M846.8 417.6h0M846.3 391.5h0M844.4 417.2h0M847.3 418h0M844.9 419.8h0M851.2 397.3h0M851 366.6h0M850.2 419.4h0M850 388.5h0M850.5 416.9h0M851.5 414.1h0M850.8 379.7h0M851.5 411.4h0M850.6 277h0M851.3 381.6h0M850.6 408.2h0M851.5 376h0M850.2 403h0M851.7 325.6h0M850 417.6h0M852.6 421.2h0M852.8 418.8h0M854 420.9h0M852.6 419.8h0M857.6 395h0M856.3 381.3h0M856.3 361.5h0M856.1 363.7h0M856.6 380.3h0M856.6 375.5h0M857 418.8h0M857.2 389h0M856.8 387.6h0M856.7 393h0M856.7 421h0M861.8 419.4h0M862.1 386.3h0M861.5 420.7h0M862.9 384.8h0M863.1 383.6h0M861.9 360.3h0M861.5 390.7h0M863 384.8h0M862.5 372.3h0M862.2 339.2h0M861.9 417.7h0M864.5 420.3h0M864.3 420.4h0M863.1 421.2h0M860.5 421.7h0M865.5 416.7h0M866.1 420.9h0M866.9 404.9h0M865.8 400.4h0M865.7 392.2h0M871.7 411.9h0M864 420.7h0M866.7 420.2h0" stroke="#2ca02c" stroke-width="3.2"/>
<path d="M873.5 250L874.5 268" stroke="#2ca02c" stroke-width="9"/>
<path d="M871 256h0M879.6 252.6h0M873.4 263.8h0M871.9 266.8h0M876.7 251.8h0M878.9 263.3h0M871.3 266h0M879.9 249.5h0M873.1 256.2h0M878 264.1h0M871.3 262.8h0M879.3 258.2h0M875 251.2h0M876.7 261.1h0M872.6 264.4h0M877.2 260.4h0M872.5 251.3h0M876.1 260h0M873.8 266h0M872.7 258.9h0M878.5 260.1h0M873.5 261.9h0M873.7 253.9h0M876.2 255.9h0M877.8 265.4h0M878.4 246.3h0M879.5 257.1h0M873.3 266h0M874 271.5h0M873.5 251.9h0M869.8 262.3h0M878.4 268.3h0M873.2 258.2h0M871.3 247.1h0M874.9 250.3h0M873.4 270h0M879.5 259.6h0M879.6 250.3h0M871.6 253.6h0M870.9 252.2h0M878.7 255.1h0M873.9 268.4h0M875.4 257.5h0M869.6 248.7h0M876.3 267.7h0M874.3 261.2h0M879.1 272.8h0M873.5 267.8h0M872.1 258.9h0M874.1 258.4h0M877.4 263.1h0M878.2 273.5h0M879 248h0M878 251.8h0M870.3 262.7h0M870.7 266.2h0M879.9 262.9h0M873.8 272h0M876.4 259.8h0M878.6 267.7h0M879.6 251.9h0M876.3 261.7h0M871 271.8h0M873 270.8h0M874.1 269h0M871.2 267.4h0M876.8 268.1h0M878.1 258.3h0M874.9 266h0M877.6 248.4h0M871.1 256.5h0M869.6 252.8h0M876.6 268.8h0M871 259.2h0M878.9 248.3h0M871.2 260.8h0M875.7 251.8h0M873.8 268.5h0M875.4 251.2h0M879 271.9h0M874.2 273.8h0M873.7 251.6h0M870.7 254.8h0M879.6 255h0M875.8 258.1h0M876.5 257.6h0M875.5 257.3h0M870.1 265.1h0M875.6 257.3h0M873.6 259.4h0M879.4 248h0M873.3 260.7h0M872.5 266.1h0M873.5 273.6h0M879.5 259.4h0M870 256.7h0M879 251.4h0M873.1 254.3h0M870.9 255.6h0M872.4 255.6h0M877.7 255h0M870.4 256.7h0M872.2 259.7h0M879.4 259.2h0M876.4 268h0M872.2 261.9h0M876.9 251h0M879.2 251.8h0M878.4 260h0M874.6 259.6h0M874 262.9h0M879 262.6h0M874.7 253.6h0M877 265h0M870.1 247.3h0M878.2 257.3h0M872.5 268.3h0M872.5 252.6h0M879.6 269.4h0M870.2 260.2h0M879.2 269.6h0M869.9 258.2h0M870.5 249.9h0M872.2 273.6h0M877 270.9h0M877.1 273.2h0M870.7 268.3h0M870.2 249.9h0M877 271.1h0M877.3 250.5h0M869.8 272.4h0M872.1 250.2h0M876.8 272.5h0M878.3 268.8h0M872.4 255.8h0M870.8 271.4h0M879 259.5h0M871 263.3h0M877.2 249.5h0M870.6 269.5h0M873.6 249.6h0M873 261.8h0M874 260.9h0M877.9 272.3h0M874.4 249.4h0M875.9 267.6h0M873.3 247.5h0M873.4 266.4h0M872.8 263.3h0M874 263.3h0M882.9 331.2h0M879.2 329.5h0M869.3 314.7h0M871 324.9h0M872.1 317.4h0M875.4 327.8h0M883.8 330.8h0M879.2 321h0M877.1 306.9h0M882.1 328.6h0M880.7 309.7h0M885.7 319.5h0M873.7 318.3h0M876.4 330.4h0M869.6 329.9h0M885.6 323.1h0M869.2 327.6h0M880.4 324.2h0M869.1 323.3h0M885.7 320.4h0M886.9 307.5h0M869.1 316.1h0M869.2 324.6h0M885.5 341.9h0M880.2 325.6h0M880.1 335.8h0M886.1 329.2h0M880.3 328.9h0M881.7 314.5h0M881.2 323.2h0M881.3 326.6h0M876.7 313h0M880.4 328.2h0M886.1 336.2h0M869.8 324.3h0M871.9 322.9h0M868.8 327.2h0M882.8 315.1h0M869.6 325.5h0M870.5 325h0M883.6 317.6h0M874.3 329.6h0M875.5 327.3h0M878.4 328.4h0M881.6 329.5h0M874.3 331.5h0M880.4 328.6h0M886.1 321.7h0M877.9 320.8h0M878.5 326h0M879.7 331.1h0M884.9 334.6h0M882.7 320.3h0M873.7 327h0M871.2 325.5h0M875.5 321.4h0M868.8 314.9h0M870.4 334.1h0M881.5 328.2h0M886.8 332.8h0M872.7 333.4h0M874.3 322.1h0M883.8 325.3h0M881.6 329.5h0M869.8 322.2h0M877.8 326.4h0M882.9 336.3h0M873.2 335.9h0M869.1 315.1h0M874.2 336.7h0M881.5 320.5h0M883.3 329.2h0M885.1 327h0M872.9 328.9h0M871.9 322.3h0M869.1 327.8h0M869.1 338.1h0M876 330.8h0M875.5 316.3h0M869.3 329.1h0M870.5 329.9h0M882.4 338.4h0M873.5 329.8h0M881.8 321.2h0M883.5 321.5h0M885.8 325.3h0M873.5 322.9h0M886.4 319.8h0M876 326.2h0M875.9 323.6h0M877.9 328h0M878.4 325.2h0M868.7 327.6h0M872.3 328.6h0M872.6 324.8h0M876.5 327.5h0M869.1 330.8h0M876.7 331.8h0M876.2 321.5h0M882.5 325.1h0M886.4 321.8h0M877.2 314.1h0M869.3 317.5h0M885 327.5h0M878 329.5h0M873.4 326.9h0M874.1 324.2h0M869.2 327.2h0M883.1 325.3h0M885 338h0M876.3 327.2h0M870 324.8h0M878.6 326h0M869 329.4h0M870.9 327.6h0M876.4 333.8h0M882.7 324.8h0M878.1 323.2h0M877.7 338.6h0M869.5 318.5h0M876.9 315.5h0M886.1 325h0M868.5 319.3h0M879.1 323.5h0M869.8 333.4h0M881.1 324.2h0M877.8 323.5h0M885.7 320.5h0M878.4 332.4h0M871.2 331.8h0M883.1 308.1h0M881.2 337.8h0M879.4 314.7h0M877.8 327.3h0M876.6 322.6h0M882.7 318.4h0M878 328.3h0M871.2 329.1h0M880.9 310.9h0M873.1 317.8h0M885.7 332.8h0M881.1 325.6h0M874.8 315.5h0M880.7 330h0M883.9 321.1h0M880.3 332h0M873.8 320.2h0M871.5 320.6h0M877.3 321.3h0M873.4 323.7h0M869.3 327.1h0M885 318.5h0M878.7 329h0M870.9 315.7h0M885.9 337.4h0M878 325.4h0M880.8 322.5h0M883.3 321.4h0M886.2 330.6h0M878.4 326.9h0M881.3 326.5h0M882.4 311.1h0M882.9 320.3h0M871.7 323.7h0M882.6 323.4h0M878.6 331.5h0M875.5 336.6h0M878.3 323.7h0M877.7 325.6h0M878.7 324.8h0M873.2 310.7h0M875.8 328.9h0M869.6 329h0M884.6 322.7h0M874.1 321.8h0M877.3 326h0M882.9 329.6h0M878 324h0M868.8 329.1h0M878.7 319.4h0M868.9 322.1h0M880.8 324.7h0M880.8 316.8h0M873.4 329.3h0M869.2 319h0M878.6 329.7h0M880.5 325.2h0M877.9 339h0M882.8 329.5h0M878.8 324.7h0M875.7 287.6h0M886 332.5h0M890.6 333.4h0M886.6 319.4h0M878.1 306.4h0M876.8 281.8h0M882.8 323.6h0M876.2 283.6h0M875.4 293.2h0M876 280.4h0M878.5 309.2h0M879.4 296.9h0M876 281.3h0M879.7 303.3h0M874.3 296.9h0M883 323.4h0M885.7 329.3h0M881.5 314.9h0M876.3 288h0M879.9 305.6h0M883.3 320.8h0M886.8 336.3h0M877.5 295.2h0M878.5 296.6h0M876.8 300.7h0M885.3 324.2h0M879.8 311.7h0M883.5 322h0M883.7 331.2h0M885.2 326.5h0M875.2 295h0M883.7 317.4h0M878.6 292.2h0M877.8 302.1h0M881.5 306.8h0" stroke="#2ca02c" stroke-width="3.2"/>
<path d="M891 341.3L895 341L912.5 338.2" stroke="#2ca02c" stroke-width="9.5"/>
<path d="M900.9 335h0M890.5 335.1h0M896.5 339.1h0M903.9 335.7h0M905.6 338.8h0M899 338.9h0M905 338.5h0M893.4 339.2h0M894.5 341.2h0M911.9 333.6h0M897.1 336.1h0M906.4 334.7h0M911.2 342.5h0M908 339.4h0M911.4 333.8h0M888.2 345h0M894.7 340.6h0M910.6 342.7h0M899.2 335.8h0M898.4 342h0M904.6 336.7h0M908.3 341.2h0M915.5 337.6h0M905.2 342.8h0M917 334.3h0M897.7 343h0M905.1 341.8h0M888.6 336.8h0M906.6 342.5h0M895.5 335.8h0M914 333.4h0M893.3 338.6h0M914.9 337.5h0M888.9 347.4h0M914.7 339.9h0M910.1 333.5h0M912.8 334.1h0M912.8 341.9h0M887.4 338.6h0M908.2 345.2h0M897.8 342h0M892.2 340.7h0M907.1 339.6h0M902.7 344.1h0M916.7 338.4h0M910.9 336.9h0M910.7 343.7h0M905 342.9h0M897 336h0M904.8 342.2h0M903.9 338.3h0M897.3 339.7h0M908.1 339.2h0M905.1 344.1h0M916.3 339.1h0M909.1 342.1h0M900.9 341.1h0M892.1 337.8h0M910.2 333.6h0M886.9 342h0M890.5 339.7h0M890.2 346.8h0M902.6 345.4h0M887.3 344.1h0M893.7 339.8h0M909.3 344.7h0M900 343.3h0M917 342.9h0M916 336.2h0M907.6 334.3h0M905.3 338.1h0M900.3 341.4h0M900.5 346.2h0M897.2 346h0M896.8 337.8h0M915.6 332.4h0M894.2 334.7h0M906.7 344.4h0M905.2 340h0M894.6 344.6h0M908.4 341.8h0M892.4 342.9h0M914.3 343.3h0M911.6 340.2h0M915.4 335.3h0M904.5 342.3h0M894.8 344.5h0M904.1 344.4h0M888.6 342.4h0M894.9 336.5h0M897 342.9h0M899.3 346.2h0M892.8 336.6h0M916.1 335.4h0M915.6 336.9h0M894.6 343.3h0M914.4 342.2h0M903.1 345.2h0M913 343.6h0M911.8 337.9h0M900.4 345.6h0M912.8 335.4h0M890.5 344.7h0M895.4 336.3h0M909.1 340.4h0M916.6 335.8h0M889 334.9h0M909.2 338.2h0M890.6 340.2h0M892.4 339.5h0M901.2 336.2h0M910.4 341.7h0M909.1 340.7h0M915.6 341.4h0M898.2 338.9h0M889.6 339.7h0M911.9 334.3h0M901.8 337.6h0M891.7 339.8h0M887 345.6h0M901.6 333.6h0M916.6 336.1h0M890.9 337.8h0M902.7 344.8h0M894.9 335.3h0M905.2 342.7h0M889.5 346h0M905 333.4h0M910.7 334.3h0M915.3 338.1h0M896.2 339.7h0M913.7 341.4h0M889.7 343.3h0M911 343.8h0M892.8 341.5h0M904.9 342h0M913.2 341.7h0M909.5 344.2h0M915.7 339.8h0M916.1 342.8h0M913.5 334.8h0M899.1 339.1h0M896.6 346.1h0M902.5 337h0M887.6 345.5h0M917 341.7h0M898.2 335.2h0M915.9 336.2h0M892.9 335h0M904.9 341h0M890.4 336.2h0M895.8 337.3h0M904.8 345.6h0M893 340.3h0M913.1 342.6h0M887.1 344h0M905.1 341.6h0M911.3 334.6h0M894.5 339.9h0M892.3 335h0M891 341h0M909.5 333.4h0M901.8 341.3h0M914.7 344.3h0M901.5 339.5h0M894.7 339.8h0M907.9 334.7h0M889 347h0M908.2 340.7h0M916.8 331.3h0M909.3 341.6h0M893.6 346.7h0M888.4 340.7h0M905.9 337.6h0M911.3 337.8h0M887.4 335.7h0M897.5 341.3h0M891.1 335.5h0M910.3 337h0M896.5 342.7h0M896.9 340.4h0M897.5 344.7h0M901.2 334.6h0M911.9 334.9h0M912.9 340h0M892.3 338.1h0M895.3 336h0M893.1 337.4h0M913.4 337.2h0M896.3 340h0M897.8 336.2h0M901.1 342.7h0M887.5 345.9h0M892.1 339.4h0M908.7 338.9h0M887.4 346.8h0M903.4 344.8h0M909.6 340.7h0M912.1 332.5h0M905.4 336h0M888.4 340.6h0M907.3 334.2h0M889.7 346.9h0M897.1 347h0M903.1 334.3h0M899.9 333.9h0M889.2 341.3h0M892 339.9h0M908.7 333.3h0M898.7 335h0M910.7 335.4h0M909.3 341.8h0M862.6 386.6h0M850.9 299.8h0M861.6 354.7h0M859.5 348.7h0M856.3 397h0M863.1 301.3h0M860.7 295.2h0M858.4 342.1h0M858.9 323.4h0M860.1 302.2h0M850.5 365h0M850.4 384.6h0M863.1 337h0M855.9 362h0M862.3 360.3h0M862.8 317.1h0M913.6 409h0M914.4 402h0M914.5 384.4h0M915.4 391.4h0M913.6 387.5h0M914.6 419.1h0M914.5 374.1h0M913.8 404.8h0M903.3 402.6h0M902.9 356.4h0M902.7 401.4h0M903.6 415.4h0M902.5 393.9h0M893.3 421.9h0M877.7 419.3h0M871.1 421.8h0M895.2 419.4h0M915.9 418.1h0M901.9 421.3h0M879.4 421.6h0M908.3 419.2h0M904.8 414.2h0M913.9 414.8h0M892.7 412.2h0M869.7 420.8h0M892.4 421h0M886.9 420.3h0M890.3 417.7h0M873.9 421.7h0M892.6 416.3h0M909.9 406.7h0M876.3 420.4h0M881 414.6h0M872.9 419.8h0M888.7 419.8h0M880.5 416.6h0M909.4 413.8h0M884.9 418.4h0M874.1 417.8h0M894 418.9h0M871.9 415h0M900.1 420.1h0M871.5 406h0M887.7 420.8h0M911.6 416.9h0M882.4 414.4h0M907.5 421.8h0M911.7 420.6h0" stroke="#2ca02c" stroke-width="3.2"/>
<path d="M1030 422.3L1040 422.3" stroke="#2ca02c" stroke-width="1.8"/>
</g>
<line x1="215.00" y1="423.0" x2="215.00" y2="430.60" stroke="#000" stroke-width="2"/>
<text x="215.00" y="453.50" text-anchor="middle" class="t">15</text>
<line x1="329.00" y1="423.0" x2="329.00" y2="430.60" stroke="#000" stroke-width="2"/>
<text x="328.71" y="453.50" text-anchor="middle" class="t">16</text>
<line x1="442.00" y1="423.0" x2="442.00" y2="430.60" stroke="#000" stroke-width="2"/>
<text x="442.43" y="453.50" text-anchor="middle" class="t">17</text>
<line x1="556.00" y1="423.0" x2="556.00" y2="430.60" stroke="#000" stroke-width="2"/>
<text x="556.14" y="453.50" text-anchor="middle" class="t">18</text>
<line x1="670.00" y1="423.0" x2="670.00" y2="430.60" stroke="#000" stroke-width="2"/>
<text x="669.86" y="453.50" text-anchor="middle" class="t">19</text>
<line x1="784.00" y1="423.0" x2="784.00" y2="430.60" stroke="#000" stroke-width="2"/>
<text x="783.57" y="453.50" text-anchor="middle" class="t">20</text>
<line x1="897.00" y1="423.0" x2="897.00" y2="430.60" stroke="#000" stroke-width="2"/>
<text x="897.28" y="453.50" text-anchor="middle" class="t">21</text>
<line x1="1011.00" y1="423.0" x2="1011.00" y2="430.60" stroke="#000" stroke-width="2"/>
<text x="1011.00" y="453.50" text-anchor="middle" class="t">22</text>
<line x1="142.40" y1="423.00" x2="150.0" y2="423.00" stroke="#000" stroke-width="2"/>
<text x="135.40" y="430.90" text-anchor="end" class="t">0</text>
<line x1="142.40" y1="360.00" x2="150.0" y2="360.00" stroke="#000" stroke-width="2"/>
<text x="135.40" y="367.90" text-anchor="end" class="t">20000</text>
<line x1="142.40" y1="297.00" x2="150.0" y2="297.00" stroke="#000" stroke-width="2"/>
<text x="135.40" y="304.90" text-anchor="end" class="t">40000</text>
<line x1="142.40" y1="234.00" x2="150.0" y2="234.00" stroke="#000" stroke-width="2"/>
<text x="135.40" y="241.90" text-anchor="end" class="t">60000</text>
<line x1="142.40" y1="171.00" x2="150.0" y2="171.00" stroke="#000" stroke-width="2"/>
<text x="135.40" y="178.90" text-anchor="end" class="t">80000</text>
<line x1="142.40" y1="108.00" x2="150.0" y2="108.00" stroke="#000" stroke-width="2"/>
<text x="135.40" y="115.90" text-anchor="end" class="t">100000</text>
<rect x="150.0" y="108.0" width="930.0" height="315.0" fill="none" stroke="#000" stroke-width="2"/>
<line x1="215.00" y1="486.0" x2="215.00" y2="801.0" stroke="#b0b0b0" stroke-width="2"/>
<line x1="329.00" y1="486.0" x2="329.00" y2="801.0" stroke="#b0b0b0" stroke-width="2"/>
<line x1="442.00" y1="486.0" x2="442.00" y2="801.0" stroke="#b0b0b0" stroke-width="2"/>
<line x1="556.00" y1="486.0" x2="556.00" y2="801.0" stroke="#b0b0b0" stroke-width="2"/>
<line x1="670.00" y1="486.0" x2="670.00" y2="801.0" stroke="#b0b0b0" stroke-width="2"/>
<line x1="784.00" y1="486.0" x2="784.00" y2="801.0" stroke="#b0b0b0" stroke-width="2"/>
<line x1="897.00" y1="486.0" x2="897.00" y2="801.0" stroke="#b0b0b0" stroke-width="2"/>
<line x1="1011.00" y1="486.0" x2="1011.00" y2="801.0" stroke="#b0b0b0" stroke-width="2"/>
<line x1="150.0" y1="801.00" x2="1080.0" y2="801.00" stroke="#b0b0b0" stroke-width="2"/>
<line x1="150.0" y1="714.00" x2="1080.0" y2="714.00" stroke="#b0b0b0" stroke-width="2"/>
<line x1="150.0" y1="626.00" x2="1080.0" y2="626.00" stroke="#b0b0b0" stroke-width="2"/>
<line x1="150.0" y1="539.00" x2="1080.0" y2="539.00" stroke="#b0b0b0" stroke-width="2"/>
<g clip-path="url(#cb)" fill="none" stroke-linecap="round" stroke-linejoin="round">
<path d="M193.5 518.2L575 518.2" stroke="#1f77b4" stroke-width="3.0"/>
<path d="M577.5 518.2L594 518.2" stroke="#1f77b4" stroke-width="3.0"/>
<path d="M596 518.2L623 518.2" stroke="#1f77b4" stroke-width="3.0"/>
<path d="M630.7 518.2L643.3 518.2" stroke="#1f77b4" stroke-width="3.0"/>
<path d="M655 518.2L655 518.2" stroke="#1f77b4" stroke-width="3.0"/>
<path d="M667.7 518.2L677.3 518.2" stroke="#1f77b4" stroke-width="3.0"/>
<path d="M685 518.2L685 518.2" stroke="#1f77b4" stroke-width="3.0"/>
<path d="M702.3 518.2L702.3 518.2" stroke="#1f77b4" stroke-width="3.0"/>
<path d="M711.7 518.2L716.7 518.2" stroke="#1f77b4" stroke-width="3.0"/>
<path d="M721.7 518.2L731.7 518.2" stroke="#1f77b4" stroke-width="3.0"/>
<path d="M736 518.2L736 518.2" stroke="#1f77b4" stroke-width="3.0"/>
<path d="M742.7 518.2L747.3 518.2" stroke="#1f77b4" stroke-width="3.0"/>
<path d="M758.3 518.2L768.3 518.2" stroke="#1f77b4" stroke-width="3.0"/>
<path d="M782.3 518.2L787.3 518.2" stroke="#1f77b4" stroke-width="3.0"/>
<path d="M796.7 518.2L801 518.2" stroke="#1f77b4" stroke-width="3.0"/>
<path d="M806 518.2L806 518.2" stroke="#1f77b4" stroke-width="3.0"/>
<path d="M821.7 518.2L828.3 518.2" stroke="#1f77b4" stroke-width="3.0"/>
<path d="M834 518.2L834 518.2" stroke="#1f77b4" stroke-width="3.0"/>
<path d="M839.3 518.2L853.3 518.2" stroke="#1f77b4" stroke-width="3.0"/>
<path d="M855 518.2L915.5 518.2" stroke="#1f77b4" stroke-width="3.0"/>
<path d="M1032 518.2L1035.5 518.2" stroke="#1f77b4" stroke-width="3.0"/>
<path d="M877 518.2L915.5 518.2" stroke="#1f77b4" stroke-width="3.8"/>
<path d="M249.7 519.8h0M306.7 519.8h0M363 519.8h0" stroke="#1f77b4" stroke-width="3.2"/>
<path d="M193.5 643.4L648.3 643.4" stroke="#1f77b4" stroke-width="3.2"/>
<path d="M653.3 643.4L663.3 643.4" stroke="#1f77b4" stroke-width="3.2"/>
<path d="M666 643.4L683.3 643.4" stroke="#1f77b4" stroke-width="3.2"/>
<path d="M685 643.4L691.7 643.4" stroke="#1f77b4" stroke-width="3.2"/>
<path d="M699.3 643.4L706.7 643.4" stroke="#1f77b4" stroke-width="3.2"/>
<path d="M712.3 643.4L715 643.4" stroke="#1f77b4" stroke-width="3.2"/>
<path d="M717.7 643.4L720 643.4" stroke="#1f77b4" stroke-width="3.2"/>
<path d="M722.3 643.4L731.7 643.4" stroke="#1f77b4" stroke-width="3.2"/>
<path d="M733.3 643.4L737.3 643.4" stroke="#1f77b4" stroke-width="3.2"/>
<path d="M742.3 643.4L751.7 643.4" stroke="#1f77b4" stroke-width="3.2"/>
<path d="M757.3 643.4L766.7 643.4" stroke="#1f77b4" stroke-width="3.2"/>
<path d="M768.3 643.4L774.3 643.4" stroke="#1f77b4" stroke-width="3.2"/>
<path d="M778.3 643.4L815 643.4" stroke="#1f77b4" stroke-width="3.2"/>
<path d="M820 643.4L828.3 643.4" stroke="#1f77b4" stroke-width="3.2"/>
<path d="M832.3 643.4L915.5 643.4" stroke="#1f77b4" stroke-width="3.2"/>
<path d="M1031 643.4L1039.5 643.4" stroke="#1f77b4" stroke-width="3.2"/>
<path d="M193.5 643.4L330 643.4" stroke="#1f77b4" stroke-width="5.0"/>
<path d="M870 643.4L915.5 643.4" stroke="#1f77b4" stroke-width="5.0"/>
<path d="M335 643.4L345 643.4" stroke="#1f77b4" stroke-width="4.6"/>
<path d="M352 643.4L372 643.4" stroke="#1f77b4" stroke-width="4.6"/>
<path d="M377 643.4L384 643.4" stroke="#1f77b4" stroke-width="4.6"/>
<path d="M400 643.4L410 643.4" stroke="#1f77b4" stroke-width="4.6"/>
<path d="M330 643.4L430 643.4" stroke="#1f77b4" stroke-width="3.9"/>
<path d="M193.5 768.4L461 768.4" stroke="#1f77b4" stroke-width="3.0"/>
<path d="M465 768.4L519.5 768.4" stroke="#1f77b4" stroke-width="3.0"/>
<path d="M528.5 768.4L656 768.4" stroke="#1f77b4" stroke-width="3.0"/>
<path d="M662 768.4L668 768.4" stroke="#1f77b4" stroke-width="3.0"/>
<path d="M671 768.4L677.3 768.4" stroke="#1f77b4" stroke-width="3.0"/>
<path d="M685 768.4L685 768.4" stroke="#1f77b4" stroke-width="3.0"/>
<path d="M702.3 768.4L702.3 768.4" stroke="#1f77b4" stroke-width="3.0"/>
<path d="M711.7 768.4L712.5 768.4" stroke="#1f77b4" stroke-width="3.0"/>
<path d="M721.7 768.4L731.7 768.4" stroke="#1f77b4" stroke-width="3.0"/>
<path d="M734.3 768.4L736.7 768.4" stroke="#1f77b4" stroke-width="3.0"/>
<path d="M740 768.4L742.3 768.4" stroke="#1f77b4" stroke-width="3.0"/>
<path d="M745 768.4L747.3 768.4" stroke="#1f77b4" stroke-width="3.0"/>
<path d="M758.3 768.4L768.3 768.4" stroke="#1f77b4" stroke-width="3.0"/>
<path d="M785 768.4L790 768.4" stroke="#1f77b4" stroke-width="3.0"/>
<path d="M796.7 768.4L800 768.4" stroke="#1f77b4" stroke-width="3.0"/>
<path d="M805 768.4L806.7 768.4" stroke="#1f77b4" stroke-width="3.0"/>
<path d="M821.7 768.4L828.3 768.4" stroke="#1f77b4" stroke-width="3.0"/>
<path d="M833.3 768.4L836.7 768.4" stroke="#1f77b4" stroke-width="3.0"/>
<path d="M840 768.4L846.7 768.4" stroke="#1f77b4" stroke-width="3.0"/>
<path d="M850 768.4L915.5 768.4" stroke="#1f77b4" stroke-width="3.0"/>
<path d="M1031.5 768.4L1035 768.4" stroke="#1f77b4" stroke-width="3.0"/>
<path d="M193.5 768.4L330 768.4" stroke="#1f77b4" stroke-width="4.6"/>
<path d="M868 768.4L915.5 768.4" stroke="#1f77b4" stroke-width="4.6"/>
<path d="M338 768.4L368 768.4" stroke="#1f77b4" stroke-width="4.4"/>
<path d="M378 768.4L384 768.4" stroke="#1f77b4" stroke-width="4.4"/>
<path d="M395 768.4L412 768.4" stroke="#1f77b4" stroke-width="4.4"/>
<path d="M417 768.4L424 768.4" stroke="#1f77b4" stroke-width="4.4"/>
<path d="M330 768.4L425 768.4" stroke="#1f77b4" stroke-width="3.6"/>
</g>
<line x1="215.00" y1="801.0" x2="215.00" y2="808.60" stroke="#000" stroke-width="2"/>
<text x="215.00" y="831.50" text-anchor="middle" class="t">15</text>
<line x1="329.00" y1="801.0" x2="329.00" y2="808.60" stroke="#000" stroke-width="2"/>
<text x="328.71" y="831.50" text-anchor="middle" class="t">16</text>
<line x1="442.00" y1="801.0" x2="442.00" y2="808.60" stroke="#000" stroke-width="2"/>
<text x="442.43" y="831.50" text-anchor="middle" class="t">17</text>
<line x1="556.00" y1="801.0" x2="556.00" y2="808.60" stroke="#000" stroke-width="2"/>
<text x="556.14" y="831.50" text-anchor="middle" class="t">18</text>
<line x1="670.00" y1="801.0" x2="670.00" y2="808.60" stroke="#000" stroke-width="2"/>
<text x="669.86" y="831.50" text-anchor="middle" class="t">19</text>
<line x1="784.00" y1="801.0" x2="784.00" y2="808.60" stroke="#000" stroke-width="2"/>
<text x="783.57" y="831.50" text-anchor="middle" class="t">20</text>
<line x1="897.00" y1="801.0" x2="897.00" y2="808.60" stroke="#000" stroke-width="2"/>
<text x="897.28" y="831.50" text-anchor="middle" class="t">21</text>
<line x1="1011.00" y1="801.0" x2="1011.00" y2="808.60" stroke="#000" stroke-width="2"/>
<text x="1011.00" y="831.50" text-anchor="middle" class="t">22</text>
<line x1="142.40" y1="801.00" x2="150.0" y2="801.00" stroke="#000" stroke-width="2"/>
<text x="135.40" y="808.90" text-anchor="end" class="t">0</text>
<line x1="142.40" y1="714.00" x2="150.0" y2="714.00" stroke="#000" stroke-width="2"/>
<text x="135.40" y="721.40" text-anchor="end" class="t">100</text>
<line x1="142.40" y1="626.00" x2="150.0" y2="626.00" stroke="#000" stroke-width="2"/>
<text x="135.40" y="633.90" text-anchor="end" class="t">200</text>
<line x1="142.40" y1="539.00" x2="150.0" y2="539.00" stroke="#000" stroke-width="2"/>
<text x="135.40" y="546.40" text-anchor="end" class="t">300</text>
<rect x="150.0" y="486.0" width="930.0" height="315.0" fill="none" stroke="#000" stroke-width="2"/>
<text x="614.8" y="95.6" text-anchor="middle" textLength="582.4" class="ti">SHIS ZPD and Scene Mirror Position 20000306</text>
<text x="615" y="859.5" text-anchor="middle" class="t">GMT Time (hours)</text>
<text transform="translate(42.5,266.5) rotate(-90)" text-anchor="middle" class="t">ZPD Magnitude</text>
<text transform="translate(81,643.5) rotate(-90)" text-anchor="middle" class="t">Angle (degrees)</text>
<circle cx="847.5" cy="135.4" r="1.65" fill="#1f77b4"/>
<text x="869" y="142.8" textLength="188.3" class="l" fill="#1f77b4">ZPDmagnitudeSW</text>
<circle cx="847.5" cy="160.3" r="1.65" fill="#ff7f0e"/>
<text x="869" y="167.0" textLength="191.8" class="l" fill="#ff7f0e">ZPDmagnitudeMW</text>
<circle cx="847.5" cy="184.3" r="1.65" fill="#2ca02c"/>
<text x="869" y="191.2" textLength="185.1" class="l" fill="#2ca02c">ZPDmagnitudeLW</text>
<circle cx="524.3" cy="770.8" r="1.65" fill="#1f77b4"/>
<text x="545" y="778.3" textLength="180.8" class="l" fill="#1f77b4">sceneMirrorAngle</text>
</svg>
</body></html>
